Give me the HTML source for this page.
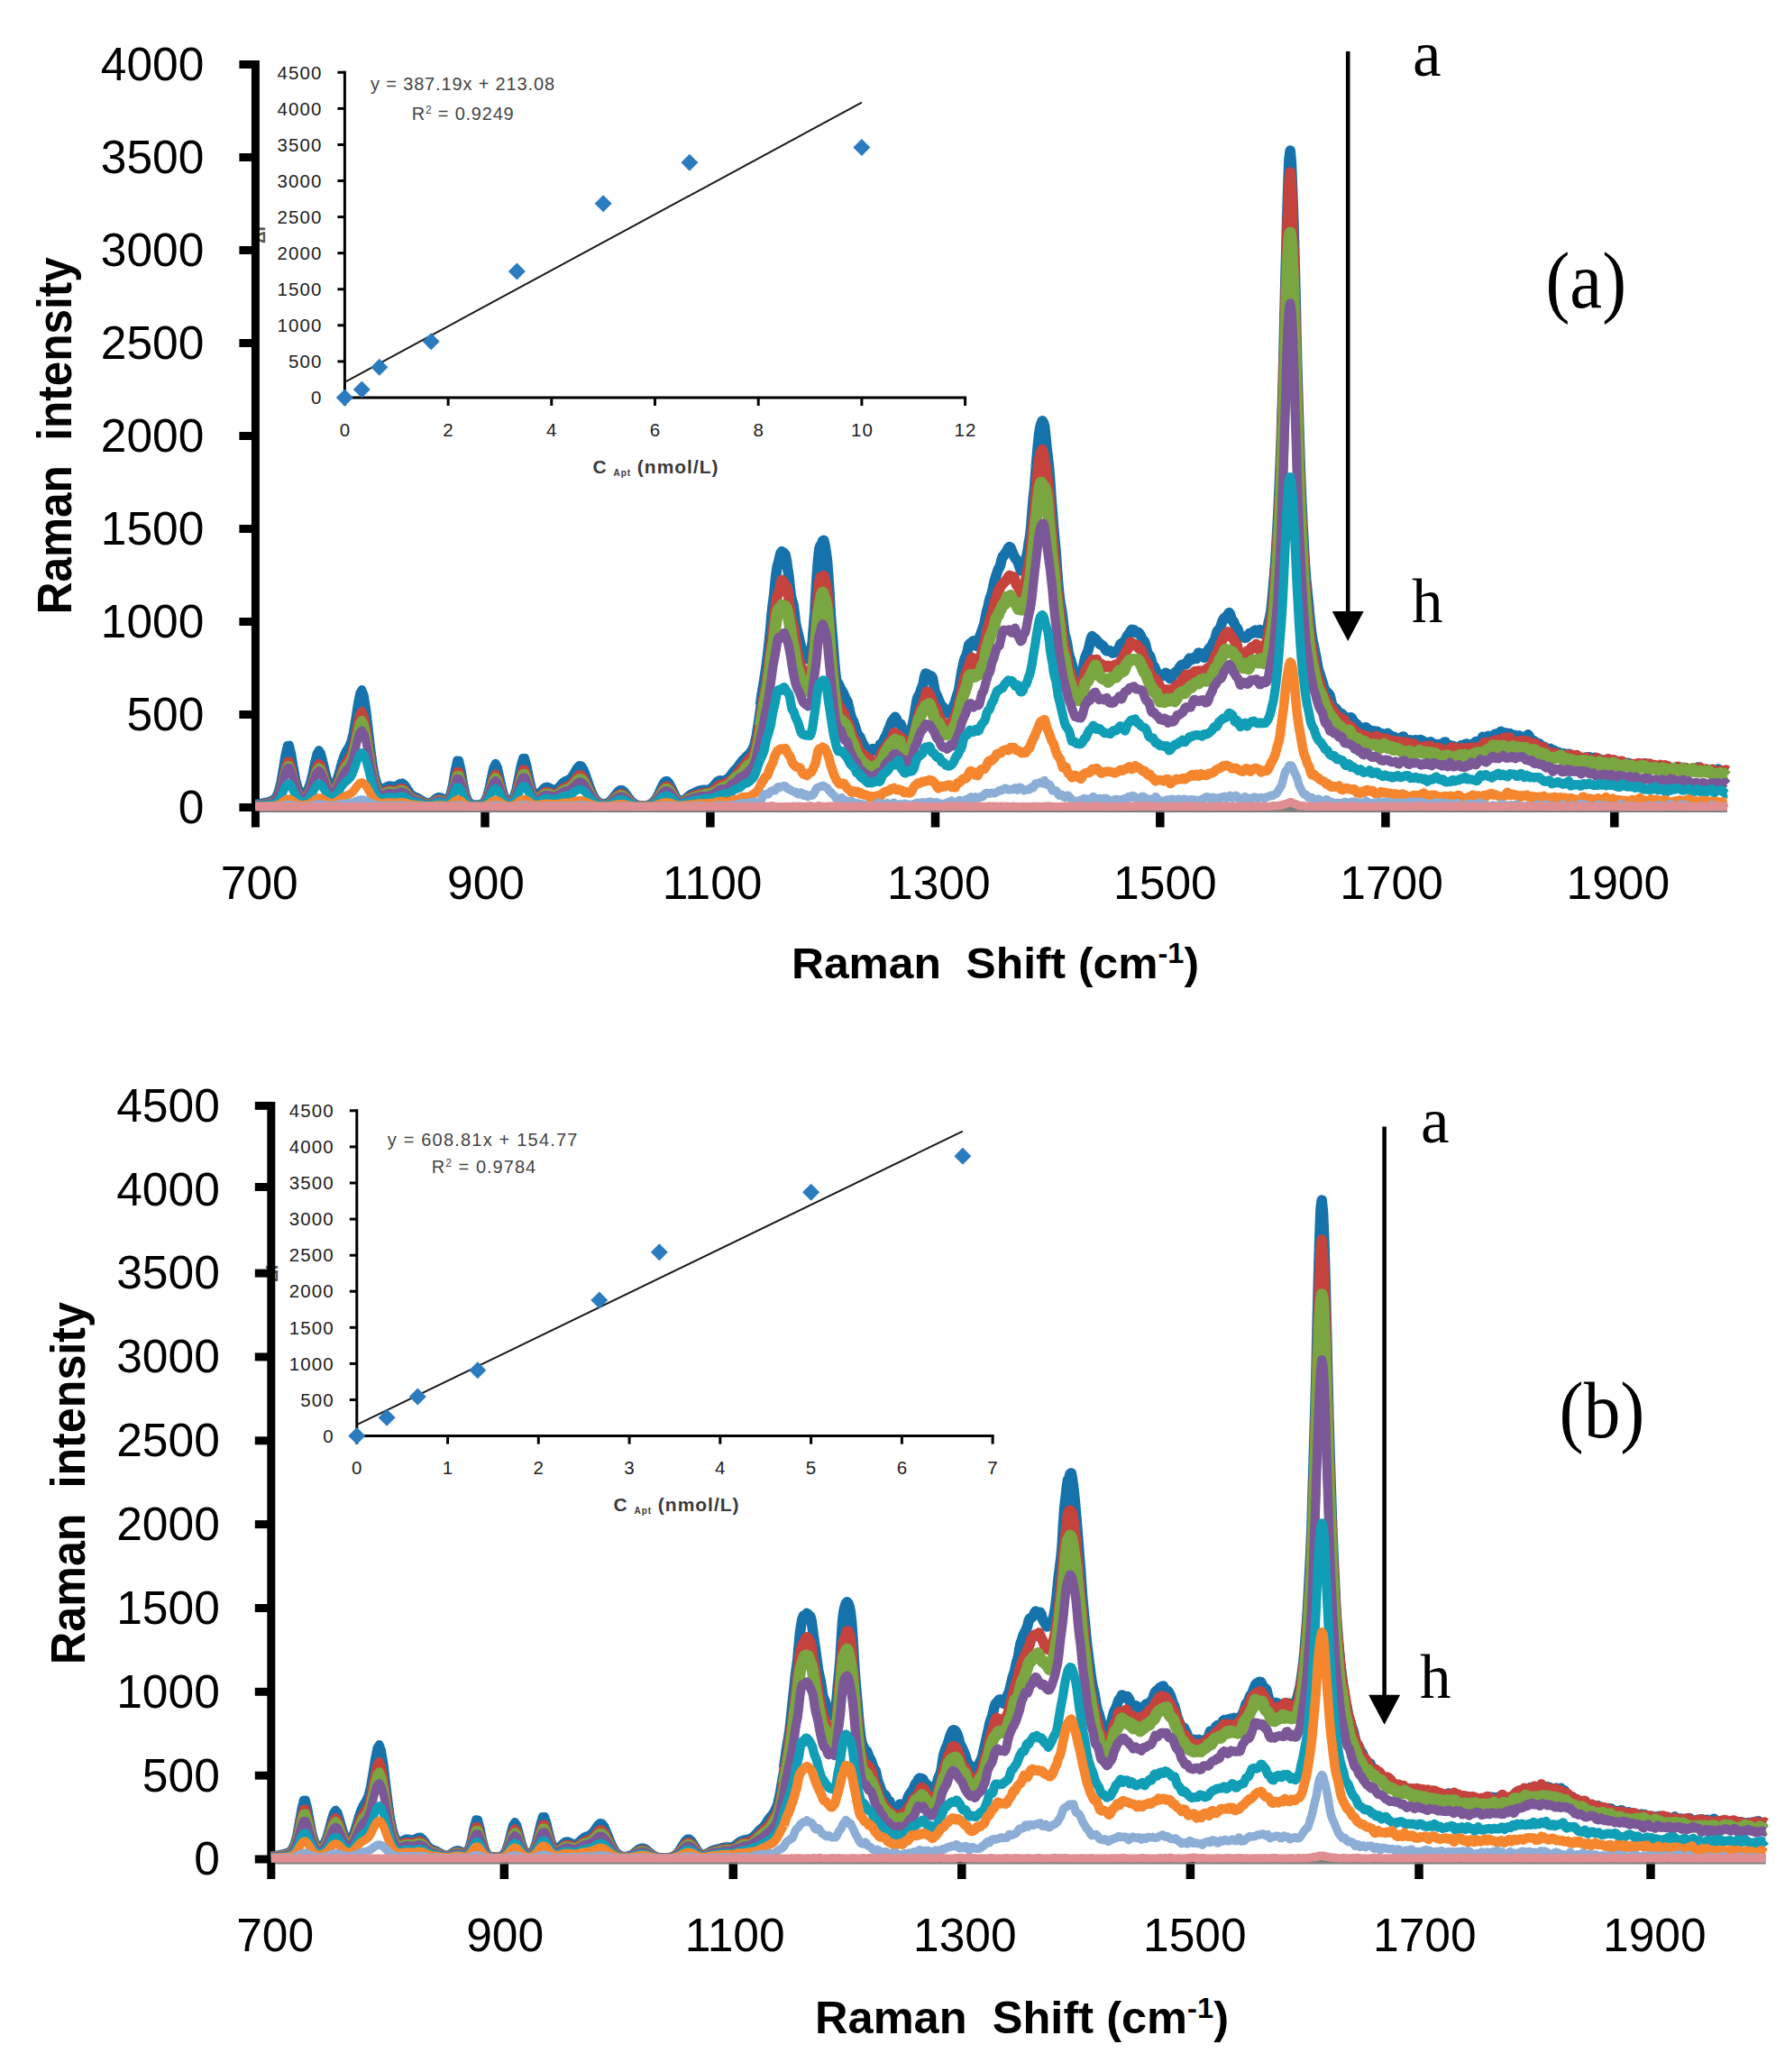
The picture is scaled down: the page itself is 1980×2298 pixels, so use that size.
<!DOCTYPE html><html><head><meta charset="utf-8"><title>Raman spectra</title><style>html,body{margin:0;padding:0;background:#fff}svg{display:block}.tk{font-family:"Liberation Sans",sans-serif;font-size:51.5px;fill:#000}.ax{font-family:"Liberation Sans",sans-serif;font-weight:bold;fill:#000}.it{font-family:"Liberation Sans",sans-serif;font-size:20.5px;fill:#222;letter-spacing:1.1px}.eq{font-family:"Liberation Sans",sans-serif;font-size:20px;fill:#444}.ix{font-family:"Liberation Sans",sans-serif;font-size:21px;font-weight:bold;fill:#3a3a3a}.ix2{font-family:"Liberation Sans",sans-serif}.sf{font-family:"Liberation Serif",serif;fill:#000}</style></head><body>
<svg width="1980" height="2298" viewBox="0 0 1980 2298">
<rect width="1980" height="2298" fill="#fff"/>
<g stroke="#000" stroke-width="3">
<line x1="382.4" y1="78.8" x2="382.4" y2="442.5"/>
<line x1="382.4" y1="441.0" x2="1072.1" y2="441.0"/>
<line x1="374.4" y1="441.0" x2="382.4" y2="441.0"/>
<line x1="374.4" y1="400.9" x2="382.4" y2="400.9"/>
<line x1="374.4" y1="360.8" x2="382.4" y2="360.8"/>
<line x1="374.4" y1="320.8" x2="382.4" y2="320.8"/>
<line x1="374.4" y1="280.7" x2="382.4" y2="280.7"/>
<line x1="374.4" y1="240.6" x2="382.4" y2="240.6"/>
<line x1="374.4" y1="200.5" x2="382.4" y2="200.5"/>
<line x1="374.4" y1="160.5" x2="382.4" y2="160.5"/>
<line x1="374.4" y1="120.4" x2="382.4" y2="120.4"/>
<line x1="374.4" y1="80.3" x2="382.4" y2="80.3"/>
<line x1="382.4" y1="441.0" x2="382.4" y2="450.0"/>
<line x1="497.1" y1="441.0" x2="497.1" y2="450.0"/>
<line x1="611.8" y1="441.0" x2="611.8" y2="450.0"/>
<line x1="726.5" y1="441.0" x2="726.5" y2="450.0"/>
<line x1="841.2" y1="441.0" x2="841.2" y2="450.0"/>
<line x1="955.9" y1="441.0" x2="955.9" y2="450.0"/>
<line x1="1070.6" y1="441.0" x2="1070.6" y2="450.0"/>
</g>
<text x="357.4" y="448.2" text-anchor="end" class="it">0</text>
<text x="357.4" y="408.1" text-anchor="end" class="it">500</text>
<text x="357.4" y="368.0" text-anchor="end" class="it">1000</text>
<text x="357.4" y="328.0" text-anchor="end" class="it">1500</text>
<text x="357.4" y="287.9" text-anchor="end" class="it">2000</text>
<text x="357.4" y="247.8" text-anchor="end" class="it">2500</text>
<text x="357.4" y="207.7" text-anchor="end" class="it">3000</text>
<text x="357.4" y="167.7" text-anchor="end" class="it">3500</text>
<text x="357.4" y="127.6" text-anchor="end" class="it">4000</text>
<text x="357.4" y="87.5" text-anchor="end" class="it">4500</text>
<text x="382.9" y="483.5" text-anchor="middle" class="it">0</text>
<text x="497.6" y="483.5" text-anchor="middle" class="it">2</text>
<text x="612.3" y="483.5" text-anchor="middle" class="it">4</text>
<text x="727.0" y="483.5" text-anchor="middle" class="it">6</text>
<text x="841.7" y="483.5" text-anchor="middle" class="it">8</text>
<text x="956.4" y="483.5" text-anchor="middle" class="it">10</text>
<text x="1071.1" y="483.5" text-anchor="middle" class="it">12</text>
<line x1="382.4" y1="423.9" x2="955.9" y2="113.6" stroke="#1a1a1a" stroke-width="2"/>
<path d="M382.4 431.5L391.9 441.0L382.4 450.5L372.9 441.0Z" fill="#2b7bbf"/>
<path d="M401.3 422.4L410.8 431.9L401.3 441.4L391.8 431.9Z" fill="#2b7bbf"/>
<path d="M420.8 397.8L430.3 407.3L420.8 416.8L411.3 407.3Z" fill="#2b7bbf"/>
<path d="M478.2 369.3L487.7 378.8L478.2 388.3L468.7 378.8Z" fill="#2b7bbf"/>
<path d="M573.4 291.4L582.9 300.9L573.4 310.4L563.9 300.9Z" fill="#2b7bbf"/>
<path d="M669.1 216.2L678.6 225.7L669.1 235.2L659.6 225.7Z" fill="#2b7bbf"/>
<path d="M764.9 170.8L774.4 180.3L764.9 189.8L755.4 180.3Z" fill="#2b7bbf"/>
<path d="M955.9 154.0L965.4 163.5L955.9 173.0L946.4 163.5Z" fill="#2b7bbf"/>
<text x="411.0" y="99.8" class="eq" textLength="204.0" lengthAdjust="spacing">y = 387.19x + 213.08</text>
<text x="456.8" y="133.0" class="eq" textLength="112.9" lengthAdjust="spacing">R<tspan dy="-7" font-size="12">2</tspan><tspan dy="7"> = 0.9249</tspan></text>
<text x="657.5" y="524.5" class="ix" textLength="139" lengthAdjust="spacing">C <tspan font-size="10" dy="3">Apt</tspan><tspan dy="-3"> (nmol/L)</tspan></text>
<text transform="translate(294.4 260.6) rotate(-90)" text-anchor="middle" font-size="19" font-weight="bold" fill="#555" class="ix2">ΔI</text>
<line x1="283.4" y1="896.0" x2="1915.9" y2="896.0" stroke="#7f7f7f" stroke-width="9"/>
<line x1="283.4" y1="67.0" x2="283.4" y2="917.5" stroke="#000" stroke-width="9"/>
<line x1="265.4" y1="895.5" x2="283.4" y2="895.5" stroke="#000" stroke-width="9"/>
<text x="226.4" y="912.8" text-anchor="end" class="tk">0</text>
<line x1="265.4" y1="792.5" x2="283.4" y2="792.5" stroke="#000" stroke-width="9"/>
<text x="226.4" y="809.8" text-anchor="end" class="tk">500</text>
<line x1="265.4" y1="689.5" x2="283.4" y2="689.5" stroke="#000" stroke-width="9"/>
<text x="226.4" y="706.8" text-anchor="end" class="tk">1000</text>
<line x1="265.4" y1="586.5" x2="283.4" y2="586.5" stroke="#000" stroke-width="9"/>
<text x="226.4" y="603.8" text-anchor="end" class="tk">1500</text>
<line x1="265.4" y1="483.5" x2="283.4" y2="483.5" stroke="#000" stroke-width="9"/>
<text x="226.4" y="500.8" text-anchor="end" class="tk">2000</text>
<line x1="265.4" y1="380.5" x2="283.4" y2="380.5" stroke="#000" stroke-width="9"/>
<text x="226.4" y="397.8" text-anchor="end" class="tk">2500</text>
<line x1="265.4" y1="277.5" x2="283.4" y2="277.5" stroke="#000" stroke-width="9"/>
<text x="226.4" y="294.8" text-anchor="end" class="tk">3000</text>
<line x1="265.4" y1="174.5" x2="283.4" y2="174.5" stroke="#000" stroke-width="9"/>
<text x="226.4" y="191.8" text-anchor="end" class="tk">3500</text>
<line x1="265.4" y1="71.5" x2="283.4" y2="71.5" stroke="#000" stroke-width="9"/>
<text x="226.4" y="88.8" text-anchor="end" class="tk">4000</text>
<text x="287.8" y="997.0" text-anchor="middle" class="tk">700</text>
<line x1="538.0" y1="895.5" x2="538.0" y2="917.5" stroke="#000" stroke-width="9.5"/>
<text x="539.0" y="997.0" text-anchor="middle" class="tk">900</text>
<line x1="787.9" y1="895.5" x2="787.9" y2="917.5" stroke="#000" stroke-width="9.5"/>
<text x="790.1" y="997.0" text-anchor="middle" class="tk">1100</text>
<line x1="1037.5" y1="895.5" x2="1037.5" y2="917.5" stroke="#000" stroke-width="9.5"/>
<text x="1041.3" y="997.0" text-anchor="middle" class="tk">1300</text>
<line x1="1286.8" y1="895.5" x2="1286.8" y2="917.5" stroke="#000" stroke-width="9.5"/>
<text x="1292.4" y="997.0" text-anchor="middle" class="tk">1500</text>
<line x1="1536.9" y1="895.5" x2="1536.9" y2="917.5" stroke="#000" stroke-width="9.5"/>
<text x="1543.6" y="997.0" text-anchor="middle" class="tk">1700</text>
<line x1="1790.8" y1="895.5" x2="1790.8" y2="917.5" stroke="#000" stroke-width="9.5"/>
<text x="1794.8" y="997.0" text-anchor="middle" class="tk">1900</text>
<g fill="none" stroke-linejoin="round" stroke-linecap="butt"><polyline points="283.4,891.2 285.9,890.9 288.4,890.6 290.9,890.2 293.4,889.7 296.0,889.2 298.5,888.5 301.0,887.6 303.5,886.1 306.0,883.3 308.5,877.7 311.0,867.6 313.5,853.1 316.1,837.4 318.6,826.7 321.1,826.3 323.6,836.2 326.1,851.2 328.6,864.9 331.1,874.0 333.6,878.6 336.1,879.9 338.7,878.8 341.2,875.2 343.7,868.3 346.2,858.0 348.7,846.0 351.2,835.9 353.7,831.8 356.2,835.3 358.7,844.7 361.3,855.9 363.8,865.3 366.3,870.7 368.8,871.8 371.3,869.0 373.8,862.8 376.3,854.2 378.8,845.1 381.4,837.5 383.9,832.4 386.4,828.6 388.9,823.0 391.4,812.9 393.9,798.1 396.4,781.7 398.9,768.9 401.4,764.6 404.0,771.0 406.5,786.8 409.0,808.0 411.5,829.7 414.0,848.1 416.5,861.6 419.0,869.9 421.5,873.8 424.0,874.6 426.6,873.4 429.1,871.8 431.6,870.9 434.1,871.1 436.6,871.6 439.1,871.3 441.6,869.9 444.1,868.4 446.7,868.2 449.2,870.2 451.7,873.9 454.2,877.8 456.7,880.9 459.2,882.6 461.7,883.6 464.2,884.7 466.7,886.2 469.3,887.9 471.8,889.3 474.3,889.9 476.8,889.6 479.3,888.3 481.8,886.3 484.3,884.4 486.8,883.5 489.4,884.1 491.9,885.6 494.4,886.7 496.9,885.6 499.4,880.1 501.9,868.9 504.4,854.2 506.9,843.2 509.4,843.4 512.0,854.6 514.5,869.6 517.0,881.4 519.5,887.8 522.0,890.6 524.5,891.6 527.0,892.0 529.5,892.0 532.0,891.8 534.6,890.9 537.1,888.6 539.6,883.5 542.1,874.5 544.6,862.3 547.1,851.1 549.6,846.4 552.1,850.9 554.7,861.9 557.2,873.8 559.7,882.5 562.2,887.1 564.7,888.4 567.2,887.3 569.7,883.2 572.2,875.0 574.7,862.8 577.3,849.5 579.8,840.6 582.3,840.5 584.8,849.1 587.3,861.8 589.8,873.1 592.3,879.8 594.8,881.7 597.3,880.4 599.9,877.5 602.4,874.5 604.9,872.6 607.4,872.2 609.9,873.3 612.4,874.8 614.9,875.5 617.4,874.6 620.0,872.2 622.5,869.2 625.0,866.8 627.5,865.5 630.0,864.6 632.5,862.9 635.0,859.7 637.5,855.3 640.0,851.1 642.6,848.6 645.1,849.1 647.6,852.8 650.1,858.9 652.6,866.3 655.1,873.6 657.6,879.8 660.1,884.5 662.7,887.7 665.2,889.7 667.7,890.6 670.2,890.8 672.7,890.3 675.2,889.0 677.7,886.8 680.2,883.7 682.7,880.3 685.3,877.4 687.8,875.6 690.3,875.7 692.8,877.6 695.3,880.7 697.8,884.2 700.3,887.4 702.8,889.9 705.3,891.4 707.9,892.3 710.4,892.7 712.9,892.9 715.4,892.8 717.9,892.4 720.4,891.6 722.9,890.1 725.4,887.6 728.0,883.8 730.5,878.8 733.0,873.3 735.5,868.5 738.0,865.7 740.5,865.7 743.0,868.6 745.5,873.4 748.0,878.9 750.6,883.9 753.1,887.1 755.6,887.9" stroke="#1572ab" stroke-width="9.4"/>
<polyline points="755.6,887.9 758.1,887.0 760.6,885.1 763.1,882.9 765.6,881.0 768.1,879.7 770.7,878.5 773.2,877.3 775.7,876.3 778.2,875.7 780.7,875.5 783.2,875.4 785.7,875.5 788.2,874.3 790.7,871.9 793.3,869.0 795.8,866.1 798.3,864.9 800.8,865.4 803.3,865.1 805.8,863.8 808.3,862.0 810.8,858.8 813.3,855.1 815.9,852.7 818.4,849.8 820.9,846.0 823.4,842.9 825.9,840.5 828.4,837.7 830.9,835.6 833.4,832.3 836.0,826.6 838.5,815.5 841.0,799.5 843.5,781.8" stroke="#1572ab" stroke-width="9.9"/>
<polyline points="843.5,781.8 844.7,772.5 846.0,764.4 847.3,757.0 848.5,749.2 849.8,740.6 851.0,730.9 852.3,720.2 853.5,708.9 854.8,695.8 856.0,681.3 857.3,669.6 858.6,660.0 859.8,647.4 861.1,635.3 862.3,627.8 863.6,623.5 864.8,618.4 866.1,613.2 867.3,611.8 868.6,612.6 869.9,613.6 871.1,615.2 872.4,621.4 873.6,630.2 874.9,638.5 876.1,650.0 877.4,661.1 878.6,665.8 879.9,670.1 881.2,679.5 882.4,690.2 883.7,696.8 884.9,701.2 886.2,707.3 887.4,713.0 888.7,717.1 890.0,720.3 891.2,722.7 892.5,725.5 893.7,729.0 895.0,730.6 896.2,729.9 897.5,728.5 898.7,727.4 900.0,723.0 901.3,710.5 902.5,694.8 903.8,678.9 905.0,657.6 906.3,636.5 907.5,620.5 908.8,608.8 910.0,605.1 911.3,603.9 912.6,599.8 913.8,599.3 915.1,605.0 916.3,612.3 917.6,622.7 918.8,638.5 920.1,658.1 921.3,679.9 922.6,697.2 923.9,711.6 925.1,728.2 926.4,743.9 927.6,753.9 928.9,756.9 930.1,758.5 931.4,761.3 932.6,763.8 933.9,766.1 935.2,768.4 936.4,771.1 937.7,774.1 938.9,776.2 940.2,778.6 941.4,783.5 942.7,789.4 944.0,794.8 945.2,797.9 946.5,799.7 947.7,803.3 949.0,807.7 950.2,811.5 951.5,814.6 952.7,815.9 954.0,817.6 955.3,820.9 956.5,823.8 957.8,825.7 959.0,828.3 960.3,831.0 961.5,832.2 962.8,832.2 964.0,832.2 965.3,832.6 966.6,831.4 967.8,830.5 969.1,831.9 970.3,832.5 971.6,831.5 972.8,831.4 974.1,831.3 975.3,828.4 976.6,825.3 977.9,824.7 979.1,823.7 980.4,821.0 981.6,817.9 982.9,816.2 984.1,813.2 985.4,809.4 986.6,807.1 987.9,803.3 989.2,800.0 990.4,799.0 991.7,796.9 992.9,795.2 994.2,796.9 995.4,799.9 996.7,802.1 998.0,802.6 999.2,803.3 1000.5,807.3 1001.7,812.4 1003.0,815.1 1004.2,814.9 1005.5,813.9 1006.7,813.3 1008.0,812.4 1009.3,811.6 1010.5,810.1 1011.8,806.0 1013.0,800.4 1014.3,793.9 1015.5,785.9 1016.8,778.0 1018.0,773.3 1019.3,771.3 1020.6,768.6 1021.8,764.4 1023.1,761.7 1024.3,757.1 1025.6,750.3 1026.8,746.9 1028.1,747.5 1029.3,748.7 1030.6,748.9 1031.9,749.6 1033.1,749.9 1034.4,752.0 1035.6,758.4 1036.9,765.5 1038.1,769.7 1039.4,771.6 1040.6,774.5 1041.9,778.0 1043.2,780.8 1044.4,783.2 1045.7,783.9 1046.9,784.9 1048.2,787.8 1049.4,790.4 1050.7,791.0 1051.9,790.9 1053.2,790.6 1054.5,789.8 1055.7,789.1 1057.0,786.2 1058.2,781.5 1059.5,778.4 1060.7,774.5 1062.0,770.0 1063.3,766.5 1064.5,759.9 1065.8,751.0 1067.0,743.9 1068.3,737.9 1069.5,732.1 1070.8,728.9 1072.0,726.7 1073.3,721.7 1074.6,715.5 1075.8,713.9 1077.1,714.4 1078.3,712.0 1079.6,710.7 1080.8,712.0 1082.1,714.5 1083.3,716.5 1084.6,714.1 1085.9,708.9 1087.1,705.3 1088.4,701.9 1089.6,698.3 1090.9,694.8 1092.1,690.6 1093.4,683.7 1094.6,677.5 1095.9,673.6 1097.2,667.3 1098.4,662.6 1099.7,659.9 1100.9,654.8 1102.2,648.7 1103.4,643.4 1104.7,639.4 1105.9,635.6 1107.2,631.7 1108.5,629.5 1109.7,626.6 1111.0,620.7 1112.2,617.1 1113.5,616.5 1114.7,614.1 1116.0,612.2 1117.3,610.2 1118.5,607.6 1119.8,606.6 1121.0,607.4 1122.3,610.6 1123.5,613.4 1124.8,616.5 1126.0,619.0 1127.3,620.1 1128.6,622.4 1129.8,625.3 1131.1,629.3 1132.3,632.7 1133.6,632.4 1134.8,629.2 1136.1,625.8 1137.3,622.6 1138.6,618.1 1139.9,611.3 1141.1,602.8 1142.4,595.6 1143.6,585.4 1144.9,568.4 1146.1,553.4 1147.4,542.1 1148.6,526.8 1149.9,509.7 1151.2,495.1 1152.4,482.3 1153.7,474.3 1154.9,469.9 1156.2,466.8 1157.4,468.6 1158.7,473.0 1159.9,484.0 1161.2,498.0 1162.5,508.5 1163.7,519.2 1165.0,536.1 1166.2,553.8 1167.5,569.3 1168.7,585.2 1170.0,599.0 1171.3,613.1 1172.5,631.3 1173.8,647.9 1175.0,660.2 1176.3,669.6 1177.5,676.1 1178.8,684.9 1180.0,696.3 1181.3,704.9 1182.6,708.8 1183.8,714.7 1185.1,723.1 1186.3,728.1 1187.6,731.7 1188.8,736.1 1190.1,741.0 1191.3,745.4 1192.6,748.3 1193.9,748.3 1195.1,746.3 1196.4,747.2 1197.6,750.0 1198.9,750.8 1200.1,747.9 1201.4,741.3 1202.6,734.2 1203.9,728.8 1205.2,725.6 1206.4,723.1 1207.7,718.9 1208.9,713.7 1210.2,708.3 1211.4,705.5 1212.7,707.0 1213.9,708.3 1215.2,708.5 1216.5,710.0 1217.7,711.6 1219.0,713.1 1220.2,714.6 1221.5,714.9 1222.7,715.7 1224.0,716.9 1225.2,718.7 1226.5,720.9 1227.8,721.9 1229.0,722.1 1230.3,722.1 1231.5,721.8 1232.8,722.9 1234.0,724.2 1235.3,723.9 1236.6,723.7 1237.8,722.5 1239.1,721.6 1240.3,721.0 1241.6,717.5 1242.8,714.4 1244.1,713.6 1245.3,712.8 1246.6,711.9 1247.9,710.4 1249.1,708.0 1250.4,705.4 1251.6,703.7 1252.9,702.4 1254.1,699.9 1255.4,698.2 1256.6,698.6 1257.9,698.7 1259.2,699.7 1260.4,701.6 1261.7,701.3 1262.9,701.4 1264.2,702.9 1265.4,705.2 1266.7,708.1 1267.9,709.7 1269.2,711.0 1270.5,714.2 1271.7,719.7 1273.0,724.7 1274.2,726.2 1275.5,727.4 1276.7,730.8 1278.0,735.7 1279.2,739.0 1280.5,739.4 1281.8,742.8 1283.0,746.6 1284.3,747.1 1285.5,749.0 1286.8,750.8 1288.0,749.4 1289.3,748.2 1290.6,749.1 1291.8,748.6 1293.1,746.3 1294.3,746.9 1295.6,749.5 1296.8,751.7 1298.1,752.8 1299.3,751.6 1300.6,749.1 1301.9,747.6 1303.1,746.2 1304.4,745.1 1305.6,745.2 1306.9,743.5 1308.1,740.8 1309.4,738.9 1310.6,737.5 1311.9,737.3 1313.2,736.9 1314.4,736.0 1315.7,736.6 1316.9,735.6 1318.2,732.1 1319.4,730.1 1320.7,730.6 1321.9,731.6 1323.2,730.5 1324.5,729.3 1325.7,730.2 1327.0,730.5 1328.2,727.3 1329.5,724.0 1330.7,724.4 1332.0,725.8 1333.2,725.2 1334.5,726.4 1335.8,729.3 1337.0,727.6 1338.3,724.5 1339.5,722.4 1340.8,719.8 1342.0,718.4 1343.3,717.6 1344.6,715.0 1345.8,712.3 1347.1,710.6 1348.3,707.3 1349.6,702.2 1350.8,699.1 1352.1,698.8 1353.3,697.3 1354.6,693.0 1355.9,689.3 1357.1,686.7 1358.4,685.0 1359.6,685.0 1360.9,684.1 1362.1,681.6 1363.4,679.5 1364.6,681.2 1365.9,686.3 1367.2,688.6 1368.4,689.4 1369.7,692.9 1370.9,695.8 1372.2,696.4 1373.4,699.0 1374.7,703.6 1375.9,706.3 1377.2,706.6 1378.5,706.1 1379.7,706.0 1381.0,707.4 1382.2,707.3 1383.5,705.6 1384.7,704.4 1386.0,702.5 1387.2,702.1 1388.5,702.7 1389.8,701.6 1391.0,699.7 1392.3,699.1 1393.5,701.2 1394.8,702.1 1396.0,700.0 1397.3,698.4 1398.6,699.8 1399.8,702.8 1401.1,702.9 1402.3,701.6 1403.6,702.5 1404.8,701.8 1406.1,696.4 1407.3,689.8 1408.6,684.4 1409.9,677.5 1411.1,665.7 1412.4,651.0 1413.6,637.0 1414.9,620.5 1416.1,599.7 1417.4,577.1 1418.6,551.5 1419.9,521.7 1421.2,487.9 1422.4,448.7 1423.7,401.5 1424.9,348.3 1426.2,297.6 1427.4,251.0 1428.7,208.2 1429.9,176.8 1431.2,167.1 1432.5,182.7 1433.7,212.8 1435.0,248.3 1436.2,291.8 1437.5,346.4 1438.7,400.8 1440.0,444.8 1441.2,484.9 1442.5,524.8 1443.8,557.0 1445.0,581.6 1446.3,604.6 1447.5,626.0 1448.8,643.0 1450.0,655.1 1451.3,667.5 1452.5,681.0 1453.8,693.9 1455.1,704.9 1456.3,711.4 1457.6,717.5 1458.8,723.6 1460.1,729.5 1461.3,737.3 1462.6,743.5 1463.9,746.9 1465.1,750.9 1466.4,755.2 1467.6,758.7 1468.9,763.3 1470.1,766.6 1471.4,766.8 1472.6,768.0 1473.9,769.5 1475.2,771.4 1476.4,776.8 1477.7,781.8 1478.9,783.8 1480.2,784.9 1481.4,785.4 1482.7,787.0 1483.9,789.2 1485.2,790.0 1486.5,791.0 1487.7,791.3 1489.0,792.0 1490.2,793.5 1491.5,794.8 1492.7,796.3 1494.0,798.4 1495.2,799.8 1496.5,798.2 1497.8,795.8 1499.0,795.8 1500.3,797.8 1501.5,800.7 1502.8,802.3 1504.0,802.3 1505.3,803.6 1506.5,805.4 1507.8,806.2 1509.1,806.8 1510.3,807.6 1511.6,808.7 1512.8,809.8 1514.1,808.5 1515.3,806.7 1516.6,808.5 1517.9,810.1 1519.1,809.6 1520.4,810.4 1521.6,812.3 1522.9,811.9 1524.1,810.8 1525.4,811.3 1526.6,811.3 1527.9,811.3 1529.2,812.9 1530.4,814.0 1531.7,813.4 1532.9,813.7 1534.2,816.1 1535.4,816.8 1536.7,815.4 1537.9,814.2 1539.2,813.4 1540.5,814.5 1541.7,816.4 1543.0,816.3 1544.2,816.7 1545.5,817.3 1546.7,817.2 1548.0,819.2 1549.2,820.6 1550.5,820.2 1551.8,820.3 1553.0,819.6 1554.3,818.2 1555.5,817.2 1556.8,817.0 1558.0,819.4 1559.3,821.8 1560.5,822.0 1561.8,822.1 1563.1,821.8 1564.3,820.9 1565.6,822.2 1566.8,823.1 1568.1,821.4 1569.3,820.7 1570.6,821.0 1571.9,820.9 1573.1,821.0 1574.4,820.9 1575.6,820.5 1576.9,820.9 1578.1,821.6 1579.4,822.9 1580.6,824.5 1581.9,824.3 1583.2,823.6 1584.4,824.2 1585.7,824.2 1586.9,822.7 1588.2,823.7 1589.4,826.5 1590.7,827.2 1591.9,825.9 1593.2,825.4 1594.5,825.7 1595.7,825.7 1597.0,825.6 1598.2,825.5 1599.5,826.1 1600.7,825.6 1602.0,823.2 1603.2,823.0 1604.5,826.0 1605.8,827.8 1607.0,827.0 1608.3,826.6 1609.5,827.6 1610.8,827.7 1612.0,827.4 1613.3,828.3 1614.5,828.5 1615.8,828.9 1617.1,830.1 1618.3,829.7 1619.6,827.8 1620.8,826.7 1622.1,827.6 1623.3,828.7 1624.6,827.3 1625.9,825.2 1627.1,825.0 1628.4,826.2 1629.6,826.4 1630.9,825.7 1632.1,826.4 1633.4,827.4 1634.6,825.8 1635.9,823.4 1637.2,822.5 1638.4,822.5 1639.7,822.5 1640.9,822.0 1642.2,822.1 1643.4,820.2 1644.7,817.2 1645.9,817.7 1647.2,819.3 1648.5,818.8 1649.7,817.0 1651.0,816.3 1652.2,818.1 1653.5,819.5 1654.7,818.0 1656.0,816.5 1657.2,815.2 1658.5,814.0 1659.8,814.0 1661.0,814.8 1662.3,815.4 1663.5,813.3 1664.8,811.3 1666.0,812.3 1667.3,813.6 1668.5,813.0 1669.8,812.7 1671.1,814.4 1672.3,814.8 1673.6,813.5 1674.8,813.6 1676.1,814.6 1677.3,814.9 1678.6,815.1 1679.8,815.4 1681.1,816.3 1682.4,817.2 1683.6,816.2 1684.9,815.9 1686.1,817.4 1687.4,817.4 1688.6,817.2 1689.9,818.3 1691.2,818.9 1692.4,818.8 1693.7,816.7 1694.9,814.8 1696.2,816.4 1697.4,819.2 1698.7,820.5 1699.9,821.3 1701.2,821.6 1702.5,822.4 1703.7,824.2 1705.0,824.5 1706.2,824.3 1707.5,824.7 1708.7,826.5 1710.0,828.3 1711.2,828.1 1712.5,828.0 1713.8,828.8 1715.0,829.8 1716.3,832.0 1717.5,833.1 1718.8,831.2 1720.0,830.4 1721.3,831.6 1722.5,831.9 1723.8,832.1 1725.1,833.8 1726.3,835.0 1727.6,834.2 1728.8,834.2 1730.1,835.2 1731.3,835.2 1732.6,836.4 1733.8,837.0 1735.1,835.7 1736.4,836.9 1737.6,838.8 1738.9,838.1 1740.1,836.3 1741.4,836.5 1742.6,838.0 1743.9,838.1 1745.2,838.3 1746.4,839.4 1747.7,839.5 1748.9,839.9 1750.2,840.9 1751.4,841.1 1752.7,840.7 1753.9,841.0 1755.2,841.8 1756.5,841.3 1757.7,840.3 1759.0,840.3 1760.2,840.1 1761.5,839.9 1762.7,839.7 1764.0,840.0 1765.2,841.8 1766.5,842.5 1767.8,841.8 1769.0,840.3 1770.3,841.5 1771.5,845.2 1772.8,845.4 1774.0,843.2 1775.3,842.3 1776.5,842.9 1777.8,843.7 1779.1,843.6 1780.3,843.6 1781.6,843.9 1782.8,845.0 1784.1,846.6 1785.3,846.3 1786.6,845.6 1787.8,845.1 1789.1,845.8 1790.4,846.6 1791.6,846.5 1792.9,847.3 1794.1,848.5 1795.4,848.5 1796.6,847.1 1797.9,845.6 1799.2,845.5 1800.4,846.0 1801.7,846.0 1802.9,846.7 1804.2,847.1 1805.4,846.3 1806.7,846.4 1807.9,847.7 1809.2,848.4 1810.5,848.3 1811.7,848.6 1813.0,848.7 1814.2,848.0 1815.5,848.2 1816.7,848.9 1818.0,849.3 1819.2,848.8 1820.5,848.7 1821.8,848.4 1823.0,847.2 1824.3,847.0 1825.5,847.0 1826.8,848.1 1828.0,850.2 1829.3,850.5 1830.5,849.8 1831.8,849.9 1833.1,850.4 1834.3,851.7 1835.6,852.7 1836.8,853.0 1838.1,853.1 1839.3,852.1 1840.6,852.0 1841.8,852.4 1843.1,851.7 1844.4,851.9 1845.6,853.7 1846.9,854.7 1848.1,854.8 1849.4,855.0 1850.6,853.1 1851.9,851.3 1853.2,852.0 1854.4,852.8 1855.7,853.2 1856.9,852.9 1858.2,852.7 1859.4,852.5 1860.7,851.2 1861.9,850.5 1863.2,851.6 1864.5,853.2 1865.7,853.7 1867.0,853.2 1868.2,852.7 1869.5,852.6 1870.7,852.1 1872.0,852.7 1873.2,854.9 1874.5,854.6 1875.8,853.2 1877.0,854.2 1878.3,855.1 1879.5,855.5 1880.8,855.7 1882.0,853.5 1883.3,851.1 1884.5,852.5 1885.8,855.5 1887.1,856.3 1888.3,855.0 1889.6,854.3 1890.8,855.5 1892.1,855.6 1893.3,853.9 1894.6,853.9 1895.8,855.7 1897.1,857.4 1898.4,857.9 1899.6,858.1 1900.9,857.7 1902.1,856.2 1903.4,855.6 1904.6,854.5 1905.9,852.9 1907.1,854.2 1908.4,856.0 1909.7,855.0 1910.9,854.7 1912.2,856.7 1913.4,857.6 1914.7,857.6 1915.9,858.0" stroke="#1572ab" stroke-width="11.5"/>
<polyline points="283.4,892.1 285.9,891.9 288.4,891.6 290.9,891.3 293.4,891.0 296.0,890.6 298.5,890.1 301.0,889.4 303.5,888.3 306.0,886.3 308.5,882.1 311.0,874.7 313.5,863.9 316.1,852.2 318.6,844.4 321.1,844.1 323.6,851.4 326.1,862.4 328.6,872.5 331.1,879.3 333.6,882.7 336.1,883.6 338.7,882.7 341.2,880.0 343.7,874.7 346.2,866.9 348.7,857.6 351.2,849.7 353.7,846.4 356.2,848.8 358.7,855.9 361.3,864.5 363.8,871.7 366.3,875.8 368.8,876.6 371.3,874.3 373.8,869.3 376.3,862.4 378.8,854.9 381.4,848.7 383.9,844.5 386.4,841.2 388.9,836.6 391.4,828.3 393.9,816.1 396.4,802.7 398.9,792.2 401.4,788.7 404.0,793.9 406.5,806.8 409.0,824.1 411.5,841.8 414.0,856.8 416.5,867.8 419.0,874.5 421.5,877.8 424.0,878.4 426.6,877.5 429.1,876.2 431.6,875.5 434.1,875.7 436.6,876.1 439.1,875.9 441.6,874.9 444.1,873.8 446.7,873.7 449.2,875.3 451.7,878.2 454.2,881.4 456.7,883.8 459.2,885.2 461.7,886.0 464.2,886.9 466.7,888.1 469.3,889.4 471.8,890.5 474.3,891.0 476.8,890.7 479.3,889.8 481.8,888.3 484.3,886.8 486.8,886.1 489.4,886.6 491.9,887.7 494.4,888.6 496.9,887.8 499.4,883.6 501.9,875.1 504.4,863.9 506.9,855.6 509.4,855.7 512.0,864.2 514.5,875.6 517.0,884.6 519.5,889.5 522.0,891.5 524.5,892.3 527.0,892.6 529.5,892.6 532.0,892.4 534.6,891.8 537.1,890.0 539.6,886.2 542.1,879.3 544.6,870.0 547.1,861.5 549.6,857.9 552.1,861.3 554.7,869.7 557.2,878.7 559.7,885.4 562.2,888.9 564.7,889.9 567.2,889.0 569.7,885.9 572.2,879.6 574.7,870.3 577.3,860.1 579.8,853.2 582.3,853.1 584.8,859.7 587.3,869.5 589.8,878.1 592.3,883.2 594.8,884.7 597.3,883.7 599.9,881.4 602.4,879.1 604.9,877.6 607.4,877.4 609.9,878.2 612.4,879.3 614.9,879.9 617.4,879.2 620.0,877.3 622.5,875.0 625.0,873.1 627.5,872.1 630.0,871.4 632.5,870.1 635.0,867.6 637.5,864.1 640.0,860.8 642.6,858.9 645.1,859.2 647.6,862.1 650.1,866.8 652.6,872.6 655.1,878.2 657.6,883.1 660.1,886.8 662.7,889.2 665.2,890.7 667.7,891.5 670.2,891.7 672.7,891.3 675.2,890.2 677.7,888.5 680.2,886.1 682.7,883.4 685.3,881.1 687.8,879.7 690.3,879.7 692.8,881.2 695.3,883.6 697.8,886.4 700.3,888.9 702.8,890.9 705.3,892.1 707.9,892.8 710.4,893.1 712.9,893.2 715.4,893.1 717.9,892.9 720.4,892.2 722.9,891.1 725.4,889.0 728.0,886.0 730.5,882.0 733.0,877.6 735.5,873.7 738.0,871.4 740.5,871.4 743.0,873.7 745.5,877.6 748.0,882.0 750.6,886.0 753.1,888.6 755.6,889.2" stroke="#c5423d" stroke-width="9.4"/>
<polyline points="755.6,889.2 758.1,888.5 760.6,886.9 763.1,885.2 765.6,883.5 768.1,882.4 770.7,881.4 773.2,880.5 775.7,879.8 778.2,879.3 780.7,878.9 783.2,878.6 785.7,878.4 788.2,877.8 790.7,876.4 793.3,874.2 795.8,871.8 798.3,870.0 800.8,869.2 803.3,868.7 805.8,867.8 808.3,866.1 810.8,864.4 813.3,862.4 815.9,859.6 818.4,856.0 820.9,852.6 823.4,850.3 825.9,847.5 828.4,844.1 830.9,841.0 833.4,838.1 836.0,834.7 838.5,824.8 841.0,810.4 843.5,796.3" stroke="#c5423d" stroke-width="9.9"/>
<polyline points="843.5,796.3 844.7,789.2 846.0,780.5 847.3,772.6 848.5,766.8 849.8,759.4 851.0,750.8 852.3,741.0 853.5,730.2 854.8,719.5 856.0,709.7 857.3,700.2 858.6,688.7 859.8,677.2 861.1,666.6 862.3,660.1 863.6,658.4 864.8,653.7 866.1,646.7 867.3,643.2 868.6,644.2 869.9,648.3 871.1,651.3 872.4,650.6 873.6,653.7 874.9,663.6 876.1,675.1 877.4,684.6 878.6,689.0 879.9,693.5 881.2,701.7 882.4,710.0 883.7,718.6 884.9,726.0 886.2,731.0 887.4,736.5 888.7,740.0 890.0,741.6 891.2,743.8 892.5,746.5 893.7,749.4 895.0,752.1 896.2,752.5 897.5,751.0 898.7,750.7 900.0,747.2 901.3,736.3 902.5,722.7 903.8,710.4 905.0,696.0 906.3,677.1 907.5,658.3 908.8,645.1 910.0,640.1 911.3,640.3 912.6,639.2 913.8,638.5 915.1,643.3 916.3,648.2 917.6,656.4 918.8,674.6 920.1,696.3 921.3,714.2 922.6,727.1 923.9,740.1 925.1,755.1 926.4,766.3 927.6,773.2 928.9,778.6 930.1,782.2 931.4,783.5 932.6,785.9 933.9,789.6 935.2,790.5 936.4,791.3 937.7,795.8 938.9,800.3 940.2,801.8 941.4,802.5 942.7,806.9 944.0,811.8 945.2,814.1 946.5,817.8 947.7,820.4 949.0,821.5 950.2,824.4 951.5,828.5 952.7,831.7 954.0,833.4 955.3,837.0 956.5,838.8 957.8,836.9 959.0,837.4 960.3,840.3 961.5,842.5 962.8,842.2 964.0,841.4 965.3,842.4 966.6,844.7 967.8,846.2 969.1,846.5 970.3,847.6 971.6,846.7 972.8,844.6 974.1,843.9 975.3,842.6 976.6,839.4 977.9,835.4 979.1,833.2 980.4,831.8 981.6,829.7 982.9,828.6 984.1,826.4 985.4,823.9 986.6,823.0 987.9,821.6 989.2,819.3 990.4,815.5 991.7,812.8 992.9,813.2 994.2,813.7 995.4,815.2 996.7,817.8 998.0,818.7 999.2,817.6 1000.5,818.6 1001.7,823.2 1003.0,826.4 1004.2,826.7 1005.5,826.2 1006.7,825.5 1008.0,824.8 1009.3,824.3 1010.5,822.9 1011.8,820.7 1013.0,817.4 1014.3,812.9 1015.5,807.2 1016.8,801.4 1018.0,796.1 1019.3,791.7 1020.6,787.3 1021.8,783.9 1023.1,782.2 1024.3,779.5 1025.6,775.3 1026.8,770.3 1028.1,766.9 1029.3,767.7 1030.6,769.3 1031.9,771.4 1033.1,774.7 1034.4,777.2 1035.6,782.7 1036.9,786.7 1038.1,784.8 1039.4,786.9 1040.6,792.4 1041.9,795.1 1043.2,797.1 1044.4,800.3 1045.7,803.8 1046.9,804.9 1048.2,804.7 1049.4,804.6 1050.7,804.4 1051.9,803.4 1053.2,802.1 1054.5,802.4 1055.7,802.5 1057.0,802.0 1058.2,798.6 1059.5,793.9 1060.7,791.0 1062.0,786.5 1063.3,781.5 1064.5,776.8 1065.8,770.5 1067.0,764.4 1068.3,758.2 1069.5,752.1 1070.8,748.2 1072.0,746.0 1073.3,742.6 1074.6,738.1 1075.8,734.6 1077.1,731.2 1078.3,729.4 1079.6,731.9 1080.8,735.1 1082.1,736.8 1083.3,738.0 1084.6,737.9 1085.9,735.5 1087.1,731.6 1088.4,726.3 1089.6,720.9 1090.9,716.8 1092.1,713.2 1093.4,707.8 1094.6,700.8 1095.9,695.2 1097.2,690.4 1098.4,685.8 1099.7,682.1 1100.9,678.9 1102.2,672.4 1103.4,667.0 1104.7,665.6 1105.9,660.5 1107.2,655.2 1108.5,653.6 1109.7,650.9 1111.0,648.6 1112.2,647.8 1113.5,646.2 1114.7,645.1 1116.0,643.9 1117.3,641.7 1118.5,639.7 1119.8,638.3 1121.0,639.9 1122.3,641.3 1123.5,639.4 1124.8,640.2 1126.0,644.3 1127.3,648.1 1128.6,650.3 1129.8,651.3 1131.1,654.7 1132.3,657.7 1133.6,653.6 1134.8,650.3 1136.1,650.8 1137.3,645.6 1138.6,638.6 1139.9,631.9 1141.1,624.9 1142.4,618.4 1143.6,606.0 1144.9,591.2 1146.1,580.5 1147.4,567.9 1148.6,551.7 1149.9,534.8 1151.2,521.0 1152.4,511.6 1153.7,504.3 1154.9,501.1 1156.2,498.6 1157.4,502.4 1158.7,509.7 1159.9,516.2 1161.2,525.5 1162.5,535.4 1163.7,548.1 1165.0,567.2 1166.2,582.5 1167.5,593.6 1168.7,607.3 1170.0,621.7 1171.3,637.5 1172.5,653.2 1173.8,664.5 1175.0,673.8 1176.3,684.5 1177.5,695.5 1178.8,704.9 1180.0,713.3 1181.3,719.2 1182.6,723.4 1183.8,731.1 1185.1,739.3 1186.3,743.7 1187.6,746.5 1188.8,750.8 1190.1,756.2 1191.3,760.1 1192.6,762.7 1193.9,765.9 1195.1,766.5 1196.4,765.2 1197.6,765.4 1198.9,763.4 1200.1,759.0 1201.4,755.3 1202.6,750.4 1203.9,744.4 1205.2,742.3 1206.4,741.2 1207.7,737.7 1208.9,735.5 1210.2,734.4 1211.4,732.1 1212.7,731.7 1213.9,732.7 1215.2,731.8 1216.5,731.6 1217.7,734.0 1219.0,736.4 1220.2,736.5 1221.5,736.2 1222.7,737.5 1224.0,738.5 1225.2,738.8 1226.5,740.0 1227.8,739.3 1229.0,738.2 1230.3,740.2 1231.5,740.4 1232.8,739.0 1234.0,739.7 1235.3,739.8 1236.6,737.4 1237.8,737.1 1239.1,738.8 1240.3,737.8 1241.6,735.4 1242.8,733.8 1244.1,731.9 1245.3,729.3 1246.6,726.8 1247.9,725.2 1249.1,722.3 1250.4,720.0 1251.6,718.9 1252.9,715.6 1254.1,712.2 1255.4,712.9 1256.6,714.6 1257.9,715.3 1259.2,715.8 1260.4,715.1 1261.7,715.7 1262.9,718.8 1264.2,719.6 1265.4,720.0 1266.7,722.6 1267.9,725.7 1269.2,729.6 1270.5,733.2 1271.7,734.2 1273.0,735.6 1274.2,741.1 1275.5,746.5 1276.7,749.3 1278.0,750.5 1279.2,751.3 1280.5,752.0 1281.8,752.9 1283.0,755.0 1284.3,757.0 1285.5,758.9 1286.8,761.9 1288.0,764.6 1289.3,764.8 1290.6,764.4 1291.8,766.2 1293.1,767.0 1294.3,765.2 1295.6,765.0 1296.8,765.8 1298.1,765.6 1299.3,764.8 1300.6,764.4 1301.9,765.2 1303.1,764.0 1304.4,761.1 1305.6,759.6 1306.9,759.3 1308.1,759.1 1309.4,758.0 1310.6,755.1 1311.9,753.1 1313.2,752.3 1314.4,749.5 1315.7,748.3 1316.9,748.6 1318.2,748.3 1319.4,749.8 1320.7,750.7 1321.9,748.9 1323.2,746.6 1324.5,745.4 1325.7,744.5 1327.0,744.8 1328.2,745.3 1329.5,744.1 1330.7,744.2 1332.0,744.3 1333.2,744.1 1334.5,745.3 1335.8,746.0 1337.0,745.1 1338.3,742.9 1339.5,740.8 1340.8,740.3 1342.0,740.5 1343.3,739.2 1344.6,735.7 1345.8,733.0 1347.1,730.5 1348.3,726.3 1349.6,724.4 1350.8,723.2 1352.1,718.8 1353.3,714.9 1354.6,712.3 1355.9,709.9 1357.1,707.5 1358.4,704.4 1359.6,702.7 1360.9,702.1 1362.1,700.8 1363.4,701.3 1364.6,703.9 1365.9,706.6 1367.2,707.5 1368.4,709.2 1369.7,712.0 1370.9,713.3 1372.2,715.4 1373.4,720.9 1374.7,726.0 1375.9,726.2 1377.2,725.2 1378.5,725.7 1379.7,726.7 1381.0,726.7 1382.2,724.2 1383.5,722.0 1384.7,721.8 1386.0,722.0 1387.2,719.9 1388.5,717.7 1389.8,717.1 1391.0,717.8 1392.3,716.2 1393.5,714.4 1394.8,717.8 1396.0,720.6 1397.3,721.2 1398.6,720.4 1399.8,717.0 1401.1,716.0 1402.3,719.4 1403.6,719.1 1404.8,713.1 1406.1,707.1 1407.3,701.3 1408.6,694.9 1409.9,688.4 1411.1,679.7 1412.4,669.3 1413.6,654.6 1414.9,635.9 1416.1,615.3 1417.4,591.4 1418.6,567.8 1419.9,540.2 1421.2,502.2 1422.4,459.9 1423.7,419.0 1424.9,374.3 1426.2,320.4 1427.4,269.0 1428.7,232.0 1429.9,204.8 1431.2,191.1 1432.5,203.6 1433.7,236.6 1435.0,279.0 1436.2,326.8 1437.5,375.9 1438.7,423.0 1440.0,466.7 1441.2,509.4 1442.5,547.7 1443.8,575.9 1445.0,599.7 1446.3,622.1 1447.5,642.3 1448.8,661.5 1450.0,676.3 1451.3,687.7 1452.5,701.0 1453.8,711.3 1455.1,716.9 1456.3,724.3 1457.6,732.5 1458.8,739.9 1460.1,746.1 1461.3,750.3 1462.6,753.3 1463.9,757.8 1465.1,762.8 1466.4,765.4 1467.6,769.3 1468.9,772.5 1470.1,773.6 1471.4,777.1 1472.6,779.9 1473.9,780.6 1475.2,783.4 1476.4,785.8 1477.7,786.2 1478.9,787.6 1480.2,789.9 1481.4,791.8 1482.7,793.3 1483.9,794.6 1485.2,796.7 1486.5,797.2 1487.7,796.3 1489.0,798.1 1490.2,799.1 1491.5,798.8 1492.7,801.5 1494.0,804.1 1495.2,805.1 1496.5,806.0 1497.8,805.2 1499.0,805.7 1500.3,808.7 1501.5,810.1 1502.8,810.1 1504.0,811.2 1505.3,812.2 1506.5,813.2 1507.8,815.1 1509.1,815.4 1510.3,814.9 1511.6,814.9 1512.8,815.6 1514.1,816.4 1515.3,816.1 1516.6,816.6 1517.9,818.4 1519.1,819.8 1520.4,819.5 1521.6,818.7 1522.9,819.0 1524.1,818.3 1525.4,816.9 1526.6,816.3 1527.9,817.1 1529.2,819.7 1530.4,820.7 1531.7,819.4 1532.9,818.8 1534.2,819.2 1535.4,819.5 1536.7,819.3 1537.9,819.3 1539.2,820.0 1540.5,820.7 1541.7,821.3 1543.0,821.8 1544.2,821.7 1545.5,821.9 1546.7,822.1 1548.0,821.7 1549.2,822.2 1550.5,822.8 1551.8,823.8 1553.0,823.5 1554.3,822.5 1555.5,824.7 1556.8,827.0 1558.0,826.9 1559.3,825.0 1560.5,823.2 1561.8,823.8 1563.1,825.4 1564.3,826.7 1565.6,826.2 1566.8,824.7 1568.1,824.8 1569.3,826.5 1570.6,826.8 1571.9,827.3 1573.1,828.6 1574.4,828.5 1575.6,829.6 1576.9,830.5 1578.1,828.6 1579.4,827.7 1580.6,829.5 1581.9,829.7 1583.2,827.8 1584.4,827.3 1585.7,827.1 1586.9,827.5 1588.2,828.9 1589.4,829.2 1590.7,829.7 1591.9,830.3 1593.2,830.3 1594.5,829.8 1595.7,829.2 1597.0,830.0 1598.2,831.0 1599.5,831.1 1600.7,831.3 1602.0,832.3 1603.2,832.4 1604.5,832.0 1605.8,832.2 1607.0,832.3 1608.3,831.2 1609.5,829.0 1610.8,828.9 1612.0,830.6 1613.3,830.4 1614.5,829.2 1615.8,830.3 1617.1,831.6 1618.3,831.3 1619.6,830.4 1620.8,829.9 1622.1,829.7 1623.3,829.7 1624.6,830.8 1625.9,831.6 1627.1,830.9 1628.4,829.8 1629.6,830.3 1630.9,830.5 1632.1,828.9 1633.4,829.1 1634.6,831.0 1635.9,831.7 1637.2,831.2 1638.4,829.7 1639.7,828.7 1640.9,828.7 1642.2,828.4 1643.4,827.8 1644.7,826.7 1645.9,824.2 1647.2,823.7 1648.5,825.5 1649.7,825.1 1651.0,823.5 1652.2,823.1 1653.5,823.5 1654.7,823.7 1656.0,822.9 1657.2,821.5 1658.5,821.1 1659.8,821.2 1661.0,820.8 1662.3,821.8 1663.5,822.2 1664.8,820.5 1666.0,819.7 1667.3,819.6 1668.5,818.3 1669.8,818.7 1671.1,821.0 1672.3,820.6 1673.6,817.9 1674.8,818.0 1676.1,821.0 1677.3,822.6 1678.6,822.3 1679.8,822.6 1681.1,823.0 1682.4,822.8 1683.6,823.5 1684.9,823.2 1686.1,821.8 1687.4,822.3 1688.6,822.4 1689.9,821.3 1691.2,821.7 1692.4,823.0 1693.7,824.1 1694.9,823.9 1696.2,822.5 1697.4,823.8 1698.7,826.4 1699.9,826.3 1701.2,825.6 1702.5,825.3 1703.7,824.8 1705.0,826.3 1706.2,829.1 1707.5,831.0 1708.7,831.8 1710.0,831.3 1711.2,829.7 1712.5,828.8 1713.8,832.0 1715.0,835.5 1716.3,835.0 1717.5,834.4 1718.8,835.7 1720.0,836.0 1721.3,835.2 1722.5,834.7 1723.8,835.6 1725.1,836.1 1726.3,835.6 1727.6,836.4 1728.8,837.9 1730.1,838.8 1731.3,838.1 1732.6,837.7 1733.8,838.8 1735.1,838.2 1736.4,837.3 1737.6,838.0 1738.9,838.9 1740.1,839.0 1741.4,837.4 1742.6,837.0 1743.9,839.4 1745.2,841.8 1746.4,841.2 1747.7,838.4 1748.9,837.5 1750.2,838.3 1751.4,839.2 1752.7,840.7 1753.9,841.3 1755.2,840.8 1756.5,841.4 1757.7,842.1 1759.0,840.4 1760.2,840.2 1761.5,842.9 1762.7,843.7 1764.0,842.6 1765.2,843.9 1766.5,844.7 1767.8,842.7 1769.0,842.1 1770.3,841.9 1771.5,840.6 1772.8,842.0 1774.0,843.7 1775.3,844.0 1776.5,844.8 1777.8,844.6 1779.1,843.8 1780.3,844.3 1781.6,843.7 1782.8,841.9 1784.1,841.8 1785.3,842.6 1786.6,843.1 1787.8,842.9 1789.1,842.8 1790.4,843.0 1791.6,843.4 1792.9,845.2 1794.1,846.8 1795.4,847.2 1796.6,846.4 1797.9,844.5 1799.2,844.3 1800.4,845.9 1801.7,846.7 1802.9,847.0 1804.2,848.0 1805.4,848.2 1806.7,848.2 1807.9,848.6 1809.2,847.8 1810.5,847.4 1811.7,848.5 1813.0,849.6 1814.2,848.5 1815.5,847.1 1816.7,847.4 1818.0,846.6 1819.2,846.8 1820.5,848.9 1821.8,849.2 1823.0,847.0 1824.3,846.7 1825.5,848.9 1826.8,849.1 1828.0,847.8 1829.3,847.1 1830.5,847.2 1831.8,848.6 1833.1,849.9 1834.3,849.5 1835.6,848.5 1836.8,850.7 1838.1,852.8 1839.3,851.5 1840.6,849.4 1841.8,848.5 1843.1,849.8 1844.4,850.4 1845.6,849.2 1846.9,848.8 1848.1,849.5 1849.4,849.6 1850.6,850.1 1851.9,851.2 1853.2,851.4 1854.4,851.8 1855.7,851.8 1856.9,851.6 1858.2,852.0 1859.4,850.8 1860.7,850.4 1861.9,852.1 1863.2,853.2 1864.5,852.7 1865.7,851.6 1867.0,851.3 1868.2,851.4 1869.5,851.8 1870.7,852.7 1872.0,853.8 1873.2,854.1 1874.5,853.1 1875.8,852.9 1877.0,853.1 1878.3,852.0 1879.5,853.7 1880.8,856.2 1882.0,855.9 1883.3,854.8 1884.5,852.3 1885.8,851.1 1887.1,853.3 1888.3,854.6 1889.6,854.4 1890.8,853.8 1892.1,853.0 1893.3,853.4 1894.6,854.2 1895.8,854.2 1897.1,854.9 1898.4,854.6 1899.6,853.3 1900.9,854.3 1902.1,856.3 1903.4,856.8 1904.6,856.3 1905.9,855.2 1907.1,855.1 1908.4,856.2 1909.7,855.7 1910.9,854.7 1912.2,854.8 1913.4,854.5 1914.7,854.1 1915.9,854.9" stroke="#c5423d" stroke-width="11.5"/>
<polyline points="283.4,892.3 285.9,892.1 288.4,891.9 290.9,891.6 293.4,891.3 296.0,891.0 298.5,890.5 301.0,889.9 303.5,888.9 306.0,887.1 308.5,883.3 311.0,876.5 313.5,866.8 316.1,856.2 318.6,849.1 321.1,848.9 323.6,855.5 326.1,865.4 328.6,874.6 331.1,880.8 333.6,883.8 336.1,884.6 338.7,883.9 341.2,881.4 343.7,876.6 346.2,869.5 348.7,861.1 351.2,853.9 353.7,850.9 356.2,853.1 358.7,859.5 361.3,867.3 363.8,873.8 366.3,877.6 368.8,878.3 371.3,876.2 373.8,871.7 376.3,865.4 378.8,858.6 381.4,852.9 383.9,849.1 386.4,846.2 388.9,841.9 391.4,834.4 393.9,823.4 396.4,811.1 398.9,801.6 401.4,798.4 404.0,803.2 406.5,814.9 409.0,830.6 411.5,846.6 414.0,860.3 416.5,870.3 419.0,876.4 421.5,879.3 424.0,879.9 426.6,879.1 429.1,877.9 431.6,877.3 434.1,877.5 436.6,877.9 439.1,877.7 441.6,876.8 444.1,875.8 446.7,875.7 449.2,877.2 451.7,879.8 454.2,882.7 456.7,884.9 459.2,886.1 461.7,886.8 464.2,887.6 466.7,888.7 469.3,889.9 471.8,890.9 474.3,891.3 476.8,891.1 479.3,890.3 481.8,888.9 484.3,887.6 486.8,887.0 489.4,887.4 491.9,888.5 494.4,889.2 496.9,888.5 499.4,884.7 501.9,877.1 504.4,867.1 506.9,859.7 509.4,859.8 512.0,867.4 514.5,877.6 517.0,885.6 519.5,890.0 522.0,891.9 524.5,892.6 527.0,892.8 529.5,892.9 532.0,892.7 534.6,892.1 537.1,890.5 539.6,887.1 542.1,880.9 544.6,872.6 547.1,864.9 549.6,861.7 552.1,864.8 554.7,872.3 557.2,880.4 559.7,886.3 562.2,889.5 564.7,890.4 567.2,889.6 569.7,886.8 572.2,881.2 574.7,872.8 577.3,863.7 579.8,857.6 582.3,857.5 584.8,863.4 587.3,872.1 589.8,879.8 592.3,884.4 594.8,885.7 597.3,884.8 599.9,882.8 602.4,880.7 604.9,879.4 607.4,879.2 609.9,879.9 612.4,880.9 614.9,881.4 617.4,880.8 620.0,879.1 622.5,877.0 625.0,875.3 627.5,874.4 630.0,873.8 632.5,872.6 635.0,870.4 637.5,867.3 640.0,864.3 642.6,862.6 645.1,862.9 647.6,865.4 650.1,869.7 652.6,874.8 655.1,879.9 657.6,884.3 660.1,887.6 662.7,889.8 665.2,891.1 667.7,891.8 670.2,892.0 672.7,891.6 675.2,890.7 677.7,889.1 680.2,886.9 682.7,884.6 685.3,882.4 687.8,881.2 690.3,881.2 692.8,882.6 695.3,884.8 697.8,887.3 700.3,889.5 702.8,891.2 705.3,892.4 707.9,893.0 710.4,893.3 712.9,893.4 715.4,893.3 717.9,893.0 720.4,892.5 722.9,891.4 725.4,889.6 728.0,886.9 730.5,883.3 733.0,879.3 735.5,875.8 738.0,873.8 740.5,873.7 743.0,875.8 745.5,879.3 748.0,883.2 750.6,886.9 753.1,889.2 755.6,889.8" stroke="#7aa641" stroke-width="9.4"/>
<polyline points="755.6,889.8 758.1,889.1 760.6,887.7 763.1,886.1 765.6,884.7 768.1,883.8 770.7,883.0 773.2,882.3 775.7,881.6 778.2,881.0 780.7,880.5 783.2,879.9 785.7,879.5 788.2,879.1 790.7,878.2 793.3,877.0 795.8,875.6 798.3,873.8 800.8,872.3 803.3,871.3 805.8,870.6 808.3,869.3 810.8,866.9 813.3,863.7 815.9,860.9 818.4,859.3 820.9,857.9 823.4,855.3 825.9,851.5 828.4,848.4 830.9,847.1 833.4,845.3 836.0,840.9 838.5,831.2 841.0,818.4 843.5,805.2" stroke="#7aa641" stroke-width="9.9"/>
<polyline points="843.5,805.2 844.7,798.2 846.0,791.2 847.3,783.7 848.5,777.1 849.8,770.9 851.0,763.8 852.3,755.4 853.5,745.7 854.8,736.1 856.0,726.5 857.3,718.5 858.6,709.3 859.8,698.0 861.1,688.4 862.3,679.7 863.6,675.5 864.8,675.7 866.1,673.6 867.3,671.2 868.6,671.6 869.9,672.3 871.1,672.5 872.4,674.8 873.6,679.4 874.9,686.0 876.1,694.0 877.4,702.8 878.6,710.0 879.9,715.9 881.2,722.9 882.4,730.9 883.7,737.4 884.9,741.6 886.2,745.8 887.4,750.7 888.7,754.1 890.0,754.4 891.2,755.6 892.5,760.0 893.7,762.5 895.0,764.6 896.2,766.6 897.5,765.1 898.7,762.2 900.0,756.6 901.3,748.0 902.5,737.2 903.8,724.4 905.0,710.3 906.3,694.8 907.5,681.3 908.8,673.2 910.0,667.0 911.3,660.0 912.6,657.0 913.8,660.2 915.1,665.0 916.3,669.1 917.6,677.2 918.8,691.2 920.1,709.7 921.3,728.5 922.6,742.7 923.9,754.3 925.1,766.1 926.4,777.4 927.6,788.0 928.9,794.5 930.1,797.0 931.4,798.5 932.6,798.4 933.9,799.7 935.2,802.0 936.4,802.1 937.7,803.4 938.9,806.2 940.2,807.8 941.4,811.8 942.7,817.4 944.0,820.3 945.2,823.0 946.5,826.1 947.7,829.2 949.0,833.0 950.2,835.9 951.5,838.1 952.7,839.9 954.0,841.8 955.3,844.6 956.5,845.8 957.8,845.9 959.0,846.9 960.3,849.3 961.5,851.9 962.8,852.6 964.0,852.0 965.3,851.7 966.6,851.2 967.8,850.3 969.1,850.2 970.3,850.3 971.6,849.5 972.8,848.8 974.1,848.3 975.3,846.6 976.6,845.1 977.9,843.9 979.1,841.6 980.4,838.5 981.6,835.2 982.9,833.0 984.1,831.3 985.4,829.6 986.6,827.4 987.9,825.2 989.2,825.2 990.4,824.6 991.7,821.1 992.9,820.3 994.2,821.6 995.4,822.2 996.7,822.1 998.0,822.0 999.2,825.7 1000.5,830.0 1001.7,831.4 1003.0,831.4 1004.2,831.5 1005.5,834.1 1006.7,835.5 1008.0,833.3 1009.3,831.9 1010.5,831.7 1011.8,829.3 1013.0,822.5 1014.3,816.8 1015.5,813.5 1016.8,808.0 1018.0,802.0 1019.3,797.2 1020.6,795.0 1021.8,793.0 1023.1,789.0 1024.3,786.6 1025.6,785.0 1026.8,782.8 1028.1,783.0 1029.3,782.5 1030.6,780.5 1031.9,782.9 1033.1,786.4 1034.4,789.4 1035.6,794.2 1036.9,797.6 1038.1,799.2 1039.4,800.6 1040.6,801.3 1041.9,802.9 1043.2,805.9 1044.4,807.8 1045.7,810.1 1046.9,813.1 1048.2,814.6 1049.4,814.8 1050.7,813.8 1051.9,813.2 1053.2,814.0 1054.5,813.7 1055.7,811.6 1057.0,809.1 1058.2,806.2 1059.5,804.6 1060.7,802.0 1062.0,796.4 1063.3,791.6 1064.5,786.9 1065.8,781.0 1067.0,776.4 1068.3,772.3 1069.5,768.4 1070.8,765.4 1072.0,761.6 1073.3,756.3 1074.6,750.7 1075.8,748.7 1077.1,749.0 1078.3,748.8 1079.6,749.8 1080.8,750.4 1082.1,750.1 1083.3,749.2 1084.6,747.4 1085.9,747.9 1087.1,746.8 1088.4,741.9 1089.6,738.3 1090.9,736.9 1092.1,733.4 1093.4,725.3 1094.6,718.7 1095.9,715.0 1097.2,710.1 1098.4,705.9 1099.7,702.9 1100.9,699.7 1102.2,696.9 1103.4,692.3 1104.7,686.3 1105.9,684.0 1107.2,682.7 1108.5,679.0 1109.7,676.4 1111.0,674.3 1112.2,670.9 1113.5,669.7 1114.7,669.8 1116.0,665.8 1117.3,661.9 1118.5,662.7 1119.8,662.0 1121.0,660.5 1122.3,662.9 1123.5,666.9 1124.8,668.2 1126.0,667.7 1127.3,669.0 1128.6,673.3 1129.8,675.7 1131.1,674.2 1132.3,674.1 1133.6,676.3 1134.8,676.3 1136.1,672.6 1137.3,667.2 1138.6,662.5 1139.9,658.1 1141.1,651.5 1142.4,643.9 1143.6,634.6 1144.9,622.0 1146.1,609.8 1147.4,597.2 1148.6,583.4 1149.9,570.9 1151.2,558.1 1152.4,546.2 1153.7,537.6 1154.9,535.0 1156.2,537.9 1157.4,540.4 1158.7,540.3 1159.9,543.9 1161.2,551.4 1162.5,565.5 1163.7,581.6 1165.0,595.6 1166.2,611.5 1167.5,623.8 1168.7,632.6 1170.0,646.0 1171.3,659.9 1172.5,670.8 1173.8,681.8 1175.0,693.4 1176.3,704.3 1177.5,715.7 1178.8,723.5 1180.0,726.7 1181.3,731.7 1182.6,738.8 1183.8,745.2 1185.1,751.2 1186.3,755.7 1187.6,758.4 1188.8,762.3 1190.1,766.6 1191.3,769.2 1192.6,770.6 1193.9,772.1 1195.1,774.7 1196.4,776.8 1197.6,775.1 1198.9,772.6 1200.1,772.0 1201.4,768.6 1202.6,762.6 1203.9,757.9 1205.2,756.7 1206.4,755.9 1207.7,753.1 1208.9,751.1 1210.2,748.5 1211.4,745.0 1212.7,743.1 1213.9,740.0 1215.2,737.9 1216.5,740.5 1217.7,744.5 1219.0,748.0 1220.2,750.4 1221.5,751.5 1222.7,752.3 1224.0,753.0 1225.2,753.0 1226.5,753.2 1227.8,754.8 1229.0,756.3 1230.3,755.6 1231.5,753.5 1232.8,752.2 1234.0,751.0 1235.3,750.8 1236.6,751.3 1237.8,751.3 1239.1,749.7 1240.3,745.4 1241.6,743.8 1242.8,745.7 1244.1,745.5 1245.3,744.2 1246.6,744.1 1247.9,741.5 1249.1,737.2 1250.4,735.7 1251.6,734.2 1252.9,732.4 1254.1,732.1 1255.4,731.4 1256.6,731.5 1257.9,731.8 1259.2,731.7 1260.4,731.6 1261.7,731.3 1262.9,732.2 1264.2,733.9 1265.4,736.8 1266.7,739.4 1267.9,742.7 1269.2,745.6 1270.5,746.2 1271.7,749.1 1273.0,753.1 1274.2,755.7 1275.5,759.1 1276.7,761.7 1278.0,762.7 1279.2,765.7 1280.5,768.2 1281.8,767.6 1283.0,769.0 1284.3,772.9 1285.5,776.0 1286.8,778.2 1288.0,777.9 1289.3,776.4 1290.6,777.2 1291.8,778.7 1293.1,777.2 1294.3,775.5 1295.6,776.8 1296.8,777.2 1298.1,775.4 1299.3,775.3 1300.6,776.3 1301.9,777.3 1303.1,777.8 1304.4,776.4 1305.6,774.0 1306.9,771.7 1308.1,769.7 1309.4,768.3 1310.6,767.5 1311.9,767.5 1313.2,768.7 1314.4,768.8 1315.7,766.6 1316.9,764.8 1318.2,763.5 1319.4,762.5 1320.7,762.8 1321.9,762.0 1323.2,759.7 1324.5,758.7 1325.7,758.2 1327.0,757.1 1328.2,757.4 1329.5,758.0 1330.7,755.6 1332.0,754.1 1333.2,755.1 1334.5,754.4 1335.8,752.9 1337.0,754.2 1338.3,755.3 1339.5,753.8 1340.8,753.5 1342.0,753.6 1343.3,751.2 1344.6,748.1 1345.8,746.0 1347.1,743.2 1348.3,740.4 1349.6,740.4 1350.8,739.0 1352.1,734.4 1353.3,730.6 1354.6,729.3 1355.9,728.3 1357.1,725.0 1358.4,721.3 1359.6,720.3 1360.9,721.4 1362.1,720.9 1363.4,721.3 1364.6,723.6 1365.9,723.2 1367.2,722.8 1368.4,725.9 1369.7,728.0 1370.9,728.0 1372.2,729.4 1373.4,733.6 1374.7,738.3 1375.9,739.6 1377.2,739.3 1378.5,740.6 1379.7,740.3 1381.0,736.8 1382.2,735.8 1383.5,739.5 1384.7,741.9 1386.0,740.1 1387.2,737.2 1388.5,734.1 1389.8,732.1 1391.0,732.2 1392.3,732.6 1393.5,733.0 1394.8,734.2 1396.0,735.1 1397.3,733.6 1398.6,730.6 1399.8,731.8 1401.1,735.4 1402.3,735.8 1403.6,734.7 1404.8,733.1 1406.1,729.0 1407.3,721.7 1408.6,713.2 1409.9,706.2 1411.1,698.9 1412.4,689.3 1413.6,676.1 1414.9,659.7 1416.1,640.9 1417.4,620.3 1418.6,597.5 1419.9,569.6 1421.2,538.4 1422.4,506.1 1423.7,469.9 1424.9,424.3 1426.2,371.7 1427.4,324.4 1428.7,288.2 1429.9,264.4 1431.2,258.1 1432.5,269.7 1433.7,294.3 1435.0,329.3 1436.2,374.5 1437.5,423.4 1438.7,468.0 1440.0,507.4 1441.2,544.7 1442.5,576.5 1443.8,601.8 1445.0,626.2 1446.3,647.0 1447.5,662.7 1448.8,678.4 1450.0,693.1 1451.3,705.6 1452.5,717.1 1453.8,727.4 1455.1,734.4 1456.3,739.5 1457.6,745.8 1458.8,751.0 1460.1,756.5 1461.3,761.9 1462.6,764.9 1463.9,767.4 1465.1,769.4 1466.4,771.9 1467.6,775.8 1468.9,780.0 1470.1,783.4 1471.4,785.6 1472.6,788.2 1473.9,791.3 1475.2,793.2 1476.4,794.6 1477.7,795.8 1478.9,797.5 1480.2,800.1 1481.4,801.4 1482.7,802.4 1483.9,805.1 1485.2,805.1 1486.5,805.5 1487.7,809.2 1489.0,809.5 1490.2,809.1 1491.5,809.5 1492.7,809.9 1494.0,812.1 1495.2,811.3 1496.5,810.0 1497.8,812.3 1499.0,814.5 1500.3,816.1 1501.5,817.1 1502.8,817.7 1504.0,819.2 1505.3,819.4 1506.5,819.3 1507.8,821.3 1509.1,822.0 1510.3,822.4 1511.6,823.0 1512.8,821.9 1514.1,823.0 1515.3,825.2 1516.6,825.5 1517.9,825.8 1519.1,826.1 1520.4,826.0 1521.6,825.9 1522.9,825.8 1524.1,826.1 1525.4,826.0 1526.6,826.0 1527.9,826.7 1529.2,828.0 1530.4,829.4 1531.7,829.4 1532.9,827.9 1534.2,826.0 1535.4,825.2 1536.7,826.3 1537.9,828.5 1539.2,829.5 1540.5,829.5 1541.7,829.0 1543.0,828.1 1544.2,829.0 1545.5,831.5 1546.7,831.4 1548.0,829.8 1549.2,830.3 1550.5,831.0 1551.8,830.8 1553.0,831.9 1554.3,832.9 1555.5,834.1 1556.8,834.5 1558.0,833.6 1559.3,834.1 1560.5,834.9 1561.8,834.1 1563.1,833.1 1564.3,833.3 1565.6,834.8 1566.8,836.0 1568.1,836.1 1569.3,835.9 1570.6,834.8 1571.9,834.1 1573.1,833.5 1574.4,832.4 1575.6,833.1 1576.9,834.3 1578.1,835.1 1579.4,835.2 1580.6,834.2 1581.9,834.8 1583.2,836.3 1584.4,835.4 1585.7,834.6 1586.9,834.9 1588.2,836.3 1589.4,838.5 1590.7,837.9 1591.9,835.5 1593.2,836.7 1594.5,838.6 1595.7,838.1 1597.0,838.8 1598.2,841.2 1599.5,842.3 1600.7,840.8 1602.0,838.6 1603.2,838.2 1604.5,838.4 1605.8,837.8 1607.0,838.7 1608.3,840.6 1609.5,840.5 1610.8,840.3 1612.0,840.7 1613.3,840.0 1614.5,839.2 1615.8,839.8 1617.1,840.7 1618.3,838.8 1619.6,837.2 1620.8,839.5 1622.1,840.7 1623.3,838.7 1624.6,837.2 1625.9,837.9 1627.1,838.5 1628.4,837.9 1629.6,838.8 1630.9,839.7 1632.1,838.9 1633.4,837.5 1634.6,836.1 1635.9,835.8 1637.2,835.7 1638.4,835.0 1639.7,834.5 1640.9,834.8 1642.2,836.4 1643.4,836.0 1644.7,834.1 1645.9,834.1 1647.2,833.4 1648.5,832.3 1649.7,832.2 1651.0,830.9 1652.2,830.7 1653.5,831.9 1654.7,829.3 1656.0,826.8 1657.2,828.3 1658.5,829.0 1659.8,827.3 1661.0,827.1 1662.3,829.0 1663.5,829.3 1664.8,828.3 1666.0,827.7 1667.3,827.3 1668.5,827.5 1669.8,828.1 1671.1,828.6 1672.3,829.1 1673.6,829.3 1674.8,828.8 1676.1,829.2 1677.3,828.9 1678.6,827.5 1679.8,828.7 1681.1,829.8 1682.4,828.9 1683.6,829.1 1684.9,829.2 1686.1,829.1 1687.4,829.4 1688.6,829.9 1689.9,830.6 1691.2,829.5 1692.4,829.5 1693.7,832.3 1694.9,832.2 1696.2,831.8 1697.4,833.9 1698.7,833.6 1699.9,831.7 1701.2,831.7 1702.5,831.8 1703.7,832.9 1705.0,834.6 1706.2,834.9 1707.5,834.7 1708.7,834.9 1710.0,836.1 1711.2,837.2 1712.5,837.1 1713.8,836.4 1715.0,837.7 1716.3,840.1 1717.5,840.4 1718.8,840.0 1720.0,840.6 1721.3,841.4 1722.5,841.8 1723.8,841.2 1725.1,840.0 1726.3,839.8 1727.6,839.7 1728.8,839.4 1730.1,839.0 1731.3,838.0 1732.6,839.1 1733.8,841.6 1735.1,844.5 1736.4,846.3 1737.6,844.7 1738.9,842.1 1740.1,842.0 1741.4,843.0 1742.6,842.6 1743.9,842.8 1745.2,844.8 1746.4,846.6 1747.7,845.8 1748.9,844.5 1750.2,844.1 1751.4,845.0 1752.7,845.6 1753.9,844.3 1755.2,843.6 1756.5,843.8 1757.7,843.4 1759.0,843.8 1760.2,845.8 1761.5,848.0 1762.7,847.4 1764.0,844.9 1765.2,844.6 1766.5,846.0 1767.8,846.7 1769.0,846.6 1770.3,846.7 1771.5,847.4 1772.8,846.5 1774.0,844.8 1775.3,845.9 1776.5,848.3 1777.8,849.3 1779.1,848.4 1780.3,846.6 1781.6,846.5 1782.8,847.5 1784.1,848.0 1785.3,848.8 1786.6,848.7 1787.8,847.2 1789.1,845.9 1790.4,846.0 1791.6,848.1 1792.9,848.8 1794.1,848.1 1795.4,849.5 1796.6,851.3 1797.9,851.0 1799.2,849.6 1800.4,849.2 1801.7,849.1 1802.9,848.3 1804.2,848.2 1805.4,849.2 1806.7,850.1 1807.9,850.3 1809.2,849.5 1810.5,849.3 1811.7,849.9 1813.0,850.5 1814.2,851.8 1815.5,853.3 1816.7,852.6 1818.0,850.8 1819.2,849.7 1820.5,849.6 1821.8,850.3 1823.0,850.2 1824.3,849.6 1825.5,850.6 1826.8,852.4 1828.0,852.8 1829.3,852.9 1830.5,853.3 1831.8,852.1 1833.1,851.7 1834.3,851.8 1835.6,851.3 1836.8,852.5 1838.1,853.7 1839.3,854.0 1840.6,854.1 1841.8,853.5 1843.1,852.5 1844.4,851.7 1845.6,852.0 1846.9,853.2 1848.1,854.7 1849.4,855.8 1850.6,855.5 1851.9,854.8 1853.2,853.9 1854.4,853.2 1855.7,852.5 1856.9,852.7 1858.2,853.5 1859.4,854.1 1860.7,854.3 1861.9,853.8 1863.2,854.3 1864.5,855.3 1865.7,853.9 1867.0,852.5 1868.2,854.5 1869.5,856.4 1870.7,857.4 1872.0,857.1 1873.2,855.5 1874.5,855.2 1875.8,854.8 1877.0,852.8 1878.3,853.2 1879.5,855.5 1880.8,855.5 1882.0,855.2 1883.3,855.7 1884.5,856.1 1885.8,855.8 1887.1,855.0 1888.3,855.4 1889.6,855.8 1890.8,855.2 1892.1,855.4 1893.3,856.2 1894.6,855.9 1895.8,855.3 1897.1,856.2 1898.4,858.0 1899.6,858.9 1900.9,859.2 1902.1,859.1 1903.4,858.3 1904.6,858.8 1905.9,860.1 1907.1,858.9 1908.4,857.5 1909.7,858.4 1910.9,858.7 1912.2,858.1 1913.4,859.3 1914.7,860.9 1915.9,860.5" stroke="#7aa641" stroke-width="13"/>
<polyline points="283.4,892.4 285.9,892.3 288.4,892.1 290.9,891.8 293.4,891.5 296.0,891.2 298.5,890.8 301.0,890.2 303.5,889.3 306.0,887.5 308.5,884.0 311.0,877.6 313.5,868.4 316.1,858.5 318.6,851.8 321.1,851.6 323.6,857.8 326.1,867.2 328.6,875.9 331.1,881.6 333.6,884.5 336.1,885.3 338.7,884.6 341.2,882.3 343.7,877.9 346.2,871.4 348.7,863.7 351.2,857.3 353.7,854.6 356.2,856.7 358.7,862.7 361.3,869.9 363.8,875.8 366.3,879.2 368.8,879.9 371.3,878.1 373.8,874.1 376.3,868.5 378.8,862.6 381.4,857.6 383.9,854.3 386.4,851.8 388.9,848.2 391.4,841.6 393.9,831.9 396.4,821.2 398.9,812.9 401.4,810.1 404.0,814.3 406.5,824.6 409.0,838.4 411.5,852.5 414.0,864.5 416.5,873.2 419.0,878.6 421.5,881.2 424.0,881.7 426.6,881.0 429.1,879.9 431.6,879.4 434.1,879.6 436.6,879.9 439.1,879.8 441.6,878.9 444.1,878.0 446.7,878.0 449.2,879.3 451.7,881.6 454.2,884.1 456.7,886.0 459.2,887.1 461.7,887.8 464.2,888.5 466.7,889.4 469.3,890.5 471.8,891.3 474.3,891.7 476.8,891.5 479.3,890.8 481.8,889.6 484.3,888.4 486.8,887.9 489.4,888.3 491.9,889.2 494.4,889.9 496.9,889.2 499.4,885.9 501.9,879.2 504.4,870.3 506.9,863.8 509.4,863.9 512.0,870.6 514.5,879.6 517.0,886.7 519.5,890.5 522.0,892.2 524.5,892.8 527.0,893.0 529.5,893.1 532.0,892.9 534.6,892.4 537.1,891.0 539.6,888.0 542.1,882.5 544.6,875.2 547.1,868.5 549.6,865.7 552.1,868.4 554.7,875.0 557.2,882.1 559.7,887.3 562.2,890.1 564.7,890.9 567.2,890.2 569.7,887.7 572.2,882.8 574.7,875.5 577.3,867.6 579.8,862.2 582.3,862.1 584.8,867.3 587.3,874.9 589.8,881.7 592.3,885.7 594.8,886.9 597.3,886.1 599.9,884.3 602.4,882.5 604.9,881.4 607.4,881.2 609.9,881.8 612.4,882.7 614.9,883.2 617.4,882.6 620.0,881.1 622.5,879.3 625.0,877.9 627.5,877.1 630.0,876.6 632.5,875.6 635.0,873.7 637.5,871.0 640.0,868.5 642.6,867.0 645.1,867.3 647.6,869.5 650.1,873.2 652.6,877.6 655.1,882.0 657.6,885.7 660.1,888.6 662.7,890.5 665.2,891.6 667.7,892.2 670.2,892.3 672.7,892.0 675.2,891.2 677.7,889.9 680.2,888.1 682.7,886.0 685.3,884.2 687.8,883.2 690.3,883.2 692.8,884.3 695.3,886.2 697.8,888.3 700.3,890.3 702.8,891.7 705.3,892.7 707.9,893.2 710.4,893.5 712.9,893.5 715.4,893.5 717.9,893.3 720.4,892.8 722.9,891.9 725.4,890.3 728.0,888.0 730.5,885.0 733.0,881.6 735.5,878.6 738.0,876.9 740.5,876.8 743.0,878.6 745.5,881.5 748.0,884.9 750.6,888.0 753.1,890.0 755.6,890.5" stroke="#7b5797" stroke-width="9.4"/>
<polyline points="755.6,890.5 758.1,889.9 760.6,888.7 763.1,887.4 765.6,886.2 768.1,885.3 770.7,884.7 773.2,884.0 775.7,883.1 778.2,882.6 780.7,882.9 783.2,883.0 785.7,882.3 788.2,881.4 790.7,880.7 793.3,879.3 795.8,877.1 798.3,875.8 800.8,875.2 803.3,875.1 805.8,875.0 808.3,873.4 810.8,870.5 813.3,868.4 815.9,867.6 818.4,865.0 820.9,861.8 823.4,860.9 825.9,859.9 828.4,857.3 830.9,854.8 833.4,852.5 836.0,849.1 838.5,841.3 841.0,830.1 843.5,819.0" stroke="#7b5797" stroke-width="9.9"/>
<polyline points="843.5,819.0 844.7,813.6 846.0,807.7 847.3,800.7 848.5,793.7 849.8,788.1 851.0,782.5 852.3,775.3 853.5,767.0 854.8,758.2 856.0,749.1 857.3,740.0 858.6,732.4 859.8,726.4 861.1,718.9 862.3,711.0 863.6,706.9 864.8,706.7 866.1,707.7 867.3,706.4 868.6,703.0 869.9,701.8 871.1,705.0 872.4,708.7 873.6,711.5 874.9,716.8 876.1,723.1 877.4,730.3 878.6,738.6 879.9,746.1 881.2,752.5 882.4,757.8 883.7,761.9 884.9,764.5 886.2,767.0 887.4,769.7 888.7,773.2 890.0,776.8 891.2,779.0 892.5,780.6 893.7,781.2 895.0,782.2 896.2,783.3 897.5,782.3 898.7,781.1 900.0,776.9 901.3,766.5 902.5,755.2 903.8,746.9 905.0,737.9 906.3,725.3 907.5,711.3 908.8,703.6 910.0,700.5 911.3,694.7 912.6,692.2 913.8,695.0 915.1,699.2 916.3,702.9 917.6,710.3 918.8,724.0 920.1,737.1 921.3,749.1 922.6,762.1 923.9,773.6 925.1,785.2 926.4,795.6 927.6,801.9 928.9,806.2 930.1,809.3 931.4,810.0 932.6,809.8 933.9,812.6 935.2,817.2 936.4,820.3 937.7,821.5 938.9,821.7 940.2,823.5 941.4,827.6 942.7,832.6 944.0,836.1 945.2,837.7 946.5,840.2 947.7,843.1 949.0,844.3 950.2,845.2 951.5,847.9 952.7,851.9 954.0,854.4 955.3,854.4 956.5,854.7 957.8,856.5 959.0,858.2 960.3,859.0 961.5,858.9 962.8,859.5 964.0,860.7 965.3,861.7 966.6,861.5 967.8,861.0 969.1,861.7 970.3,861.8 971.6,859.9 972.8,858.0 974.1,857.2 975.3,856.5 976.6,856.4 977.9,856.5 979.1,855.6 980.4,852.4 981.6,848.5 982.9,846.6 984.1,845.2 985.4,843.9 986.6,843.1 987.9,841.9 989.2,839.8 990.4,837.7 991.7,836.4 992.9,835.8 994.2,836.3 995.4,837.5 996.7,838.9 998.0,839.7 999.2,841.4 1000.5,844.4 1001.7,844.1 1003.0,842.7 1004.2,845.0 1005.5,846.6 1006.7,844.7 1008.0,842.9 1009.3,842.8 1010.5,841.7 1011.8,839.5 1013.0,835.0 1014.3,829.0 1015.5,826.6 1016.8,824.9 1018.0,820.9 1019.3,816.9 1020.6,813.5 1021.8,810.7 1023.1,809.6 1024.3,808.2 1025.6,805.1 1026.8,803.2 1028.1,803.2 1029.3,803.7 1030.6,803.9 1031.9,804.5 1033.1,806.5 1034.4,809.3 1035.6,810.8 1036.9,813.2 1038.1,816.7 1039.4,818.9 1040.6,819.6 1041.9,821.6 1043.2,825.2 1044.4,827.3 1045.7,828.6 1046.9,828.7 1048.2,828.6 1049.4,830.0 1050.7,830.8 1051.9,829.7 1053.2,827.1 1054.5,825.6 1055.7,826.1 1057.0,827.3 1058.2,825.6 1059.5,822.1 1060.7,820.2 1062.0,817.6 1063.3,814.2 1064.5,810.5 1065.8,805.2 1067.0,800.6 1068.3,797.5 1069.5,794.9 1070.8,792.1 1072.0,789.0 1073.3,784.9 1074.6,781.4 1075.8,780.3 1077.1,780.2 1078.3,782.4 1079.6,784.6 1080.8,783.0 1082.1,782.0 1083.3,782.4 1084.6,782.5 1085.9,781.9 1087.1,778.1 1088.4,772.3 1089.6,768.2 1090.9,766.6 1092.1,762.8 1093.4,757.5 1094.6,753.5 1095.9,748.8 1097.2,746.5 1098.4,743.9 1099.7,737.3 1100.9,733.1 1102.2,730.8 1103.4,726.1 1104.7,721.5 1105.9,718.0 1107.2,717.2 1108.5,716.0 1109.7,710.8 1111.0,705.0 1112.2,700.6 1113.5,698.6 1114.7,699.0 1116.0,699.6 1117.3,699.2 1118.5,698.5 1119.8,698.3 1121.0,699.9 1122.3,701.8 1123.5,700.6 1124.8,698.1 1126.0,696.7 1127.3,699.7 1128.6,703.8 1129.8,706.1 1131.1,709.0 1132.3,711.3 1133.6,710.3 1134.8,705.6 1136.1,702.9 1137.3,701.5 1138.6,695.6 1139.9,688.1 1141.1,682.5 1142.4,677.3 1143.6,670.6 1144.9,660.8 1146.1,648.6 1147.4,636.8 1148.6,627.0 1149.9,615.0 1151.2,603.0 1152.4,594.6 1153.7,586.9 1154.9,583.0 1156.2,580.5 1157.4,580.5 1158.7,584.6 1159.9,593.7 1161.2,604.9 1162.5,614.5 1163.7,622.7 1165.0,632.6 1166.2,643.4 1167.5,655.4 1168.7,670.0 1170.0,682.7 1171.3,693.2 1172.5,704.6 1173.8,716.4 1175.0,725.8 1176.3,733.3 1177.5,740.9 1178.8,748.3 1180.0,754.3 1181.3,759.2 1182.6,764.1 1183.8,769.2 1185.1,774.9 1186.3,778.2 1187.6,780.6 1188.8,785.1 1190.1,788.6 1191.3,792.3 1192.6,795.0 1193.9,794.1 1195.1,794.4 1196.4,796.1 1197.6,796.2 1198.9,796.3 1200.1,794.5 1201.4,790.6 1202.6,785.4 1203.9,781.1 1205.2,780.2 1206.4,777.5 1207.7,775.4 1208.9,776.9 1210.2,775.1 1211.4,771.1 1212.7,769.3 1213.9,768.0 1215.2,767.6 1216.5,770.3 1217.7,774.3 1219.0,776.1 1220.2,775.2 1221.5,775.0 1222.7,774.9 1224.0,775.8 1225.2,776.5 1226.5,774.5 1227.8,774.0 1229.0,776.5 1230.3,779.2 1231.5,779.8 1232.8,779.6 1234.0,779.9 1235.3,779.5 1236.6,777.6 1237.8,776.0 1239.1,775.6 1240.3,774.5 1241.6,772.3 1242.8,773.4 1244.1,775.5 1245.3,773.3 1246.6,769.3 1247.9,767.1 1249.1,766.7 1250.4,766.4 1251.6,764.7 1252.9,762.7 1254.1,762.5 1255.4,762.9 1256.6,762.0 1257.9,761.2 1259.2,763.0 1260.4,764.4 1261.7,763.9 1262.9,764.4 1264.2,765.0 1265.4,765.0 1266.7,765.2 1267.9,767.6 1269.2,771.6 1270.5,775.3 1271.7,777.2 1273.0,777.7 1274.2,779.4 1275.5,782.6 1276.7,787.5 1278.0,790.3 1279.2,789.2 1280.5,790.2 1281.8,792.5 1283.0,793.5 1284.3,794.1 1285.5,796.2 1286.8,798.2 1288.0,797.9 1289.3,798.8 1290.6,798.7 1291.8,796.6 1293.1,797.2 1294.3,800.3 1295.6,801.8 1296.8,800.0 1298.1,798.6 1299.3,799.6 1300.6,800.7 1301.9,800.4 1303.1,798.9 1304.4,796.0 1305.6,793.2 1306.9,792.6 1308.1,793.1 1309.4,791.9 1310.6,790.5 1311.9,790.3 1313.2,787.9 1314.4,784.8 1315.7,784.2 1316.9,784.3 1318.2,784.2 1319.4,784.6 1320.7,784.6 1321.9,782.0 1323.2,777.9 1324.5,775.8 1325.7,775.9 1327.0,776.8 1328.2,777.8 1329.5,778.2 1330.7,777.1 1332.0,776.4 1333.2,776.4 1334.5,776.2 1335.8,777.9 1337.0,779.5 1338.3,779.2 1339.5,778.6 1340.8,775.8 1342.0,771.4 1343.3,769.2 1344.6,766.7 1345.8,762.7 1347.1,760.7 1348.3,759.6 1349.6,756.9 1350.8,755.3 1352.1,754.0 1353.3,752.8 1354.6,752.4 1355.9,750.2 1357.1,746.3 1358.4,743.6 1359.6,742.8 1360.9,741.1 1362.1,738.2 1363.4,737.0 1364.6,737.9 1365.9,740.0 1367.2,743.6 1368.4,746.0 1369.7,747.2 1370.9,749.8 1372.2,751.5 1373.4,752.7 1374.7,756.8 1375.9,759.9 1377.2,758.1 1378.5,756.3 1379.7,756.7 1381.0,757.0 1382.2,758.0 1383.5,758.9 1384.7,758.3 1386.0,755.8 1387.2,754.2 1388.5,754.5 1389.8,753.9 1391.0,754.6 1392.3,754.6 1393.5,753.3 1394.8,754.0 1396.0,757.0 1397.3,759.3 1398.6,759.1 1399.8,757.1 1401.1,755.0 1402.3,755.8 1403.6,757.1 1404.8,756.5 1406.1,754.1 1407.3,748.7 1408.6,741.2 1409.9,733.9 1411.1,726.5 1412.4,718.2 1413.6,706.5 1414.9,692.4 1416.1,680.2 1417.4,664.0 1418.6,641.6 1419.9,617.6 1421.2,588.5 1422.4,554.6 1423.7,518.7 1424.9,479.0 1426.2,436.9 1427.4,393.9 1428.7,359.8 1429.9,341.6 1431.2,336.3 1432.5,344.9 1433.7,365.1 1435.0,398.9 1436.2,441.2 1437.5,482.6 1438.7,524.1 1440.0,562.7 1441.2,592.4 1442.5,616.2 1443.8,640.8 1445.0,664.1 1446.3,682.0 1447.5,698.0 1448.8,713.1 1450.0,722.1 1451.3,729.1 1452.5,739.6 1453.8,747.8 1455.1,754.2 1456.3,761.0 1457.6,765.5 1458.8,769.0 1460.1,773.7 1461.3,778.5 1462.6,782.5 1463.9,785.7 1465.1,787.7 1466.4,789.5 1467.6,792.8 1468.9,798.4 1470.1,802.1 1471.4,801.7 1472.6,802.7 1473.9,807.3 1475.2,810.8 1476.4,810.7 1477.7,810.3 1478.9,812.5 1480.2,813.7 1481.4,813.2 1482.7,813.4 1483.9,815.4 1485.2,817.6 1486.5,817.9 1487.7,816.9 1489.0,818.0 1490.2,821.4 1491.5,824.2 1492.7,824.4 1494.0,824.1 1495.2,824.8 1496.5,824.9 1497.8,825.5 1499.0,826.6 1500.3,827.2 1501.5,828.7 1502.8,830.9 1504.0,830.3 1505.3,829.8 1506.5,832.6 1507.8,833.6 1509.1,832.9 1510.3,834.4 1511.6,836.7 1512.8,837.2 1514.1,835.7 1515.3,834.4 1516.6,835.0 1517.9,836.2 1519.1,837.5 1520.4,839.0 1521.6,839.7 1522.9,839.9 1524.1,839.5 1525.4,838.6 1526.6,839.4 1527.9,840.6 1529.2,840.5 1530.4,841.8 1531.7,843.2 1532.9,843.5 1534.2,843.9 1535.4,843.1 1536.7,842.5 1537.9,842.6 1539.2,842.8 1540.5,843.3 1541.7,844.4 1543.0,845.1 1544.2,845.0 1545.5,845.1 1546.7,845.1 1548.0,844.5 1549.2,845.2 1550.5,847.1 1551.8,847.5 1553.0,845.8 1554.3,844.5 1555.5,844.1 1556.8,843.5 1558.0,843.3 1559.3,844.4 1560.5,846.1 1561.8,847.6 1563.1,847.9 1564.3,847.1 1565.6,846.2 1566.8,846.1 1568.1,846.5 1569.3,846.5 1570.6,846.1 1571.9,846.2 1573.1,846.4 1574.4,846.9 1575.6,848.2 1576.9,848.5 1578.1,847.2 1579.4,846.9 1580.6,847.9 1581.9,847.1 1583.2,846.0 1584.4,847.7 1585.7,848.5 1586.9,848.6 1588.2,849.3 1589.4,847.9 1590.7,845.9 1591.9,846.2 1593.2,847.1 1594.5,847.7 1595.7,847.9 1597.0,847.9 1598.2,848.8 1599.5,849.5 1600.7,848.7 1602.0,848.0 1603.2,848.0 1604.5,849.5 1605.8,850.5 1607.0,847.9 1608.3,845.6 1609.5,846.9 1610.8,849.5 1612.0,850.4 1613.3,850.2 1614.5,850.0 1615.8,849.5 1617.1,849.1 1618.3,847.9 1619.6,848.4 1620.8,850.6 1622.1,850.3 1623.3,850.5 1624.6,851.2 1625.9,850.5 1627.1,848.8 1628.4,848.5 1629.6,849.1 1630.9,847.1 1632.1,845.3 1633.4,846.2 1634.6,847.1 1635.9,848.1 1637.2,848.4 1638.4,846.9 1639.7,845.5 1640.9,843.8 1642.2,842.1 1643.4,842.8 1644.7,843.0 1645.9,843.0 1647.2,845.0 1648.5,845.5 1649.7,844.4 1651.0,843.2 1652.2,842.2 1653.5,841.2 1654.7,839.4 1656.0,838.7 1657.2,840.1 1658.5,841.0 1659.8,840.2 1661.0,840.3 1662.3,841.3 1663.5,840.4 1664.8,839.4 1666.0,838.9 1667.3,837.7 1668.5,838.4 1669.8,840.3 1671.1,840.9 1672.3,840.6 1673.6,840.4 1674.8,840.3 1676.1,839.5 1677.3,838.9 1678.6,839.2 1679.8,841.0 1681.1,841.4 1682.4,839.8 1683.6,839.5 1684.9,839.6 1686.1,839.8 1687.4,839.6 1688.6,839.2 1689.9,839.8 1691.2,841.3 1692.4,842.8 1693.7,842.8 1694.9,843.0 1696.2,843.8 1697.4,843.8 1698.7,843.1 1699.9,843.8 1701.2,846.4 1702.5,847.1 1703.7,846.4 1705.0,846.1 1706.2,846.8 1707.5,847.7 1708.7,848.0 1710.0,847.6 1711.2,847.8 1712.5,849.3 1713.8,850.7 1715.0,851.5 1716.3,850.4 1717.5,849.9 1718.8,850.5 1720.0,851.5 1721.3,854.2 1722.5,855.6 1723.8,854.8 1725.1,853.6 1726.3,852.9 1727.6,853.0 1728.8,852.8 1730.1,852.9 1731.3,854.4 1732.6,856.1 1733.8,854.9 1735.1,854.0 1736.4,856.0 1737.6,855.4 1738.9,853.2 1740.1,854.3 1741.4,856.0 1742.6,855.5 1743.9,854.2 1745.2,854.7 1746.4,856.0 1747.7,855.8 1748.9,855.2 1750.2,854.6 1751.4,854.9 1752.7,857.3 1753.9,858.6 1755.2,856.6 1756.5,854.9 1757.7,855.7 1759.0,855.8 1760.2,855.7 1761.5,857.3 1762.7,857.9 1764.0,858.2 1765.2,858.5 1766.5,857.5 1767.8,857.4 1769.0,859.1 1770.3,860.6 1771.5,860.5 1772.8,859.5 1774.0,859.1 1775.3,859.5 1776.5,860.4 1777.8,859.8 1779.1,858.7 1780.3,858.9 1781.6,858.9 1782.8,859.1 1784.1,860.8 1785.3,861.3 1786.6,859.8 1787.8,859.0 1789.1,860.2 1790.4,862.8 1791.6,864.4 1792.9,864.1 1794.1,862.2 1795.4,859.9 1796.6,859.8 1797.9,860.7 1799.2,860.6 1800.4,860.5 1801.7,861.1 1802.9,861.1 1804.2,862.3 1805.4,864.0 1806.7,862.6 1807.9,860.9 1809.2,861.8 1810.5,862.7 1811.7,863.1 1813.0,862.5 1814.2,861.6 1815.5,862.7 1816.7,865.4 1818.0,866.7 1819.2,866.0 1820.5,866.1 1821.8,865.5 1823.0,862.9 1824.3,863.0 1825.5,864.5 1826.8,863.3 1828.0,863.0 1829.3,863.8 1830.5,864.2 1831.8,865.7 1833.1,866.7 1834.3,866.7 1835.6,865.5 1836.8,864.5 1838.1,865.8 1839.3,866.7 1840.6,865.9 1841.8,865.0 1843.1,864.5 1844.4,864.4 1845.6,865.8 1846.9,866.9 1848.1,866.2 1849.4,865.8 1850.6,866.0 1851.9,864.6 1853.2,863.7 1854.4,865.2 1855.7,865.2 1856.9,864.6 1858.2,866.2 1859.4,867.6 1860.7,867.3 1861.9,866.0 1863.2,865.5 1864.5,866.1 1865.7,865.7 1867.0,864.7 1868.2,865.7 1869.5,867.6 1870.7,867.4 1872.0,866.4 1873.2,866.2 1874.5,867.2 1875.8,868.1 1877.0,868.9 1878.3,869.3 1879.5,868.6 1880.8,867.8 1882.0,867.9 1883.3,868.7 1884.5,869.2 1885.8,869.6 1887.1,869.1 1888.3,868.0 1889.6,868.0 1890.8,868.5 1892.1,869.1 1893.3,869.6 1894.6,870.3 1895.8,870.1 1897.1,869.0 1898.4,868.2 1899.6,868.4 1900.9,868.5 1902.1,868.1 1903.4,868.1 1904.6,868.0 1905.9,868.1 1907.1,869.1 1908.4,869.5 1909.7,869.4 1910.9,869.5 1912.2,868.8 1913.4,867.9 1914.7,868.5 1915.9,869.7" stroke="#7b5797" stroke-width="10.2"/>
<polyline points="283.4,893.3 285.9,893.2 288.4,893.1 290.9,893.0 293.4,892.8 296.0,892.6 298.5,892.3 301.0,892.0 303.5,891.5 306.0,890.4 308.5,888.4 311.0,884.6 313.5,879.2 316.1,873.4 318.6,869.5 321.1,869.3 323.6,873.0 326.1,878.5 328.6,883.5 331.1,886.9 333.6,888.6 336.1,889.0 338.7,888.6 341.2,887.1 343.7,884.4 346.2,880.3 348.7,875.4 351.2,871.2 353.7,869.2 356.2,870.4 358.7,874.0 361.3,878.5 363.8,882.3 366.3,884.4 368.8,884.8 371.3,883.5 373.8,880.7 376.3,876.9 378.8,872.7 381.4,869.1 383.9,866.7 386.4,864.8 388.9,862.1 391.4,857.3 393.9,850.4 396.4,842.8 398.9,836.8 401.4,834.8 404.0,837.8 406.5,845.1 409.0,854.8 411.5,864.8 414.0,873.3 416.5,879.5 419.0,883.3 421.5,885.1 424.0,885.5 426.6,885.0 429.1,884.2 431.6,883.9 434.1,884.0 436.6,884.2 439.1,884.1 441.6,883.6 444.1,882.9 446.7,882.9 449.2,883.8 451.7,885.4 454.2,887.2 456.7,888.6 459.2,889.4 461.7,889.8 464.2,890.3 466.7,891.0 469.3,891.7 471.8,892.3 474.3,892.6 476.8,892.5 479.3,891.9 481.8,891.1 484.3,890.3 486.8,889.9 489.4,890.2 491.9,890.8 494.4,891.3 496.9,890.8 499.4,888.5 501.9,883.8 504.4,877.6 506.9,873.0 509.4,873.1 512.0,877.8 514.5,884.1 517.0,889.0 519.5,891.8 522.0,892.9 524.5,893.3 527.0,893.5 529.5,893.5 532.0,893.4 534.6,893.0 537.1,892.1 539.6,890.0 542.1,886.2 544.6,881.0 547.1,876.3 549.6,874.4 552.1,876.2 554.7,880.9 557.2,885.9 559.7,889.5 562.2,891.4 564.7,892.0 567.2,891.5 569.7,889.8 572.2,886.4 574.7,881.2 577.3,875.7 579.8,871.9 582.3,871.9 584.8,875.5 587.3,880.8 589.8,885.6 592.3,888.4 594.8,889.2 597.3,888.6 599.9,887.4 602.4,886.2 604.9,885.3 607.4,885.2 609.9,885.7 612.4,886.3 614.9,886.6 617.4,886.2 620.0,885.2 622.5,883.9 625.0,882.9 627.5,882.4 630.0,882.0 632.5,881.3 635.0,880.0 637.5,878.1 640.0,876.3 642.6,875.3 645.1,875.5 647.6,877.0 650.1,879.6 652.6,882.7 655.1,885.8 657.6,888.4 660.1,890.4 662.7,891.7 665.2,892.5 667.7,892.9 670.2,893.0 672.7,892.8 675.2,892.2 677.7,891.3 680.2,890.0 682.7,888.6 685.3,887.3 687.8,886.6 690.3,886.6 692.8,887.4 695.3,888.7 697.8,890.2 700.3,891.6 702.8,892.6 705.3,893.3 707.9,893.6 710.4,893.8 712.9,893.9 715.4,893.8 717.9,893.7 720.4,893.3 722.9,892.7 725.4,891.6 728.0,890.0 730.5,887.9 733.0,885.5 735.5,883.4 738.0,882.2 740.5,882.2 743.0,883.4 745.5,885.5 748.0,887.8 750.6,890.0 753.1,891.4 755.6,891.7" stroke="#0f9eb6" stroke-width="9.4"/>
<polyline points="755.6,891.7 758.1,891.3 760.6,890.5 763.1,889.5 765.6,888.7 768.1,888.2 770.7,887.7 773.2,887.2 775.7,887.0 778.2,886.5 780.7,885.8 783.2,885.6 785.7,885.7 788.2,885.3 790.7,884.8 793.3,884.3 795.8,883.2 798.3,881.9 800.8,880.9 803.3,880.2 805.8,880.1 808.3,880.2 810.8,879.0 813.3,876.7 815.9,875.0 818.4,874.5 820.9,873.5 823.4,871.1 825.9,869.3 828.4,868.7 830.9,867.2 833.4,864.8 836.0,862.1 838.5,856.4 841.0,848.6 843.5,842.2" stroke="#0f9eb6" stroke-width="9.9"/>
<polyline points="843.5,842.2 844.7,839.4 846.0,836.4 847.3,833.5 848.5,828.0 849.8,821.5 851.0,817.6 852.3,813.8 853.5,809.2 854.8,804.6 856.0,797.6 857.3,790.0 858.6,784.5 859.8,779.3 861.1,771.8 862.3,766.4 863.6,765.1 864.8,764.9 866.1,766.0 867.3,765.5 868.6,762.6 869.9,762.2 871.1,764.2 872.4,766.4 873.6,768.2 874.9,769.5 876.1,773.3 877.4,781.0 878.6,786.8 879.9,788.4 881.2,791.0 882.4,795.3 883.7,798.1 884.9,800.4 886.2,804.4 887.4,808.9 888.7,812.5 890.0,814.2 891.2,814.7 892.5,815.0 893.7,815.7 895.0,815.6 896.2,814.8 897.5,815.9 898.7,815.8 900.0,812.7 901.3,807.0 902.5,798.1 903.8,790.0 905.0,781.3 906.3,770.3 907.5,762.2 908.8,758.4 910.0,757.6 911.3,756.5 912.6,754.5 913.8,754.3 915.1,755.7 916.3,759.2 917.6,767.1 918.8,776.6 920.1,784.9 921.3,792.7 922.6,801.4 923.9,810.0 925.1,816.7 926.4,821.9 927.6,827.0 928.9,831.4 930.1,833.4 931.4,832.6 932.6,832.5 933.9,833.2 935.2,834.1 936.4,836.5 937.7,838.2 938.9,839.1 940.2,841.3 941.4,844.0 942.7,846.5 944.0,848.3 945.2,849.2 946.5,850.6 947.7,852.2 949.0,853.9 950.2,857.1 951.5,857.7 952.7,857.4 954.0,860.5 955.3,862.4 956.5,861.5 957.8,862.8 959.0,864.9 960.3,865.5 961.5,867.2 962.8,868.3 964.0,867.7 965.3,867.9 966.6,868.3 967.8,868.1 969.1,867.6 970.3,866.7 971.6,865.6 972.8,865.1 974.1,866.0 975.3,866.9 976.6,865.9 977.9,862.6 979.1,859.1 980.4,858.1 981.6,857.6 982.9,856.4 984.1,855.3 985.4,853.6 986.6,852.0 987.9,850.3 989.2,849.0 990.4,848.6 991.7,848.3 992.9,848.4 994.2,847.2 995.4,844.1 996.7,843.1 998.0,846.8 999.2,851.5 1000.5,853.5 1001.7,854.7 1003.0,857.1 1004.2,857.6 1005.5,856.8 1006.7,856.4 1008.0,854.5 1009.3,854.2 1010.5,855.5 1011.8,855.2 1013.0,853.8 1014.3,850.7 1015.5,846.0 1016.8,842.2 1018.0,840.2 1019.3,839.1 1020.6,838.0 1021.8,836.9 1023.1,836.0 1024.3,833.0 1025.6,829.3 1026.8,828.6 1028.1,830.0 1029.3,829.6 1030.6,827.7 1031.9,829.0 1033.1,833.2 1034.4,835.0 1035.6,834.9 1036.9,836.3 1038.1,838.8 1039.4,840.0 1040.6,839.9 1041.9,839.8 1043.2,842.0 1044.4,845.0 1045.7,845.9 1046.9,845.7 1048.2,847.0 1049.4,848.8 1050.7,849.3 1051.9,849.7 1053.2,849.6 1054.5,849.1 1055.7,848.0 1057.0,846.3 1058.2,844.2 1059.5,841.2 1060.7,838.9 1062.0,837.9 1063.3,835.5 1064.5,832.2 1065.8,831.0 1067.0,827.8 1068.3,821.8 1069.5,817.7 1070.8,815.8 1072.0,815.4 1073.3,814.7 1074.6,812.0 1075.8,809.7 1077.1,810.1 1078.3,811.2 1079.6,812.0 1080.8,811.1 1082.1,808.9 1083.3,809.2 1084.6,810.8 1085.9,810.2 1087.1,807.0 1088.4,804.2 1089.6,802.5 1090.9,800.9 1092.1,799.5 1093.4,795.9 1094.6,790.6 1095.9,787.9 1097.2,787.6 1098.4,784.8 1099.7,780.7 1100.9,778.7 1102.2,776.4 1103.4,772.8 1104.7,769.5 1105.9,766.5 1107.2,765.3 1108.5,765.4 1109.7,764.1 1111.0,763.0 1112.2,763.0 1113.5,760.6 1114.7,758.2 1116.0,757.5 1117.3,755.5 1118.5,754.5 1119.8,755.1 1121.0,754.9 1122.3,754.9 1123.5,756.2 1124.8,758.9 1126.0,760.8 1127.3,760.4 1128.6,759.5 1129.8,761.9 1131.1,765.9 1132.3,767.5 1133.6,767.4 1134.8,765.9 1136.1,762.0 1137.3,759.4 1138.6,758.6 1139.9,754.4 1141.1,750.5 1142.4,747.7 1143.6,742.2 1144.9,735.5 1146.1,727.5 1147.4,720.1 1148.6,712.8 1149.9,703.6 1151.2,696.0 1152.4,689.6 1153.7,684.8 1154.9,682.9 1156.2,682.1 1157.4,683.4 1158.7,687.4 1159.9,692.8 1161.2,696.7 1162.5,700.9 1163.7,709.7 1165.0,721.8 1166.2,729.3 1167.5,735.6 1168.7,745.2 1170.0,751.4 1171.3,755.2 1172.5,763.2 1173.8,772.0 1175.0,776.9 1176.3,781.6 1177.5,787.4 1178.8,792.8 1180.0,798.0 1181.3,803.0 1182.6,805.7 1183.8,807.4 1185.1,809.3 1186.3,811.8 1187.6,817.2 1188.8,822.1 1190.1,822.5 1191.3,822.1 1192.6,822.9 1193.9,824.6 1195.1,825.1 1196.4,824.7 1197.6,825.3 1198.9,825.0 1200.1,824.2 1201.4,822.1 1202.6,819.3 1203.9,819.0 1205.2,816.8 1206.4,813.3 1207.7,811.2 1208.9,809.4 1210.2,808.6 1211.4,806.8 1212.7,804.6 1213.9,805.5 1215.2,807.6 1216.5,809.0 1217.7,809.0 1219.0,807.9 1220.2,808.3 1221.5,810.2 1222.7,811.0 1224.0,811.6 1225.2,813.2 1226.5,813.3 1227.8,813.1 1229.0,813.4 1230.3,813.3 1231.5,814.0 1232.8,813.1 1234.0,810.7 1235.3,810.0 1236.6,810.3 1237.8,810.4 1239.1,809.4 1240.3,808.1 1241.6,806.1 1242.8,805.2 1244.1,806.6 1245.3,807.0 1246.6,808.4 1247.9,810.6 1249.1,808.3 1250.4,803.9 1251.6,802.1 1252.9,801.3 1254.1,799.1 1255.4,798.5 1256.6,799.1 1257.9,797.8 1259.2,797.4 1260.4,800.2 1261.7,801.9 1262.9,801.6 1264.2,803.1 1265.4,805.0 1266.7,805.8 1267.9,806.5 1269.2,806.7 1270.5,807.6 1271.7,809.6 1273.0,812.9 1274.2,816.5 1275.5,817.8 1276.7,818.6 1278.0,818.9 1279.2,818.7 1280.5,821.7 1281.8,824.0 1283.0,823.4 1284.3,824.2 1285.5,826.2 1286.8,827.2 1288.0,826.9 1289.3,826.5 1290.6,827.2 1291.8,828.2 1293.1,827.9 1294.3,827.1 1295.6,829.2 1296.8,832.4 1298.1,832.0 1299.3,830.2 1300.6,828.9 1301.9,827.3 1303.1,825.8 1304.4,825.5 1305.6,825.7 1306.9,824.3 1308.1,823.0 1309.4,823.6 1310.6,822.5 1311.9,820.5 1313.2,821.8 1314.4,823.2 1315.7,821.5 1316.9,820.1 1318.2,818.9 1319.4,817.1 1320.7,817.0 1321.9,817.0 1323.2,815.9 1324.5,815.5 1325.7,815.6 1327.0,815.2 1328.2,815.1 1329.5,815.6 1330.7,815.6 1332.0,815.5 1333.2,816.5 1334.5,815.9 1335.8,814.0 1337.0,814.1 1338.3,814.6 1339.5,814.1 1340.8,813.2 1342.0,812.0 1343.3,811.2 1344.6,809.7 1345.8,807.6 1347.1,806.0 1348.3,805.2 1349.6,806.0 1350.8,804.2 1352.1,800.5 1353.3,799.6 1354.6,798.8 1355.9,797.3 1357.1,796.4 1358.4,796.1 1359.6,796.2 1360.9,794.7 1362.1,792.6 1363.4,790.8 1364.6,791.1 1365.9,792.4 1367.2,792.9 1368.4,796.2 1369.7,800.7 1370.9,800.9 1372.2,798.9 1373.4,800.7 1374.7,804.1 1375.9,806.0 1377.2,805.4 1378.5,803.4 1379.7,802.3 1381.0,801.8 1382.2,804.0 1383.5,805.6 1384.7,803.4 1386.0,802.5 1387.2,801.6 1388.5,800.1 1389.8,800.0 1391.0,799.7 1392.3,800.7 1393.5,801.9 1394.8,802.2 1396.0,802.3 1397.3,801.5 1398.6,801.4 1399.8,802.3 1401.1,802.2 1402.3,802.2 1403.6,802.0 1404.8,800.5 1406.1,798.7 1407.3,796.4 1408.6,793.3 1409.9,788.2 1411.1,782.7 1412.4,777.7 1413.6,770.9 1414.9,761.6 1416.1,751.1 1417.4,740.0 1418.6,725.1 1419.9,707.8 1421.2,692.0 1422.4,673.9 1423.7,648.4 1424.9,620.8 1426.2,594.3 1427.4,567.6 1428.7,545.4 1429.9,532.2 1431.2,529.0 1432.5,535.5 1433.7,550.2 1435.0,571.0 1436.2,596.0 1437.5,623.4 1438.7,650.4 1440.0,673.9 1441.2,695.8 1442.5,716.3 1443.8,732.4 1445.0,745.1 1446.3,756.0 1447.5,765.8 1448.8,774.9 1450.0,782.1 1451.3,787.3 1452.5,793.6 1453.8,800.1 1455.1,804.2 1456.3,806.6 1457.6,808.7 1458.8,812.7 1460.1,816.5 1461.3,818.7 1462.6,821.1 1463.9,822.4 1465.1,823.2 1466.4,825.4 1467.6,827.0 1468.9,829.2 1470.1,831.4 1471.4,831.6 1472.6,832.4 1473.9,834.9 1475.2,837.0 1476.4,837.4 1477.7,838.4 1478.9,839.0 1480.2,838.2 1481.4,839.7 1482.7,842.1 1483.9,842.3 1485.2,841.9 1486.5,842.2 1487.7,843.0 1489.0,843.1 1490.2,844.6 1491.5,847.6 1492.7,849.1 1494.0,849.2 1495.2,848.2 1496.5,847.2 1497.8,848.8 1499.0,851.2 1500.3,851.1 1501.5,850.7 1502.8,851.9 1504.0,852.6 1505.3,853.5 1506.5,854.7 1507.8,853.7 1509.1,853.1 1510.3,854.3 1511.6,856.1 1512.8,857.0 1514.1,856.6 1515.3,856.1 1516.6,856.1 1517.9,855.5 1519.1,854.3 1520.4,855.3 1521.6,857.9 1522.9,857.9 1524.1,856.7 1525.4,856.9 1526.6,856.3 1527.9,856.5 1529.2,858.7 1530.4,859.5 1531.7,859.7 1532.9,860.7 1534.2,861.2 1535.4,860.2 1536.7,859.4 1537.9,860.1 1539.2,860.8 1540.5,861.5 1541.7,861.2 1543.0,860.8 1544.2,862.5 1545.5,862.2 1546.7,861.2 1548.0,861.7 1549.2,860.4 1550.5,859.9 1551.8,861.3 1553.0,862.1 1554.3,862.2 1555.5,861.5 1556.8,861.2 1558.0,860.8 1559.3,860.1 1560.5,860.1 1561.8,860.1 1563.1,861.4 1564.3,863.0 1565.6,862.4 1566.8,862.6 1568.1,863.1 1569.3,862.0 1570.6,861.8 1571.9,862.9 1573.1,863.6 1574.4,863.2 1575.6,862.9 1576.9,863.3 1578.1,864.4 1579.4,864.7 1580.6,863.6 1581.9,865.0 1583.2,866.8 1584.4,866.1 1585.7,864.7 1586.9,864.1 1588.2,864.4 1589.4,864.6 1590.7,863.7 1591.9,862.0 1593.2,861.5 1594.5,862.5 1595.7,864.0 1597.0,864.7 1598.2,864.8 1599.5,864.0 1600.7,864.4 1602.0,866.5 1603.2,867.2 1604.5,867.3 1605.8,867.3 1607.0,866.8 1608.3,866.9 1609.5,866.8 1610.8,865.3 1612.0,865.0 1613.3,866.3 1614.5,866.2 1615.8,865.4 1617.1,865.5 1618.3,865.4 1619.6,864.0 1620.8,863.3 1622.1,863.8 1623.3,863.7 1624.6,862.0 1625.9,862.1 1627.1,864.3 1628.4,864.3 1629.6,863.8 1630.9,864.5 1632.1,864.4 1633.4,864.5 1634.6,865.1 1635.9,865.5 1637.2,865.9 1638.4,866.1 1639.7,864.6 1640.9,861.0 1642.2,859.5 1643.4,860.3 1644.7,860.8 1645.9,860.1 1647.2,859.3 1648.5,859.2 1649.7,860.2 1651.0,861.2 1652.2,861.1 1653.5,861.6 1654.7,862.7 1656.0,862.0 1657.2,859.9 1658.5,859.6 1659.8,860.1 1661.0,858.1 1662.3,857.7 1663.5,859.7 1664.8,860.4 1666.0,859.5 1667.3,858.8 1668.5,860.0 1669.8,860.7 1671.1,860.8 1672.3,861.4 1673.6,859.9 1674.8,858.2 1676.1,858.3 1677.3,858.5 1678.6,858.5 1679.8,858.8 1681.1,859.9 1682.4,861.0 1683.6,860.9 1684.9,859.9 1686.1,858.3 1687.4,858.0 1688.6,859.8 1689.9,861.7 1691.2,862.2 1692.4,861.0 1693.7,859.8 1694.9,860.5 1696.2,862.0 1697.4,862.4 1698.7,861.6 1699.9,861.9 1701.2,862.7 1702.5,862.2 1703.7,861.8 1705.0,862.2 1706.2,861.8 1707.5,862.2 1708.7,863.5 1710.0,864.1 1711.2,865.3 1712.5,866.5 1713.8,866.8 1715.0,866.7 1716.3,866.0 1717.5,865.6 1718.8,865.4 1720.0,867.0 1721.3,869.3 1722.5,869.0 1723.8,868.6 1725.1,868.4 1726.3,868.1 1727.6,867.1 1728.8,867.0 1730.1,868.7 1731.3,868.6 1732.6,869.0 1733.8,869.8 1735.1,868.6 1736.4,868.3 1737.6,869.4 1738.9,868.0 1740.1,866.1 1741.4,868.6 1742.6,871.5 1743.9,871.2 1745.2,870.3 1746.4,870.0 1747.7,870.2 1748.9,870.4 1750.2,869.9 1751.4,870.6 1752.7,871.8 1753.9,871.6 1755.2,870.3 1756.5,869.2 1757.7,869.4 1759.0,870.3 1760.2,870.3 1761.5,869.1 1762.7,868.6 1764.0,869.9 1765.2,870.1 1766.5,870.2 1767.8,871.2 1769.0,871.0 1770.3,870.8 1771.5,871.0 1772.8,870.1 1774.0,869.2 1775.3,869.6 1776.5,870.7 1777.8,870.0 1779.1,869.4 1780.3,871.2 1781.6,871.3 1782.8,870.4 1784.1,870.6 1785.3,870.8 1786.6,870.8 1787.8,870.3 1789.1,870.3 1790.4,871.4 1791.6,871.9 1792.9,872.2 1794.1,872.5 1795.4,872.9 1796.6,873.0 1797.9,871.3 1799.2,869.5 1800.4,869.3 1801.7,870.9 1802.9,872.1 1804.2,872.0 1805.4,872.7 1806.7,872.3 1807.9,871.6 1809.2,872.6 1810.5,872.5 1811.7,872.4 1813.0,873.6 1814.2,873.9 1815.5,873.5 1816.7,873.0 1818.0,872.0 1819.2,872.4 1820.5,874.5 1821.8,874.9 1823.0,874.8 1824.3,875.6 1825.5,875.4 1826.8,874.4 1828.0,874.9 1829.3,876.0 1830.5,875.1 1831.8,874.4 1833.1,875.5 1834.3,874.9 1835.6,872.5 1836.8,873.0 1838.1,876.0 1839.3,876.4 1840.6,875.4 1841.8,875.7 1843.1,875.7 1844.4,875.0 1845.6,875.7 1846.9,878.1 1848.1,878.9 1849.4,876.7 1850.6,874.7 1851.9,875.5 1853.2,876.6 1854.4,875.2 1855.7,874.4 1856.9,875.3 1858.2,875.6 1859.4,874.5 1860.7,874.0 1861.9,874.5 1863.2,875.0 1864.5,875.6 1865.7,876.5 1867.0,876.7 1868.2,876.1 1869.5,876.1 1870.7,875.8 1872.0,874.9 1873.2,874.7 1874.5,875.8 1875.8,877.0 1877.0,876.7 1878.3,876.9 1879.5,877.8 1880.8,877.0 1882.0,875.2 1883.3,875.4 1884.5,877.4 1885.8,878.0 1887.1,877.4 1888.3,876.3 1889.6,876.1 1890.8,878.3 1892.1,879.5 1893.3,878.0 1894.6,877.0 1895.8,876.5 1897.1,875.2 1898.4,874.9 1899.6,876.8 1900.9,878.8 1902.1,879.1 1903.4,877.5 1904.6,876.6 1905.9,876.7 1907.1,876.4 1908.4,876.2 1909.7,875.9 1910.9,877.1 1912.2,878.9 1913.4,879.6 1914.7,880.5 1915.9,880.3" stroke="#0f9eb6" stroke-width="10.2"/>
<polyline points="283.4,894.2 285.9,894.1 288.4,894.1 290.9,894.0 293.4,894.0 296.0,893.9 298.5,893.8 301.0,893.7 303.5,893.5 306.0,893.2 308.5,892.5 311.0,891.2 313.5,889.4 316.1,887.4 318.6,886.0 321.1,886.0 323.6,887.2 326.1,889.1 328.6,890.8 331.1,891.9 333.6,892.5 336.1,892.6 338.7,892.4 341.2,891.9 343.7,890.9 346.2,889.3 348.7,887.4 351.2,885.7 353.7,884.8 356.2,885.1 358.7,886.5 361.3,888.1 363.8,889.6 366.3,890.4 368.8,890.5 371.3,890.0 373.8,888.7 376.3,887.0 378.8,885.1 381.4,883.5 383.9,882.4 386.4,881.5 388.9,880.2 391.4,878.0 393.9,874.9 396.4,871.4 398.9,868.7 401.4,867.8 404.0,869.2 406.5,872.4 409.0,876.8 411.5,881.3 414.0,885.1 416.5,887.9 419.0,889.6 421.5,890.4 424.0,890.6 426.6,890.4 429.1,890.1 431.6,890.0 434.1,890.0 436.6,890.2 439.1,890.2 441.6,890.0 444.1,889.7 446.7,889.7 449.2,890.2 451.7,890.9 454.2,891.6 456.7,892.2 459.2,892.5 461.7,892.7 464.2,892.9 466.7,893.2 469.3,893.5 471.8,893.7 474.3,893.8 476.8,893.8 479.3,893.6 481.8,893.3 484.3,893.0 486.8,892.9 489.4,893.0 491.9,893.2 494.4,893.4 496.9,893.2 499.4,892.4 501.9,890.7 504.4,888.5 506.9,886.9 509.4,886.9 512.0,888.6 514.5,890.9 517.0,892.6 519.5,893.6 522.0,894.0 524.5,894.1 527.0,894.2 529.5,894.2 532.0,894.2 534.6,894.0 537.1,893.7 539.6,892.9 542.1,891.6 544.6,889.8 547.1,888.1 549.6,887.4 552.1,888.0 554.7,889.7 557.2,891.5 559.7,892.8 562.2,893.5 564.7,893.7 567.2,893.5 569.7,892.9 572.2,891.7 574.7,889.8 577.3,887.8 579.8,886.5 582.3,886.5 584.8,887.8 587.3,889.7 589.8,891.4 592.3,892.4 594.8,892.7 597.3,892.5 599.9,892.0 602.4,891.6 604.9,891.3 607.4,891.2 609.9,891.4 612.4,891.6 614.9,891.7 617.4,891.6 620.0,891.2 622.5,890.8 625.0,890.4 627.5,890.2 630.0,890.1 632.5,889.8 635.0,889.4 637.5,888.7 640.0,888.1 642.6,887.7 645.1,887.8 647.6,888.3 650.1,889.3 652.6,890.4 655.1,891.5 657.6,892.4 660.1,893.1 662.7,893.6 665.2,893.9 667.7,894.0 670.2,894.0 672.7,894.0 675.2,893.8 677.7,893.4 680.2,893.0 682.7,892.4 685.3,892.0 687.8,891.7 690.3,891.7 692.8,892.0 695.3,892.5 697.8,893.0 700.3,893.5 702.8,893.9 705.3,894.1 707.9,894.2 710.4,894.3 712.9,894.3 715.4,894.3 717.9,894.3 720.4,894.1 722.9,893.9 725.4,893.5 728.0,892.9 730.5,892.0 733.0,891.1 735.5,890.3 738.0,889.9 740.5,889.8 743.0,890.3 745.5,891.1 748.0,892.0 750.6,892.8 753.1,893.3 755.6,893.5" stroke="#f5862e" stroke-width="9.4"/>
<polyline points="755.6,893.5 758.1,893.3 760.6,893.0 763.1,892.6 765.6,892.3 768.1,892.1 770.7,891.8 773.2,891.4 775.7,891.3 778.2,891.3 780.7,891.3 783.2,891.1 785.7,890.9 788.2,890.7 790.7,890.9 793.3,890.4 795.8,889.0 798.3,888.5 800.8,888.7 803.3,888.8 805.8,889.1 808.3,888.9 810.8,888.1 813.3,887.2 815.9,886.8 818.4,886.4 820.9,885.2 823.4,884.0 825.9,883.6 828.4,883.6 830.9,883.6 833.4,882.1 836.0,880.6 838.5,879.1 841.0,875.5 843.5,870.9" stroke="#f5862e" stroke-width="9.9"/>
<polyline points="843.5,870.9 844.7,868.6 846.0,866.5 847.3,864.3 848.5,862.3 849.8,861.2 851.0,860.0 852.3,857.1 853.5,853.6 854.8,850.6 856.0,848.3 857.3,845.5 858.6,841.3 859.8,837.6 861.1,835.1 862.3,833.1 863.6,832.0 864.8,831.1 866.1,830.4 867.3,830.7 868.6,831.3 869.9,830.5 871.1,829.9 872.4,832.2 873.6,835.1 874.9,837.0 876.1,838.6 877.4,841.2 878.6,845.2 879.9,847.6 881.2,848.4 882.4,849.9 883.7,850.7 884.9,850.9 886.2,851.0 887.4,851.7 888.7,854.2 890.0,857.0 891.2,858.7 892.5,858.8 893.7,859.3 895.0,860.1 896.2,859.0 897.5,857.5 898.7,857.1 900.0,856.3 901.3,854.1 902.5,851.1 903.8,848.6 905.0,845.0 906.3,838.4 907.5,832.5 908.8,830.6 910.0,830.6 911.3,829.7 912.6,828.7 913.8,829.4 915.1,830.3 916.3,832.3 917.6,835.3 918.8,838.3 920.1,843.1 921.3,848.0 922.6,851.8 923.9,855.7 925.1,859.3 926.4,862.1 927.6,864.7 928.9,866.5 930.1,868.2 931.4,869.6 932.6,869.6 933.9,869.3 935.2,868.6 936.4,869.2 937.7,871.4 938.9,873.0 940.2,874.8 941.4,875.5 942.7,876.2 944.0,878.4 945.2,878.8 946.5,877.5 947.7,877.5 949.0,878.7 950.2,878.6 951.5,877.8 952.7,879.5 954.0,880.6 955.3,879.5 956.5,880.3 957.8,881.5 959.0,881.4 960.3,881.7 961.5,882.2 962.8,883.2 964.0,883.8 965.3,882.9 966.6,883.3 967.8,884.6 969.1,884.1 970.3,882.9 971.6,883.0 972.8,882.9 974.1,882.2 975.3,883.0 976.6,883.5 977.9,881.6 979.1,879.8 980.4,878.8 981.6,878.1 982.9,878.2 984.1,877.5 985.4,877.0 986.6,876.9 987.9,875.4 989.2,874.4 990.4,874.4 991.7,873.9 992.9,875.0 994.2,876.0 995.4,875.4 996.7,875.5 998.0,876.4 999.2,876.5 1000.5,876.4 1001.7,877.7 1003.0,879.1 1004.2,878.5 1005.5,878.3 1006.7,879.4 1008.0,879.6 1009.3,879.3 1010.5,878.6 1011.8,876.6 1013.0,874.0 1014.3,871.9 1015.5,870.8 1016.8,870.0 1018.0,868.6 1019.3,868.3 1020.6,868.5 1021.8,867.6 1023.1,866.8 1024.3,866.8 1025.6,866.7 1026.8,866.2 1028.1,866.2 1029.3,866.0 1030.6,865.1 1031.9,865.1 1033.1,865.8 1034.4,866.0 1035.6,867.0 1036.9,868.7 1038.1,870.4 1039.4,872.6 1040.6,874.4 1041.9,873.2 1043.2,871.9 1044.4,873.0 1045.7,872.4 1046.9,871.7 1048.2,872.5 1049.4,871.5 1050.7,870.8 1051.9,870.8 1053.2,870.5 1054.5,871.9 1055.7,873.1 1057.0,872.5 1058.2,872.8 1059.5,873.6 1060.7,871.5 1062.0,868.3 1063.3,867.9 1064.5,867.8 1065.8,866.5 1067.0,864.9 1068.3,863.7 1069.5,863.5 1070.8,863.7 1072.0,863.0 1073.3,861.0 1074.6,857.9 1075.8,855.5 1077.1,855.0 1078.3,855.5 1079.6,856.8 1080.8,858.7 1082.1,859.6 1083.3,859.9 1084.6,860.2 1085.9,857.7 1087.1,854.5 1088.4,853.3 1089.6,852.7 1090.9,853.0 1092.1,853.0 1093.4,851.2 1094.6,848.5 1095.9,845.1 1097.2,843.6 1098.4,844.5 1099.7,844.1 1100.9,842.3 1102.2,841.5 1103.4,840.5 1104.7,838.1 1105.9,835.8 1107.2,835.5 1108.5,835.7 1109.7,835.4 1111.0,834.3 1112.2,832.6 1113.5,832.1 1114.7,831.8 1116.0,831.2 1117.3,831.4 1118.5,832.3 1119.8,831.4 1121.0,828.9 1122.3,829.0 1123.5,829.4 1124.8,829.1 1126.0,830.8 1127.3,832.1 1128.6,832.4 1129.8,832.5 1131.1,833.3 1132.3,834.7 1133.6,835.3 1134.8,834.3 1136.1,834.1 1137.3,835.1 1138.6,833.5 1139.9,831.2 1141.1,830.6 1142.4,829.0 1143.6,825.2 1144.9,822.2 1146.1,819.6 1147.4,816.9 1148.6,814.1 1149.9,810.6 1151.2,808.1 1152.4,805.0 1153.7,801.6 1154.9,799.9 1156.2,799.5 1157.4,798.7 1158.7,798.0 1159.9,801.7 1161.2,807.0 1162.5,810.2 1163.7,813.1 1165.0,816.6 1166.2,820.6 1167.5,823.1 1168.7,824.9 1170.0,829.0 1171.3,833.5 1172.5,836.8 1173.8,838.8 1175.0,840.4 1176.3,842.6 1177.5,846.9 1178.8,851.3 1180.0,851.3 1181.3,849.9 1182.6,851.0 1183.8,854.9 1185.1,857.9 1186.3,858.3 1187.6,860.1 1188.8,862.4 1190.1,861.8 1191.3,860.1 1192.6,859.8 1193.9,861.5 1195.1,862.0 1196.4,861.4 1197.6,862.9 1198.9,864.0 1200.1,862.7 1201.4,859.9 1202.6,858.0 1203.9,857.3 1205.2,857.1 1206.4,856.8 1207.7,857.0 1208.9,856.8 1210.2,854.3 1211.4,853.0 1212.7,853.9 1213.9,853.9 1215.2,852.7 1216.5,852.1 1217.7,853.1 1219.0,854.8 1220.2,856.5 1221.5,857.7 1222.7,857.1 1224.0,856.3 1225.2,856.3 1226.5,855.9 1227.8,855.4 1229.0,855.6 1230.3,855.9 1231.5,855.9 1232.8,856.3 1234.0,856.5 1235.3,857.2 1236.6,857.5 1237.8,856.6 1239.1,856.3 1240.3,855.5 1241.6,854.4 1242.8,853.8 1244.1,854.6 1245.3,854.8 1246.6,853.3 1247.9,852.8 1249.1,852.9 1250.4,852.0 1251.6,850.7 1252.9,850.3 1254.1,851.7 1255.4,853.1 1256.6,852.5 1257.9,850.5 1259.2,849.3 1260.4,850.4 1261.7,851.3 1262.9,851.3 1264.2,852.4 1265.4,853.4 1266.7,854.5 1267.9,855.5 1269.2,854.8 1270.5,855.4 1271.7,857.8 1273.0,859.3 1274.2,858.7 1275.5,858.8 1276.7,861.3 1278.0,862.6 1279.2,862.9 1280.5,865.1 1281.8,866.4 1283.0,865.5 1284.3,865.1 1285.5,865.3 1286.8,865.3 1288.0,865.1 1289.3,865.6 1290.6,866.4 1291.8,866.0 1293.1,864.7 1294.3,863.9 1295.6,863.9 1296.8,866.1 1298.1,869.1 1299.3,868.4 1300.6,866.1 1301.9,866.0 1303.1,865.8 1304.4,863.9 1305.6,863.7 1306.9,864.5 1308.1,864.2 1309.4,864.2 1310.6,864.0 1311.9,863.1 1313.2,863.6 1314.4,864.4 1315.7,863.5 1316.9,862.7 1318.2,862.0 1319.4,861.0 1320.7,860.5 1321.9,859.1 1323.2,859.2 1324.5,860.8 1325.7,859.9 1327.0,858.8 1328.2,860.1 1329.5,861.0 1330.7,859.1 1332.0,858.3 1333.2,859.8 1334.5,859.8 1335.8,859.3 1337.0,859.9 1338.3,860.1 1339.5,859.3 1340.8,857.8 1342.0,857.9 1343.3,857.9 1344.6,856.9 1345.8,856.9 1347.1,855.9 1348.3,854.2 1349.6,853.3 1350.8,852.8 1352.1,852.4 1353.3,852.1 1354.6,851.3 1355.9,849.9 1357.1,849.2 1358.4,849.7 1359.6,849.2 1360.9,848.8 1362.1,849.6 1363.4,850.0 1364.6,850.5 1365.9,852.3 1367.2,852.5 1368.4,852.0 1369.7,852.2 1370.9,851.7 1372.2,852.4 1373.4,853.6 1374.7,854.1 1375.9,854.7 1377.2,855.4 1378.5,855.7 1379.7,854.8 1381.0,853.2 1382.2,852.3 1383.5,852.4 1384.7,853.5 1386.0,855.1 1387.2,855.6 1388.5,853.7 1389.8,852.7 1391.0,853.1 1392.3,852.2 1393.5,851.9 1394.8,852.6 1396.0,852.9 1397.3,854.5 1398.6,856.5 1399.8,856.2 1401.1,854.9 1402.3,854.5 1403.6,855.0 1404.8,855.1 1406.1,854.0 1407.3,852.0 1408.6,849.2 1409.9,846.3 1411.1,844.0 1412.4,842.0 1413.6,839.2 1414.9,835.6 1416.1,830.5 1417.4,826.0 1418.6,822.6 1419.9,815.0 1421.2,804.5 1422.4,795.3 1423.7,786.3 1424.9,774.2 1426.2,761.5 1427.4,752.6 1428.7,744.9 1429.9,737.8 1431.2,734.3 1432.5,735.9 1433.7,741.8 1435.0,750.5 1436.2,763.5 1437.5,777.8 1438.7,790.1 1440.0,800.4 1441.2,807.8 1442.5,815.0 1443.8,822.8 1445.0,829.7 1446.3,835.8 1447.5,838.8 1448.8,841.8 1450.0,846.6 1451.3,848.6 1452.5,851.3 1453.8,856.4 1455.1,859.1 1456.3,858.9 1457.6,858.8 1458.8,860.5 1460.1,861.7 1461.3,862.0 1462.6,863.1 1463.9,864.5 1465.1,865.1 1466.4,865.7 1467.6,866.4 1468.9,866.6 1470.1,868.2 1471.4,869.6 1472.6,869.0 1473.9,870.2 1475.2,872.1 1476.4,872.4 1477.7,873.0 1478.9,872.8 1480.2,872.1 1481.4,872.6 1482.7,872.9 1483.9,872.2 1485.2,871.5 1486.5,873.2 1487.7,875.5 1489.0,876.1 1490.2,875.6 1491.5,874.8 1492.7,874.2 1494.0,873.9 1495.2,874.5 1496.5,875.0 1497.8,875.3 1499.0,875.7 1500.3,875.4 1501.5,875.0 1502.8,875.6 1504.0,877.7 1505.3,879.2 1506.5,878.5 1507.8,878.5 1509.1,879.9 1510.3,879.0 1511.6,877.7 1512.8,878.7 1514.1,878.4 1515.3,876.2 1516.6,876.1 1517.9,877.2 1519.1,876.6 1520.4,877.2 1521.6,877.8 1522.9,877.1 1524.1,878.6 1525.4,880.2 1526.6,880.2 1527.9,880.2 1529.2,880.4 1530.4,879.4 1531.7,878.2 1532.9,878.8 1534.2,878.9 1535.4,878.7 1536.7,879.3 1537.9,879.4 1539.2,879.5 1540.5,879.8 1541.7,879.8 1543.0,879.9 1544.2,880.5 1545.5,881.2 1546.7,881.0 1548.0,880.2 1549.2,880.9 1550.5,882.0 1551.8,882.1 1553.0,881.6 1554.3,881.0 1555.5,880.6 1556.8,881.0 1558.0,881.5 1559.3,881.9 1560.5,883.7 1561.8,884.6 1563.1,883.4 1564.3,883.3 1565.6,883.6 1566.8,882.6 1568.1,881.9 1569.3,882.2 1570.6,882.1 1571.9,882.5 1573.1,883.8 1574.4,883.6 1575.6,881.9 1576.9,880.8 1578.1,880.0 1579.4,879.6 1580.6,880.7 1581.9,881.7 1583.2,882.0 1584.4,882.2 1585.7,882.9 1586.9,882.3 1588.2,881.7 1589.4,883.0 1590.7,882.8 1591.9,881.8 1593.2,882.6 1594.5,883.5 1595.7,883.5 1597.0,883.7 1598.2,884.0 1599.5,883.5 1600.7,883.5 1602.0,883.2 1603.2,883.0 1604.5,883.4 1605.8,883.3 1607.0,883.1 1608.3,882.9 1609.5,882.7 1610.8,883.3 1612.0,884.3 1613.3,884.8 1614.5,884.3 1615.8,883.1 1617.1,881.9 1618.3,882.0 1619.6,883.1 1620.8,884.2 1622.1,885.8 1623.3,886.5 1624.6,885.4 1625.9,885.0 1627.1,885.9 1628.4,885.4 1629.6,883.9 1630.9,884.5 1632.1,884.1 1633.4,881.7 1634.6,882.0 1635.9,883.0 1637.2,882.9 1638.4,882.6 1639.7,882.5 1640.9,884.2 1642.2,884.8 1643.4,883.8 1644.7,882.7 1645.9,882.2 1647.2,883.6 1648.5,883.6 1649.7,882.0 1651.0,881.0 1652.2,880.7 1653.5,880.2 1654.7,880.0 1656.0,881.3 1657.2,881.6 1658.5,881.2 1659.8,881.9 1661.0,882.5 1662.3,882.8 1663.5,883.2 1664.8,883.5 1666.0,883.6 1667.3,883.4 1668.5,882.9 1669.8,882.2 1671.1,879.8 1672.3,878.7 1673.6,880.1 1674.8,881.8 1676.1,882.0 1677.3,881.0 1678.6,880.9 1679.8,881.7 1681.1,882.0 1682.4,881.8 1683.6,882.4 1684.9,883.3 1686.1,884.2 1687.4,883.5 1688.6,882.4 1689.9,882.8 1691.2,882.8 1692.4,882.1 1693.7,881.7 1694.9,882.7 1696.2,884.3 1697.4,883.3 1698.7,883.0 1699.9,885.0 1701.2,884.9 1702.5,883.7 1703.7,884.4 1705.0,884.5 1706.2,883.7 1707.5,883.7 1708.7,884.1 1710.0,884.6 1711.2,883.8 1712.5,883.0 1713.8,884.6 1715.0,886.1 1716.3,885.0 1717.5,884.7 1718.8,884.9 1720.0,884.7 1721.3,885.0 1722.5,884.3 1723.8,884.0 1725.1,883.9 1726.3,885.1 1727.6,886.4 1728.8,885.6 1730.1,884.7 1731.3,884.2 1732.6,884.6 1733.8,885.6 1735.1,885.2 1736.4,884.8 1737.6,886.0 1738.9,887.2 1740.1,886.8 1741.4,885.2 1742.6,885.1 1743.9,887.0 1745.2,887.0 1746.4,886.2 1747.7,886.9 1748.9,887.1 1750.2,887.7 1751.4,888.2 1752.7,887.0 1753.9,885.7 1755.2,883.9 1756.5,883.6 1757.7,885.0 1759.0,885.0 1760.2,885.2 1761.5,886.9 1762.7,886.8 1764.0,885.6 1765.2,886.2 1766.5,886.9 1767.8,887.0 1769.0,887.2 1770.3,887.0 1771.5,885.7 1772.8,885.4 1774.0,887.2 1775.3,888.3 1776.5,888.1 1777.8,888.5 1779.1,887.6 1780.3,885.0 1781.6,884.0 1782.8,886.0 1784.1,887.5 1785.3,887.9 1786.6,889.1 1787.8,888.1 1789.1,885.6 1790.4,886.4 1791.6,888.9 1792.9,889.0 1794.1,887.2 1795.4,887.2 1796.6,887.7 1797.9,887.5 1799.2,888.6 1800.4,889.1 1801.7,887.8 1802.9,888.1 1804.2,889.3 1805.4,889.1 1806.7,888.3 1807.9,887.9 1809.2,887.5 1810.5,887.0 1811.7,886.9 1813.0,887.8 1814.2,889.4 1815.5,890.4 1816.7,889.3 1818.0,886.1 1819.2,885.1 1820.5,888.0 1821.8,889.2 1823.0,887.8 1824.3,887.6 1825.5,888.3 1826.8,888.9 1828.0,889.6 1829.3,888.6 1830.5,886.5 1831.8,886.2 1833.1,887.6 1834.3,888.2 1835.6,887.3 1836.8,886.7 1838.1,887.6 1839.3,888.5 1840.6,887.8 1841.8,887.5 1843.1,889.1 1844.4,889.7 1845.6,888.3 1846.9,887.3 1848.1,887.3 1849.4,888.2 1850.6,889.2 1851.9,889.7 1853.2,890.1 1854.4,890.2 1855.7,889.7 1856.9,888.8 1858.2,888.4 1859.4,889.3 1860.7,889.5 1861.9,888.6 1863.2,887.5 1864.5,888.0 1865.7,888.6 1867.0,888.2 1868.2,888.6 1869.5,888.5 1870.7,887.3 1872.0,886.7 1873.2,886.4 1874.5,886.7 1875.8,887.6 1877.0,889.0 1878.3,889.6 1879.5,888.8 1880.8,888.3 1882.0,888.4 1883.3,889.1 1884.5,890.2 1885.8,890.1 1887.1,888.4 1888.3,887.8 1889.6,888.7 1890.8,888.3 1892.1,888.1 1893.3,889.6 1894.6,890.5 1895.8,890.0 1897.1,888.7 1898.4,888.8 1899.6,890.5 1900.9,891.3 1902.1,889.9 1903.4,888.8 1904.6,889.5 1905.9,889.8 1907.1,889.7 1908.4,890.4 1909.7,889.8 1910.9,889.4 1912.2,890.5 1913.4,890.7 1914.7,889.9 1915.9,889.6" stroke="#f5862e" stroke-width="10.5"/>
<polyline points="283.4,894.5 285.9,894.5 288.4,894.5 290.9,894.5 293.4,894.5 296.0,894.4 298.5,894.4 301.0,894.4 303.5,894.3 306.0,894.3 308.5,894.1 311.0,893.8 313.5,893.4 316.1,892.9 318.6,892.6 321.1,892.6 323.6,892.8 326.1,893.3 328.6,893.7 331.1,894.0 333.6,894.1 336.1,894.1 338.7,894.1 341.2,893.9 343.7,893.6 346.2,893.2 348.7,892.7 351.2,892.3 353.7,892.0 356.2,892.1 358.7,892.4 361.3,892.8 363.8,893.2 366.3,893.4 368.8,893.5 371.3,893.3 373.8,892.9 376.3,892.5 378.8,891.9 381.4,891.4 383.9,891.1 386.4,890.8 388.9,890.4 391.4,889.8 393.9,888.9 396.4,887.9 398.9,887.1 401.4,886.8 404.0,887.2 406.5,888.2 409.0,889.4 411.5,890.8 414.0,891.9 416.5,892.7 419.0,893.2 421.5,893.4 424.0,893.5 426.6,893.4 429.1,893.3 431.6,893.3 434.1,893.3 436.6,893.4 439.1,893.4 441.6,893.4 444.1,893.3 446.7,893.3 449.2,893.4 451.7,893.6 454.2,893.8 456.7,894.0 459.2,894.1 461.7,894.1 464.2,894.2 466.7,894.3 469.3,894.3 471.8,894.4 474.3,894.4 476.8,894.4 479.3,894.4 481.8,894.3 484.3,894.3 486.8,894.2 489.4,894.3 491.9,894.3 494.4,894.4 496.9,894.3 499.4,894.2 501.9,893.8 504.4,893.4 506.9,893.1 509.4,893.1 512.0,893.4 514.5,893.9 517.0,894.2 519.5,894.4 522.0,894.5 524.5,894.5 527.0,894.5 529.5,894.5 532.0,894.5 534.6,894.5 537.1,894.4 539.6,894.3 542.1,894.0 544.6,893.6 547.1,893.3 549.6,893.2 552.1,893.3 554.7,893.6 557.2,894.0 559.7,894.2 562.2,894.4 564.7,894.4 567.2,894.4 569.7,894.3 572.2,894.0 574.7,893.6 577.3,893.2 579.8,893.0 582.3,893.0 584.8,893.2 587.3,893.6 589.8,894.0 592.3,894.2 594.8,894.2 597.3,894.2 599.9,894.1 602.4,894.0 604.9,893.9 607.4,893.9 609.9,894.0 612.4,894.0 614.9,894.0 617.4,894.0 620.0,893.9 622.5,893.8 625.0,893.8 627.5,893.7 630.0,893.7 632.5,893.6 635.0,893.6 637.5,893.4 640.0,893.3 642.6,893.2 645.1,893.2 647.6,893.3 650.1,893.5 652.6,893.8 655.1,894.0 657.6,894.2 660.1,894.3 662.7,894.4 665.2,894.5 667.7,894.5 670.2,894.5 672.7,894.5 675.2,894.4 677.7,894.4 680.2,894.3 682.7,894.2 685.3,894.1 687.8,894.0 690.3,894.0 692.8,894.1 695.3,894.2 697.8,894.3 700.3,894.4 702.8,894.5 705.3,894.5 707.9,894.5 710.4,894.5 712.9,894.5 715.4,894.5 717.9,894.5 720.4,894.5 722.9,894.5 725.4,894.4 728.0,894.2 730.5,894.1 733.0,893.9 735.5,893.7 738.0,893.6 740.5,893.6 743.0,893.7 745.5,893.9 748.0,894.0 750.6,894.2 753.1,894.3 755.6,894.4 758.1,894.3 760.6,894.3 763.1,894.2 765.6,894.1 768.1,894.1 770.7,894.0 773.2,893.8 775.7,893.7 778.2,893.8 780.7,894.0 783.2,894.1 785.7,894.1 788.2,894.3 790.7,894.1 793.3,893.6 795.8,893.3 798.3,893.1 800.8,893.4 803.3,893.6 805.8,893.5 808.3,893.4 810.8,893.2 813.3,892.8 815.9,892.5 818.4,892.2 820.9,891.2 823.4,890.7 825.9,891.0 828.4,890.6 830.9,890.4 833.4,889.7 836.0,889.2 838.5,890.1 841.0,889.8 843.5,888.3 844.7,886.8 846.0,883.8 847.3,881.2 848.5,881.0 849.8,880.7 851.0,880.4 852.3,880.9 853.5,879.3 854.8,877.5 856.0,877.2 857.3,876.7 858.6,876.3 859.8,876.7 861.1,875.5 862.3,873.1 863.6,872.5 864.8,873.3 866.1,873.0 867.3,872.4 868.6,871.9 869.9,871.5 871.1,871.9 872.4,873.2 873.6,875.0 874.9,875.3 876.1,875.5 877.4,876.6 878.6,877.0 879.9,877.8 881.2,878.3 882.4,878.2 883.7,879.5 884.9,880.8 886.2,880.9 887.4,879.2 888.7,878.9 890.0,881.6 891.2,882.3 892.5,881.2 893.7,880.9 895.0,882.7 896.2,883.5 897.5,882.0 898.7,882.0 900.0,882.3 901.3,882.0 902.5,880.9 903.8,878.4 905.0,875.4 906.3,873.9 907.5,873.4 908.8,872.6 910.0,872.2 911.3,871.9 912.6,871.3 913.8,871.6 915.1,872.8 916.3,873.4 917.6,873.9 918.8,875.8 920.1,877.3 921.3,878.1 922.6,879.9 923.9,881.3 925.1,882.0 926.4,884.0 927.6,885.7 928.9,885.0 930.1,886.0 931.4,887.7 932.6,886.2 933.9,884.7 935.2,886.4 936.4,888.9 937.7,888.5 938.9,888.1 940.2,889.6 941.4,890.2 942.7,889.0 944.0,888.2 945.2,889.0 946.5,889.9 947.7,891.3 949.0,891.8 950.2,890.5 951.5,891.3 952.7,892.8 954.0,891.9 955.3,891.5 956.5,892.4 957.8,892.4 959.0,892.4 960.3,893.2 961.5,893.8 962.8,893.8 964.0,894.0 965.3,894.2 966.6,894.1 967.8,894.2 969.1,893.4 970.3,893.3 971.6,893.4 972.8,891.5 974.1,889.9 975.3,891.2 976.6,892.7 977.9,891.9 979.1,891.7 980.4,892.6 981.6,892.9 982.9,891.9 984.1,890.6 985.4,891.2 986.6,892.5 987.9,893.0 989.2,892.3 990.4,890.6 991.7,890.3 992.9,891.9 994.2,892.4 995.4,892.5 996.7,892.5 998.0,891.6 999.2,892.0 1000.5,893.6 1001.7,893.2 1003.0,891.5 1004.2,891.2 1005.5,891.8 1006.7,892.6 1008.0,892.6 1009.3,892.2 1010.5,892.9 1011.8,893.3 1013.0,891.9 1014.3,891.3 1015.5,891.5 1016.8,890.4 1018.0,890.3 1019.3,891.4 1020.6,891.2 1021.8,890.4 1023.1,889.7 1024.3,890.2 1025.6,891.9 1026.8,891.7 1028.1,889.8 1029.3,889.4 1030.6,889.6 1031.9,889.1 1033.1,889.3 1034.4,890.3 1035.6,890.5 1036.9,890.5 1038.1,889.8 1039.4,889.8 1040.6,891.2 1041.9,891.2 1043.2,891.1 1044.4,891.3 1045.7,891.5 1046.9,892.3 1048.2,892.0 1049.4,890.4 1050.7,890.0 1051.9,891.6 1053.2,891.2 1054.5,888.6 1055.7,888.1 1057.0,889.8 1058.2,891.1 1059.5,890.7 1060.7,890.1 1062.0,889.3 1063.3,887.8 1064.5,887.5 1065.8,888.2 1067.0,888.9 1068.3,889.1 1069.5,888.0 1070.8,886.9 1072.0,886.6 1073.3,886.3 1074.6,885.5 1075.8,884.5 1077.1,883.9 1078.3,885.2 1079.6,886.2 1080.8,884.8 1082.1,883.8 1083.3,884.6 1084.6,885.0 1085.9,884.5 1087.1,883.7 1088.4,883.5 1089.6,883.9 1090.9,882.8 1092.1,880.9 1093.4,879.8 1094.6,879.4 1095.9,879.7 1097.2,880.4 1098.4,879.9 1099.7,879.1 1100.9,879.5 1102.2,879.8 1103.4,879.8 1104.7,879.0 1105.9,878.4 1107.2,877.8 1108.5,876.6 1109.7,876.5 1111.0,876.5 1112.2,876.1 1113.5,875.2 1114.7,874.1 1116.0,874.4 1117.3,875.3 1118.5,876.0 1119.8,875.9 1121.0,875.4 1122.3,875.6 1123.5,875.7 1124.8,874.6 1126.0,873.9 1127.3,875.1 1128.6,876.2 1129.8,875.3 1131.1,873.3 1132.3,873.4 1133.6,874.9 1134.8,875.9 1136.1,876.8 1137.3,876.4 1138.6,875.5 1139.9,875.5 1141.1,876.0 1142.4,875.2 1143.6,873.3 1144.9,873.2 1146.1,873.8 1147.4,871.3 1148.6,869.0 1149.9,868.8 1151.2,869.0 1152.4,868.4 1153.7,867.5 1154.9,868.2 1156.2,868.8 1157.4,866.8 1158.7,865.5 1159.9,868.2 1161.2,870.3 1162.5,870.0 1163.7,869.8 1165.0,871.2 1166.2,874.6 1167.5,876.9 1168.7,876.6 1170.0,876.4 1171.3,876.8 1172.5,878.3 1173.8,881.1 1175.0,882.2 1176.3,881.5 1177.5,881.2 1178.8,882.1 1180.0,884.0 1181.3,884.6 1182.6,883.5 1183.8,882.2 1185.1,882.3 1186.3,883.7 1187.6,885.1 1188.8,886.9 1190.1,888.0 1191.3,888.0 1192.6,888.2 1193.9,888.5 1195.1,888.3 1196.4,888.0 1197.6,887.7 1198.9,887.2 1200.1,887.2 1201.4,886.6 1202.6,885.5 1203.9,885.8 1205.2,886.4 1206.4,886.5 1207.7,886.1 1208.9,886.1 1210.2,886.2 1211.4,884.7 1212.7,883.5 1213.9,884.4 1215.2,886.7 1216.5,888.0 1217.7,887.2 1219.0,885.9 1220.2,885.5 1221.5,886.3 1222.7,886.0 1224.0,885.4 1225.2,885.8 1226.5,885.3 1227.8,885.7 1229.0,887.1 1230.3,887.1 1231.5,887.3 1232.8,888.4 1234.0,889.3 1235.3,888.5 1236.6,886.8 1237.8,886.3 1239.1,886.6 1240.3,887.1 1241.6,886.9 1242.8,887.0 1244.1,888.1 1245.3,887.7 1246.6,885.8 1247.9,885.5 1249.1,886.2 1250.4,885.4 1251.6,883.7 1252.9,883.4 1254.1,884.6 1255.4,883.7 1256.6,882.5 1257.9,883.1 1259.2,884.7 1260.4,886.0 1261.7,884.8 1262.9,885.3 1264.2,886.5 1265.4,884.9 1266.7,883.4 1267.9,883.2 1269.2,883.9 1270.5,885.5 1271.7,886.8 1273.0,886.9 1274.2,886.3 1275.5,886.3 1276.7,886.8 1278.0,886.5 1279.2,885.8 1280.5,885.1 1281.8,883.7 1283.0,884.5 1284.3,887.5 1285.5,888.9 1286.8,889.3 1288.0,888.8 1289.3,887.9 1290.6,888.6 1291.8,889.0 1293.1,887.8 1294.3,887.0 1295.6,887.6 1296.8,887.5 1298.1,886.5 1299.3,886.4 1300.6,886.3 1301.9,886.7 1303.1,887.7 1304.4,887.8 1305.6,887.2 1306.9,886.1 1308.1,886.3 1309.4,886.9 1310.6,886.7 1311.9,886.8 1313.2,886.1 1314.4,886.4 1315.7,887.9 1316.9,888.2 1318.2,887.3 1319.4,887.0 1320.7,886.8 1321.9,886.8 1323.2,887.4 1324.5,887.0 1325.7,887.1 1327.0,887.8 1328.2,887.4 1329.5,888.4 1330.7,889.4 1332.0,888.0 1333.2,886.3 1334.5,885.7 1335.8,885.6 1337.0,884.4 1338.3,883.7 1339.5,883.9 1340.8,884.2 1342.0,885.3 1343.3,885.9 1344.6,884.9 1345.8,884.3 1347.1,884.9 1348.3,886.2 1349.6,886.5 1350.8,885.0 1352.1,884.9 1353.3,885.8 1354.6,884.8 1355.9,883.8 1357.1,883.8 1358.4,883.2 1359.6,883.8 1360.9,885.3 1362.1,884.8 1363.4,883.3 1364.6,882.3 1365.9,883.3 1367.2,885.4 1368.4,885.0 1369.7,883.3 1370.9,882.3 1372.2,883.1 1373.4,885.2 1374.7,886.4 1375.9,886.0 1377.2,885.7 1378.5,885.6 1379.7,884.3 1381.0,883.6 1382.2,885.3 1383.5,887.3 1384.7,886.4 1386.0,885.4 1387.2,886.1 1388.5,885.9 1389.8,884.8 1391.0,884.0 1392.3,884.1 1393.5,884.8 1394.8,885.3 1396.0,885.4 1397.3,884.9 1398.6,884.6 1399.8,884.5 1401.1,885.1 1402.3,885.7 1403.6,884.8 1404.8,884.0 1406.1,883.7 1407.3,883.4 1408.6,882.5 1409.9,881.9 1411.1,882.6 1412.4,882.3 1413.6,881.1 1414.9,880.6 1416.1,880.1 1417.4,878.0 1418.6,875.8 1419.9,873.9 1421.2,871.7 1422.4,868.3 1423.7,863.2 1424.9,858.3 1426.2,855.0 1427.4,853.7 1428.7,851.6 1429.9,849.2 1431.2,848.9 1432.5,849.2 1433.7,851.2 1435.0,854.2 1436.2,857.2 1437.5,860.0 1438.7,862.6 1440.0,867.2 1441.2,871.5 1442.5,873.9 1443.8,876.6 1445.0,878.8 1446.3,880.8 1447.5,881.3 1448.8,881.1 1450.0,882.9 1451.3,884.6 1452.5,885.1 1453.8,884.5 1455.1,884.4 1456.3,886.5 1457.6,887.3 1458.8,887.0 1460.1,887.9 1461.3,887.3 1462.6,886.1 1463.9,886.9 1465.1,888.2 1466.4,888.9 1467.6,889.3 1468.9,888.9 1470.1,887.7 1471.4,886.6 1472.6,887.2 1473.9,889.0 1475.2,889.3 1476.4,889.3 1477.7,890.5 1478.9,890.4 1480.2,890.1 1481.4,890.8 1482.7,890.5 1483.9,890.2 1485.2,891.1 1486.5,891.3 1487.7,890.4 1489.0,890.4 1490.2,890.3 1491.5,889.4 1492.7,889.5 1494.0,890.2 1495.2,890.5 1496.5,891.0 1497.8,890.4 1499.0,889.1 1500.3,889.1 1501.5,889.4 1502.8,889.3 1504.0,889.7 1505.3,889.6 1506.5,890.0 1507.8,890.3 1509.1,890.3 1510.3,890.6 1511.6,890.4 1512.8,890.2 1514.1,889.3 1515.3,888.2 1516.6,889.0 1517.9,890.2 1519.1,890.4 1520.4,890.8 1521.6,891.7 1522.9,891.5 1524.1,890.1 1525.4,890.2 1526.6,891.3 1527.9,890.6 1529.2,889.4 1530.4,890.1 1531.7,890.3 1532.9,890.0 1534.2,890.3 1535.4,889.2 1536.7,889.1 1537.9,891.0 1539.2,890.6 1540.5,889.5 1541.7,890.0 1543.0,890.8 1544.2,891.4 1545.5,891.5 1546.7,890.4 1548.0,889.9 1549.2,891.0 1550.5,891.6 1551.8,891.1 1553.0,890.5 1554.3,890.3 1555.5,890.4 1556.8,890.9 1558.0,892.8 1559.3,893.2 1560.5,890.5 1561.8,889.5 1563.1,891.5 1564.3,891.7 1565.6,890.2 1566.8,889.3 1568.1,889.0 1569.3,889.2 1570.6,890.0 1571.9,890.2 1573.1,890.4 1574.4,890.5 1575.6,889.7 1576.9,889.3 1578.1,890.0 1579.4,890.4 1580.6,890.8 1581.9,891.4 1583.2,892.4 1584.4,893.8 1585.7,893.0 1586.9,891.2 1588.2,891.3 1589.4,892.1 1590.7,892.1 1591.9,890.5 1593.2,890.2 1594.5,891.1 1595.7,891.0 1597.0,890.4 1598.2,890.1 1599.5,891.5 1600.7,893.1 1602.0,892.1 1603.2,890.5 1604.5,890.9 1605.8,891.7 1607.0,891.5 1608.3,891.3 1609.5,892.1 1610.8,893.6 1612.0,893.3 1613.3,892.0 1614.5,891.9 1615.8,891.0 1617.1,890.4 1618.3,891.5 1619.6,892.4 1620.8,893.0 1622.1,893.2 1623.3,893.4 1624.6,894.6 1625.9,894.4 1627.1,892.2 1628.4,891.4 1629.6,891.5 1630.9,891.9 1632.1,892.1 1633.4,891.6 1634.6,892.2 1635.9,892.9 1637.2,892.6 1638.4,892.9 1639.7,891.8 1640.9,890.3 1642.2,890.7 1643.4,891.3 1644.7,892.0 1645.9,892.3 1647.2,892.3 1648.5,892.8 1649.7,893.8 1651.0,893.9 1652.2,893.7 1653.5,894.5 1654.7,894.1 1656.0,893.0 1657.2,893.6 1658.5,894.5 1659.8,894.3 1661.0,893.5 1662.3,893.2 1663.5,893.1 1664.8,892.3 1666.0,891.7 1667.3,893.5 1668.5,894.6 1669.8,893.9 1671.1,893.0 1672.3,893.7 1673.6,894.0 1674.8,892.9 1676.1,892.7 1677.3,894.0 1678.6,894.5 1679.8,893.6 1681.1,892.5 1682.4,892.3 1683.6,893.6 1684.9,894.6 1686.1,894.2 1687.4,893.9 1688.6,893.9 1689.9,894.2 1691.2,894.1 1692.4,893.7 1693.7,893.8 1694.9,894.3 1696.2,894.5 1697.4,894.2 1698.7,894.0 1699.9,893.8 1701.2,894.6 1702.5,894.6 1703.7,894.1 1705.0,892.3 1706.2,892.5 1707.5,892.8 1708.7,893.3 1710.0,894.6 1711.2,894.6 1712.5,893.2 1713.8,892.2 1715.0,892.6 1716.3,893.0 1717.5,893.3 1718.8,893.6 1720.0,893.6 1721.3,893.6 1722.5,894.0 1723.8,894.6 1725.1,894.6 1726.3,893.9 1727.6,894.6 1728.8,894.6 1730.1,894.6 1731.3,894.6 1732.6,893.0 1733.8,892.2 1735.1,893.4 1736.4,894.6 1737.6,894.6 1738.9,894.6 1740.1,894.5 1741.4,894.6 1742.6,894.0 1743.9,893.1 1745.2,893.7 1746.4,894.6 1747.7,894.6 1748.9,894.6 1750.2,894.5 1751.4,893.3 1752.7,891.8 1753.9,891.8 1755.2,892.7 1756.5,892.3 1757.7,892.2 1759.0,893.3 1760.2,893.5 1761.5,893.3 1762.7,894.1 1764.0,894.6 1765.2,894.6 1766.5,894.6 1767.8,894.4 1769.0,893.9 1770.3,893.5 1771.5,892.5 1772.8,893.1 1774.0,894.3 1775.3,894.0 1776.5,893.5 1777.8,893.0 1779.1,893.2 1780.3,893.8 1781.6,893.9 1782.8,894.3 1784.1,894.0 1785.3,893.8 1786.6,894.0 1787.8,894.4 1789.1,894.6 1790.4,894.6 1791.6,894.6 1792.9,894.0 1794.1,893.2 1795.4,893.7 1796.6,893.1 1797.9,891.9 1799.2,893.0 1800.4,894.5 1801.7,894.2 1802.9,893.5 1804.2,893.6 1805.4,894.0 1806.7,894.5 1807.9,894.6 1809.2,894.0 1810.5,893.7 1811.7,894.5 1813.0,894.6 1814.2,894.6 1815.5,894.6 1816.7,894.6 1818.0,894.6 1819.2,894.6 1820.5,894.6 1821.8,894.6 1823.0,894.6 1824.3,894.2 1825.5,893.8 1826.8,894.6 1828.0,894.3 1829.3,893.3 1830.5,893.3 1831.8,894.3 1833.1,894.6 1834.3,894.6 1835.6,894.6 1836.8,893.7 1838.1,893.3 1839.3,893.1 1840.6,893.0 1841.8,894.1 1843.1,894.6 1844.4,893.9 1845.6,893.6 1846.9,894.6 1848.1,894.6 1849.4,893.7 1850.6,893.0 1851.9,891.7 1853.2,891.9 1854.4,893.4 1855.7,894.5 1856.9,894.4 1858.2,894.3 1859.4,894.3 1860.7,894.2 1861.9,894.3 1863.2,893.2 1864.5,892.1 1865.7,892.5 1867.0,894.4 1868.2,894.6 1869.5,893.7 1870.7,892.9 1872.0,894.1 1873.2,894.4 1874.5,894.2 1875.8,894.3 1877.0,894.4 1878.3,894.6 1879.5,894.6 1880.8,894.6 1882.0,894.6 1883.3,894.6 1884.5,894.3 1885.8,894.6 1887.1,894.2 1888.3,894.1 1889.6,893.9 1890.8,894.0 1892.1,894.6 1893.3,894.6 1894.6,894.6 1895.8,894.6 1897.1,894.5 1898.4,892.7 1899.6,893.2 1900.9,894.6 1902.1,894.0 1903.4,893.8 1904.6,894.3 1905.9,893.6 1907.1,893.6 1908.4,894.5 1909.7,894.6 1910.9,894.6 1912.2,894.6 1913.4,894.5 1914.7,894.5 1915.9,894.6" stroke="#8badd6" stroke-width="9.4"/>
<polyline points="283.4,894.6 285.9,894.6 288.4,894.6 290.9,894.6 293.4,894.6 296.0,894.6 298.5,894.6 301.0,894.6 303.5,894.6 306.0,894.6 308.5,894.6 311.0,894.6 313.5,894.6 316.1,894.6 318.6,894.6 321.1,894.6 323.6,894.6 326.1,894.6 328.6,894.6 331.1,894.6 333.6,894.6 336.1,894.6 338.7,894.6 341.2,894.6 343.7,894.6 346.2,894.6 348.7,894.6 351.2,894.6 353.7,894.6 356.2,894.6 358.7,894.6 361.3,894.6 363.8,894.6 366.3,894.6 368.8,894.6 371.3,894.6 373.8,894.6 376.3,894.6 378.8,894.6 381.4,894.6 383.9,894.6 386.4,894.6 388.9,894.6 391.4,894.6 393.9,894.6 396.4,894.6 398.9,894.6 401.4,894.6 404.0,894.6 406.5,894.6 409.0,894.6 411.5,894.6 414.0,894.6 416.5,894.6 419.0,894.6 421.5,894.6 424.0,894.6 426.6,894.6 429.1,894.6 431.6,894.6 434.1,894.6 436.6,894.6 439.1,894.6 441.6,894.6 444.1,894.6 446.7,894.6 449.2,894.6 451.7,894.6 454.2,894.6 456.7,894.6 459.2,894.6 461.7,894.6 464.2,894.6 466.7,894.6 469.3,894.6 471.8,894.6 474.3,894.6 476.8,894.6 479.3,894.6 481.8,894.6 484.3,894.6 486.8,894.6 489.4,894.6 491.9,894.6 494.4,894.6 496.9,894.6 499.4,894.6 501.9,894.6 504.4,894.6 506.9,894.6 509.4,894.6 512.0,894.6 514.5,894.6 517.0,894.6 519.5,894.6 522.0,894.6 524.5,894.6 527.0,894.6 529.5,894.6 532.0,894.6 534.6,894.6 537.1,894.6 539.6,894.6 542.1,894.6 544.6,894.6 547.1,894.6 549.6,894.6 552.1,894.6 554.7,894.6 557.2,894.6 559.7,894.6 562.2,894.6 564.7,894.6 567.2,894.6 569.7,894.6 572.2,894.6 574.7,894.6 577.3,894.6 579.8,894.6 582.3,894.6 584.8,894.6 587.3,894.6 589.8,894.6 592.3,894.6 594.8,894.6 597.3,894.6 599.9,894.6 602.4,894.6 604.9,894.6 607.4,894.6 609.9,894.6 612.4,894.6 614.9,894.6 617.4,894.6 620.0,894.6 622.5,894.6 625.0,894.6 627.5,894.6 630.0,894.6 632.5,894.6 635.0,894.6 637.5,894.6 640.0,894.6 642.6,894.6 645.1,894.6 647.6,894.6 650.1,894.6 652.6,894.6 655.1,894.6 657.6,894.6 660.1,894.6 662.7,894.6 665.2,894.6 667.7,894.6 670.2,894.6 672.7,894.6 675.2,894.6 677.7,894.6 680.2,894.6 682.7,894.6 685.3,894.6 687.8,894.6 690.3,894.6 692.8,894.6 695.3,894.6 697.8,894.6 700.3,894.6 702.8,894.6 705.3,894.6 707.9,894.6 710.4,894.6 712.9,894.6 715.4,894.6 717.9,894.6 720.4,894.6 722.9,894.6 725.4,894.6 728.0,894.6 730.5,894.6 733.0,894.6 735.5,894.6 738.0,894.6 740.5,894.6 743.0,894.6 745.5,894.6 748.0,894.6 750.6,894.6 753.1,894.6 755.6,894.6 758.1,894.6 760.6,894.6 763.1,894.6 765.6,894.6 768.1,894.6 770.7,894.6 773.2,894.6 775.7,894.6 778.2,894.6 780.7,894.6 783.2,894.6 785.7,894.6 788.2,894.6 790.7,894.6 793.3,894.6 795.8,894.6 798.3,894.6 800.8,894.6 803.3,894.5 805.8,894.5 808.3,894.6 810.8,894.6 813.3,894.5 815.9,894.6 818.4,894.6 820.9,894.6 823.4,894.5 825.9,894.5 828.4,894.6 830.9,894.5 833.4,894.5 836.0,894.6 838.5,894.4 841.0,894.4 843.5,894.6 844.7,894.4 846.0,894.6 847.3,894.6 848.5,894.6 849.8,894.4 851.0,894.4 852.3,894.4 853.5,894.2 854.8,894.2 856.0,893.8 857.3,893.7 858.6,894.5 859.8,894.6 861.1,894.6 862.3,894.6 863.6,894.6 864.8,894.6 866.1,894.6 867.3,894.6 868.6,894.6 869.9,894.6 871.1,894.6 872.4,894.6 873.6,894.5 874.9,894.6 876.1,894.6 877.4,894.6 878.6,894.6 879.9,894.2 881.2,894.1 882.4,894.4 883.7,894.6 884.9,894.6 886.2,894.3 887.4,894.3 888.7,894.6 890.0,894.6 891.2,894.6 892.5,894.6 893.7,894.5 895.0,894.5 896.2,894.6 897.5,894.4 898.7,893.8 900.0,894.1 901.3,894.6 902.5,894.6 903.8,894.6 905.0,894.6 906.3,894.5 907.5,893.7 908.8,893.8 910.0,894.4 911.3,894.6 912.6,894.5 913.8,894.5 915.1,894.6 916.3,894.6 917.6,894.3 918.8,894.1 920.1,894.1 921.3,894.1 922.6,894.2 923.9,894.5 925.1,894.3 926.4,894.0 927.6,894.2 928.9,894.5 930.1,894.5 931.4,894.6 932.6,894.6 933.9,894.5 935.2,894.0 936.4,894.3 937.7,894.6 938.9,894.4 940.2,894.4 941.4,894.6 942.7,894.6 944.0,894.5 945.2,894.1 946.5,894.6 947.7,894.6 949.0,894.6 950.2,894.4 951.5,894.2 952.7,894.4 954.0,894.5 955.3,894.6 956.5,894.6 957.8,894.6 959.0,894.6 960.3,894.6 961.5,894.5 962.8,894.3 964.0,894.4 965.3,894.5 966.6,894.4 967.8,894.6 969.1,894.5 970.3,894.1 971.6,894.4 972.8,894.6 974.1,894.5 975.3,893.9 976.6,894.3 977.9,894.6 979.1,894.6 980.4,894.6 981.6,894.6 982.9,894.4 984.1,894.4 985.4,894.3 986.6,894.5 987.9,894.6 989.2,894.6 990.4,894.6 991.7,894.5 992.9,894.3 994.2,894.4 995.4,894.6 996.7,894.6 998.0,894.6 999.2,894.6 1000.5,894.6 1001.7,894.6 1003.0,894.6 1004.2,894.4 1005.5,894.0 1006.7,894.5 1008.0,894.6 1009.3,894.6 1010.5,894.2 1011.8,894.3 1013.0,894.3 1014.3,894.0 1015.5,894.3 1016.8,894.6 1018.0,894.3 1019.3,894.2 1020.6,894.2 1021.8,894.3 1023.1,894.6 1024.3,894.6 1025.6,894.6 1026.8,894.6 1028.1,894.6 1029.3,894.6 1030.6,894.6 1031.9,894.6 1033.1,894.6 1034.4,894.6 1035.6,894.6 1036.9,894.6 1038.1,894.6 1039.4,894.6 1040.6,894.6 1041.9,894.6 1043.2,894.6 1044.4,894.6 1045.7,894.6 1046.9,894.6 1048.2,894.4 1049.4,894.0 1050.7,893.8 1051.9,894.0 1053.2,894.4 1054.5,894.6 1055.7,894.2 1057.0,894.0 1058.2,894.1 1059.5,894.2 1060.7,894.5 1062.0,894.6 1063.3,894.2 1064.5,894.2 1065.8,894.6 1067.0,894.5 1068.3,894.3 1069.5,894.3 1070.8,894.2 1072.0,894.1 1073.3,894.0 1074.6,894.4 1075.8,894.6 1077.1,894.5 1078.3,894.6 1079.6,894.6 1080.8,894.6 1082.1,894.6 1083.3,894.3 1084.6,894.1 1085.9,894.4 1087.1,894.3 1088.4,894.3 1089.6,894.5 1090.9,894.6 1092.1,894.6 1093.4,894.4 1094.6,894.4 1095.9,894.3 1097.2,894.2 1098.4,894.3 1099.7,894.2 1100.9,894.1 1102.2,894.2 1103.4,894.3 1104.7,894.3 1105.9,894.5 1107.2,894.6 1108.5,894.3 1109.7,894.2 1111.0,894.3 1112.2,894.3 1113.5,894.5 1114.7,894.6 1116.0,894.5 1117.3,894.2 1118.5,894.6 1119.8,894.6 1121.0,894.6 1122.3,894.5 1123.5,894.2 1124.8,894.3 1126.0,894.6 1127.3,894.6 1128.6,894.6 1129.8,894.6 1131.1,894.6 1132.3,894.6 1133.6,894.6 1134.8,894.5 1136.1,894.6 1137.3,894.6 1138.6,894.6 1139.9,894.6 1141.1,894.6 1142.4,894.6 1143.6,894.6 1144.9,894.6 1146.1,894.4 1147.4,894.2 1148.6,894.6 1149.9,894.6 1151.2,894.4 1152.4,894.4 1153.7,894.6 1154.9,894.6 1156.2,894.6 1157.4,894.5 1158.7,894.2 1159.9,894.5 1161.2,894.4 1162.5,894.0 1163.7,894.0 1165.0,894.4 1166.2,894.6 1167.5,894.6 1168.7,894.6 1170.0,894.6 1171.3,894.6 1172.5,894.6 1173.8,894.6 1175.0,894.6 1176.3,894.5 1177.5,894.3 1178.8,894.6 1180.0,894.6 1181.3,894.3 1182.6,894.3 1183.8,894.5 1185.1,894.4 1186.3,894.1 1187.6,894.5 1188.8,894.6 1190.1,894.6 1191.3,894.6 1192.6,894.3 1193.9,894.1 1195.1,894.3 1196.4,894.3 1197.6,894.0 1198.9,894.2 1200.1,894.5 1201.4,894.3 1202.6,894.4 1203.9,894.6 1205.2,894.6 1206.4,894.6 1207.7,894.6 1208.9,894.6 1210.2,894.6 1211.4,894.6 1212.7,894.6 1213.9,894.4 1215.2,893.9 1216.5,894.2 1217.7,894.4 1219.0,894.3 1220.2,894.6 1221.5,894.6 1222.7,894.6 1224.0,894.6 1225.2,894.3 1226.5,894.4 1227.8,894.6 1229.0,894.6 1230.3,894.6 1231.5,894.6 1232.8,894.6 1234.0,894.6 1235.3,894.6 1236.6,894.6 1237.8,894.6 1239.1,894.6 1240.3,894.6 1241.6,894.6 1242.8,894.6 1244.1,894.6 1245.3,894.6 1246.6,894.6 1247.9,894.6 1249.1,894.6 1250.4,894.2 1251.6,894.1 1252.9,894.3 1254.1,894.3 1255.4,894.4 1256.6,894.6 1257.9,894.2 1259.2,893.7 1260.4,893.8 1261.7,894.2 1262.9,894.5 1264.2,894.2 1265.4,893.8 1266.7,894.0 1267.9,894.1 1269.2,894.0 1270.5,894.0 1271.7,894.0 1273.0,894.2 1274.2,894.5 1275.5,894.3 1276.7,893.9 1278.0,894.1 1279.2,894.3 1280.5,894.3 1281.8,894.5 1283.0,894.6 1284.3,894.6 1285.5,894.6 1286.8,894.6 1288.0,894.5 1289.3,894.6 1290.6,894.6 1291.8,894.6 1293.1,894.6 1294.3,894.6 1295.6,894.3 1296.8,894.3 1298.1,894.6 1299.3,894.6 1300.6,894.6 1301.9,894.6 1303.1,894.6 1304.4,894.6 1305.6,894.6 1306.9,894.6 1308.1,894.6 1309.4,894.2 1310.6,894.4 1311.9,894.5 1313.2,894.3 1314.4,894.2 1315.7,894.4 1316.9,894.6 1318.2,894.6 1319.4,893.8 1320.7,894.2 1321.9,894.6 1323.2,894.4 1324.5,894.5 1325.7,894.6 1327.0,894.6 1328.2,894.5 1329.5,894.4 1330.7,894.5 1332.0,894.6 1333.2,894.6 1334.5,894.6 1335.8,894.6 1337.0,894.6 1338.3,894.6 1339.5,894.3 1340.8,894.4 1342.0,894.5 1343.3,894.5 1344.6,894.4 1345.8,894.6 1347.1,894.5 1348.3,894.3 1349.6,894.6 1350.8,894.6 1352.1,894.6 1353.3,894.6 1354.6,894.6 1355.9,894.4 1357.1,894.0 1358.4,894.0 1359.6,894.4 1360.9,894.6 1362.1,894.6 1363.4,894.6 1364.6,894.6 1365.9,894.5 1367.2,894.6 1368.4,894.6 1369.7,894.6 1370.9,894.6 1372.2,894.5 1373.4,894.3 1374.7,894.2 1375.9,894.1 1377.2,894.4 1378.5,894.6 1379.7,894.6 1381.0,894.6 1382.2,894.6 1383.5,894.3 1384.7,894.3 1386.0,894.5 1387.2,894.4 1388.5,894.3 1389.8,894.6 1391.0,894.6 1392.3,894.3 1393.5,894.2 1394.8,894.1 1396.0,894.2 1397.3,894.4 1398.6,894.6 1399.8,894.6 1401.1,894.6 1402.3,894.6 1403.6,894.6 1404.8,894.3 1406.1,894.5 1407.3,894.5 1408.6,894.3 1409.9,894.3 1411.1,893.9 1412.4,893.6 1413.6,893.7 1414.9,893.8 1416.1,893.7 1417.4,893.7 1418.6,893.5 1419.9,893.1 1421.2,892.9 1422.4,893.0 1423.7,892.4 1424.9,891.8 1426.2,891.5 1427.4,891.1 1428.7,890.7 1429.9,890.1 1431.2,889.7 1432.5,889.8 1433.7,890.4 1435.0,891.2 1436.2,891.5 1437.5,891.6 1438.7,892.3 1440.0,893.2 1441.2,893.7 1442.5,893.9 1443.8,893.8 1445.0,893.7 1446.3,893.9 1447.5,893.9 1448.8,894.3 1450.0,894.6 1451.3,894.4 1452.5,894.2 1453.8,894.5 1455.1,894.6 1456.3,894.6 1457.6,894.5 1458.8,894.6 1460.1,894.6 1461.3,894.6 1462.6,894.6 1463.9,894.6 1465.1,894.2 1466.4,894.0 1467.6,893.9 1468.9,894.1 1470.1,894.6 1471.4,894.4 1472.6,893.8 1473.9,894.0 1475.2,894.6 1476.4,894.6 1477.7,894.6 1478.9,894.6 1480.2,894.6 1481.4,894.6 1482.7,894.6 1483.9,894.6 1485.2,894.6 1486.5,894.5 1487.7,894.3 1489.0,894.2 1490.2,894.4 1491.5,894.6 1492.7,894.6 1494.0,894.6 1495.2,894.6 1496.5,894.3 1497.8,894.0 1499.0,894.0 1500.3,894.6 1501.5,894.6 1502.8,894.5 1504.0,894.4 1505.3,894.6 1506.5,894.6 1507.8,894.6 1509.1,894.5 1510.3,894.6 1511.6,894.6 1512.8,894.6 1514.1,894.6 1515.3,894.6 1516.6,894.6 1517.9,894.6 1519.1,894.6 1520.4,894.6 1521.6,894.6 1522.9,894.6 1524.1,894.6 1525.4,894.6 1526.6,894.6 1527.9,894.6 1529.2,894.6 1530.4,894.5 1531.7,894.5 1532.9,894.6 1534.2,894.6 1535.4,894.5 1536.7,894.3 1537.9,894.6 1539.2,894.6 1540.5,894.6 1541.7,894.5 1543.0,894.4 1544.2,894.4 1545.5,894.5 1546.7,894.6 1548.0,894.6 1549.2,894.6 1550.5,894.6 1551.8,894.6 1553.0,894.6 1554.3,894.6 1555.5,894.4 1556.8,894.3 1558.0,894.3 1559.3,894.6 1560.5,894.6 1561.8,894.6 1563.1,894.6 1564.3,894.6 1565.6,894.6 1566.8,894.5 1568.1,894.1 1569.3,894.2 1570.6,894.4 1571.9,894.3 1573.1,894.0 1574.4,893.8 1575.6,894.0 1576.9,894.4 1578.1,894.5 1579.4,894.5 1580.6,894.6 1581.9,894.6 1583.2,894.6 1584.4,894.6 1585.7,894.6 1586.9,894.6 1588.2,894.6 1589.4,894.6 1590.7,894.6 1591.9,894.6 1593.2,894.5 1594.5,894.6 1595.7,894.5 1597.0,894.6 1598.2,894.5 1599.5,894.2 1600.7,894.3 1602.0,894.2 1603.2,894.1 1604.5,894.5 1605.8,894.6 1607.0,894.6 1608.3,894.5 1609.5,894.6 1610.8,894.6 1612.0,894.3 1613.3,894.3 1614.5,894.6 1615.8,894.4 1617.1,894.0 1618.3,893.6 1619.6,893.9 1620.8,894.6 1622.1,894.6 1623.3,894.6 1624.6,894.6 1625.9,894.5 1627.1,894.4 1628.4,894.6 1629.6,894.6 1630.9,894.6 1632.1,894.2 1633.4,894.1 1634.6,894.5 1635.9,894.6 1637.2,894.6 1638.4,894.6 1639.7,894.6 1640.9,894.6 1642.2,894.6 1643.4,894.6 1644.7,894.6 1645.9,894.6 1647.2,894.5 1648.5,894.6 1649.7,894.4 1651.0,894.4 1652.2,894.6 1653.5,894.6 1654.7,894.5 1656.0,894.3 1657.2,894.4 1658.5,894.6 1659.8,894.6 1661.0,894.6 1662.3,894.6 1663.5,894.6 1664.8,894.6 1666.0,894.6 1667.3,894.6 1668.5,894.6 1669.8,894.6 1671.1,894.6 1672.3,894.5 1673.6,894.2 1674.8,893.7 1676.1,893.7 1677.3,894.1 1678.6,894.6 1679.8,894.6 1681.1,894.6 1682.4,894.6 1683.6,894.6 1684.9,894.6 1686.1,894.6 1687.4,894.6 1688.6,894.4 1689.9,894.4 1691.2,894.6 1692.4,894.6 1693.7,894.6 1694.9,894.6 1696.2,894.6 1697.4,894.6 1698.7,894.5 1699.9,894.2 1701.2,894.3 1702.5,894.4 1703.7,894.2 1705.0,894.0 1706.2,894.5 1707.5,894.6 1708.7,894.6 1710.0,894.4 1711.2,894.1 1712.5,894.1 1713.8,894.3 1715.0,894.6 1716.3,894.6 1717.5,894.6 1718.8,894.6 1720.0,894.6 1721.3,894.6 1722.5,894.6 1723.8,894.6 1725.1,894.6 1726.3,894.6 1727.6,894.5 1728.8,894.6 1730.1,894.6 1731.3,894.4 1732.6,894.5 1733.8,894.4 1735.1,894.3 1736.4,894.3 1737.6,894.4 1738.9,894.6 1740.1,894.4 1741.4,894.3 1742.6,894.5 1743.9,894.6 1745.2,894.6 1746.4,894.6 1747.7,894.6 1748.9,894.6 1750.2,894.5 1751.4,894.6 1752.7,894.6 1753.9,894.4 1755.2,894.0 1756.5,894.2 1757.7,894.5 1759.0,894.6 1760.2,894.6 1761.5,894.6 1762.7,894.6 1764.0,894.6 1765.2,894.6 1766.5,894.6 1767.8,894.6 1769.0,894.4 1770.3,894.6 1771.5,894.6 1772.8,894.6 1774.0,894.6 1775.3,894.6 1776.5,894.6 1777.8,894.6 1779.1,894.6 1780.3,894.6 1781.6,894.6 1782.8,894.6 1784.1,894.6 1785.3,894.5 1786.6,894.5 1787.8,894.5 1789.1,894.6 1790.4,894.6 1791.6,894.6 1792.9,894.5 1794.1,893.8 1795.4,893.9 1796.6,894.6 1797.9,894.6 1799.2,894.5 1800.4,894.5 1801.7,894.6 1802.9,894.6 1804.2,894.1 1805.4,894.3 1806.7,894.6 1807.9,894.6 1809.2,894.6 1810.5,894.6 1811.7,894.5 1813.0,894.6 1814.2,894.6 1815.5,894.6 1816.7,894.4 1818.0,894.6 1819.2,894.6 1820.5,894.5 1821.8,894.6 1823.0,894.6 1824.3,894.6 1825.5,894.6 1826.8,894.5 1828.0,894.5 1829.3,894.6 1830.5,894.5 1831.8,894.5 1833.1,894.6 1834.3,894.6 1835.6,894.4 1836.8,894.6 1838.1,894.6 1839.3,894.6 1840.6,894.6 1841.8,894.6 1843.1,894.6 1844.4,894.6 1845.6,894.6 1846.9,894.4 1848.1,894.3 1849.4,894.2 1850.6,894.2 1851.9,894.5 1853.2,894.6 1854.4,894.4 1855.7,893.5 1856.9,893.5 1858.2,894.0 1859.4,894.2 1860.7,894.3 1861.9,894.3 1863.2,894.2 1864.5,894.5 1865.7,894.4 1867.0,894.3 1868.2,894.6 1869.5,894.6 1870.7,894.6 1872.0,894.6 1873.2,894.6 1874.5,894.6 1875.8,894.6 1877.0,894.6 1878.3,894.6 1879.5,894.6 1880.8,894.6 1882.0,894.6 1883.3,894.6 1884.5,894.6 1885.8,894.6 1887.1,894.6 1888.3,894.6 1889.6,894.3 1890.8,894.6 1892.1,894.6 1893.3,894.6 1894.6,894.6 1895.8,894.6 1897.1,894.6 1898.4,894.6 1899.6,894.6 1900.9,894.4 1902.1,894.2 1903.4,894.2 1904.6,894.0 1905.9,894.1 1907.1,894.6 1908.4,894.6 1909.7,894.4 1910.9,894.5 1912.2,894.6 1913.4,894.6 1914.7,894.6 1915.9,894.6" stroke="#e08e91" stroke-width="9.4"/>
<line x1="287.9" y1="900.1" x2="1915.9" y2="900.1" stroke="#7f7f7f" stroke-width="1.8"/></g>
<line x1="1495.2" y1="57.0" x2="1495.2" y2="691.0" stroke="#000" stroke-width="4.6"/><path d="M1477.7 678.0L1512.7 678.0L1495.2 711.0Z" fill="#000"/>
<text x="1567" y="84" class="sf" font-size="71">a</text>
<text x="1566" y="689.5" class="sf" font-size="69">h</text>
<text x="1714.5" y="341" class="sf" font-size="88" textLength="89.5" lengthAdjust="spacingAndGlyphs">(a)</text>
<text x="878" y="1085" class="ax" font-size="49" textLength="452" lengthAdjust="spacingAndGlyphs" xml:space="preserve">Raman  Shift (cm<tspan dy="-17" font-size="32">-1</tspan><tspan dy="17">)</tspan></text>
<text transform="translate(78.8 681.3) rotate(-90)" class="ax" font-size="53" textLength="396" lengthAdjust="spacingAndGlyphs" xml:space="preserve">Raman  intensity</text>
<g stroke="#000" stroke-width="3">
<line x1="395.8" y1="1230.3" x2="395.8" y2="1594.1"/>
<line x1="395.8" y1="1592.6" x2="1102.6" y2="1592.6"/>
<line x1="387.8" y1="1592.6" x2="395.8" y2="1592.6"/>
<line x1="387.8" y1="1552.5" x2="395.8" y2="1552.5"/>
<line x1="387.8" y1="1512.4" x2="395.8" y2="1512.4"/>
<line x1="387.8" y1="1472.3" x2="395.8" y2="1472.3"/>
<line x1="387.8" y1="1432.2" x2="395.8" y2="1432.2"/>
<line x1="387.8" y1="1392.2" x2="395.8" y2="1392.2"/>
<line x1="387.8" y1="1352.1" x2="395.8" y2="1352.1"/>
<line x1="387.8" y1="1312.0" x2="395.8" y2="1312.0"/>
<line x1="387.8" y1="1271.9" x2="395.8" y2="1271.9"/>
<line x1="387.8" y1="1231.8" x2="395.8" y2="1231.8"/>
<line x1="395.8" y1="1592.6" x2="395.8" y2="1601.6"/>
<line x1="496.6" y1="1592.6" x2="496.6" y2="1601.6"/>
<line x1="597.3" y1="1592.6" x2="597.3" y2="1601.6"/>
<line x1="698.1" y1="1592.6" x2="698.1" y2="1601.6"/>
<line x1="798.8" y1="1592.6" x2="798.8" y2="1601.6"/>
<line x1="899.6" y1="1592.6" x2="899.6" y2="1601.6"/>
<line x1="1000.4" y1="1592.6" x2="1000.4" y2="1601.6"/>
<line x1="1101.1" y1="1592.6" x2="1101.1" y2="1601.6"/>
</g>
<text x="370.8" y="1599.8" text-anchor="end" class="it">0</text>
<text x="370.8" y="1559.7" text-anchor="end" class="it">500</text>
<text x="370.8" y="1519.6" text-anchor="end" class="it">1000</text>
<text x="370.8" y="1479.5" text-anchor="end" class="it">1500</text>
<text x="370.8" y="1439.4" text-anchor="end" class="it">2000</text>
<text x="370.8" y="1399.4" text-anchor="end" class="it">2500</text>
<text x="370.8" y="1359.3" text-anchor="end" class="it">3000</text>
<text x="370.8" y="1319.2" text-anchor="end" class="it">3500</text>
<text x="370.8" y="1279.1" text-anchor="end" class="it">4000</text>
<text x="370.8" y="1239.0" text-anchor="end" class="it">4500</text>
<text x="396.3" y="1635.1" text-anchor="middle" class="it">0</text>
<text x="497.1" y="1635.1" text-anchor="middle" class="it">1</text>
<text x="597.8" y="1635.1" text-anchor="middle" class="it">2</text>
<text x="698.6" y="1635.1" text-anchor="middle" class="it">3</text>
<text x="799.3" y="1635.1" text-anchor="middle" class="it">4</text>
<text x="900.1" y="1635.1" text-anchor="middle" class="it">5</text>
<text x="1000.9" y="1635.1" text-anchor="middle" class="it">6</text>
<text x="1101.6" y="1635.1" text-anchor="middle" class="it">7</text>
<line x1="395.8" y1="1580.2" x2="1067.9" y2="1254.6" stroke="#1a1a1a" stroke-width="2"/>
<path d="M395.8 1583.1L405.3 1592.6L395.8 1602.1L386.3 1592.6Z" fill="#2b7bbf"/>
<path d="M429.1 1562.7L438.6 1572.2L429.1 1581.7L419.6 1572.2Z" fill="#2b7bbf"/>
<path d="M463.3 1539.4L472.8 1548.9L463.3 1558.4L453.8 1548.9Z" fill="#2b7bbf"/>
<path d="M529.8 1510.2L539.3 1519.7L529.8 1529.2L520.3 1519.7Z" fill="#2b7bbf"/>
<path d="M664.8 1432.5L674.3 1442.0L664.8 1451.5L655.3 1442.0Z" fill="#2b7bbf"/>
<path d="M731.3 1379.2L740.8 1388.7L731.3 1398.2L721.8 1388.7Z" fill="#2b7bbf"/>
<path d="M899.6 1312.7L909.1 1322.2L899.6 1331.7L890.1 1322.2Z" fill="#2b7bbf"/>
<path d="M1067.9 1272.7L1077.4 1282.2L1067.9 1291.7L1058.4 1282.2Z" fill="#2b7bbf"/>
<text x="429.7" y="1270.6" class="eq" textLength="210.7" lengthAdjust="spacing">y = 608.81x + 154.77</text>
<text x="478.8" y="1301.3" class="eq" textLength="115.4" lengthAdjust="spacing">R<tspan dy="-7" font-size="12">2</tspan><tspan dy="7"> = 0.9784</tspan></text>
<text x="680.5" y="1676.1" class="ix" textLength="139" lengthAdjust="spacing">C <tspan font-size="10" dy="3">Apt</tspan><tspan dy="-3"> (nmol/L)</tspan></text>
<text transform="translate(307.8 1412.2) rotate(-90)" text-anchor="middle" font-size="19" font-weight="bold" fill="#555" class="ix2">ΔI</text>
<line x1="300.8" y1="2062.5" x2="1958.4" y2="2062.5" stroke="#7f7f7f" stroke-width="9"/>
<line x1="300.8" y1="1221.9" x2="300.8" y2="2084.0" stroke="#000" stroke-width="9"/>
<line x1="282.8" y1="2062.0" x2="300.8" y2="2062.0" stroke="#000" stroke-width="9"/>
<text x="243.8" y="2079.3" text-anchor="end" class="tk">0</text>
<line x1="282.8" y1="1969.2" x2="300.8" y2="1969.2" stroke="#000" stroke-width="9"/>
<text x="243.8" y="1986.5" text-anchor="end" class="tk">500</text>
<line x1="282.8" y1="1876.3" x2="300.8" y2="1876.3" stroke="#000" stroke-width="9"/>
<text x="243.8" y="1893.6" text-anchor="end" class="tk">1000</text>
<line x1="282.8" y1="1783.5" x2="300.8" y2="1783.5" stroke="#000" stroke-width="9"/>
<text x="243.8" y="1800.8" text-anchor="end" class="tk">1500</text>
<line x1="282.8" y1="1690.6" x2="300.8" y2="1690.6" stroke="#000" stroke-width="9"/>
<text x="243.8" y="1707.9" text-anchor="end" class="tk">2000</text>
<line x1="282.8" y1="1597.8" x2="300.8" y2="1597.8" stroke="#000" stroke-width="9"/>
<text x="243.8" y="1615.0" text-anchor="end" class="tk">2500</text>
<line x1="282.8" y1="1504.9" x2="300.8" y2="1504.9" stroke="#000" stroke-width="9"/>
<text x="243.8" y="1522.2" text-anchor="end" class="tk">3000</text>
<line x1="282.8" y1="1412.1" x2="300.8" y2="1412.1" stroke="#000" stroke-width="9"/>
<text x="243.8" y="1429.4" text-anchor="end" class="tk">3500</text>
<line x1="282.8" y1="1316.5" x2="300.8" y2="1316.5" stroke="#000" stroke-width="9"/>
<text x="243.8" y="1336.5" text-anchor="end" class="tk">4000</text>
<line x1="282.8" y1="1226.4" x2="300.8" y2="1226.4" stroke="#000" stroke-width="9"/>
<text x="243.8" y="1243.7" text-anchor="end" class="tk">4500</text>
<text x="305.2" y="2163.5" text-anchor="middle" class="tk">700</text>
<line x1="559.3" y1="2062.0" x2="559.3" y2="2084.0" stroke="#000" stroke-width="9.5"/>
<text x="560.2" y="2163.5" text-anchor="middle" class="tk">900</text>
<line x1="813.3" y1="2062.0" x2="813.3" y2="2084.0" stroke="#000" stroke-width="9.5"/>
<text x="815.2" y="2163.5" text-anchor="middle" class="tk">1100</text>
<line x1="1066.8" y1="2062.0" x2="1066.8" y2="2084.0" stroke="#000" stroke-width="9.5"/>
<text x="1070.3" y="2163.5" text-anchor="middle" class="tk">1300</text>
<line x1="1320.4" y1="2062.0" x2="1320.4" y2="2084.0" stroke="#000" stroke-width="9.5"/>
<text x="1325.3" y="2163.5" text-anchor="middle" class="tk">1500</text>
<line x1="1574.0" y1="2062.0" x2="1574.0" y2="2084.0" stroke="#000" stroke-width="9.5"/>
<text x="1580.3" y="2163.5" text-anchor="middle" class="tk">1700</text>
<line x1="1831.0" y1="2062.0" x2="1831.0" y2="2084.0" stroke="#000" stroke-width="9.5"/>
<text x="1835.3" y="2163.5" text-anchor="middle" class="tk">1900</text>
<g fill="none" stroke-linejoin="round" stroke-linecap="butt"><polyline points="300.8,2057.8 303.4,2057.6 305.9,2057.3 308.5,2056.9 311.0,2056.5 313.6,2055.9 316.1,2055.3 318.7,2054.4 321.2,2053.1 323.8,2050.4 326.3,2045.0 328.9,2035.5 331.4,2021.6 334.0,2006.7 336.5,1996.5 339.1,1996.2 341.6,2005.7 344.2,2020.1 346.7,2033.3 349.3,2042.0 351.8,2046.3 354.4,2047.6 356.9,2046.8 359.5,2043.7 362.0,2037.8 364.6,2029.0 367.1,2019.0 369.7,2010.7 372.2,2007.3 374.8,2010.2 377.3,2017.9 379.9,2027.3 382.4,2035.1 385.0,2039.6 387.5,2040.3 390.1,2037.4 392.6,2031.4 395.2,2023.0 397.7,2014.1 400.3,2006.7 402.8,2001.6 405.4,1997.7 407.9,1992.1 410.5,1982.1 413.0,1967.5 415.6,1951.4 418.1,1938.8 420.7,1934.6 423.2,1940.9 425.8,1956.4 428.3,1977.1 430.9,1998.3 433.4,2016.3 436.0,2029.4 438.5,2037.5 441.1,2041.4 443.6,2042.2 446.2,2041.2 448.7,2039.8 451.3,2039.1 453.8,2039.4 456.4,2039.9 458.9,2039.8 461.5,2038.6 464.0,2037.4 466.6,2037.3 469.1,2039.2 471.7,2042.5 474.2,2046.2 476.8,2048.9 479.3,2050.5 481.9,2051.4 484.4,2052.4 487.0,2053.8 489.5,2055.3 492.1,2056.5 494.6,2057.0 497.2,2056.8 499.7,2055.7 502.3,2054.0 504.8,2052.4 507.4,2051.7 509.9,2052.2 512.5,2053.5 515.0,2054.5 517.6,2053.5 520.1,2048.9 522.7,2039.5 525.2,2027.2 527.8,2018.0 530.3,2018.1 532.9,2027.5 535.4,2040.1 538.0,2050.0 540.5,2055.4 543.1,2057.7 545.6,2058.6 548.2,2058.9 550.7,2058.9 553.3,2058.7 555.8,2058.0 558.4,2056.1 560.9,2051.8 563.5,2044.3 566.0,2034.0 568.6,2024.6 571.1,2020.7 573.7,2024.4 576.2,2033.6 578.8,2043.6 581.3,2050.9 583.9,2054.7 586.4,2055.9 589.0,2054.9 591.5,2051.4 594.1,2044.4 596.6,2033.9 599.2,2022.5 601.7,2014.8 604.3,2014.7 606.8,2022.1 609.4,2033.0 611.9,2042.7 614.5,2048.4 617.0,2050.1 619.6,2048.9 622.1,2046.4 624.7,2043.9 627.2,2042.2 629.8,2042.0 632.3,2042.9 634.9,2044.2 637.4,2044.8 640.0,2044.0 642.5,2041.9 645.1,2039.3 647.6,2037.3 650.2,2036.2 652.7,2035.4 655.3,2034.0 657.8,2031.2 660.4,2027.5 662.9,2023.8 665.5,2021.7 668.0,2022.2 670.6,2025.5 673.1,2031.0 675.7,2037.5 678.2,2043.9 680.8,2049.2 683.3,2053.2 685.9,2055.8 688.4,2057.4 691.0,2058.2 693.5,2058.4 696.1,2058.1 698.6,2057.3 701.2,2055.9 703.7,2054.0 706.3,2051.9 708.8,2050.1 711.4,2049.1 713.9,2049.2 716.5,2050.3 719.0,2052.2 721.6,2054.5 724.1,2056.5 726.7,2058.0 729.2,2059.0 731.8,2059.6 734.3,2059.8 736.9,2059.9 739.4,2059.8 742.0,2059.5 744.5,2059.0 747.1,2057.9 749.6,2056.0 752.2,2053.1 754.7,2049.3 757.3,2045.1 759.8,2041.4 762.4,2039.2 764.9,2039.2 767.5,2041.5 770.0,2045.2 772.6,2049.4 775.1,2053.3 777.7,2055.7 780.2,2056.3" stroke="#1572ab" stroke-width="9.4"/>
<polyline points="780.2,2056.3 782.8,2055.7 785.3,2054.5 787.9,2053.0 790.4,2051.7 793.0,2051.0 795.5,2050.3 798.1,2049.7 800.6,2049.0 803.2,2048.4 805.7,2048.3 808.3,2048.2 810.8,2048.1 813.4,2047.6 815.9,2045.8 818.5,2043.6 821.0,2041.9 823.6,2040.8 826.1,2040.1 828.7,2039.7 831.2,2039.2 833.8,2037.8 836.3,2035.7 838.9,2033.1 841.4,2030.1 844.0,2027.9 846.5,2025.9 849.1,2022.3 851.6,2018.1 854.2,2015.0 856.7,2012.0 859.3,2007.5 861.8,2001.8 864.4,1990.2 866.9,1975.2 869.5,1960.7" stroke="#1572ab" stroke-width="9.9"/>
<polyline points="869.5,1960.7 870.8,1951.7 872.0,1943.0 873.3,1935.3 874.6,1927.6 875.9,1919.0 877.1,1908.1 878.4,1895.2 879.7,1882.8 881.0,1871.4 882.2,1859.4 883.5,1849.9 884.8,1839.9 886.1,1825.2 887.3,1811.9 888.6,1802.7 889.9,1795.7 891.2,1792.1 892.4,1791.8 893.7,1791.2 895.0,1789.5 896.3,1790.2 897.5,1792.1 898.8,1792.6 900.1,1797.1 901.4,1806.9 902.6,1816.0 903.9,1824.9 905.2,1834.5 906.5,1843.7 907.7,1852.4 909.0,1858.6 910.3,1864.3 911.6,1873.1 912.8,1881.1 914.1,1884.5 915.4,1887.3 916.7,1892.5 917.9,1896.3 919.2,1898.7 920.5,1901.7 921.8,1902.3 923.0,1902.5 924.3,1902.2 925.6,1899.4 926.9,1894.5 928.1,1884.1 929.4,1868.4 930.7,1855.0 932.0,1840.6 933.2,1819.7 934.5,1799.3 935.8,1787.3 937.1,1782.2 938.3,1778.3 939.6,1776.8 940.9,1778.3 942.2,1781.9 943.5,1788.4 944.7,1799.6 946.0,1817.7 947.3,1840.3 948.6,1859.5 949.8,1873.6 951.1,1888.4 952.4,1903.9 953.7,1917.0 954.9,1927.3 956.2,1933.5 957.5,1936.7 958.8,1939.6 960.0,1941.3 961.3,1941.6 962.6,1944.6 963.9,1948.4 965.1,1950.4 966.4,1952.9 967.7,1956.9 969.0,1961.2 970.2,1962.4 971.5,1964.7 972.8,1971.5 974.1,1976.4 975.3,1979.3 976.6,1982.9 977.9,1986.9 979.2,1988.9 980.4,1989.6 981.7,1990.8 983.0,1992.9 984.3,1996.3 985.5,1997.2 986.8,1997.7 988.1,2001.8 989.4,2004.7 990.6,2004.8 991.9,2004.6 993.2,2004.3 994.5,2004.9 995.7,2005.6 997.0,2003.6 998.3,2001.0 999.6,2002.8 1000.8,2005.9 1002.1,2005.1 1003.4,2002.8 1004.7,2000.4 1005.9,1997.2 1007.2,1993.4 1008.5,1990.6 1009.8,1988.8 1011.0,1987.2 1012.3,1985.4 1013.6,1982.5 1014.9,1979.4 1016.1,1977.8 1017.4,1976.1 1018.7,1973.3 1020.0,1972.1 1021.2,1972.3 1022.5,1972.6 1023.8,1973.3 1025.1,1976.0 1026.3,1978.6 1027.6,1978.5 1028.9,1980.0 1030.2,1982.7 1031.4,1983.7 1032.7,1984.3 1034.0,1986.0 1035.3,1987.3 1036.5,1985.3 1037.8,1981.8 1039.1,1978.0 1040.4,1973.5 1041.6,1970.1 1042.9,1967.8 1044.2,1962.5 1045.5,1953.9 1046.7,1946.7 1048.0,1942.0 1049.3,1938.6 1050.6,1935.8 1051.8,1932.5 1053.1,1928.0 1054.4,1924.1 1055.7,1920.9 1056.9,1918.9 1058.2,1918.7 1059.5,1919.5 1060.8,1921.1 1062.0,1923.5 1063.3,1927.6 1064.6,1933.0 1065.9,1936.1 1067.1,1938.0 1068.4,1941.1 1069.7,1943.9 1071.0,1947.4 1072.2,1952.0 1073.5,1955.1 1074.8,1956.8 1076.1,1958.2 1077.3,1960.6 1078.6,1963.3 1079.9,1963.8 1081.2,1961.5 1082.4,1960.6 1083.7,1961.1 1085.0,1958.8 1086.3,1955.5 1087.5,1953.1 1088.8,1950.6 1090.1,1946.0 1091.4,1940.0 1092.6,1935.0 1093.9,1929.3 1095.2,1923.5 1096.5,1917.9 1097.7,1911.8 1099.0,1907.6 1100.3,1904.2 1101.6,1899.2 1102.8,1894.1 1104.1,1889.9 1105.4,1888.3 1106.7,1887.2 1107.9,1885.3 1109.2,1884.9 1110.5,1885.8 1111.8,1887.6 1113.0,1889.4 1114.3,1889.5 1115.6,1886.4 1116.9,1881.8 1118.1,1879.0 1119.4,1876.0 1120.7,1870.9 1122.0,1865.5 1123.2,1860.2 1124.5,1856.6 1125.8,1852.3 1127.1,1845.7 1128.3,1841.3 1129.6,1837.0 1130.9,1828.3 1132.2,1822.1 1133.4,1819.3 1134.7,1814.4 1136.0,1811.5 1137.3,1809.4 1138.5,1806.6 1139.8,1803.3 1141.1,1797.5 1142.4,1794.8 1143.6,1794.6 1144.9,1793.5 1146.2,1792.3 1147.5,1788.9 1148.7,1787.1 1150.0,1789.4 1151.3,1789.8 1152.6,1788.5 1153.8,1788.2 1155.1,1790.6 1156.4,1795.5 1157.7,1798.4 1158.9,1799.7 1160.2,1802.4 1161.5,1804.0 1162.8,1802.5 1164.0,1801.7 1165.3,1802.3 1166.6,1800.0 1167.9,1795.8 1169.1,1791.3 1170.4,1783.9 1171.7,1773.5 1173.0,1760.5 1174.2,1748.9 1175.5,1738.4 1176.8,1728.0 1178.1,1714.4 1179.3,1692.3 1180.6,1672.9 1181.9,1661.8 1183.2,1649.8 1184.4,1641.6 1185.7,1639.7 1187.0,1634.7 1188.3,1633.8 1189.5,1640.2 1190.8,1650.0 1192.1,1662.3 1193.4,1677.6 1194.6,1691.3 1195.9,1706.8 1197.2,1724.4 1198.5,1739.4 1199.7,1757.4 1201.0,1775.3 1202.3,1788.6 1203.6,1801.3 1204.8,1814.7 1206.1,1826.9 1207.4,1837.1 1208.7,1847.1 1209.9,1856.6 1211.2,1865.4 1212.5,1872.0 1213.8,1876.9 1215.0,1883.8 1216.3,1891.9 1217.6,1897.5 1218.9,1900.4 1220.1,1904.9 1221.4,1910.2 1222.7,1914.2 1224.0,1917.7 1225.2,1920.0 1226.5,1920.3 1227.8,1919.7 1229.1,1920.1 1230.3,1919.3 1231.6,1914.6 1232.9,1909.2 1234.2,1904.1 1235.4,1899.3 1236.7,1896.6 1238.0,1893.8 1239.3,1890.0 1240.5,1886.5 1241.8,1884.3 1243.1,1882.5 1244.4,1880.1 1245.6,1880.4 1246.9,1882.3 1248.2,1883.2 1249.5,1882.2 1250.7,1881.7 1252.0,1883.4 1253.3,1887.0 1254.6,1891.1 1255.8,1892.4 1257.1,1892.6 1258.4,1892.5 1259.7,1891.5 1261.0,1892.2 1262.2,1893.5 1263.5,1894.4 1264.8,1896.3 1266.1,1897.3 1267.3,1896.1 1268.6,1893.6 1269.9,1891.8 1271.2,1890.0 1272.4,1889.5 1273.7,1890.5 1275.0,1889.1 1276.3,1887.2 1277.5,1886.9 1278.8,1884.2 1280.1,1879.7 1281.4,1876.6 1282.6,1875.3 1283.9,1875.1 1285.2,1873.7 1286.5,1871.7 1287.7,1871.4 1289.0,1870.4 1290.3,1869.9 1291.6,1872.5 1292.8,1874.7 1294.1,1874.9 1295.4,1875.4 1296.7,1877.2 1297.9,1879.4 1299.2,1882.6 1300.5,1887.3 1301.8,1890.2 1303.0,1892.8 1304.3,1897.9 1305.6,1903.2 1306.9,1907.1 1308.1,1909.9 1309.4,1912.6 1310.7,1915.1 1312.0,1915.4 1313.2,1916.1 1314.5,1918.8 1315.8,1920.8 1317.1,1924.0 1318.3,1927.5 1319.6,1929.2 1320.9,1929.7 1322.2,1930.0 1323.4,1930.3 1324.7,1929.2 1326.0,1930.5 1327.3,1932.7 1328.5,1930.4 1329.8,1929.2 1331.1,1930.5 1332.4,1931.2 1333.6,1931.7 1334.9,1931.3 1336.2,1930.0 1337.5,1928.8 1338.7,1929.6 1340.0,1929.1 1341.3,1923.5 1342.6,1919.9 1343.8,1920.3 1345.1,1919.5 1346.4,1918.5 1347.7,1917.7 1348.9,1914.8 1350.2,1913.6 1351.5,1914.4 1352.8,1913.2 1354.0,1912.7 1355.3,1912.5 1356.6,1908.7 1357.9,1907.5 1359.1,1908.7 1360.4,1907.6 1361.7,1907.8 1363.0,1907.7 1364.2,1906.3 1365.5,1906.8 1366.8,1906.8 1368.1,1905.4 1369.3,1905.3 1370.6,1907.5 1371.9,1910.7 1373.2,1910.0 1374.4,1906.5 1375.7,1904.7 1377.0,1903.0 1378.3,1900.6 1379.5,1898.1 1380.8,1894.1 1382.1,1889.9 1383.4,1888.5 1384.6,1886.8 1385.9,1882.7 1387.2,1879.9 1388.5,1878.8 1389.7,1876.1 1391.0,1872.3 1392.3,1869.0 1393.6,1867.3 1394.8,1866.6 1396.1,1865.7 1397.4,1865.2 1398.7,1865.6 1399.9,1867.9 1401.2,1870.9 1402.5,1872.5 1403.8,1872.5 1405.0,1874.3 1406.3,1879.9 1407.6,1883.8 1408.9,1887.5 1410.1,1894.0 1411.4,1896.8 1412.7,1895.2 1414.0,1891.5 1415.2,1888.5 1416.5,1888.7 1417.8,1889.8 1419.1,1892.5 1420.3,1896.1 1421.6,1894.7 1422.9,1890.1 1424.2,1889.4 1425.4,1889.9 1426.7,1889.4 1428.0,1890.3 1429.3,1889.2 1430.5,1889.2 1431.8,1892.6 1433.1,1892.7 1434.4,1890.5 1435.6,1889.3 1436.9,1887.7 1438.2,1885.4 1439.5,1881.0 1440.7,1875.9 1442.0,1870.6 1443.3,1862.3 1444.6,1853.0 1445.8,1843.4 1447.1,1830.2 1448.4,1813.7 1449.7,1796.7 1450.9,1776.9 1452.2,1752.2 1453.5,1727.1 1454.8,1697.2 1456.0,1656.3 1457.3,1613.4 1458.6,1571.5 1459.9,1523.8 1461.1,1470.7 1462.4,1420.3 1463.7,1374.2 1465.0,1340.2 1466.2,1331.1 1467.5,1344.1 1468.8,1374.0 1470.1,1416.7 1471.3,1465.3 1472.6,1518.3 1473.9,1571.4 1475.2,1615.5 1476.4,1653.6 1477.7,1692.3 1479.0,1724.6 1480.3,1750.0 1481.5,1776.0 1482.8,1798.1 1484.1,1814.7 1485.4,1830.5 1486.6,1843.6 1487.9,1853.9 1489.2,1864.5 1490.5,1874.6 1491.7,1882.8 1493.0,1888.8 1494.3,1894.4 1495.6,1901.8 1496.8,1906.7 1498.1,1910.0 1499.4,1915.0 1500.7,1918.4 1501.9,1922.3 1503.2,1928.8 1504.5,1933.6 1505.8,1935.2 1507.0,1936.6 1508.3,1939.5 1509.6,1942.4 1510.9,1943.8 1512.1,1946.6 1513.4,1949.9 1514.7,1951.0 1516.0,1953.2 1517.2,1956.2 1518.5,1956.6 1519.8,1955.8 1521.1,1958.6 1522.3,1962.5 1523.6,1963.3 1524.9,1963.7 1526.2,1965.2 1527.4,1967.3 1528.7,1968.4 1530.0,1968.4 1531.3,1969.8 1532.5,1971.3 1533.8,1972.3 1535.1,1972.7 1536.4,1972.3 1537.6,1973.3 1538.9,1975.7 1540.2,1977.2 1541.5,1976.8 1542.7,1976.2 1544.0,1977.0 1545.3,1978.3 1546.6,1979.5 1547.8,1980.1 1549.1,1981.2 1550.4,1981.8 1551.7,1981.0 1552.9,1982.0 1554.2,1982.5 1555.5,1981.3 1556.8,1982.0 1558.0,1983.5 1559.3,1985.2 1560.6,1986.0 1561.9,1984.4 1563.1,1983.8 1564.4,1984.6 1565.7,1985.0 1567.0,1986.5 1568.2,1987.0 1569.5,1986.0 1570.8,1985.8 1572.1,1986.4 1573.3,1987.9 1574.6,1989.7 1575.9,1990.7 1577.2,1990.6 1578.5,1990.5 1579.7,1990.2 1581.0,1989.3 1582.3,1990.3 1583.6,1990.1 1584.8,1988.0 1586.1,1989.6 1587.4,1990.7 1588.7,1988.6 1589.9,1988.8 1591.2,1991.7 1592.5,1993.2 1593.8,1991.9 1595.0,1990.4 1596.3,1991.3 1597.6,1992.3 1598.9,1991.3 1600.1,1991.2 1601.4,1992.9 1602.7,1993.9 1604.0,1992.7 1605.2,1989.9 1606.5,1989.0 1607.8,1990.8 1609.1,1992.1 1610.3,1993.5 1611.6,1994.9 1612.9,1994.8 1614.2,1995.4 1615.4,1996.0 1616.7,1995.3 1618.0,1994.2 1619.3,1993.2 1620.5,1992.9 1621.8,1994.1 1623.1,1994.9 1624.4,1994.3 1625.6,1993.8 1626.9,1994.1 1628.2,1996.7 1629.5,1998.6 1630.7,1995.9 1632.0,1993.0 1633.3,1993.8 1634.6,1995.0 1635.8,1994.5 1637.1,1994.4 1638.4,1995.3 1639.7,1996.1 1640.9,1996.0 1642.2,1996.1 1643.5,1997.2 1644.8,1997.5 1646.0,1996.1 1647.3,1994.8 1648.6,1994.8 1649.9,1995.1 1651.1,1994.1 1652.4,1993.1 1653.7,1994.0 1655.0,1993.9 1656.2,1993.4 1657.5,1994.8 1658.8,1995.0 1660.1,1993.7 1661.3,1993.2 1662.6,1994.1 1663.9,1994.8 1665.2,1995.5 1666.4,1995.7 1667.7,1994.5 1669.0,1995.3 1670.3,1996.5 1671.5,1996.3 1672.8,1996.5 1674.1,1995.6 1675.4,1994.2 1676.6,1993.1 1677.9,1992.2 1679.2,1992.2 1680.5,1990.9 1681.7,1988.5 1683.0,1987.0 1684.3,1986.7 1685.6,1987.2 1686.8,1987.2 1688.1,1986.3 1689.4,1985.5 1690.7,1985.8 1691.9,1985.6 1693.2,1985.1 1694.5,1985.0 1695.8,1983.8 1697.0,1982.7 1698.3,1983.7 1699.6,1984.0 1700.9,1983.0 1702.1,1982.5 1703.4,1982.3 1704.7,1982.0 1706.0,1982.6 1707.2,1984.1 1708.5,1984.4 1709.8,1984.1 1711.1,1984.0 1712.3,1984.7 1713.6,1984.8 1714.9,1983.1 1716.2,1981.6 1717.4,1982.1 1718.7,1982.4 1720.0,1982.9 1721.3,1985.7 1722.5,1987.6 1723.8,1986.6 1725.1,1985.1 1726.4,1983.2 1727.6,1983.6 1728.9,1985.1 1730.2,1983.7 1731.5,1983.4 1732.7,1985.4 1734.0,1985.8 1735.3,1985.7 1736.6,1988.0 1737.8,1990.2 1739.1,1991.3 1740.4,1992.4 1741.7,1992.3 1742.9,1992.4 1744.2,1993.0 1745.5,1994.2 1746.8,1995.1 1748.0,1995.3 1749.3,1996.2 1750.6,1997.4 1751.9,1998.5 1753.1,1998.9 1754.4,1999.2 1755.7,1999.7 1757.0,2001.2 1758.2,2003.1 1759.5,2002.6 1760.8,2000.9 1762.1,2001.3 1763.3,2003.9 1764.6,2005.4 1765.9,2004.5 1767.2,2003.8 1768.4,2004.4 1769.7,2004.3 1771.0,2003.0 1772.3,2002.5 1773.5,2003.9 1774.8,2005.6 1776.1,2005.9 1777.4,2006.6 1778.6,2007.1 1779.9,2006.1 1781.2,2006.4 1782.5,2006.7 1783.7,2005.7 1785.0,2005.6 1786.3,2006.0 1787.6,2006.1 1788.8,2007.7 1790.1,2009.7 1791.4,2009.4 1792.7,2008.7 1793.9,2009.6 1795.2,2009.7 1796.5,2008.7 1797.8,2007.8 1799.0,2007.8 1800.3,2009.0 1801.6,2009.9 1802.9,2009.8 1804.1,2010.2 1805.4,2010.5 1806.7,2009.9 1808.0,2010.8 1809.2,2011.7 1810.5,2011.2 1811.8,2011.5 1813.1,2012.6 1814.3,2013.7 1815.6,2013.9 1816.9,2014.2 1818.2,2015.3 1819.4,2014.4 1820.7,2012.1 1822.0,2012.4 1823.3,2012.8 1824.5,2012.5 1825.8,2013.2 1827.1,2014.2 1828.4,2015.1 1829.6,2014.9 1830.9,2014.5 1832.2,2014.2 1833.5,2015.0 1834.7,2017.0 1836.0,2018.0 1837.3,2016.7 1838.6,2014.8 1839.8,2014.4 1841.1,2015.9 1842.4,2018.7 1843.7,2019.7 1844.9,2018.0 1846.2,2016.9 1847.5,2016.7 1848.8,2016.3 1850.0,2017.0 1851.3,2018.2 1852.6,2018.0 1853.9,2017.0 1855.1,2016.8 1856.4,2015.9 1857.7,2015.0 1859.0,2016.3 1860.2,2017.8 1861.5,2018.5 1862.8,2018.1 1864.1,2017.0 1865.3,2017.0 1866.6,2017.5 1867.9,2017.6 1869.2,2018.7 1870.4,2021.5 1871.7,2021.2 1873.0,2017.3 1874.3,2016.5 1875.5,2019.0 1876.8,2021.0 1878.1,2020.1 1879.4,2019.5 1880.6,2021.1 1881.9,2020.2 1883.2,2018.3 1884.5,2018.2 1885.7,2018.5 1887.0,2017.9 1888.3,2017.7 1889.6,2020.0 1890.8,2021.2 1892.1,2019.3 1893.4,2018.2 1894.7,2018.6 1896.0,2019.1 1897.2,2020.5 1898.5,2020.7 1899.8,2018.5 1901.1,2017.2 1902.3,2018.2 1903.6,2020.5 1904.9,2022.2 1906.2,2022.2 1907.4,2021.0 1908.7,2019.8 1910.0,2020.5 1911.3,2021.7 1912.5,2021.2 1913.8,2020.6 1915.1,2020.8 1916.4,2021.0 1917.6,2020.9 1918.9,2020.5 1920.2,2020.6 1921.5,2021.2 1922.7,2021.6 1924.0,2021.3 1925.3,2022.3 1926.6,2023.2 1927.8,2022.1 1929.1,2021.0 1930.4,2020.8 1931.7,2021.3 1932.9,2021.7 1934.2,2021.5 1935.5,2021.8 1936.8,2023.1 1938.0,2022.9 1939.3,2021.7 1940.6,2022.7 1941.9,2022.7 1943.1,2021.3 1944.4,2021.1 1945.7,2021.0 1947.0,2020.5 1948.2,2020.4 1949.5,2019.9 1950.8,2019.8 1952.1,2021.7 1953.3,2022.7 1954.6,2022.8 1955.9,2022.9 1957.2,2021.6 1958.4,2020.8" stroke="#1572ab" stroke-width="11.5"/>
<polyline points="300.8,2058.3 303.4,2058.1 305.9,2057.9 308.5,2057.6 311.0,2057.2 313.6,2056.7 316.1,2056.2 318.7,2055.5 321.2,2054.3 323.8,2052.0 326.3,2047.5 328.9,2039.4 331.4,2027.7 334.0,2015.0 336.5,2006.5 339.1,2006.2 341.6,2014.3 344.2,2026.4 346.7,2037.5 349.3,2044.9 351.8,2048.6 354.4,2049.7 356.9,2049.0 359.5,2046.3 362.0,2041.3 364.6,2034.0 367.1,2025.4 369.7,2018.4 372.2,2015.5 374.8,2017.9 377.3,2024.5 379.9,2032.4 382.4,2039.0 385.0,2042.8 387.5,2043.4 390.1,2041.0 392.6,2035.9 395.2,2028.8 397.7,2021.2 400.3,2014.9 402.8,2010.5 405.4,2007.2 407.9,2002.4 410.5,1994.0 413.0,1981.6 415.6,1967.8 418.1,1957.1 420.7,1953.5 423.2,1958.9 425.8,1972.1 428.3,1989.8 430.9,2007.8 433.4,2023.1 436.0,2034.2 438.5,2041.1 441.1,2044.4 443.6,2045.1 446.2,2044.2 448.7,2043.1 451.3,2042.5 453.8,2042.8 456.4,2043.3 458.9,2043.2 461.5,2042.2 464.0,2041.2 466.6,2041.2 469.1,2042.8 471.7,2045.6 474.2,2048.6 476.8,2050.9 479.3,2052.3 481.9,2053.0 484.4,2053.9 487.0,2055.0 489.5,2056.3 492.1,2057.3 494.6,2057.7 497.2,2057.5 499.7,2056.7 502.3,2055.3 504.8,2054.0 507.4,2053.4 509.9,2053.8 512.5,2054.9 515.0,2055.6 517.6,2054.9 520.1,2051.1 522.7,2043.4 525.2,2033.3 527.8,2025.8 530.3,2025.9 532.9,2033.6 535.4,2043.9 538.0,2052.0 540.5,2056.4 543.1,2058.3 545.6,2059.0 548.2,2059.3 550.7,2059.3 553.3,2059.2 555.8,2058.6 558.4,2057.0 560.9,2053.5 563.5,2047.3 566.0,2038.9 568.6,2031.2 571.1,2028.0 573.7,2031.0 576.2,2038.6 578.8,2046.8 581.3,2052.7 583.9,2055.9 586.4,2056.8 589.0,2056.0 591.5,2053.1 594.1,2047.4 596.6,2038.8 599.2,2029.5 601.7,2023.2 604.3,2023.1 606.8,2029.1 609.4,2038.1 611.9,2046.0 614.5,2050.7 617.0,2052.0 619.6,2051.1 622.1,2049.1 624.7,2047.0 627.2,2045.6 629.8,2045.4 632.3,2046.1 634.9,2047.2 637.4,2047.7 640.0,2047.1 642.5,2045.4 645.1,2043.2 647.6,2041.6 650.2,2040.7 652.7,2040.0 655.3,2038.9 657.8,2036.6 660.4,2033.5 662.9,2030.5 665.5,2028.8 668.0,2029.2 670.6,2031.9 673.1,2036.4 675.7,2041.8 678.2,2047.0 680.8,2051.3 683.3,2054.6 685.9,2056.8 688.4,2058.0 691.0,2058.7 693.5,2058.9 696.1,2058.7 698.6,2058.0 701.2,2056.8 703.7,2055.3 706.3,2053.6 708.8,2052.1 711.4,2051.2 713.9,2051.3 716.5,2052.2 719.0,2053.8 721.6,2055.6 724.1,2057.3 726.7,2058.5 729.2,2059.4 731.8,2059.8 734.3,2060.1 736.9,2060.1 739.4,2060.0 742.0,2059.8 744.5,2059.3 747.1,2058.4 749.6,2056.8 752.2,2054.5 754.7,2051.3 757.3,2047.8 759.8,2044.7 762.4,2042.9 764.9,2042.8 767.5,2044.7 770.0,2047.8 772.6,2051.3 775.1,2054.5 777.7,2056.5 780.2,2057.1" stroke="#c5423d" stroke-width="9.4"/>
<polyline points="780.2,2057.1 782.8,2056.6 785.3,2055.5 787.9,2054.3 790.4,2053.3 793.0,2052.6 795.5,2051.9 798.1,2051.2 800.6,2050.6 803.2,2050.3 805.7,2050.3 808.3,2050.3 810.8,2050.2 813.4,2049.8 815.9,2048.6 818.5,2046.9 821.0,2045.0 823.6,2043.4 826.1,2043.1 828.7,2043.2 831.2,2042.2 833.8,2040.6 836.3,2039.2 838.9,2037.2 841.4,2034.6 844.0,2032.2 846.5,2029.5 849.1,2027.2 851.6,2025.3 854.2,2021.4 856.7,2017.1 859.3,2013.7 861.8,2009.1 864.4,1999.8 866.9,1986.6 869.5,1970.6" stroke="#c5423d" stroke-width="9.9"/>
<polyline points="869.5,1970.6 870.8,1961.4 872.0,1955.4 873.3,1948.9 874.6,1939.8 875.9,1930.4 877.1,1921.1 878.4,1912.3 879.7,1903.2 881.0,1893.4 882.2,1882.7 883.5,1870.2 884.8,1857.8 886.1,1845.7 887.3,1835.2 888.6,1828.4 889.9,1824.2 891.2,1822.7 892.4,1820.9 893.7,1816.9 895.0,1815.8 896.3,1817.6 897.5,1818.7 898.8,1821.0 900.1,1826.5 901.4,1835.9 902.6,1844.8 903.9,1850.7 905.2,1858.4 906.5,1867.4 907.7,1875.2 909.0,1882.0 910.3,1888.8 911.6,1896.4 912.8,1902.1 914.1,1905.1 915.4,1909.0 916.7,1912.4 917.9,1914.3 919.2,1917.3 920.5,1919.2 921.8,1917.8 923.0,1916.6 924.3,1916.0 925.6,1915.8 926.9,1914.9 928.1,1906.6 929.4,1889.6 930.7,1872.7 932.0,1858.6 933.2,1843.6 934.5,1828.4 935.8,1819.5 937.1,1816.8 938.3,1813.0 939.6,1809.0 940.9,1809.0 942.2,1813.2 943.5,1818.2 944.7,1830.0 946.0,1846.4 947.3,1862.6 948.6,1881.5 949.8,1895.7 951.1,1907.5 952.4,1923.0 953.7,1935.3 954.9,1942.7 956.2,1948.8 957.5,1953.7 958.8,1956.0 960.0,1956.0 961.3,1956.4 962.6,1958.2 963.9,1959.4 965.1,1960.7 966.4,1963.6 967.7,1967.1 969.0,1972.5 970.2,1977.9 971.5,1980.4 972.8,1983.6 974.1,1988.4 975.3,1992.8 976.6,1996.0 977.9,1997.4 979.2,1998.8 980.4,2001.5 981.7,2003.8 983.0,2004.8 984.3,2005.8 985.5,2007.9 986.8,2009.1 988.1,2009.7 989.4,2011.3 990.6,2012.9 991.9,2014.0 993.2,2013.7 994.5,2013.1 995.7,2013.4 997.0,2014.1 998.3,2014.3 999.6,2013.6 1000.8,2012.3 1002.1,2010.5 1003.4,2010.2 1004.7,2010.0 1005.9,2007.9 1007.2,2005.5 1008.5,2003.2 1009.8,2001.9 1011.0,1999.9 1012.3,1996.2 1013.6,1994.6 1014.9,1995.0 1016.1,1993.9 1017.4,1991.2 1018.7,1989.0 1020.0,1986.4 1021.2,1983.4 1022.5,1982.5 1023.8,1983.5 1025.1,1984.0 1026.3,1986.1 1027.6,1990.8 1028.9,1993.9 1030.2,1994.0 1031.4,1993.4 1032.7,1992.6 1034.0,1992.7 1035.3,1992.9 1036.5,1993.0 1037.8,1994.0 1039.1,1992.6 1040.4,1988.0 1041.6,1982.1 1042.9,1979.0 1044.2,1975.6 1045.5,1968.5 1046.7,1962.7 1048.0,1958.8 1049.3,1955.4 1050.6,1951.4 1051.8,1947.2 1053.1,1944.9 1054.4,1942.2 1055.7,1938.3 1056.9,1936.7 1058.2,1936.8 1059.5,1937.5 1060.8,1938.8 1062.0,1940.1 1063.3,1943.7 1064.6,1947.9 1065.9,1951.9 1067.1,1956.7 1068.4,1959.4 1069.7,1960.1 1071.0,1961.0 1072.2,1962.8 1073.5,1966.6 1074.8,1970.2 1076.1,1971.1 1077.3,1971.3 1078.6,1972.3 1079.9,1974.1 1081.2,1974.6 1082.4,1972.9 1083.7,1971.6 1085.0,1970.7 1086.3,1969.1 1087.5,1966.4 1088.8,1963.5 1090.1,1958.8 1091.4,1953.0 1092.6,1949.5 1093.9,1946.9 1095.2,1942.2 1096.5,1935.5 1097.7,1928.6 1099.0,1924.0 1100.3,1920.4 1101.6,1916.2 1102.8,1911.9 1104.1,1907.8 1105.4,1905.3 1106.7,1905.8 1107.9,1908.1 1109.2,1910.7 1110.5,1911.4 1111.8,1910.9 1113.0,1910.3 1114.3,1907.4 1115.6,1904.3 1116.9,1902.7 1118.1,1899.9 1119.4,1895.1 1120.7,1890.0 1122.0,1885.1 1123.2,1879.7 1124.5,1875.0 1125.8,1870.8 1127.1,1866.4 1128.3,1862.6 1129.6,1857.2 1130.9,1851.4 1132.2,1847.7 1133.4,1843.9 1134.7,1840.7 1136.0,1838.2 1137.3,1835.5 1138.5,1832.6 1139.8,1829.4 1141.1,1826.8 1142.4,1823.1 1143.6,1818.9 1144.9,1816.5 1146.2,1814.4 1147.5,1812.9 1148.7,1813.0 1150.0,1814.1 1151.3,1812.8 1152.6,1810.9 1153.8,1813.4 1155.1,1817.0 1156.4,1819.1 1157.7,1822.1 1158.9,1826.6 1160.2,1828.8 1161.5,1828.0 1162.8,1828.5 1164.0,1830.1 1165.3,1829.3 1166.6,1825.8 1167.9,1821.6 1169.1,1817.3 1170.4,1810.8 1171.7,1803.3 1173.0,1795.9 1174.2,1784.9 1175.5,1771.8 1176.8,1758.5 1178.1,1743.1 1179.3,1727.2 1180.6,1713.0 1181.9,1701.8 1183.2,1690.5 1184.4,1679.5 1185.7,1675.5 1187.0,1675.0 1188.3,1675.7 1189.5,1678.8 1190.8,1685.7 1192.1,1695.0 1193.4,1708.7 1194.6,1723.3 1195.9,1738.4 1197.2,1755.2 1198.5,1770.0 1199.7,1782.4 1201.0,1795.9 1202.3,1810.0 1203.6,1823.0 1204.8,1836.1 1206.1,1848.1 1207.4,1858.7 1208.7,1868.5 1209.9,1876.8 1211.2,1884.3 1212.5,1889.8 1213.8,1894.2 1215.0,1900.5 1216.3,1906.2 1217.6,1910.7 1218.9,1916.0 1220.1,1921.0 1221.4,1923.6 1222.7,1924.6 1224.0,1926.6 1225.2,1929.8 1226.5,1932.2 1227.8,1933.0 1229.1,1933.6 1230.3,1932.4 1231.6,1928.2 1232.9,1923.3 1234.2,1919.3 1235.4,1913.6 1236.7,1910.5 1238.0,1910.3 1239.3,1905.9 1240.5,1899.9 1241.8,1898.4 1243.1,1899.5 1244.4,1898.9 1245.6,1898.4 1246.9,1898.6 1248.2,1897.2 1249.5,1895.9 1250.7,1898.3 1252.0,1901.4 1253.3,1902.4 1254.6,1902.0 1255.8,1903.1 1257.1,1904.3 1258.4,1904.6 1259.7,1906.5 1261.0,1907.1 1262.2,1905.2 1263.5,1904.7 1264.8,1906.2 1266.1,1906.0 1267.3,1904.2 1268.6,1903.4 1269.9,1902.1 1271.2,1901.1 1272.4,1900.5 1273.7,1898.7 1275.0,1897.1 1276.3,1895.5 1277.5,1894.9 1278.8,1896.4 1280.1,1894.0 1281.4,1888.7 1282.6,1887.1 1283.9,1886.7 1285.2,1883.7 1286.5,1881.7 1287.7,1881.6 1289.0,1881.0 1290.3,1881.4 1291.6,1882.4 1292.8,1882.4 1294.1,1883.4 1295.4,1886.6 1296.7,1887.9 1297.9,1889.0 1299.2,1892.9 1300.5,1895.4 1301.8,1896.0 1303.0,1898.8 1304.3,1902.9 1305.6,1907.2 1306.9,1909.7 1308.1,1911.4 1309.4,1916.7 1310.7,1921.6 1312.0,1924.0 1313.2,1924.1 1314.5,1923.9 1315.8,1926.1 1317.1,1928.7 1318.3,1929.8 1319.6,1930.0 1320.9,1932.6 1322.2,1934.9 1323.4,1934.5 1324.7,1934.3 1326.0,1934.3 1327.3,1934.3 1328.5,1934.6 1329.8,1935.3 1331.1,1937.0 1332.4,1936.6 1333.6,1934.0 1334.9,1932.7 1336.2,1932.3 1337.5,1932.8 1338.7,1933.5 1340.0,1930.7 1341.3,1927.2 1342.6,1926.9 1343.8,1927.3 1345.1,1926.6 1346.4,1924.8 1347.7,1922.6 1348.9,1921.0 1350.2,1919.9 1351.5,1919.5 1352.8,1918.5 1354.0,1916.7 1355.3,1915.5 1356.6,1914.0 1357.9,1912.2 1359.1,1912.4 1360.4,1913.4 1361.7,1913.0 1363.0,1912.3 1364.2,1914.1 1365.5,1915.8 1366.8,1914.4 1368.1,1913.2 1369.3,1913.1 1370.6,1912.0 1371.9,1913.1 1373.2,1914.6 1374.4,1911.4 1375.7,1907.9 1377.0,1908.2 1378.3,1906.9 1379.5,1901.7 1380.8,1897.0 1382.1,1895.4 1383.4,1895.0 1384.6,1893.0 1385.9,1889.6 1387.2,1885.3 1388.5,1882.4 1389.7,1881.5 1391.0,1880.0 1392.3,1878.6 1393.6,1877.8 1394.8,1877.8 1396.1,1876.9 1397.4,1875.7 1398.7,1876.2 1399.9,1877.0 1401.2,1879.3 1402.5,1881.6 1403.8,1883.5 1405.0,1885.9 1406.3,1887.7 1407.6,1887.9 1408.9,1890.2 1410.1,1895.7 1411.4,1897.6 1412.7,1897.4 1414.0,1897.3 1415.2,1896.3 1416.5,1895.7 1417.8,1893.8 1419.1,1893.0 1420.3,1894.2 1421.6,1892.4 1422.9,1890.7 1424.2,1890.7 1425.4,1889.0 1426.7,1888.6 1428.0,1889.3 1429.3,1890.4 1430.5,1892.5 1431.8,1892.9 1433.1,1893.2 1434.4,1893.8 1435.6,1892.7 1436.9,1890.6 1438.2,1888.9 1439.5,1887.6 1440.7,1883.3 1442.0,1875.0 1443.3,1866.4 1444.6,1858.5 1445.8,1849.4 1447.1,1838.9 1448.4,1824.9 1449.7,1808.0 1450.9,1790.4 1452.2,1771.8 1453.5,1750.2 1454.8,1719.3 1456.0,1680.9 1457.3,1643.1 1458.6,1601.7 1459.9,1553.8 1461.1,1507.0 1462.4,1463.0 1463.7,1421.0 1465.0,1386.2 1466.2,1374.9 1467.5,1390.2 1468.8,1416.4 1470.1,1450.2 1471.3,1498.6 1472.6,1553.3 1473.9,1597.9 1475.2,1638.6 1476.4,1678.3 1477.7,1709.9 1479.0,1736.7 1480.3,1762.0 1481.5,1784.4 1482.8,1803.2 1484.1,1819.2 1485.4,1832.5 1486.6,1845.1 1487.9,1858.0 1489.2,1867.4 1490.5,1872.9 1491.7,1879.5 1493.0,1888.5 1494.3,1897.1 1495.6,1902.3 1496.8,1905.5 1498.1,1911.5 1499.4,1918.2 1500.7,1922.2 1501.9,1925.6 1503.2,1930.1 1504.5,1933.3 1505.8,1934.6 1507.0,1937.6 1508.3,1942.5 1509.6,1946.6 1510.9,1948.2 1512.1,1948.6 1513.4,1949.8 1514.7,1951.7 1516.0,1952.9 1517.2,1955.3 1518.5,1959.5 1519.8,1962.8 1521.1,1963.6 1522.3,1963.4 1523.6,1963.0 1524.9,1962.2 1526.2,1962.6 1527.4,1965.3 1528.7,1966.4 1530.0,1965.3 1531.3,1966.9 1532.5,1969.7 1533.8,1971.5 1535.1,1972.5 1536.4,1971.9 1537.6,1971.2 1538.9,1971.1 1540.2,1971.8 1541.5,1972.9 1542.7,1974.1 1544.0,1976.4 1545.3,1977.8 1546.6,1978.7 1547.8,1979.8 1549.1,1979.8 1550.4,1979.3 1551.7,1979.2 1552.9,1980.8 1554.2,1982.6 1555.5,1981.1 1556.8,1980.7 1558.0,1983.2 1559.3,1983.7 1560.6,1983.3 1561.9,1984.2 1563.1,1984.1 1564.4,1984.0 1565.7,1984.6 1567.0,1983.8 1568.2,1983.9 1569.5,1985.2 1570.8,1984.4 1572.1,1983.5 1573.3,1984.2 1574.6,1984.4 1575.9,1984.6 1577.2,1985.0 1578.5,1984.7 1579.7,1985.7 1581.0,1987.0 1582.3,1986.1 1583.6,1985.2 1584.8,1986.1 1586.1,1987.4 1587.4,1986.7 1588.7,1986.0 1589.9,1986.5 1591.2,1986.2 1592.5,1986.5 1593.8,1987.7 1595.0,1988.4 1596.3,1988.6 1597.6,1988.5 1598.9,1989.4 1600.1,1990.5 1601.4,1990.4 1602.7,1990.1 1604.0,1989.8 1605.2,1990.5 1606.5,1992.1 1607.8,1992.1 1609.1,1990.9 1610.3,1990.6 1611.6,1989.8 1612.9,1988.2 1614.2,1989.3 1615.4,1991.1 1616.7,1990.7 1618.0,1990.3 1619.3,1992.3 1620.5,1994.2 1621.8,1993.5 1623.1,1991.7 1624.4,1991.8 1625.6,1993.2 1626.9,1992.8 1628.2,1992.4 1629.5,1993.0 1630.7,1993.6 1632.0,1993.4 1633.3,1992.8 1634.6,1993.0 1635.8,1993.3 1637.1,1994.3 1638.4,1995.2 1639.7,1995.5 1640.9,1995.6 1642.2,1994.6 1643.5,1994.3 1644.8,1996.5 1646.0,1997.5 1647.3,1995.2 1648.6,1993.0 1649.9,1992.6 1651.1,1992.8 1652.4,1993.7 1653.7,1995.4 1655.0,1997.0 1656.2,1998.3 1657.5,1996.9 1658.8,1995.7 1660.1,1997.5 1661.3,1998.6 1662.6,1997.2 1663.9,1994.6 1665.2,1991.9 1666.4,1990.4 1667.7,1992.2 1669.0,1996.2 1670.3,1997.1 1671.5,1994.3 1672.8,1993.2 1674.1,1994.6 1675.4,1994.4 1676.6,1992.9 1677.9,1991.9 1679.2,1990.9 1680.5,1989.3 1681.7,1988.2 1683.0,1987.9 1684.3,1986.4 1685.6,1985.7 1686.8,1987.6 1688.1,1987.9 1689.4,1985.1 1690.7,1983.4 1691.9,1983.7 1693.2,1984.1 1694.5,1984.1 1695.8,1984.1 1697.0,1984.1 1698.3,1983.5 1699.6,1982.8 1700.9,1982.2 1702.1,1981.1 1703.4,1981.6 1704.7,1982.6 1706.0,1983.2 1707.2,1983.7 1708.5,1981.1 1709.8,1978.9 1711.1,1980.4 1712.3,1982.0 1713.6,1982.1 1714.9,1982.4 1716.2,1982.9 1717.4,1983.1 1718.7,1983.8 1720.0,1984.4 1721.3,1984.2 1722.5,1985.3 1723.8,1985.5 1725.1,1983.6 1726.4,1984.9 1727.6,1986.7 1728.9,1985.7 1730.2,1985.6 1731.5,1986.1 1732.7,1986.8 1734.0,1989.8 1735.3,1992.0 1736.6,1990.5 1737.8,1988.8 1739.1,1989.5 1740.4,1991.4 1741.7,1992.2 1742.9,1992.4 1744.2,1993.5 1745.5,1994.3 1746.8,1995.1 1748.0,1995.5 1749.3,1995.4 1750.6,1996.8 1751.9,1997.9 1753.1,1998.5 1754.4,1999.0 1755.7,1998.1 1757.0,1997.2 1758.2,1997.4 1759.5,1999.0 1760.8,2000.3 1762.1,2001.1 1763.3,2002.4 1764.6,2002.2 1765.9,2001.3 1767.2,2002.3 1768.4,2004.6 1769.7,2004.6 1771.0,2003.1 1772.3,2004.6 1773.5,2007.0 1774.8,2006.9 1776.1,2005.2 1777.4,2004.3 1778.6,2004.6 1779.9,2004.8 1781.2,2005.4 1782.5,2005.7 1783.7,2006.1 1785.0,2007.1 1786.3,2007.8 1787.6,2008.5 1788.8,2008.7 1790.1,2008.6 1791.4,2009.2 1792.7,2009.7 1793.9,2010.0 1795.2,2010.2 1796.5,2009.7 1797.8,2009.0 1799.0,2009.5 1800.3,2009.4 1801.6,2010.3 1802.9,2013.4 1804.1,2014.9 1805.4,2014.4 1806.7,2012.5 1808.0,2010.8 1809.2,2010.7 1810.5,2011.7 1811.8,2011.9 1813.1,2010.8 1814.3,2011.4 1815.6,2013.2 1816.9,2013.7 1818.2,2013.3 1819.4,2013.5 1820.7,2013.8 1822.0,2013.3 1823.3,2013.6 1824.5,2013.7 1825.8,2013.5 1827.1,2014.9 1828.4,2015.5 1829.6,2014.4 1830.9,2014.1 1832.2,2014.6 1833.5,2015.0 1834.7,2015.2 1836.0,2016.3 1837.3,2016.6 1838.6,2015.8 1839.8,2016.1 1841.1,2015.8 1842.4,2015.0 1843.7,2014.0 1844.9,2013.9 1846.2,2016.4 1847.5,2017.5 1848.8,2015.9 1850.0,2015.1 1851.3,2016.8 1852.6,2017.6 1853.9,2016.8 1855.1,2017.3 1856.4,2017.2 1857.7,2016.6 1859.0,2017.6 1860.2,2017.8 1861.5,2017.3 1862.8,2017.3 1864.1,2017.9 1865.3,2018.6 1866.6,2018.9 1867.9,2019.8 1869.2,2019.2 1870.4,2017.0 1871.7,2016.5 1873.0,2017.7 1874.3,2018.9 1875.5,2019.1 1876.8,2019.5 1878.1,2019.9 1879.4,2019.3 1880.6,2019.4 1881.9,2020.3 1883.2,2020.2 1884.5,2018.6 1885.7,2017.8 1887.0,2019.0 1888.3,2020.4 1889.6,2019.8 1890.8,2018.8 1892.1,2019.2 1893.4,2019.5 1894.7,2020.1 1896.0,2020.1 1897.2,2020.0 1898.5,2021.1 1899.8,2020.9 1901.1,2020.9 1902.3,2021.7 1903.6,2020.5 1904.9,2019.7 1906.2,2020.5 1907.4,2021.0 1908.7,2020.0 1910.0,2019.2 1911.3,2019.1 1912.5,2018.5 1913.8,2018.8 1915.1,2019.0 1916.4,2019.5 1917.6,2021.2 1918.9,2021.6 1920.2,2020.6 1921.5,2019.7 1922.7,2018.9 1924.0,2019.3 1925.3,2020.5 1926.6,2021.2 1927.8,2021.7 1929.1,2022.2 1930.4,2021.7 1931.7,2021.1 1932.9,2021.8 1934.2,2022.1 1935.5,2021.9 1936.8,2022.3 1938.0,2023.3 1939.3,2023.8 1940.6,2022.7 1941.9,2021.9 1943.1,2021.7 1944.4,2022.4 1945.7,2022.4 1947.0,2020.5 1948.2,2020.7 1949.5,2022.7 1950.8,2023.4 1952.1,2022.2 1953.3,2021.6 1954.6,2022.2 1955.9,2021.5 1957.2,2021.0 1958.4,2021.9" stroke="#c5423d" stroke-width="11.5"/>
<polyline points="300.8,2058.6 303.4,2058.4 305.9,2058.2 308.5,2057.9 311.0,2057.5 313.6,2057.1 316.1,2056.6 318.7,2056.0 321.2,2054.9 323.8,2052.9 326.3,2048.7 328.9,2041.4 331.4,2030.7 334.0,2019.2 336.5,2011.4 339.1,2011.1 341.6,2018.5 344.2,2029.5 346.7,2039.7 349.3,2046.4 351.8,2049.7 354.4,2050.7 356.9,2050.1 359.5,2047.7 362.0,2043.2 364.6,2036.5 367.1,2028.8 369.7,2022.4 372.2,2019.8 374.8,2022.0 377.3,2028.0 379.9,2035.2 382.4,2041.2 385.0,2044.6 387.5,2045.2 390.1,2043.0 392.6,2038.4 395.2,2032.0 397.7,2025.2 400.3,2019.5 402.8,2015.7 405.4,2012.7 407.9,2008.5 410.5,2000.9 413.0,1989.9 415.6,1977.6 418.1,1968.1 420.7,1964.9 423.2,1969.8 425.8,1981.6 428.3,1997.4 430.9,2013.5 433.4,2027.2 436.0,2037.1 438.5,2043.3 441.1,2046.2 443.6,2046.8 446.2,2046.1 448.7,2045.0 451.3,2044.6 453.8,2044.8 456.4,2045.2 458.9,2045.1 461.5,2044.3 464.0,2043.4 466.6,2043.4 469.1,2044.8 471.7,2047.3 474.2,2050.0 476.8,2052.1 479.3,2053.2 481.9,2053.9 484.4,2054.7 487.0,2055.7 489.5,2056.8 492.1,2057.7 494.6,2058.1 497.2,2057.9 499.7,2057.1 502.3,2055.9 504.8,2054.7 507.4,2054.2 509.9,2054.6 512.5,2055.5 515.0,2056.2 517.6,2055.6 520.1,2052.2 522.7,2045.3 525.2,2036.3 527.8,2029.7 530.3,2029.7 532.9,2036.6 535.4,2045.8 538.0,2053.0 540.5,2057.0 543.1,2058.6 545.6,2059.3 548.2,2059.5 550.7,2059.5 553.3,2059.4 555.8,2058.8 558.4,2057.4 560.9,2054.3 563.5,2048.8 566.0,2041.3 568.6,2034.5 571.1,2031.6 573.7,2034.3 576.2,2041.1 578.8,2048.3 581.3,2053.7 583.9,2056.5 586.4,2057.3 589.0,2056.6 591.5,2054.0 594.1,2048.9 596.6,2041.3 599.2,2033.0 601.7,2027.3 604.3,2027.3 606.8,2032.6 609.4,2040.6 611.9,2047.7 614.5,2051.8 617.0,2053.0 619.6,2052.2 622.1,2050.4 624.7,2048.5 627.2,2047.3 629.8,2047.1 632.3,2047.8 634.9,2048.7 637.4,2049.2 640.0,2048.6 642.5,2047.1 645.1,2045.2 647.6,2043.7 650.2,2042.9 652.7,2042.3 655.3,2041.3 657.8,2039.3 660.4,2036.5 662.9,2033.9 665.5,2032.4 668.0,2032.7 670.6,2035.1 673.1,2039.1 675.7,2043.9 678.2,2048.5 680.8,2052.4 683.3,2055.3 685.9,2057.2 688.4,2058.4 691.0,2059.0 693.5,2059.1 696.1,2058.9 698.6,2058.3 701.2,2057.3 703.7,2055.9 706.3,2054.4 708.8,2053.1 711.4,2052.3 713.9,2052.4 716.5,2053.2 719.0,2054.6 721.6,2056.2 724.1,2057.7 726.7,2058.8 729.2,2059.6 731.8,2060.0 734.3,2060.2 736.9,2060.2 739.4,2060.2 742.0,2060.0 744.5,2059.5 747.1,2058.7 749.6,2057.3 752.2,2055.2 754.7,2052.4 757.3,2049.2 759.8,2046.5 762.4,2044.8 764.9,2044.8 767.5,2046.5 770.0,2049.2 772.6,2052.4 775.1,2055.2 777.7,2057.0 780.2,2057.5" stroke="#7aa641" stroke-width="9.4"/>
<polyline points="780.2,2057.5 782.8,2057.1 785.3,2056.1 787.9,2055.1 790.4,2054.2 793.0,2053.5 795.5,2052.8 798.1,2052.2 800.6,2051.9 803.2,2051.6 805.7,2051.1 808.3,2051.0 810.8,2051.3 813.4,2051.3 815.9,2050.0 818.5,2048.2 821.0,2046.5 823.6,2045.2 826.1,2044.8 828.7,2044.9 831.2,2044.9 833.8,2044.0 836.3,2042.0 838.9,2039.7 841.4,2037.0 844.0,2034.6 846.5,2032.3 849.1,2030.5 851.6,2028.7 854.2,2025.5 856.7,2021.3 859.3,2017.2 861.8,2012.8 864.4,2004.0 866.9,1991.4 869.5,1978.0" stroke="#7aa641" stroke-width="9.9"/>
<polyline points="869.5,1978.0 870.8,1971.0 872.0,1965.0 873.3,1958.1 874.6,1950.2 875.9,1943.0 877.1,1935.8 878.4,1926.9 879.7,1916.6 881.0,1904.6 882.2,1894.5 883.5,1887.6 884.8,1877.1 886.1,1863.7 887.3,1854.2 888.6,1848.3 889.9,1844.5 891.2,1840.9 892.4,1836.8 893.7,1836.0 895.0,1836.7 896.3,1836.7 897.5,1839.8 898.8,1843.8 900.1,1846.8 901.4,1852.7 902.6,1860.8 903.9,1869.7 905.2,1878.7 906.5,1886.4 907.7,1892.5 909.0,1898.9 910.3,1905.9 911.6,1912.4 912.8,1915.2 914.1,1916.6 915.4,1919.1 916.7,1923.0 917.9,1926.5 919.2,1926.9 920.5,1928.5 921.8,1932.5 923.0,1933.5 924.3,1932.2 925.6,1930.5 926.9,1927.2 928.1,1919.0 929.4,1905.2 930.7,1892.8 932.0,1879.7 933.2,1862.6 934.5,1847.8 935.8,1838.2 937.1,1834.2 938.3,1831.6 939.6,1829.1 940.9,1831.2 942.2,1838.3 943.5,1845.3 944.7,1852.5 946.0,1864.8 947.3,1880.5 948.6,1896.0 949.8,1910.5 951.1,1923.1 952.4,1935.3 953.7,1946.8 954.9,1955.3 956.2,1961.5 957.5,1966.1 958.8,1967.0 960.0,1966.0 961.3,1967.2 962.6,1969.9 963.9,1972.8 965.1,1974.2 966.4,1975.4 967.7,1978.9 969.0,1982.1 970.2,1984.4 971.5,1988.6 972.8,1992.1 974.1,1995.2 975.3,1998.9 976.6,2001.1 977.9,2003.4 979.2,2005.9 980.4,2007.2 981.7,2008.3 983.0,2009.7 984.3,2011.3 985.5,2012.4 986.8,2012.6 988.1,2013.4 989.4,2015.3 990.6,2017.0 991.9,2019.0 993.2,2019.6 994.5,2018.5 995.7,2017.7 997.0,2018.3 998.3,2018.1 999.6,2016.6 1000.8,2017.3 1002.1,2017.1 1003.4,2015.9 1004.7,2016.1 1005.9,2015.5 1007.2,2014.3 1008.5,2012.7 1009.8,2009.8 1011.0,2005.9 1012.3,2003.2 1013.6,2001.3 1014.9,1998.1 1016.1,1996.0 1017.4,1995.7 1018.7,1995.1 1020.0,1994.0 1021.2,1992.4 1022.5,1990.7 1023.8,1991.5 1025.1,1993.8 1026.3,1995.3 1027.6,1996.9 1028.9,1999.1 1030.2,2000.8 1031.4,2001.3 1032.7,2000.5 1034.0,2001.0 1035.3,2002.7 1036.5,2001.6 1037.8,1999.9 1039.1,1998.4 1040.4,1994.8 1041.6,1990.4 1042.9,1985.9 1044.2,1981.2 1045.5,1976.0 1046.7,1972.2 1048.0,1970.4 1049.3,1967.8 1050.6,1962.7 1051.8,1957.2 1053.1,1954.1 1054.4,1952.3 1055.7,1950.8 1056.9,1950.4 1058.2,1949.6 1059.5,1949.0 1060.8,1949.9 1062.0,1951.4 1063.3,1954.7 1064.6,1958.9 1065.9,1962.2 1067.1,1965.0 1068.4,1966.2 1069.7,1966.0 1071.0,1968.5 1072.2,1973.5 1073.5,1975.8 1074.8,1977.5 1076.1,1980.6 1077.3,1982.5 1078.6,1984.1 1079.9,1984.8 1081.2,1982.6 1082.4,1980.9 1083.7,1980.0 1085.0,1978.2 1086.3,1974.9 1087.5,1971.7 1088.8,1970.5 1090.1,1969.0 1091.4,1965.8 1092.6,1961.3 1093.9,1956.4 1095.2,1951.7 1096.5,1947.4 1097.7,1942.4 1099.0,1936.7 1100.3,1932.3 1101.6,1929.5 1102.8,1927.1 1104.1,1925.5 1105.4,1924.2 1106.7,1921.4 1107.9,1920.3 1109.2,1920.3 1110.5,1920.4 1111.8,1921.3 1113.0,1921.5 1114.3,1921.1 1115.6,1919.4 1116.9,1916.8 1118.1,1912.2 1119.4,1907.6 1120.7,1905.3 1122.0,1902.1 1123.2,1897.2 1124.5,1890.6 1125.8,1885.4 1127.1,1885.5 1128.3,1884.9 1129.6,1880.5 1130.9,1875.9 1132.2,1870.5 1133.4,1865.6 1134.7,1862.7 1136.0,1860.4 1137.3,1857.3 1138.5,1853.2 1139.8,1849.2 1141.1,1844.6 1142.4,1842.3 1143.6,1842.6 1144.9,1841.0 1146.2,1837.7 1147.5,1836.8 1148.7,1838.0 1150.0,1835.7 1151.3,1833.5 1152.6,1835.9 1153.8,1838.7 1155.1,1841.2 1156.4,1843.0 1157.7,1842.5 1158.9,1843.8 1160.2,1846.0 1161.5,1846.7 1162.8,1849.2 1164.0,1851.5 1165.3,1849.3 1166.6,1845.3 1167.9,1841.1 1169.1,1836.5 1170.4,1829.8 1171.7,1821.4 1173.0,1813.8 1174.2,1805.0 1175.5,1793.6 1176.8,1781.4 1178.1,1770.4 1179.3,1759.1 1180.6,1744.0 1181.9,1729.0 1183.2,1716.2 1184.4,1708.5 1185.7,1706.0 1187.0,1702.9 1188.3,1704.5 1189.5,1709.8 1190.8,1718.8 1192.1,1727.2 1193.4,1735.8 1194.6,1750.0 1195.9,1764.1 1197.2,1774.9 1198.5,1788.8 1199.7,1805.9 1201.0,1819.2 1202.3,1828.6 1203.6,1836.9 1204.8,1848.0 1206.1,1861.6 1207.4,1871.8 1208.7,1878.8 1209.9,1886.7 1211.2,1894.7 1212.5,1901.5 1213.8,1909.6 1215.0,1917.4 1216.3,1920.9 1217.6,1922.4 1218.9,1927.0 1220.1,1934.2 1221.4,1937.8 1222.7,1940.0 1224.0,1942.4 1225.2,1940.6 1226.5,1941.2 1227.8,1944.4 1229.1,1943.1 1230.3,1939.9 1231.6,1936.3 1232.9,1933.0 1234.2,1929.7 1235.4,1924.8 1236.7,1920.7 1238.0,1918.6 1239.3,1917.5 1240.5,1915.5 1241.8,1911.8 1243.1,1908.0 1244.4,1905.7 1245.6,1906.5 1246.9,1908.4 1248.2,1909.1 1249.5,1909.4 1250.7,1911.5 1252.0,1912.6 1253.3,1911.0 1254.6,1911.6 1255.8,1915.4 1257.1,1916.9 1258.4,1916.4 1259.7,1915.8 1261.0,1914.8 1262.2,1916.1 1263.5,1918.4 1264.8,1919.9 1266.1,1919.0 1267.3,1916.8 1268.6,1917.0 1269.9,1915.8 1271.2,1912.5 1272.4,1912.2 1273.7,1913.4 1275.0,1913.0 1276.3,1910.3 1277.5,1908.1 1278.8,1907.9 1280.1,1907.2 1281.4,1904.6 1282.6,1901.6 1283.9,1899.6 1285.2,1897.8 1286.5,1897.0 1287.7,1896.9 1289.0,1895.3 1290.3,1895.6 1291.6,1897.4 1292.8,1895.0 1294.1,1893.4 1295.4,1897.3 1296.7,1901.3 1297.9,1903.5 1299.2,1904.6 1300.5,1905.7 1301.8,1907.6 1303.0,1911.5 1304.3,1915.2 1305.6,1917.2 1306.9,1921.2 1308.1,1925.5 1309.4,1927.9 1310.7,1929.8 1312.0,1930.8 1313.2,1932.5 1314.5,1934.2 1315.8,1935.9 1317.1,1937.8 1318.3,1939.4 1319.6,1940.6 1320.9,1939.8 1322.2,1940.3 1323.4,1942.4 1324.7,1942.7 1326.0,1942.0 1327.3,1942.3 1328.5,1942.1 1329.8,1941.5 1331.1,1942.4 1332.4,1942.5 1333.6,1940.6 1334.9,1939.4 1336.2,1939.3 1337.5,1938.7 1338.7,1937.2 1340.0,1934.8 1341.3,1934.0 1342.6,1935.1 1343.8,1934.5 1345.1,1932.3 1346.4,1929.7 1347.7,1928.0 1348.9,1928.1 1350.2,1927.1 1351.5,1926.3 1352.8,1927.6 1354.0,1927.6 1355.3,1926.0 1356.6,1924.4 1357.9,1923.7 1359.1,1922.5 1360.4,1921.1 1361.7,1922.1 1363.0,1921.9 1364.2,1919.9 1365.5,1920.0 1366.8,1921.0 1368.1,1920.9 1369.3,1920.7 1370.6,1921.2 1371.9,1921.8 1373.2,1922.2 1374.4,1921.8 1375.7,1921.2 1377.0,1919.4 1378.3,1915.2 1379.5,1910.8 1380.8,1908.5 1382.1,1907.1 1383.4,1905.6 1384.6,1903.5 1385.9,1901.2 1387.2,1898.5 1388.5,1895.8 1389.7,1894.2 1391.0,1889.1 1392.3,1885.0 1393.6,1886.1 1394.8,1887.2 1396.1,1886.9 1397.4,1886.8 1398.7,1887.1 1399.9,1887.2 1401.2,1889.9 1402.5,1894.3 1403.8,1896.6 1405.0,1898.0 1406.3,1898.6 1407.6,1900.1 1408.9,1904.5 1410.1,1908.2 1411.4,1908.4 1412.7,1908.5 1414.0,1908.9 1415.2,1906.2 1416.5,1905.8 1417.8,1906.8 1419.1,1905.2 1420.3,1905.0 1421.6,1903.4 1422.9,1901.9 1424.2,1904.3 1425.4,1905.4 1426.7,1904.5 1428.0,1903.9 1429.3,1903.9 1430.5,1904.9 1431.8,1905.9 1433.1,1905.8 1434.4,1905.6 1435.6,1905.3 1436.9,1903.7 1438.2,1902.7 1439.5,1900.0 1440.7,1895.1 1442.0,1890.3 1443.3,1883.6 1444.6,1875.5 1445.8,1865.8 1447.1,1853.8 1448.4,1840.4 1449.7,1826.8 1450.9,1810.3 1452.2,1788.4 1453.5,1767.7 1454.8,1746.3 1456.0,1714.3 1457.3,1672.7 1458.6,1632.0 1459.9,1592.3 1461.1,1546.7 1462.4,1502.3 1463.7,1468.6 1465.0,1446.2 1466.2,1435.7 1467.5,1442.6 1468.8,1470.1 1470.1,1508.0 1471.3,1550.1 1472.6,1596.5 1473.9,1637.2 1475.2,1671.9 1476.4,1706.9 1477.7,1738.6 1479.0,1764.5 1480.3,1786.8 1481.5,1809.3 1482.8,1828.5 1484.1,1843.9 1485.4,1859.3 1486.6,1868.8 1487.9,1873.0 1489.2,1881.2 1490.5,1891.5 1491.7,1899.0 1493.0,1904.4 1494.3,1910.2 1495.6,1917.4 1496.8,1923.5 1498.1,1927.3 1499.4,1930.2 1500.7,1933.8 1501.9,1937.3 1503.2,1940.8 1504.5,1944.8 1505.8,1948.0 1507.0,1951.1 1508.3,1953.0 1509.6,1953.7 1510.9,1956.8 1512.1,1959.8 1513.4,1961.4 1514.7,1962.7 1516.0,1962.8 1517.2,1962.8 1518.5,1965.0 1519.8,1968.1 1521.1,1968.3 1522.3,1967.8 1523.6,1969.2 1524.9,1969.6 1526.2,1971.2 1527.4,1973.9 1528.7,1973.8 1530.0,1973.7 1531.3,1974.3 1532.5,1974.9 1533.8,1976.9 1535.1,1978.6 1536.4,1979.5 1537.6,1980.6 1538.9,1982.4 1540.2,1983.3 1541.5,1982.5 1542.7,1983.0 1544.0,1983.8 1545.3,1984.2 1546.6,1985.1 1547.8,1985.8 1549.1,1987.2 1550.4,1989.0 1551.7,1988.2 1552.9,1987.3 1554.2,1989.2 1555.5,1989.0 1556.8,1986.4 1558.0,1985.8 1559.3,1987.1 1560.6,1988.8 1561.9,1989.4 1563.1,1989.0 1564.4,1989.6 1565.7,1991.4 1567.0,1993.1 1568.2,1993.8 1569.5,1992.8 1570.8,1991.2 1572.1,1991.8 1573.3,1992.6 1574.6,1992.3 1575.9,1992.3 1577.2,1992.8 1578.5,1994.5 1579.7,1994.5 1581.0,1993.1 1582.3,1994.0 1583.6,1995.5 1584.8,1995.8 1586.1,1995.6 1587.4,1994.7 1588.7,1994.8 1589.9,1995.9 1591.2,1996.1 1592.5,1995.6 1593.8,1995.7 1595.0,1996.7 1596.3,1996.5 1597.6,1996.4 1598.9,1997.7 1600.1,1997.4 1601.4,1997.3 1602.7,1998.2 1604.0,1997.6 1605.2,1996.6 1606.5,1997.2 1607.8,1998.4 1609.1,1998.3 1610.3,1997.3 1611.6,1996.5 1612.9,1996.7 1614.2,1996.7 1615.4,1997.7 1616.7,2000.6 1618.0,2002.7 1619.3,2002.0 1620.5,2001.0 1621.8,2001.6 1623.1,2000.6 1624.4,1999.9 1625.6,2001.5 1626.9,2001.8 1628.2,2000.6 1629.5,2000.7 1630.7,2001.7 1632.0,2000.9 1633.3,2000.0 1634.6,2000.5 1635.8,2000.3 1637.1,1999.8 1638.4,2000.6 1639.7,2001.6 1640.9,2001.6 1642.2,2001.4 1643.5,2001.4 1644.8,2001.3 1646.0,2000.9 1647.3,2001.2 1648.6,2002.3 1649.9,2002.2 1651.1,2001.5 1652.4,2001.0 1653.7,2000.6 1655.0,2000.7 1656.2,2000.0 1657.5,1999.1 1658.8,2000.7 1660.1,2003.3 1661.3,2003.5 1662.6,2002.0 1663.9,2001.5 1665.2,2001.5 1666.4,2000.8 1667.7,1999.4 1669.0,1999.8 1670.3,2001.4 1671.5,2001.3 1672.8,2001.5 1674.1,2001.5 1675.4,2000.1 1676.6,1999.1 1677.9,1997.3 1679.2,1995.0 1680.5,1994.6 1681.7,1995.6 1683.0,1997.1 1684.3,1996.9 1685.6,1995.0 1686.8,1994.7 1688.1,1994.9 1689.4,1994.5 1690.7,1992.7 1691.9,1991.2 1693.2,1992.6 1694.5,1993.5 1695.8,1992.7 1697.0,1992.9 1698.3,1994.5 1699.6,1995.1 1700.9,1993.8 1702.1,1992.9 1703.4,1993.3 1704.7,1993.7 1706.0,1993.3 1707.2,1992.5 1708.5,1992.7 1709.8,1993.6 1711.1,1992.8 1712.3,1991.6 1713.6,1992.4 1714.9,1993.6 1716.2,1993.2 1717.4,1992.1 1718.7,1992.5 1720.0,1993.7 1721.3,1993.3 1722.5,1993.2 1723.8,1993.2 1725.1,1993.4 1726.4,1995.0 1727.6,1995.7 1728.9,1994.8 1730.2,1994.6 1731.5,1996.3 1732.7,1997.9 1734.0,1997.6 1735.3,1996.2 1736.6,1996.3 1737.8,1998.1 1739.1,1999.4 1740.4,1999.8 1741.7,2000.7 1742.9,2001.9 1744.2,2002.2 1745.5,2002.0 1746.8,2002.4 1748.0,2003.7 1749.3,2005.2 1750.6,2005.9 1751.9,2005.5 1753.1,2004.1 1754.4,2003.8 1755.7,2004.5 1757.0,2005.2 1758.2,2006.8 1759.5,2008.7 1760.8,2009.3 1762.1,2009.0 1763.3,2009.0 1764.6,2009.0 1765.9,2009.0 1767.2,2010.4 1768.4,2011.4 1769.7,2011.1 1771.0,2010.9 1772.3,2010.9 1773.5,2010.9 1774.8,2011.8 1776.1,2011.6 1777.4,2010.3 1778.6,2010.9 1779.9,2013.0 1781.2,2014.5 1782.5,2014.3 1783.7,2013.3 1785.0,2011.9 1786.3,2011.7 1787.6,2013.6 1788.8,2015.0 1790.1,2015.3 1791.4,2015.6 1792.7,2016.4 1793.9,2016.5 1795.2,2015.4 1796.5,2014.9 1797.8,2015.3 1799.0,2016.3 1800.3,2016.4 1801.6,2017.0 1802.9,2019.2 1804.1,2019.1 1805.4,2017.3 1806.7,2018.0 1808.0,2019.8 1809.2,2020.0 1810.5,2019.6 1811.8,2018.4 1813.1,2017.4 1814.3,2017.3 1815.6,2017.1 1816.9,2018.4 1818.2,2019.0 1819.4,2017.5 1820.7,2016.9 1822.0,2016.6 1823.3,2016.4 1824.5,2017.1 1825.8,2018.9 1827.1,2021.3 1828.4,2021.4 1829.6,2020.0 1830.9,2019.5 1832.2,2019.8 1833.5,2020.0 1834.7,2018.8 1836.0,2018.0 1837.3,2018.9 1838.6,2019.6 1839.8,2019.7 1841.1,2019.9 1842.4,2020.9 1843.7,2021.7 1844.9,2021.5 1846.2,2022.1 1847.5,2023.0 1848.8,2022.3 1850.0,2021.7 1851.3,2022.1 1852.6,2022.4 1853.9,2021.8 1855.1,2021.9 1856.4,2022.7 1857.7,2022.2 1859.0,2021.4 1860.2,2022.1 1861.5,2023.9 1862.8,2024.4 1864.1,2024.0 1865.3,2023.0 1866.6,2021.8 1867.9,2023.3 1869.2,2024.3 1870.4,2023.6 1871.7,2024.9 1873.0,2026.3 1874.3,2025.6 1875.5,2025.2 1876.8,2025.8 1878.1,2026.3 1879.4,2025.9 1880.6,2024.9 1881.9,2025.1 1883.2,2025.9 1884.5,2026.2 1885.7,2025.7 1887.0,2025.1 1888.3,2025.5 1889.6,2025.8 1890.8,2025.3 1892.1,2025.2 1893.4,2025.5 1894.7,2025.7 1896.0,2025.5 1897.2,2025.3 1898.5,2025.2 1899.8,2024.8 1901.1,2024.8 1902.3,2025.2 1903.6,2026.0 1904.9,2026.9 1906.2,2027.5 1907.4,2029.0 1908.7,2029.2 1910.0,2027.4 1911.3,2025.7 1912.5,2024.5 1913.8,2024.3 1915.1,2025.0 1916.4,2025.8 1917.6,2025.5 1918.9,2024.8 1920.2,2025.2 1921.5,2025.8 1922.7,2026.6 1924.0,2027.7 1925.3,2028.5 1926.6,2028.2 1927.8,2027.0 1929.1,2027.1 1930.4,2027.3 1931.7,2027.0 1932.9,2026.7 1934.2,2025.2 1935.5,2024.4 1936.8,2025.9 1938.0,2028.1 1939.3,2027.8 1940.6,2025.6 1941.9,2026.3 1943.1,2027.5 1944.4,2027.5 1945.7,2028.4 1947.0,2028.5 1948.2,2027.8 1949.5,2028.2 1950.8,2027.4 1952.1,2025.8 1953.3,2026.4 1954.6,2027.2 1955.9,2027.9 1957.2,2029.2 1958.4,2028.7" stroke="#7aa641" stroke-width="13"/>
<polyline points="300.8,2059.0 303.4,2058.8 305.9,2058.7 308.5,2058.4 311.0,2058.1 313.6,2057.8 316.1,2057.4 318.7,2056.8 321.2,2056.0 323.8,2054.2 326.3,2050.8 328.9,2044.7 331.4,2035.8 334.0,2026.3 336.5,2019.8 339.1,2019.6 341.6,2025.7 344.2,2034.9 346.7,2043.3 349.3,2048.9 351.8,2051.6 354.4,2052.5 356.9,2051.9 359.5,2049.9 362.0,2046.1 364.6,2040.4 367.1,2033.9 369.7,2028.5 372.2,2026.3 374.8,2028.1 377.3,2033.1 379.9,2039.1 382.4,2044.2 385.0,2047.1 387.5,2047.5 390.1,2045.6 392.6,2041.6 395.2,2036.1 397.7,2030.3 400.3,2025.3 402.8,2022.0 405.4,2019.3 407.9,2015.6 410.5,2009.0 413.0,1999.4 415.6,1988.7 418.1,1980.4 420.7,1977.6 423.2,1981.8 425.8,1992.0 428.3,2005.7 430.9,2019.7 433.4,2031.6 436.0,2040.2 438.5,2045.6 441.1,2048.1 443.6,2048.7 446.2,2048.0 448.7,2047.1 451.3,2046.7 453.8,2046.9 456.4,2047.3 458.9,2047.2 461.5,2046.5 464.0,2045.7 466.6,2045.7 469.1,2046.9 471.7,2049.1 474.2,2051.5 476.8,2053.2 479.3,2054.3 481.9,2054.9 484.4,2055.5 487.0,2056.4 489.5,2057.4 492.1,2058.2 494.6,2058.5 497.2,2058.4 499.7,2057.7 502.3,2056.6 504.8,2055.6 507.4,2055.1 509.9,2055.5 512.5,2056.3 515.0,2056.9 517.6,2056.3 520.1,2053.4 522.7,2047.5 525.2,2039.7 527.8,2034.0 530.3,2034.0 532.9,2039.9 535.4,2047.9 538.0,2054.1 540.5,2057.5 543.1,2059.0 545.6,2059.5 548.2,2059.7 550.7,2059.7 553.3,2059.6 555.8,2059.1 558.4,2057.9 560.9,2055.3 563.5,2050.5 566.0,2044.1 568.6,2038.1 571.1,2035.6 573.7,2038.0 576.2,2043.8 578.8,2050.1 581.3,2054.7 583.9,2057.1 586.4,2057.8 589.0,2057.2 591.5,2055.0 594.1,2050.6 596.6,2044.0 599.2,2036.8 601.7,2032.0 604.3,2031.9 606.8,2036.5 609.4,2043.4 611.9,2049.5 614.5,2053.1 617.0,2054.1 619.6,2053.4 622.1,2051.9 624.7,2050.3 627.2,2049.2 629.8,2049.0 632.3,2049.6 634.9,2050.4 637.4,2050.8 640.0,2050.3 642.5,2049.0 645.1,2047.4 647.6,2046.1 650.2,2045.4 652.7,2044.9 655.3,2044.0 657.8,2042.3 660.4,2039.9 662.9,2037.6 665.5,2036.3 668.0,2036.6 670.6,2038.7 673.1,2042.1 675.7,2046.2 678.2,2050.2 680.8,2053.6 683.3,2056.1 685.9,2057.8 688.4,2058.8 691.0,2059.3 693.5,2059.4 696.1,2059.2 698.6,2058.7 701.2,2057.8 703.7,2056.6 706.3,2055.3 708.8,2054.2 711.4,2053.5 713.9,2053.6 716.5,2054.3 719.0,2055.5 721.6,2056.9 724.1,2058.2 726.7,2059.1 729.2,2059.8 731.8,2060.1 734.3,2060.3 736.9,2060.3 739.4,2060.3 742.0,2060.1 744.5,2059.7 747.1,2059.0 749.6,2057.8 752.2,2056.0 754.7,2053.5 757.3,2050.8 759.8,2048.4 762.4,2047.0 764.9,2047.0 767.5,2048.4 770.0,2050.8 772.6,2053.6 775.1,2056.0 777.7,2057.6 780.2,2058.0" stroke="#7b5797" stroke-width="9.4"/>
<polyline points="780.2,2058.0 782.8,2057.6 785.3,2056.8 787.9,2055.8 790.4,2055.0 793.0,2054.5 795.5,2054.2 798.1,2053.8 800.6,2053.3 803.2,2052.8 805.7,2052.6 808.3,2052.7 810.8,2052.5 813.4,2051.5 815.9,2050.8 818.5,2049.9 821.0,2048.8 823.6,2048.1 826.1,2047.2 828.7,2046.6 831.2,2046.3 833.8,2045.2 836.3,2043.7 838.9,2042.1 841.4,2040.4 844.0,2039.1 846.5,2037.4 849.1,2035.0 851.6,2032.5 854.2,2030.4 856.7,2028.2 859.3,2025.1 861.8,2020.0 864.4,2010.7 866.9,1999.5 869.5,1988.8" stroke="#7b5797" stroke-width="9.9"/>
<polyline points="869.5,1988.8 870.8,1981.6 872.0,1974.4 873.3,1968.2 874.6,1961.6 875.9,1955.3 877.1,1949.4 878.4,1942.7 879.7,1935.1 881.0,1927.1 882.2,1918.1 883.5,1910.4 884.8,1903.9 886.1,1893.4 887.3,1881.3 888.6,1872.8 889.9,1868.3 891.2,1868.7 892.4,1869.5 893.7,1866.5 895.0,1865.3 896.3,1866.9 897.5,1869.0 898.8,1872.0 900.1,1874.6 901.4,1877.7 902.6,1884.8 903.9,1893.9 905.2,1900.4 906.5,1904.8 907.7,1910.4 909.0,1917.5 910.3,1924.4 911.6,1929.7 912.8,1934.8 914.1,1937.8 915.4,1938.4 916.7,1941.0 917.9,1944.6 919.2,1946.3 920.5,1945.2 921.8,1944.0 923.0,1944.7 924.3,1946.2 925.6,1947.1 926.9,1942.9 928.1,1932.7 929.4,1921.4 930.7,1912.6 932.0,1902.5 933.2,1888.5 934.5,1874.7 935.8,1865.1 937.1,1861.2 938.3,1859.5 939.6,1858.6 940.9,1860.2 942.2,1865.5 943.5,1872.4 944.7,1879.7 946.0,1889.2 947.3,1902.8 948.6,1918.1 949.8,1929.9 951.1,1940.3 952.4,1951.5 953.7,1961.0 954.9,1969.3 956.2,1975.0 957.5,1977.3 958.8,1978.4 960.0,1979.3 961.3,1980.8 962.6,1983.5 963.9,1985.7 965.1,1986.0 966.4,1987.1 967.7,1990.5 969.0,1994.4 970.2,1998.4 971.5,2002.5 972.8,2004.3 974.1,2005.0 975.3,2008.0 976.6,2010.8 977.9,2012.0 979.2,2013.5 980.4,2015.9 981.7,2018.8 983.0,2020.2 984.3,2020.5 985.5,2021.4 986.8,2022.7 988.1,2024.2 989.4,2025.2 990.6,2025.1 991.9,2026.0 993.2,2027.6 994.5,2027.5 995.7,2026.6 997.0,2025.6 998.3,2025.6 999.6,2026.2 1000.8,2026.4 1002.1,2026.8 1003.4,2026.3 1004.7,2024.4 1005.9,2022.8 1007.2,2021.4 1008.5,2019.6 1009.8,2017.6 1011.0,2016.5 1012.3,2016.4 1013.6,2014.9 1014.9,2011.7 1016.1,2008.5 1017.4,2005.1 1018.7,2003.0 1020.0,2004.1 1021.2,2005.1 1022.5,2003.9 1023.8,2003.4 1025.1,2005.1 1026.3,2007.5 1027.6,2008.7 1028.9,2010.5 1030.2,2013.1 1031.4,2013.3 1032.7,2012.8 1034.0,2013.5 1035.3,2012.6 1036.5,2010.4 1037.8,2008.7 1039.1,2008.0 1040.4,2006.2 1041.6,2002.2 1042.9,1997.6 1044.2,1991.7 1045.5,1987.3 1046.7,1985.0 1048.0,1982.2 1049.3,1980.2 1050.6,1977.8 1051.8,1973.7 1053.1,1970.5 1054.4,1967.9 1055.7,1965.3 1056.9,1963.7 1058.2,1964.0 1059.5,1965.8 1060.8,1967.3 1062.0,1969.0 1063.3,1971.8 1064.6,1973.5 1065.9,1974.6 1067.1,1976.5 1068.4,1979.1 1069.7,1982.5 1071.0,1985.2 1072.2,1987.1 1073.5,1989.1 1074.8,1990.6 1076.1,1992.0 1077.3,1992.2 1078.6,1991.3 1079.9,1992.3 1081.2,1994.0 1082.4,1993.1 1083.7,1990.6 1085.0,1989.4 1086.3,1988.3 1087.5,1986.8 1088.8,1986.2 1090.1,1982.8 1091.4,1978.9 1092.6,1977.1 1093.9,1971.7 1095.2,1965.0 1096.5,1961.5 1097.7,1958.9 1099.0,1956.8 1100.3,1954.8 1101.6,1950.6 1102.8,1945.8 1104.1,1942.8 1105.4,1940.8 1106.7,1939.6 1107.9,1940.4 1109.2,1941.9 1110.5,1941.7 1111.8,1941.2 1113.0,1941.5 1114.3,1942.3 1115.6,1940.8 1116.9,1935.6 1118.1,1929.5 1119.4,1924.9 1120.7,1921.6 1122.0,1918.3 1123.2,1915.9 1124.5,1914.0 1125.8,1911.3 1127.1,1908.5 1128.3,1904.4 1129.6,1900.8 1130.9,1897.1 1132.2,1891.0 1133.4,1886.4 1134.7,1883.8 1136.0,1880.0 1137.3,1877.0 1138.5,1877.4 1139.8,1877.9 1141.1,1874.8 1142.4,1870.3 1143.6,1869.0 1144.9,1867.9 1146.2,1864.3 1147.5,1861.7 1148.7,1860.0 1150.0,1860.6 1151.3,1863.3 1152.6,1865.2 1153.8,1867.4 1155.1,1869.0 1156.4,1868.9 1157.7,1867.9 1158.9,1869.3 1160.2,1872.3 1161.5,1873.5 1162.8,1874.3 1164.0,1874.2 1165.3,1872.1 1166.6,1869.2 1167.9,1864.9 1169.1,1861.6 1170.4,1857.0 1171.7,1850.9 1173.0,1845.9 1174.2,1837.6 1175.5,1825.7 1176.8,1814.5 1178.1,1804.8 1179.3,1794.7 1180.6,1781.3 1181.9,1767.4 1183.2,1758.6 1184.4,1753.4 1185.7,1749.5 1187.0,1746.5 1188.3,1747.9 1189.5,1751.3 1190.8,1757.1 1192.1,1765.1 1193.4,1773.7 1194.6,1786.4 1195.9,1801.9 1197.2,1813.8 1198.5,1823.3 1199.7,1835.4 1201.0,1849.3 1202.3,1859.7 1203.6,1867.9 1204.8,1878.5 1206.1,1890.0 1207.4,1898.1 1208.7,1904.5 1209.9,1911.4 1211.2,1916.4 1212.5,1920.8 1213.8,1928.1 1215.0,1934.2 1216.3,1935.5 1217.6,1937.2 1218.9,1941.2 1220.1,1946.8 1221.4,1951.3 1222.7,1952.2 1224.0,1952.9 1225.2,1954.7 1226.5,1956.7 1227.8,1958.2 1229.1,1957.5 1230.3,1955.2 1231.6,1953.5 1232.9,1952.0 1234.2,1948.7 1235.4,1944.0 1236.7,1940.6 1238.0,1938.0 1239.3,1934.7 1240.5,1932.7 1241.8,1931.5 1243.1,1930.1 1244.4,1928.6 1245.6,1927.5 1246.9,1927.8 1248.2,1929.9 1249.5,1931.4 1250.7,1931.1 1252.0,1932.5 1253.3,1935.1 1254.6,1935.8 1255.8,1937.6 1257.1,1939.6 1258.4,1938.1 1259.7,1937.3 1261.0,1939.2 1262.2,1939.7 1263.5,1939.2 1264.8,1940.9 1266.1,1941.7 1267.3,1940.1 1268.6,1938.1 1269.9,1937.5 1271.2,1937.9 1272.4,1937.1 1273.7,1935.7 1275.0,1935.3 1276.3,1935.2 1277.5,1933.7 1278.8,1931.1 1280.1,1928.0 1281.4,1924.7 1282.6,1925.0 1283.9,1926.3 1285.2,1924.8 1286.5,1922.9 1287.7,1921.9 1289.0,1921.6 1290.3,1922.1 1291.6,1922.7 1292.8,1921.8 1294.1,1921.8 1295.4,1925.2 1296.7,1927.2 1297.9,1926.7 1299.2,1926.8 1300.5,1928.3 1301.8,1930.9 1303.0,1934.8 1304.3,1937.9 1305.6,1939.7 1306.9,1941.3 1308.1,1942.7 1309.4,1946.5 1310.7,1950.8 1312.0,1952.0 1313.2,1954.5 1314.5,1956.9 1315.8,1956.4 1317.1,1957.0 1318.3,1959.1 1319.6,1961.1 1320.9,1961.6 1322.2,1961.8 1323.4,1962.3 1324.7,1961.5 1326.0,1960.8 1327.3,1960.8 1328.5,1960.7 1329.8,1961.6 1331.1,1962.9 1332.4,1962.6 1333.6,1960.2 1334.9,1958.4 1336.2,1958.4 1337.5,1958.4 1338.7,1958.2 1340.0,1958.7 1341.3,1957.8 1342.6,1955.6 1343.8,1954.1 1345.1,1953.2 1346.4,1952.9 1347.7,1952.6 1348.9,1951.0 1350.2,1950.0 1351.5,1950.8 1352.8,1950.1 1354.0,1947.0 1355.3,1944.2 1356.6,1943.0 1357.9,1942.0 1359.1,1942.4 1360.4,1944.0 1361.7,1945.0 1363.0,1944.4 1364.2,1942.3 1365.5,1941.5 1366.8,1942.0 1368.1,1942.2 1369.3,1942.6 1370.6,1942.9 1371.9,1942.3 1373.2,1941.8 1374.4,1942.7 1375.7,1942.0 1377.0,1938.2 1378.3,1934.6 1379.5,1933.0 1380.8,1931.2 1382.1,1928.5 1383.4,1928.1 1384.6,1928.6 1385.9,1927.4 1387.2,1924.9 1388.5,1921.1 1389.7,1917.5 1391.0,1913.3 1392.3,1910.4 1393.6,1910.9 1394.8,1910.8 1396.1,1911.7 1397.4,1913.5 1398.7,1912.9 1399.9,1912.0 1401.2,1912.9 1402.5,1915.8 1403.8,1917.5 1405.0,1917.8 1406.3,1920.5 1407.6,1924.7 1408.9,1927.2 1410.1,1927.6 1411.4,1926.2 1412.7,1926.4 1414.0,1927.6 1415.2,1926.5 1416.5,1925.8 1417.8,1925.3 1419.1,1925.1 1420.3,1925.6 1421.6,1925.4 1422.9,1925.9 1424.2,1925.9 1425.4,1923.8 1426.7,1920.7 1428.0,1920.3 1429.3,1922.6 1430.5,1925.2 1431.8,1926.1 1433.1,1924.5 1434.4,1923.8 1435.6,1925.3 1436.9,1926.7 1438.2,1926.4 1439.5,1923.3 1440.7,1919.4 1442.0,1915.6 1443.3,1908.2 1444.6,1898.7 1445.8,1889.8 1447.1,1880.4 1448.4,1870.5 1449.7,1857.9 1450.9,1841.9 1452.2,1825.0 1453.5,1806.3 1454.8,1785.1 1456.0,1757.5 1457.3,1723.1 1458.6,1688.8 1459.9,1651.1 1461.1,1609.7 1462.4,1573.7 1463.7,1543.2 1465.0,1518.8 1466.2,1508.1 1467.5,1514.2 1468.8,1534.9 1470.1,1567.5 1471.3,1607.3 1472.6,1647.8 1473.9,1687.2 1475.2,1722.8 1476.4,1752.7 1477.7,1778.0 1479.0,1800.5 1480.3,1823.0 1481.5,1842.7 1482.8,1857.6 1484.1,1869.8 1485.4,1881.7 1486.6,1894.3 1487.9,1903.9 1489.2,1910.5 1490.5,1916.5 1491.7,1923.5 1493.0,1931.3 1494.3,1936.3 1495.6,1937.9 1496.8,1939.4 1498.1,1943.7 1499.4,1949.0 1500.7,1953.2 1501.9,1957.6 1503.2,1960.4 1504.5,1960.7 1505.8,1962.9 1507.0,1966.7 1508.3,1968.7 1509.6,1969.6 1510.9,1971.8 1512.1,1974.2 1513.4,1975.6 1514.7,1977.2 1516.0,1979.3 1517.2,1980.2 1518.5,1980.5 1519.8,1982.6 1521.1,1983.5 1522.3,1982.0 1523.6,1982.4 1524.9,1984.7 1526.2,1986.5 1527.4,1988.3 1528.7,1990.0 1530.0,1990.1 1531.3,1990.1 1532.5,1990.9 1533.8,1991.9 1535.1,1993.1 1536.4,1994.4 1537.6,1995.6 1538.9,1995.9 1540.2,1996.7 1541.5,1997.9 1542.7,1997.7 1544.0,1997.7 1545.3,1997.9 1546.6,1998.0 1547.8,1998.6 1549.1,1998.3 1550.4,1998.8 1551.7,1999.6 1552.9,2000.0 1554.2,2001.2 1555.5,2001.3 1556.8,2000.8 1558.0,2001.8 1559.3,2003.9 1560.6,2004.8 1561.9,2004.1 1563.1,2003.3 1564.4,2003.1 1565.7,2003.5 1567.0,2004.3 1568.2,2005.4 1569.5,2006.0 1570.8,2005.2 1572.1,2003.7 1573.3,2003.7 1574.6,2004.4 1575.9,2005.0 1577.2,2005.7 1578.5,2005.9 1579.7,2006.3 1581.0,2006.6 1582.3,2007.4 1583.6,2007.9 1584.8,2006.7 1586.1,2005.8 1587.4,2006.4 1588.7,2006.5 1589.9,2006.5 1591.2,2006.7 1592.5,2006.6 1593.8,2007.4 1595.0,2008.5 1596.3,2008.2 1597.6,2007.9 1598.9,2008.3 1600.1,2008.7 1601.4,2008.9 1602.7,2008.7 1604.0,2009.1 1605.2,2009.0 1606.5,2007.7 1607.8,2007.8 1609.1,2009.4 1610.3,2009.6 1611.6,2010.1 1612.9,2011.1 1614.2,2009.0 1615.4,2008.2 1616.7,2009.5 1618.0,2009.0 1619.3,2008.7 1620.5,2010.5 1621.8,2012.4 1623.1,2011.9 1624.4,2010.9 1625.6,2011.0 1626.9,2011.2 1628.2,2012.4 1629.5,2013.7 1630.7,2012.6 1632.0,2011.6 1633.3,2011.5 1634.6,2011.5 1635.8,2011.1 1637.1,2009.9 1638.4,2009.7 1639.7,2010.3 1640.9,2010.1 1642.2,2011.1 1643.5,2013.0 1644.8,2012.8 1646.0,2012.0 1647.3,2012.0 1648.6,2011.1 1649.9,2010.9 1651.1,2012.1 1652.4,2012.1 1653.7,2011.1 1655.0,2010.6 1656.2,2010.5 1657.5,2011.1 1658.8,2011.3 1660.1,2011.3 1661.3,2011.4 1662.6,2010.5 1663.9,2010.8 1665.2,2012.1 1666.4,2012.1 1667.7,2012.0 1669.0,2011.4 1670.3,2009.0 1671.5,2008.7 1672.8,2010.3 1674.1,2009.1 1675.4,2007.1 1676.6,2007.8 1677.9,2009.9 1679.2,2011.0 1680.5,2009.1 1681.7,2005.9 1683.0,2005.7 1684.3,2006.2 1685.6,2005.0 1686.8,2004.8 1688.1,2005.1 1689.4,2004.7 1690.7,2003.3 1691.9,2002.2 1693.2,2003.2 1694.5,2002.9 1695.8,2000.5 1697.0,2000.5 1698.3,2001.2 1699.6,1999.6 1700.9,2000.2 1702.1,2001.5 1703.4,2001.0 1704.7,2001.4 1706.0,2001.7 1707.2,2002.7 1708.5,2002.9 1709.8,2000.8 1711.1,2000.1 1712.3,2000.8 1713.6,2001.0 1714.9,2001.3 1716.2,2002.2 1717.4,2002.4 1718.7,2001.6 1720.0,2001.6 1721.3,2002.5 1722.5,2003.1 1723.8,2003.8 1725.1,2004.5 1726.4,2004.5 1727.6,2003.7 1728.9,2003.1 1730.2,2004.2 1731.5,2004.9 1732.7,2004.2 1734.0,2003.7 1735.3,2004.4 1736.6,2004.4 1737.8,2004.1 1739.1,2005.5 1740.4,2005.6 1741.7,2005.4 1742.9,2007.5 1744.2,2008.3 1745.5,2009.3 1746.8,2011.5 1748.0,2011.5 1749.3,2011.4 1750.6,2012.8 1751.9,2012.6 1753.1,2011.9 1754.4,2012.6 1755.7,2013.5 1757.0,2014.5 1758.2,2015.2 1759.5,2015.4 1760.8,2015.0 1762.1,2014.5 1763.3,2014.0 1764.6,2013.4 1765.9,2014.3 1767.2,2014.6 1768.4,2014.3 1769.7,2016.2 1771.0,2017.9 1772.3,2018.2 1773.5,2018.4 1774.8,2017.3 1776.1,2016.3 1777.4,2017.4 1778.6,2018.9 1779.9,2019.1 1781.2,2018.2 1782.5,2018.3 1783.7,2019.7 1785.0,2020.0 1786.3,2019.2 1787.6,2019.4 1788.8,2019.9 1790.1,2020.5 1791.4,2021.5 1792.7,2021.1 1793.9,2020.4 1795.2,2021.2 1796.5,2021.8 1797.8,2021.4 1799.0,2020.2 1800.3,2019.9 1801.6,2021.8 1802.9,2021.7 1804.1,2020.6 1805.4,2021.6 1806.7,2023.2 1808.0,2023.7 1809.2,2022.5 1810.5,2021.6 1811.8,2022.3 1813.1,2023.1 1814.3,2023.4 1815.6,2023.3 1816.9,2023.1 1818.2,2023.3 1819.4,2024.0 1820.7,2025.3 1822.0,2026.7 1823.3,2027.4 1824.5,2025.7 1825.8,2024.2 1827.1,2023.6 1828.4,2023.3 1829.6,2025.0 1830.9,2026.4 1832.2,2026.5 1833.5,2026.5 1834.7,2026.8 1836.0,2027.7 1837.3,2026.3 1838.6,2024.5 1839.8,2024.8 1841.1,2025.9 1842.4,2026.9 1843.7,2026.7 1844.9,2025.9 1846.2,2026.5 1847.5,2027.1 1848.8,2027.0 1850.0,2026.4 1851.3,2025.4 1852.6,2026.0 1853.9,2028.6 1855.1,2029.7 1856.4,2028.3 1857.7,2027.0 1859.0,2026.2 1860.2,2026.4 1861.5,2026.7 1862.8,2025.9 1864.1,2027.3 1865.3,2028.8 1866.6,2027.6 1867.9,2027.1 1869.2,2028.3 1870.4,2029.6 1871.7,2029.1 1873.0,2028.3 1874.3,2028.1 1875.5,2027.2 1876.8,2026.3 1878.1,2025.9 1879.4,2026.8 1880.6,2027.4 1881.9,2027.1 1883.2,2027.4 1884.5,2028.1 1885.7,2029.4 1887.0,2031.5 1888.3,2031.8 1889.6,2030.4 1890.8,2029.8 1892.1,2029.2 1893.4,2029.2 1894.7,2031.2 1896.0,2031.7 1897.2,2029.9 1898.5,2029.3 1899.8,2030.0 1901.1,2031.1 1902.3,2031.5 1903.6,2031.0 1904.9,2030.4 1906.2,2029.4 1907.4,2029.2 1908.7,2029.9 1910.0,2029.9 1911.3,2029.5 1912.5,2028.8 1913.8,2028.2 1915.1,2028.7 1916.4,2029.0 1917.6,2029.5 1918.9,2030.5 1920.2,2030.6 1921.5,2029.7 1922.7,2028.7 1924.0,2027.8 1925.3,2028.5 1926.6,2030.7 1927.8,2032.1 1929.1,2032.7 1930.4,2032.9 1931.7,2032.2 1932.9,2030.3 1934.2,2030.3 1935.5,2031.5 1936.8,2030.9 1938.0,2029.5 1939.3,2028.8 1940.6,2029.6 1941.9,2030.8 1943.1,2031.0 1944.4,2030.6 1945.7,2031.0 1947.0,2032.3 1948.2,2032.3 1949.5,2031.4 1950.8,2031.8 1952.1,2031.7 1953.3,2031.0 1954.6,2030.7 1955.9,2031.1 1957.2,2031.8 1958.4,2031.5" stroke="#7b5797" stroke-width="10.2"/>
<polyline points="300.8,2059.7 303.4,2059.6 305.9,2059.5 308.5,2059.3 311.0,2059.1 313.6,2058.9 316.1,2058.6 318.7,2058.2 321.2,2057.6 323.8,2056.5 326.3,2054.2 328.9,2050.1 331.4,2044.1 334.0,2037.7 336.5,2033.3 339.1,2033.2 341.6,2037.3 344.2,2043.5 346.7,2049.1 349.3,2052.9 351.8,2054.7 354.4,2055.3 356.9,2054.9 359.5,2053.5 362.0,2050.9 364.6,2047.1 367.1,2042.6 369.7,2038.9 372.2,2037.4 374.8,2038.6 377.3,2041.9 379.9,2046.0 382.4,2049.5 385.0,2051.5 387.5,2051.7 390.1,2050.4 392.6,2047.7 395.2,2043.8 397.7,2039.8 400.3,2036.3 402.8,2033.9 405.4,2032.1 407.9,2029.5 410.5,2024.9 413.0,2018.1 415.6,2010.7 418.1,2004.8 420.7,2002.9 423.2,2005.8 425.8,2013.0 428.3,2022.5 430.9,2032.3 433.4,2040.6 436.0,2046.6 438.5,2050.3 441.1,2052.1 443.6,2052.5 446.2,2052.0 448.7,2051.4 451.3,2051.1 453.8,2051.3 456.4,2051.5 458.9,2051.5 461.5,2051.0 464.0,2050.5 466.6,2050.4 469.1,2051.3 471.7,2052.8 474.2,2054.4 476.8,2055.7 479.3,2056.4 481.9,2056.8 484.4,2057.3 487.0,2057.9 489.5,2058.5 492.1,2059.1 494.6,2059.3 497.2,2059.2 499.7,2058.8 502.3,2058.0 504.8,2057.3 507.4,2057.0 509.9,2057.3 512.5,2057.8 515.0,2058.2 517.6,2057.8 520.1,2055.9 522.7,2051.8 525.2,2046.5 527.8,2042.6 530.3,2042.6 532.9,2046.7 535.4,2052.1 538.0,2056.3 540.5,2058.7 543.1,2059.6 545.6,2060.0 548.2,2060.2 550.7,2060.2 553.3,2060.1 555.8,2059.8 558.4,2058.9 560.9,2057.1 563.5,2053.9 566.0,2049.5 568.6,2045.4 571.1,2043.7 573.7,2045.3 576.2,2049.3 578.8,2053.6 581.3,2056.7 583.9,2058.4 586.4,2058.9 589.0,2058.4 591.5,2056.9 594.1,2053.9 596.6,2049.4 599.2,2044.5 601.7,2041.2 604.3,2041.2 606.8,2044.3 609.4,2049.0 611.9,2053.2 614.5,2055.6 617.0,2056.3 619.6,2055.9 622.1,2054.8 624.7,2053.7 627.2,2053.0 629.8,2052.9 632.3,2053.3 634.9,2053.8 637.4,2054.1 640.0,2053.7 642.5,2052.8 645.1,2051.7 647.6,2050.9 650.2,2050.4 652.7,2050.1 655.3,2049.4 657.8,2048.3 660.4,2046.6 662.9,2045.1 665.5,2044.2 668.0,2044.4 670.6,2045.8 673.1,2048.1 675.7,2051.0 678.2,2053.7 680.8,2056.0 683.3,2057.7 685.9,2058.8 688.4,2059.5 691.0,2059.8 693.5,2059.9 696.1,2059.8 698.6,2059.5 701.2,2058.9 703.7,2058.0 706.3,2057.2 708.8,2056.4 711.4,2055.9 713.9,2055.9 716.5,2056.4 719.0,2057.3 721.6,2058.2 724.1,2059.1 726.7,2059.8 729.2,2060.2 731.8,2060.4 734.3,2060.6 736.9,2060.6 739.4,2060.5 742.0,2060.4 744.5,2060.2 747.1,2059.7 749.6,2058.9 752.2,2057.6 754.7,2055.9 757.3,2054.1 759.8,2052.5 762.4,2051.5 764.9,2051.5 767.5,2052.5 770.0,2054.1 772.6,2056.0 775.1,2057.6 777.7,2058.7 780.2,2059.0" stroke="#0f9eb6" stroke-width="9.4"/>
<polyline points="780.2,2059.0 782.8,2058.7 785.3,2058.2 787.9,2057.5 790.4,2056.9 793.0,2056.6 795.5,2056.2 798.1,2055.8 800.6,2055.6 803.2,2055.4 805.7,2055.3 808.3,2055.2 810.8,2055.4 813.4,2055.3 815.9,2054.6 818.5,2053.9 821.0,2053.3 823.6,2052.5 826.1,2051.8 828.7,2051.5 831.2,2051.1 833.8,2049.9 836.3,2048.9 838.9,2048.5 841.4,2047.6 844.0,2045.8 846.5,2044.4 849.1,2043.2 851.6,2041.5 854.2,2040.0 856.7,2038.0 859.3,2035.0 861.8,2032.3 864.4,2026.9 866.9,2018.2 869.5,2009.6" stroke="#0f9eb6" stroke-width="9.9"/>
<polyline points="869.5,2009.6 870.8,2005.8 872.0,2002.9 873.3,1999.0 874.6,1994.1 875.9,1990.1 877.1,1986.3 878.4,1981.9 879.7,1976.9 881.0,1971.4 882.2,1964.9 883.5,1958.4 884.8,1953.3 886.1,1948.0 887.3,1940.2 888.6,1932.7 889.9,1931.0 891.2,1932.8 892.4,1931.0 893.7,1927.7 895.0,1927.6 896.3,1929.0 897.5,1930.5 898.8,1932.7 900.1,1935.0 901.4,1938.0 902.6,1943.4 903.9,1947.5 905.2,1950.0 906.5,1954.3 907.7,1959.6 909.0,1964.3 910.3,1968.6 911.6,1972.0 912.8,1973.7 914.1,1975.0 915.4,1977.5 916.7,1979.3 917.9,1980.6 919.2,1982.4 920.5,1983.6 921.8,1983.5 923.0,1983.6 924.3,1984.0 925.6,1985.1 926.9,1983.1 928.1,1975.2 929.4,1967.1 930.7,1961.2 932.0,1953.4 933.2,1944.1 934.5,1935.9 935.8,1929.4 937.1,1925.6 938.3,1923.4 939.6,1924.4 940.9,1927.4 942.2,1929.0 943.5,1930.6 944.7,1934.6 946.0,1942.3 947.3,1953.2 948.6,1962.5 949.8,1969.5 951.1,1978.5 952.4,1986.9 953.7,1992.8 954.9,1997.4 956.2,1998.7 957.5,1999.3 958.8,2000.7 960.0,2002.1 961.3,2004.6 962.6,2007.2 963.9,2007.9 965.1,2008.2 966.4,2009.8 967.7,2012.0 969.0,2014.7 970.2,2016.8 971.5,2017.5 972.8,2018.8 974.1,2021.5 975.3,2024.7 976.6,2025.4 977.9,2024.9 979.2,2027.2 980.4,2029.6 981.7,2029.7 983.0,2030.0 984.3,2031.3 985.5,2031.9 986.8,2033.1 988.1,2034.7 989.4,2035.4 990.6,2036.0 991.9,2035.6 993.2,2034.8 994.5,2035.6 995.7,2036.4 997.0,2036.0 998.3,2035.2 999.6,2035.6 1000.8,2037.4 1002.1,2036.9 1003.4,2034.4 1004.7,2033.1 1005.9,2032.2 1007.2,2030.9 1008.5,2030.1 1009.8,2029.0 1011.0,2027.2 1012.3,2025.6 1013.6,2024.8 1014.9,2024.7 1016.1,2024.2 1017.4,2023.1 1018.7,2022.7 1020.0,2021.7 1021.2,2020.2 1022.5,2019.1 1023.8,2018.5 1025.1,2019.2 1026.3,2021.1 1027.6,2023.1 1028.9,2024.6 1030.2,2024.8 1031.4,2024.4 1032.7,2025.4 1034.0,2027.0 1035.3,2026.5 1036.5,2025.3 1037.8,2025.3 1039.1,2024.3 1040.4,2021.7 1041.6,2019.5 1042.9,2017.5 1044.2,2014.3 1045.5,2010.7 1046.7,2007.3 1048.0,2005.0 1049.3,2004.3 1050.6,2002.9 1051.8,2001.2 1053.1,2000.4 1054.4,1999.1 1055.7,1998.4 1056.9,1998.6 1058.2,1998.9 1059.5,1998.2 1060.8,1996.5 1062.0,1997.0 1063.3,1998.9 1064.6,2000.6 1065.9,2003.2 1067.1,2006.2 1068.4,2007.4 1069.7,2007.1 1071.0,2007.2 1072.2,2009.1 1073.5,2011.9 1074.8,2014.1 1076.1,2014.7 1077.3,2013.8 1078.6,2013.6 1079.9,2014.5 1081.2,2014.9 1082.4,2014.9 1083.7,2013.8 1085.0,2012.4 1086.3,2011.5 1087.5,2010.0 1088.8,2009.2 1090.1,2009.4 1091.4,2007.9 1092.6,2004.4 1093.9,2000.9 1095.2,1997.7 1096.5,1993.1 1097.7,1989.1 1099.0,1988.3 1100.3,1989.3 1101.6,1987.3 1102.8,1981.8 1104.1,1978.7 1105.4,1978.6 1106.7,1978.6 1107.9,1979.1 1109.2,1979.2 1110.5,1978.6 1111.8,1978.8 1113.0,1977.6 1114.3,1976.4 1115.6,1975.7 1116.9,1974.6 1118.1,1973.6 1119.4,1971.0 1120.7,1966.7 1122.0,1963.1 1123.2,1962.4 1124.5,1961.2 1125.8,1958.4 1127.1,1957.2 1128.3,1954.9 1129.6,1951.4 1130.9,1947.9 1132.2,1945.3 1133.4,1943.1 1134.7,1941.9 1136.0,1942.3 1137.3,1939.9 1138.5,1935.0 1139.8,1933.8 1141.1,1934.5 1142.4,1932.0 1143.6,1930.0 1144.9,1928.7 1146.2,1926.1 1147.5,1926.1 1148.7,1926.3 1150.0,1924.8 1151.3,1926.2 1152.6,1927.9 1153.8,1927.4 1155.1,1927.3 1156.4,1928.8 1157.7,1931.9 1158.9,1933.4 1160.2,1933.1 1161.5,1935.4 1162.8,1937.8 1164.0,1936.1 1165.3,1933.6 1166.6,1931.4 1167.9,1928.1 1169.1,1925.5 1170.4,1923.4 1171.7,1920.7 1173.0,1915.6 1174.2,1907.7 1175.5,1899.7 1176.8,1892.2 1178.1,1885.7 1179.3,1879.5 1180.6,1870.5 1181.9,1863.0 1183.2,1858.0 1184.4,1853.1 1185.7,1850.5 1187.0,1849.0 1188.3,1849.4 1189.5,1851.8 1190.8,1856.2 1192.1,1860.3 1193.4,1865.7 1194.6,1873.7 1195.9,1884.2 1197.2,1893.8 1198.5,1901.5 1199.7,1910.3 1201.0,1918.6 1202.3,1925.1 1203.6,1932.0 1204.8,1939.5 1206.1,1946.3 1207.4,1951.7 1208.7,1956.6 1209.9,1960.5 1211.2,1963.1 1212.5,1966.5 1213.8,1971.0 1215.0,1975.1 1216.3,1977.9 1217.6,1979.9 1218.9,1981.7 1220.1,1985.0 1221.4,1988.3 1222.7,1989.8 1224.0,1990.7 1225.2,1990.7 1226.5,1992.1 1227.8,1993.6 1229.1,1992.8 1230.3,1992.5 1231.6,1992.3 1232.9,1989.7 1234.2,1986.8 1235.4,1985.5 1236.7,1982.7 1238.0,1979.5 1239.3,1978.7 1240.5,1977.4 1241.8,1975.1 1243.1,1973.4 1244.4,1974.4 1245.6,1976.8 1246.9,1975.7 1248.2,1974.3 1249.5,1974.7 1250.7,1974.5 1252.0,1976.4 1253.3,1978.5 1254.6,1977.0 1255.8,1976.2 1257.1,1978.0 1258.4,1979.2 1259.7,1980.2 1261.0,1980.4 1262.2,1979.4 1263.5,1978.7 1264.8,1978.8 1266.1,1977.6 1267.3,1976.9 1268.6,1979.5 1269.9,1980.3 1271.2,1977.4 1272.4,1976.5 1273.7,1975.9 1275.0,1973.6 1276.3,1974.0 1277.5,1974.3 1278.8,1971.6 1280.1,1968.3 1281.4,1967.3 1282.6,1969.4 1283.9,1969.7 1285.2,1967.5 1286.5,1966.0 1287.7,1965.5 1289.0,1966.2 1290.3,1966.9 1291.6,1965.7 1292.8,1964.1 1294.1,1964.7 1295.4,1966.4 1296.7,1966.7 1297.9,1967.6 1299.2,1969.6 1300.5,1970.8 1301.8,1970.3 1303.0,1970.3 1304.3,1974.3 1305.6,1978.6 1306.9,1980.6 1308.1,1981.5 1309.4,1983.4 1310.7,1986.8 1312.0,1987.5 1313.2,1986.1 1314.5,1986.8 1315.8,1988.1 1317.1,1989.6 1318.3,1991.3 1319.6,1992.2 1320.9,1993.5 1322.2,1994.0 1323.4,1993.1 1324.7,1993.5 1326.0,1993.3 1327.3,1993.0 1328.5,1993.4 1329.8,1991.7 1331.1,1990.4 1332.4,1991.3 1333.6,1991.2 1334.9,1991.5 1336.2,1993.3 1337.5,1993.2 1338.7,1992.3 1340.0,1992.1 1341.3,1990.2 1342.6,1988.2 1343.8,1987.3 1345.1,1986.1 1346.4,1985.4 1347.7,1985.2 1348.9,1984.1 1350.2,1983.5 1351.5,1983.8 1352.8,1983.4 1354.0,1983.2 1355.3,1983.3 1356.6,1982.0 1357.9,1981.4 1359.1,1983.0 1360.4,1984.0 1361.7,1983.3 1363.0,1982.0 1364.2,1980.8 1365.5,1979.4 1366.8,1978.2 1368.1,1978.7 1369.3,1980.7 1370.6,1982.7 1371.9,1982.7 1373.2,1980.7 1374.4,1979.6 1375.7,1979.5 1377.0,1978.5 1378.3,1978.3 1379.5,1978.1 1380.8,1974.9 1382.1,1971.8 1383.4,1971.3 1384.6,1970.8 1385.9,1968.4 1387.2,1965.0 1388.5,1962.1 1389.7,1961.0 1391.0,1960.9 1392.3,1961.4 1393.6,1961.7 1394.8,1961.1 1396.1,1960.3 1397.4,1958.5 1398.7,1956.7 1399.9,1956.9 1401.2,1958.7 1402.5,1960.4 1403.8,1961.7 1405.0,1964.9 1406.3,1968.1 1407.6,1968.6 1408.9,1970.2 1410.1,1972.8 1411.4,1974.1 1412.7,1974.4 1414.0,1972.1 1415.2,1969.9 1416.5,1969.6 1417.8,1968.8 1419.1,1969.2 1420.3,1971.2 1421.6,1971.2 1422.9,1968.6 1424.2,1968.1 1425.4,1969.7 1426.7,1968.8 1428.0,1967.9 1429.3,1969.1 1430.5,1971.0 1431.8,1973.1 1433.1,1972.6 1434.4,1971.3 1435.6,1972.8 1436.9,1974.0 1438.2,1972.9 1439.5,1971.0 1440.7,1968.8 1442.0,1964.0 1443.3,1957.4 1444.6,1952.1 1445.8,1947.0 1447.1,1939.9 1448.4,1932.9 1449.7,1925.4 1450.9,1914.1 1452.2,1900.4 1453.5,1886.4 1454.8,1871.9 1456.0,1854.3 1457.3,1832.6 1458.6,1808.8 1459.9,1783.2 1461.1,1754.4 1462.4,1727.9 1463.7,1708.9 1465.0,1695.6 1466.2,1689.3 1467.5,1691.7 1468.8,1704.5 1470.1,1728.1 1471.3,1757.2 1472.6,1784.7 1473.9,1809.9 1475.2,1834.4 1476.4,1856.2 1477.7,1875.0 1479.0,1891.5 1480.3,1905.6 1481.5,1918.4 1482.8,1930.1 1484.1,1939.4 1485.4,1946.8 1486.6,1952.9 1487.9,1958.0 1489.2,1961.6 1490.5,1966.0 1491.7,1972.2 1493.0,1976.1 1494.3,1977.3 1495.6,1978.9 1496.8,1982.0 1498.1,1985.6 1499.4,1988.8 1500.7,1991.2 1501.9,1992.5 1503.2,1994.0 1504.5,1996.4 1505.8,1999.5 1507.0,2002.1 1508.3,2003.0 1509.6,2003.8 1510.9,2004.8 1512.1,2005.7 1513.4,2007.1 1514.7,2007.4 1516.0,2006.8 1517.2,2007.1 1518.5,2007.7 1519.8,2008.7 1521.1,2010.8 1522.3,2011.6 1523.6,2011.4 1524.9,2012.7 1526.2,2014.3 1527.4,2014.6 1528.7,2013.3 1530.0,2013.6 1531.3,2016.3 1532.5,2017.5 1533.8,2016.5 1535.1,2015.5 1536.4,2014.8 1537.6,2014.9 1538.9,2016.8 1540.2,2018.5 1541.5,2019.1 1542.7,2020.1 1544.0,2021.3 1545.3,2021.3 1546.6,2021.4 1547.8,2022.6 1549.1,2022.1 1550.4,2020.7 1551.7,2020.8 1552.9,2020.4 1554.2,2020.1 1555.5,2020.9 1556.8,2021.3 1558.0,2022.4 1559.3,2023.4 1560.6,2023.0 1561.9,2022.6 1563.1,2022.7 1564.4,2023.1 1565.7,2023.0 1567.0,2022.6 1568.2,2023.3 1569.5,2023.6 1570.8,2023.5 1572.1,2024.4 1573.3,2023.8 1574.6,2022.7 1575.9,2022.8 1577.2,2023.1 1578.5,2024.3 1579.7,2025.3 1581.0,2025.4 1582.3,2025.6 1583.6,2025.8 1584.8,2025.3 1586.1,2024.4 1587.4,2024.6 1588.7,2025.8 1589.9,2024.8 1591.2,2023.0 1592.5,2023.7 1593.8,2025.1 1595.0,2026.7 1596.3,2026.7 1597.6,2025.8 1598.9,2027.2 1600.1,2027.9 1601.4,2027.3 1602.7,2027.4 1604.0,2027.1 1605.2,2026.2 1606.5,2025.8 1607.8,2026.1 1609.1,2025.9 1610.3,2024.9 1611.6,2025.2 1612.9,2027.7 1614.2,2029.6 1615.4,2028.6 1616.7,2027.0 1618.0,2027.7 1619.3,2028.6 1620.5,2027.5 1621.8,2026.3 1623.1,2027.0 1624.4,2028.4 1625.6,2029.1 1626.9,2027.9 1628.2,2025.8 1629.5,2026.6 1630.7,2028.1 1632.0,2027.8 1633.3,2027.8 1634.6,2029.6 1635.8,2030.8 1637.1,2029.6 1638.4,2027.2 1639.7,2026.1 1640.9,2027.8 1642.2,2029.4 1643.5,2029.5 1644.8,2029.7 1646.0,2029.6 1647.3,2028.7 1648.6,2028.6 1649.9,2028.5 1651.1,2027.9 1652.4,2028.1 1653.7,2028.7 1655.0,2028.8 1656.2,2028.2 1657.5,2027.6 1658.8,2028.0 1660.1,2028.5 1661.3,2028.3 1662.6,2028.4 1663.9,2028.0 1665.2,2026.6 1666.4,2026.4 1667.7,2028.1 1669.0,2029.0 1670.3,2027.5 1671.5,2026.5 1672.8,2026.0 1674.1,2026.0 1675.4,2027.0 1676.6,2025.7 1677.9,2024.1 1679.2,2024.9 1680.5,2025.4 1681.7,2024.0 1683.0,2022.7 1684.3,2023.1 1685.6,2024.2 1686.8,2023.9 1688.1,2022.6 1689.4,2022.9 1690.7,2024.0 1691.9,2024.2 1693.2,2024.0 1694.5,2023.9 1695.8,2022.9 1697.0,2023.0 1698.3,2023.8 1699.6,2022.2 1700.9,2020.8 1702.1,2022.1 1703.4,2023.6 1704.7,2022.9 1706.0,2022.1 1707.2,2023.0 1708.5,2022.4 1709.8,2021.1 1711.1,2021.9 1712.3,2022.3 1713.6,2020.7 1714.9,2020.0 1716.2,2021.7 1717.4,2024.1 1718.7,2024.7 1720.0,2024.4 1721.3,2024.6 1722.5,2023.3 1723.8,2023.4 1725.1,2025.3 1726.4,2024.6 1727.6,2023.5 1728.9,2023.8 1730.2,2023.5 1731.5,2022.9 1732.7,2021.8 1734.0,2021.4 1735.3,2023.8 1736.6,2026.5 1737.8,2027.6 1739.1,2027.3 1740.4,2026.1 1741.7,2025.9 1742.9,2026.4 1744.2,2026.4 1745.5,2025.8 1746.8,2026.0 1748.0,2027.5 1749.3,2029.4 1750.6,2030.6 1751.9,2031.4 1753.1,2031.2 1754.4,2031.1 1755.7,2031.9 1757.0,2031.0 1758.2,2029.5 1759.5,2031.2 1760.8,2033.6 1762.1,2033.6 1763.3,2032.2 1764.6,2031.5 1765.9,2031.7 1767.2,2031.7 1768.4,2032.7 1769.7,2033.5 1771.0,2033.0 1772.3,2032.5 1773.5,2032.4 1774.8,2033.6 1776.1,2034.7 1777.4,2035.0 1778.6,2034.7 1779.9,2034.4 1781.2,2034.2 1782.5,2033.8 1783.7,2033.5 1785.0,2033.6 1786.3,2034.1 1787.6,2033.8 1788.8,2034.1 1790.1,2034.3 1791.4,2033.1 1792.7,2033.4 1793.9,2035.2 1795.2,2036.4 1796.5,2036.8 1797.8,2036.8 1799.0,2037.2 1800.3,2037.8 1801.6,2037.8 1802.9,2036.9 1804.1,2035.7 1805.4,2035.1 1806.7,2034.5 1808.0,2034.4 1809.2,2035.2 1810.5,2035.5 1811.8,2036.3 1813.1,2037.6 1814.3,2038.6 1815.6,2037.8 1816.9,2036.6 1818.2,2037.4 1819.4,2038.5 1820.7,2038.9 1822.0,2039.5 1823.3,2040.2 1824.5,2039.8 1825.8,2037.9 1827.1,2037.4 1828.4,2039.1 1829.6,2040.3 1830.9,2038.9 1832.2,2038.0 1833.5,2039.7 1834.7,2040.5 1836.0,2039.6 1837.3,2039.4 1838.6,2040.1 1839.8,2040.2 1841.1,2040.3 1842.4,2040.8 1843.7,2040.7 1844.9,2040.0 1846.2,2040.3 1847.5,2040.1 1848.8,2039.0 1850.0,2038.1 1851.3,2037.5 1852.6,2038.6 1853.9,2039.8 1855.1,2038.8 1856.4,2037.1 1857.7,2038.0 1859.0,2039.9 1860.2,2040.4 1861.5,2040.4 1862.8,2040.3 1864.1,2040.9 1865.3,2041.1 1866.6,2039.8 1867.9,2038.8 1869.2,2039.0 1870.4,2039.7 1871.7,2041.5 1873.0,2043.1 1874.3,2042.2 1875.5,2041.0 1876.8,2039.8 1878.1,2038.8 1879.4,2040.4 1880.6,2042.3 1881.9,2042.0 1883.2,2041.1 1884.5,2040.7 1885.7,2041.9 1887.0,2043.5 1888.3,2043.2 1889.6,2043.0 1890.8,2043.5 1892.1,2042.6 1893.4,2041.3 1894.7,2040.7 1896.0,2041.5 1897.2,2042.3 1898.5,2042.0 1899.8,2041.2 1901.1,2041.2 1902.3,2043.1 1903.6,2043.0 1904.9,2040.0 1906.2,2039.8 1907.4,2040.3 1908.7,2040.2 1910.0,2042.2 1911.3,2043.3 1912.5,2042.5 1913.8,2041.9 1915.1,2041.8 1916.4,2041.7 1917.6,2041.4 1918.9,2040.8 1920.2,2041.8 1921.5,2043.4 1922.7,2043.4 1924.0,2043.2 1925.3,2042.8 1926.6,2041.2 1927.8,2040.3 1929.1,2042.1 1930.4,2043.8 1931.7,2043.4 1932.9,2042.4 1934.2,2040.8 1935.5,2040.1 1936.8,2040.8 1938.0,2042.5 1939.3,2043.3 1940.6,2043.2 1941.9,2043.9 1943.1,2044.2 1944.4,2043.6 1945.7,2043.6 1947.0,2044.8 1948.2,2044.3 1949.5,2042.3 1950.8,2042.4 1952.1,2042.6 1953.3,2041.8 1954.6,2042.1 1955.9,2043.1 1957.2,2042.4 1958.4,2041.2" stroke="#0f9eb6" stroke-width="10.2"/>
<polyline points="300.8,2060.2 303.4,2060.1 305.9,2060.0 308.5,2059.9 311.0,2059.8 313.6,2059.6 316.1,2059.4 318.7,2059.2 321.2,2058.8 323.8,2058.0 326.3,2056.4 328.9,2053.7 331.4,2049.6 334.0,2045.3 336.5,2042.4 339.1,2042.3 341.6,2045.0 344.2,2049.2 346.7,2053.0 349.3,2055.5 351.8,2056.8 354.4,2057.1 356.9,2056.9 359.5,2055.9 362.0,2054.1 364.6,2051.5 367.1,2048.4 369.7,2045.8 372.2,2044.7 374.8,2045.5 377.3,2047.8 379.9,2050.6 382.4,2053.0 385.0,2054.3 387.5,2054.5 390.1,2053.6 392.6,2051.6 395.2,2048.9 397.7,2046.0 400.3,2043.5 402.8,2041.7 405.4,2040.4 407.9,2038.5 410.5,2035.2 413.0,2030.3 415.6,2024.9 418.1,2020.8 420.7,2019.3 423.2,2021.4 425.8,2026.6 428.3,2033.4 430.9,2040.4 433.4,2046.4 436.0,2050.7 438.5,2053.4 441.1,2054.6 443.6,2054.9 446.2,2054.6 448.7,2054.2 451.3,2054.0 453.8,2054.1 456.4,2054.3 458.9,2054.2 461.5,2053.9 464.0,2053.5 466.6,2053.5 469.1,2054.1 471.7,2055.2 474.2,2056.4 476.8,2057.3 479.3,2057.8 481.9,2058.1 484.4,2058.4 487.0,2058.8 489.5,2059.3 492.1,2059.7 494.6,2059.8 497.2,2059.8 499.7,2059.5 502.3,2058.9 504.8,2058.5 507.4,2058.2 509.9,2058.4 512.5,2058.8 515.0,2059.1 517.6,2058.8 520.1,2057.4 522.7,2054.6 525.2,2050.9 527.8,2048.2 530.3,2048.2 532.9,2051.0 535.4,2054.8 538.0,2057.8 540.5,2059.4 543.1,2060.1 545.6,2060.3 548.2,2060.4 550.7,2060.5 553.3,2060.4 555.8,2060.2 558.4,2059.6 560.9,2058.3 563.5,2056.0 566.0,2053.0 568.6,2050.2 571.1,2049.0 573.7,2050.1 576.2,2052.9 578.8,2055.9 581.3,2058.0 583.9,2059.2 586.4,2059.5 589.0,2059.2 591.5,2058.2 594.1,2056.1 596.6,2053.0 599.2,2049.5 601.7,2047.2 604.3,2047.2 606.8,2049.4 609.4,2052.7 611.9,2055.6 614.5,2057.3 617.0,2057.8 619.6,2057.4 622.1,2056.7 624.7,2055.9 627.2,2055.4 629.8,2055.4 632.3,2055.6 634.9,2056.0 637.4,2056.2 640.0,2056.0 642.5,2055.3 645.1,2054.6 647.6,2054.0 650.2,2053.6 652.7,2053.4 655.3,2053.0 657.8,2052.1 660.4,2051.0 662.9,2049.9 665.5,2049.3 668.0,2049.4 670.6,2050.4 673.1,2052.1 675.7,2054.0 678.2,2055.9 680.8,2057.5 683.3,2058.7 685.9,2059.5 688.4,2060.0 691.0,2060.2 693.5,2060.3 696.1,2060.2 698.6,2060.0 701.2,2059.5 703.7,2059.0 706.3,2058.3 708.8,2057.8 711.4,2057.5 713.9,2057.5 716.5,2057.8 719.0,2058.4 721.6,2059.1 724.1,2059.7 726.7,2060.2 729.2,2060.5 731.8,2060.6 734.3,2060.7 736.9,2060.7 739.4,2060.7 742.0,2060.6 744.5,2060.4 747.1,2060.1 749.6,2059.5 752.2,2058.6 754.7,2057.5 757.3,2056.2 759.8,2055.0 762.4,2054.3 764.9,2054.3 767.5,2055.0 770.0,2056.2 772.6,2057.5 775.1,2058.7 777.7,2059.4 780.2,2059.6" stroke="#f5862e" stroke-width="9.4"/>
<polyline points="780.2,2059.6 782.8,2059.4 785.3,2059.0 787.9,2058.5 790.4,2058.1 793.0,2057.9 795.5,2057.7 798.1,2057.3 800.6,2057.0 803.2,2057.0 805.7,2057.0 808.3,2056.7 810.8,2057.0 813.4,2056.8 815.9,2056.0 818.5,2055.2 821.0,2055.1 823.6,2055.3 826.1,2055.0 828.7,2054.3 831.2,2054.0 833.8,2053.8 836.3,2053.3 838.9,2052.8 841.4,2051.9 844.0,2050.5 846.5,2049.4 849.1,2048.4 851.6,2047.0 854.2,2045.3 856.7,2044.2 859.3,2042.0 861.8,2038.7 864.4,2033.8 866.9,2028.7 869.5,2024.4" stroke="#f5862e" stroke-width="9.9"/>
<polyline points="869.5,2024.4 870.8,2020.9 872.0,2016.6 873.3,2013.2 874.6,2010.8 875.9,2007.8 877.1,2003.7 878.4,2000.6 879.7,1997.1 881.0,1992.4 882.2,1988.1 883.5,1983.8 884.8,1977.2 886.1,1970.4 887.3,1967.2 888.6,1965.5 889.9,1963.4 891.2,1962.2 892.4,1961.4 893.7,1959.8 895.0,1959.1 896.3,1959.8 897.5,1960.9 898.8,1962.2 900.1,1963.6 901.4,1966.1 902.6,1970.0 903.9,1973.8 905.2,1977.3 906.5,1980.4 907.7,1983.0 909.0,1985.8 910.3,1988.5 911.6,1991.6 912.8,1995.2 914.1,1997.2 915.4,1997.6 916.7,1998.6 917.9,2000.2 919.2,2001.2 920.5,2002.6 921.8,2004.3 923.0,2004.2 924.3,2002.5 925.6,2001.0 926.9,1997.7 928.1,1992.8 929.4,1988.4 930.7,1984.0 932.0,1978.5 933.2,1972.5 934.5,1968.6 935.8,1965.5 937.1,1960.9 938.3,1958.0 939.6,1958.3 940.9,1958.9 942.2,1959.7 943.5,1962.1 944.7,1967.3 946.0,1974.2 947.3,1981.0 948.6,1987.1 949.8,1993.3 951.1,2000.4 952.4,2006.6 953.7,2011.8 954.9,2014.4 956.2,2015.1 957.5,2017.6 958.8,2019.9 960.0,2020.4 961.3,2020.6 962.6,2022.6 963.9,2024.6 965.1,2024.3 966.4,2024.5 967.7,2026.3 969.0,2028.5 970.2,2030.9 971.5,2032.5 972.8,2033.7 974.1,2035.4 975.3,2036.7 976.6,2037.5 977.9,2037.5 979.2,2037.4 980.4,2038.1 981.7,2038.6 983.0,2039.8 984.3,2041.7 985.5,2042.9 986.8,2043.5 988.1,2043.9 989.4,2044.1 990.6,2045.5 991.9,2046.4 993.2,2046.4 994.5,2046.1 995.7,2045.2 997.0,2045.0 998.3,2044.5 999.6,2044.5 1000.8,2045.6 1002.1,2044.7 1003.4,2042.6 1004.7,2041.6 1005.9,2041.8 1007.2,2041.5 1008.5,2039.5 1009.8,2037.3 1011.0,2035.4 1012.3,2035.2 1013.6,2036.1 1014.9,2035.5 1016.1,2035.7 1017.4,2035.9 1018.7,2033.9 1020.0,2033.7 1021.2,2034.7 1022.5,2033.8 1023.8,2033.1 1025.1,2032.9 1026.3,2033.7 1027.6,2034.6 1028.9,2035.1 1030.2,2035.7 1031.4,2036.1 1032.7,2037.8 1034.0,2039.0 1035.3,2038.3 1036.5,2037.1 1037.8,2036.1 1039.1,2034.8 1040.4,2033.0 1041.6,2031.3 1042.9,2029.2 1044.2,2027.6 1045.5,2027.0 1046.7,2026.5 1048.0,2024.7 1049.3,2022.5 1050.6,2021.7 1051.8,2021.4 1053.1,2019.9 1054.4,2017.9 1055.7,2016.5 1056.9,2016.5 1058.2,2016.5 1059.5,2016.9 1060.8,2018.5 1062.0,2018.2 1063.3,2017.3 1064.6,2018.2 1065.9,2019.4 1067.1,2020.8 1068.4,2022.1 1069.7,2023.4 1071.0,2024.6 1072.2,2024.6 1073.5,2025.9 1074.8,2028.7 1076.1,2030.3 1077.3,2031.0 1078.6,2031.0 1079.9,2030.4 1081.2,2029.6 1082.4,2028.0 1083.7,2026.0 1085.0,2025.4 1086.3,2026.3 1087.5,2025.6 1088.8,2024.0 1090.1,2023.4 1091.4,2022.8 1092.6,2020.8 1093.9,2017.0 1095.2,2014.4 1096.5,2013.9 1097.7,2012.7 1099.0,2010.1 1100.3,2007.3 1101.6,2006.3 1102.8,2005.5 1104.1,2003.0 1105.4,2000.1 1106.7,1998.6 1107.9,1998.9 1109.2,2000.0 1110.5,2000.6 1111.8,2000.3 1113.0,1999.9 1114.3,2000.2 1115.6,2000.9 1116.9,2000.0 1118.1,1997.3 1119.4,1994.8 1120.7,1993.7 1122.0,1991.7 1123.2,1987.8 1124.5,1985.9 1125.8,1986.2 1127.1,1984.1 1128.3,1981.3 1129.6,1979.7 1130.9,1978.5 1132.2,1977.8 1133.4,1975.5 1134.7,1971.7 1136.0,1968.9 1137.3,1969.2 1138.5,1971.2 1139.8,1971.2 1141.1,1968.3 1142.4,1964.9 1143.6,1962.9 1144.9,1961.9 1146.2,1962.2 1147.5,1963.3 1148.7,1963.8 1150.0,1963.2 1151.3,1963.1 1152.6,1964.3 1153.8,1964.6 1155.1,1963.8 1156.4,1964.3 1157.7,1966.1 1158.9,1967.6 1160.2,1968.2 1161.5,1968.3 1162.8,1969.1 1164.0,1970.3 1165.3,1970.3 1166.6,1968.9 1167.9,1966.9 1169.1,1963.5 1170.4,1960.0 1171.7,1958.1 1173.0,1954.2 1174.2,1949.6 1175.5,1947.5 1176.8,1943.4 1178.1,1936.6 1179.3,1931.0 1180.6,1924.8 1181.9,1918.2 1183.2,1913.5 1184.4,1911.1 1185.7,1909.4 1187.0,1907.3 1188.3,1906.6 1189.5,1908.2 1190.8,1913.6 1192.1,1918.4 1193.4,1922.2 1194.6,1927.3 1195.9,1933.6 1197.2,1938.7 1198.5,1943.5 1199.7,1950.3 1201.0,1956.7 1202.3,1962.4 1203.6,1967.8 1204.8,1973.1 1206.1,1978.2 1207.4,1981.8 1208.7,1986.0 1209.9,1989.2 1211.2,1991.4 1212.5,1994.6 1213.8,1996.4 1215.0,1996.2 1216.3,1997.0 1217.6,2000.3 1218.9,2004.3 1220.1,2007.4 1221.4,2008.4 1222.7,2007.8 1224.0,2007.7 1225.2,2008.2 1226.5,2008.7 1227.8,2009.9 1229.1,2011.9 1230.3,2012.8 1231.6,2011.5 1232.9,2009.0 1234.2,2006.7 1235.4,2005.5 1236.7,2004.7 1238.0,2002.5 1239.3,2000.4 1240.5,2001.2 1241.8,2002.2 1243.1,2000.2 1244.4,1997.9 1245.6,1997.1 1246.9,1997.3 1248.2,1997.9 1249.5,1998.7 1250.7,1998.8 1252.0,1998.9 1253.3,2000.1 1254.6,2000.6 1255.8,2000.6 1257.1,2000.9 1258.4,2001.4 1259.7,2002.6 1261.0,2004.1 1262.2,2003.3 1263.5,2001.6 1264.8,2002.2 1266.1,2003.9 1267.3,2003.9 1268.6,2002.3 1269.9,2001.3 1271.2,2001.0 1272.4,2000.9 1273.7,2000.0 1275.0,1999.5 1276.3,2000.8 1277.5,2000.5 1278.8,1998.7 1280.1,1997.9 1281.4,1997.3 1282.6,1997.5 1283.9,1996.6 1285.2,1994.3 1286.5,1994.8 1287.7,1996.1 1289.0,1995.4 1290.3,1994.7 1291.6,1994.8 1292.8,1995.4 1294.1,1996.6 1295.4,1996.5 1296.7,1995.7 1297.9,1996.1 1299.2,1997.7 1300.5,2000.3 1301.8,2001.2 1303.0,2000.8 1304.3,2002.7 1305.6,2004.5 1306.9,2004.9 1308.1,2005.7 1309.4,2007.5 1310.7,2009.0 1312.0,2008.3 1313.2,2006.4 1314.5,2006.9 1315.8,2009.7 1317.1,2012.0 1318.3,2013.5 1319.6,2013.0 1320.9,2012.4 1322.2,2012.4 1323.4,2011.5 1324.7,2011.6 1326.0,2014.0 1327.3,2016.4 1328.5,2015.4 1329.8,2013.7 1331.1,2014.9 1332.4,2016.1 1333.6,2014.3 1334.9,2011.7 1336.2,2011.1 1337.5,2011.2 1338.7,2010.7 1340.0,2011.4 1341.3,2013.9 1342.6,2012.6 1343.8,2008.7 1345.1,2008.0 1346.4,2009.1 1347.7,2010.4 1348.9,2011.1 1350.2,2009.9 1351.5,2009.0 1352.8,2008.1 1354.0,2006.1 1355.3,2005.8 1356.6,2006.4 1357.9,2006.2 1359.1,2006.1 1360.4,2006.5 1361.7,2005.4 1363.0,2004.7 1364.2,2006.5 1365.5,2006.5 1366.8,2004.7 1368.1,2005.5 1369.3,2007.8 1370.6,2008.0 1371.9,2007.1 1373.2,2007.0 1374.4,2006.5 1375.7,2005.2 1377.0,2003.3 1378.3,2002.4 1379.5,2002.1 1380.8,2000.2 1382.1,1998.7 1383.4,1998.0 1384.6,1996.2 1385.9,1995.1 1387.2,1995.4 1388.5,1994.2 1389.7,1993.2 1391.0,1991.9 1392.3,1990.0 1393.6,1989.4 1394.8,1988.2 1396.1,1987.7 1397.4,1988.0 1398.7,1986.9 1399.9,1987.7 1401.2,1990.2 1402.5,1991.8 1403.8,1992.8 1405.0,1992.9 1406.3,1993.0 1407.6,1994.3 1408.9,1996.6 1410.1,1998.7 1411.4,1999.8 1412.7,1999.8 1414.0,1998.7 1415.2,1997.9 1416.5,1998.6 1417.8,1999.4 1419.1,1998.8 1420.3,1997.5 1421.6,1998.1 1422.9,1998.3 1424.2,1995.9 1425.4,1994.9 1426.7,1996.2 1428.0,1997.2 1429.3,1998.0 1430.5,1998.1 1431.8,1996.7 1433.1,1995.5 1434.4,1996.0 1435.6,1996.9 1436.9,1996.8 1438.2,1995.3 1439.5,1994.3 1440.7,1994.3 1442.0,1992.9 1443.3,1990.6 1444.6,1987.5 1445.8,1982.0 1447.1,1977.3 1448.4,1973.2 1449.7,1966.5 1450.9,1959.1 1452.2,1951.2 1453.5,1942.3 1454.8,1932.1 1456.0,1919.4 1457.3,1905.8 1458.6,1891.4 1459.9,1874.7 1461.1,1855.3 1462.4,1838.1 1463.7,1825.6 1465.0,1816.0 1466.2,1810.2 1467.5,1812.0 1468.8,1823.5 1470.1,1840.9 1471.3,1859.9 1472.6,1878.1 1473.9,1895.6 1475.2,1911.9 1476.4,1924.3 1477.7,1934.9 1479.0,1946.2 1480.3,1956.6 1481.5,1964.4 1482.8,1970.1 1484.1,1975.0 1485.4,1980.6 1486.6,1987.2 1487.9,1992.5 1489.2,1996.0 1490.5,1998.9 1491.7,2001.0 1493.0,2003.6 1494.3,2006.1 1495.6,2007.1 1496.8,2007.8 1498.1,2010.0 1499.4,2012.8 1500.7,2014.2 1501.9,2014.8 1503.2,2016.2 1504.5,2018.7 1505.8,2020.5 1507.0,2021.0 1508.3,2022.2 1509.6,2023.2 1510.9,2023.1 1512.1,2023.3 1513.4,2024.5 1514.7,2025.4 1516.0,2026.2 1517.2,2026.6 1518.5,2026.5 1519.8,2027.2 1521.1,2027.5 1522.3,2028.7 1523.6,2031.1 1524.9,2033.0 1526.2,2033.1 1527.4,2031.0 1528.7,2030.2 1530.0,2031.3 1531.3,2032.0 1532.5,2032.3 1533.8,2032.5 1535.1,2032.4 1536.4,2032.9 1537.6,2032.9 1538.9,2031.7 1540.2,2031.9 1541.5,2032.5 1542.7,2030.9 1544.0,2030.3 1545.3,2031.5 1546.6,2033.1 1547.8,2034.9 1549.1,2036.2 1550.4,2036.9 1551.7,2036.0 1552.9,2035.0 1554.2,2036.3 1555.5,2036.8 1556.8,2034.3 1558.0,2032.8 1559.3,2034.6 1560.6,2036.6 1561.9,2036.7 1563.1,2037.0 1564.4,2036.8 1565.7,2035.5 1567.0,2035.4 1568.2,2037.0 1569.5,2038.3 1570.8,2038.5 1572.1,2038.3 1573.3,2038.5 1574.6,2038.0 1575.9,2037.1 1577.2,2037.3 1578.5,2037.6 1579.7,2037.2 1581.0,2036.5 1582.3,2037.0 1583.6,2039.3 1584.8,2040.0 1586.1,2038.3 1587.4,2037.0 1588.7,2036.6 1589.9,2036.5 1591.2,2036.6 1592.5,2037.9 1593.8,2038.8 1595.0,2038.8 1596.3,2039.7 1597.6,2040.0 1598.9,2039.3 1600.1,2039.0 1601.4,2038.9 1602.7,2038.6 1604.0,2038.6 1605.2,2039.4 1606.5,2039.8 1607.8,2039.3 1609.1,2039.1 1610.3,2039.5 1611.6,2041.0 1612.9,2042.9 1614.2,2041.5 1615.4,2039.0 1616.7,2039.3 1618.0,2039.8 1619.3,2038.5 1620.5,2038.4 1621.8,2040.5 1623.1,2041.4 1624.4,2040.8 1625.6,2040.6 1626.9,2041.8 1628.2,2043.3 1629.5,2042.7 1630.7,2041.0 1632.0,2040.2 1633.3,2041.0 1634.6,2042.7 1635.8,2043.0 1637.1,2041.8 1638.4,2040.6 1639.7,2040.7 1640.9,2041.9 1642.2,2042.4 1643.5,2042.1 1644.8,2041.5 1646.0,2040.3 1647.3,2039.6 1648.6,2041.3 1649.9,2041.6 1651.1,2039.8 1652.4,2039.9 1653.7,2041.0 1655.0,2041.4 1656.2,2041.6 1657.5,2041.5 1658.8,2042.2 1660.1,2043.4 1661.3,2043.2 1662.6,2042.1 1663.9,2041.6 1665.2,2041.3 1666.4,2042.1 1667.7,2043.6 1669.0,2043.7 1670.3,2042.6 1671.5,2041.9 1672.8,2040.8 1674.1,2040.0 1675.4,2040.9 1676.6,2042.3 1677.9,2041.8 1679.2,2040.0 1680.5,2039.9 1681.7,2041.0 1683.0,2041.0 1684.3,2040.6 1685.6,2039.8 1686.8,2039.4 1688.1,2040.2 1689.4,2040.7 1690.7,2040.1 1691.9,2039.1 1693.2,2038.5 1694.5,2038.2 1695.8,2038.2 1697.0,2038.6 1698.3,2038.6 1699.6,2038.2 1700.9,2038.2 1702.1,2039.4 1703.4,2040.7 1704.7,2040.6 1706.0,2040.8 1707.2,2040.5 1708.5,2038.1 1709.8,2036.7 1711.1,2037.3 1712.3,2037.5 1713.6,2038.4 1714.9,2039.6 1716.2,2039.9 1717.4,2040.6 1718.7,2040.3 1720.0,2039.2 1721.3,2038.9 1722.5,2038.7 1723.8,2039.3 1725.1,2040.6 1726.4,2041.4 1727.6,2041.2 1728.9,2040.7 1730.2,2041.4 1731.5,2041.7 1732.7,2041.1 1734.0,2041.7 1735.3,2042.4 1736.6,2042.5 1737.8,2042.2 1739.1,2041.8 1740.4,2042.9 1741.7,2044.0 1742.9,2044.0 1744.2,2044.4 1745.5,2044.2 1746.8,2042.3 1748.0,2042.4 1749.3,2043.4 1750.6,2042.0 1751.9,2042.0 1753.1,2044.1 1754.4,2044.4 1755.7,2043.8 1757.0,2045.0 1758.2,2046.4 1759.5,2045.5 1760.8,2044.5 1762.1,2044.2 1763.3,2045.0 1764.6,2046.8 1765.9,2046.3 1767.2,2045.0 1768.4,2044.4 1769.7,2043.9 1771.0,2044.8 1772.3,2045.8 1773.5,2045.9 1774.8,2046.0 1776.1,2045.8 1777.4,2046.0 1778.6,2046.4 1779.9,2047.0 1781.2,2047.9 1782.5,2048.0 1783.7,2047.4 1785.0,2045.9 1786.3,2045.9 1787.6,2048.6 1788.8,2049.5 1790.1,2048.1 1791.4,2047.9 1792.7,2047.3 1793.9,2045.8 1795.2,2047.1 1796.5,2048.6 1797.8,2048.0 1799.0,2046.7 1800.3,2046.0 1801.6,2047.3 1802.9,2048.9 1804.1,2048.0 1805.4,2047.2 1806.7,2048.7 1808.0,2048.3 1809.2,2046.9 1810.5,2047.4 1811.8,2048.6 1813.1,2049.0 1814.3,2048.3 1815.6,2047.7 1816.9,2047.5 1818.2,2047.3 1819.4,2047.3 1820.7,2047.3 1822.0,2047.5 1823.3,2047.9 1824.5,2047.8 1825.8,2046.8 1827.1,2046.6 1828.4,2048.1 1829.6,2049.4 1830.9,2050.5 1832.2,2051.7 1833.5,2050.6 1834.7,2049.5 1836.0,2049.8 1837.3,2049.2 1838.6,2047.8 1839.8,2047.5 1841.1,2049.3 1842.4,2051.8 1843.7,2052.3 1844.9,2050.3 1846.2,2048.4 1847.5,2048.3 1848.8,2049.4 1850.0,2050.6 1851.3,2050.8 1852.6,2050.3 1853.9,2049.7 1855.1,2049.4 1856.4,2048.9 1857.7,2048.3 1859.0,2049.0 1860.2,2049.3 1861.5,2048.8 1862.8,2049.4 1864.1,2051.3 1865.3,2052.8 1866.6,2052.3 1867.9,2050.6 1869.2,2049.9 1870.4,2049.9 1871.7,2049.4 1873.0,2049.8 1874.3,2049.9 1875.5,2048.0 1876.8,2047.3 1878.1,2049.4 1879.4,2050.9 1880.6,2051.7 1881.9,2052.4 1883.2,2052.3 1884.5,2052.2 1885.7,2052.1 1887.0,2051.0 1888.3,2050.4 1889.6,2051.4 1890.8,2052.0 1892.1,2051.4 1893.4,2050.2 1894.7,2051.0 1896.0,2053.3 1897.2,2053.5 1898.5,2052.6 1899.8,2052.4 1901.1,2052.1 1902.3,2052.5 1903.6,2053.4 1904.9,2053.0 1906.2,2052.3 1907.4,2052.4 1908.7,2052.4 1910.0,2052.4 1911.3,2052.2 1912.5,2052.3 1913.8,2053.2 1915.1,2053.4 1916.4,2053.1 1917.6,2052.6 1918.9,2052.0 1920.2,2052.1 1921.5,2052.1 1922.7,2052.2 1924.0,2052.8 1925.3,2053.2 1926.6,2052.6 1927.8,2052.1 1929.1,2052.4 1930.4,2053.1 1931.7,2054.3 1932.9,2055.9 1934.2,2055.6 1935.5,2054.2 1936.8,2052.8 1938.0,2052.7 1939.3,2054.1 1940.6,2055.0 1941.9,2054.0 1943.1,2053.1 1944.4,2053.7 1945.7,2055.3 1947.0,2056.3 1948.2,2056.4 1949.5,2055.7 1950.8,2054.3 1952.1,2053.3 1953.3,2052.3 1954.6,2052.3 1955.9,2053.8 1957.2,2055.1 1958.4,2055.0" stroke="#f5862e" stroke-width="10.5"/>
<polyline points="300.8,2060.8 303.4,2060.8 305.9,2060.8 308.5,2060.7 311.0,2060.7 313.6,2060.6 316.1,2060.6 318.7,2060.5 321.2,2060.4 323.8,2060.1 326.3,2059.7 328.9,2058.8 331.4,2057.5 334.0,2056.2 336.5,2055.3 339.1,2055.3 341.6,2056.1 344.2,2057.4 346.7,2058.6 349.3,2059.4 351.8,2059.7 354.4,2059.8 356.9,2059.8 359.5,2059.4 362.0,2058.9 364.6,2058.0 367.1,2056.9 369.7,2056.1 372.2,2055.7 374.8,2055.9 377.3,2056.6 379.9,2057.5 382.4,2058.3 385.0,2058.8 387.5,2058.8 390.1,2058.5 392.6,2057.8 395.2,2056.8 397.7,2055.7 400.3,2054.8 402.8,2054.2 405.4,2053.7 407.9,2052.9 410.5,2051.7 413.0,2049.9 415.6,2048.0 418.1,2046.4 420.7,2045.9 423.2,2046.7 425.8,2048.6 428.3,2051.1 430.9,2053.6 433.4,2055.8 436.0,2057.4 438.5,2058.3 441.1,2058.8 443.6,2058.9 446.2,2058.8 448.7,2058.7 451.3,2058.6 453.8,2058.7 456.4,2058.8 458.9,2058.8 461.5,2058.7 464.0,2058.6 466.6,2058.6 469.1,2058.8 471.7,2059.2 474.2,2059.6 476.8,2059.9 479.3,2060.1 481.9,2060.2 484.4,2060.3 487.0,2060.4 489.5,2060.6 492.1,2060.7 494.6,2060.7 497.2,2060.7 499.7,2060.6 502.3,2060.5 504.8,2060.4 507.4,2060.3 509.9,2060.4 512.5,2060.5 515.0,2060.6 517.6,2060.5 520.1,2060.1 522.7,2059.4 525.2,2058.4 527.8,2057.7 530.3,2057.7 532.9,2058.4 535.4,2059.4 538.0,2060.2 540.5,2060.6 543.1,2060.8 545.6,2060.9 548.2,2060.9 550.7,2060.9 553.3,2060.9 555.8,2060.9 558.4,2060.7 560.9,2060.4 563.5,2059.8 566.0,2058.9 568.6,2058.2 571.1,2057.9 573.7,2058.2 576.2,2058.9 578.8,2059.7 581.3,2060.3 583.9,2060.6 586.4,2060.7 589.0,2060.6 591.5,2060.3 594.1,2059.8 596.6,2058.9 599.2,2058.0 601.7,2057.4 604.3,2057.4 606.8,2058.0 609.4,2058.9 611.9,2059.6 614.5,2060.1 617.0,2060.2 619.6,2060.1 622.1,2059.9 624.7,2059.7 627.2,2059.6 629.8,2059.6 632.3,2059.6 634.9,2059.7 637.4,2059.8 640.0,2059.7 642.5,2059.6 645.1,2059.4 647.6,2059.2 650.2,2059.1 652.7,2059.0 655.3,2058.9 657.8,2058.7 660.4,2058.4 662.9,2058.1 665.5,2057.9 668.0,2058.0 670.6,2058.2 673.1,2058.7 675.7,2059.2 678.2,2059.7 680.8,2060.1 683.3,2060.5 685.9,2060.7 688.4,2060.8 691.0,2060.9 693.5,2060.9 696.1,2060.9 698.6,2060.8 701.2,2060.7 703.7,2060.5 706.3,2060.4 708.8,2060.2 711.4,2060.1 713.9,2060.1 716.5,2060.2 719.0,2060.4 721.6,2060.6 724.1,2060.7 726.7,2060.8 729.2,2060.9 731.8,2061.0 734.3,2061.0 736.9,2061.0 739.4,2061.0 742.0,2061.0 744.5,2060.9 747.1,2060.8 749.6,2060.7 752.2,2060.4 754.7,2060.1 757.3,2059.7 759.8,2059.4 762.4,2059.2 764.9,2059.1 767.5,2059.3 770.0,2059.7 772.6,2060.0 775.1,2060.4 777.7,2060.6 780.2,2060.7 782.8,2060.6 785.3,2060.5 787.9,2060.3 790.4,2060.2 793.0,2060.2 795.5,2060.1 798.1,2059.9 800.6,2059.9 803.2,2059.8 805.7,2059.9 808.3,2059.8 810.8,2059.8 813.4,2060.1 815.9,2060.1 818.5,2059.8 821.0,2059.4 823.6,2059.0 826.1,2059.3 828.7,2059.6 831.2,2059.6 833.8,2059.2 836.3,2058.1 838.9,2057.4 841.4,2057.0 844.0,2056.6 846.5,2056.7 849.1,2056.6 851.6,2055.8 854.2,2055.5 856.7,2055.9 859.3,2055.1 861.8,2053.0 864.4,2051.2 866.9,2050.1 869.5,2047.9 870.8,2045.5 872.0,2043.5 873.3,2042.1 874.6,2041.5 875.9,2040.6 877.1,2039.2 878.4,2038.9 879.7,2037.4 881.0,2033.9 882.2,2030.4 883.5,2028.4 884.8,2027.5 886.1,2025.9 887.3,2024.0 888.6,2022.8 889.9,2021.8 891.2,2020.9 892.4,2020.7 893.7,2019.9 895.0,2018.9 896.3,2019.8 897.5,2020.8 898.8,2020.9 900.1,2021.5 901.4,2023.0 902.6,2025.5 903.9,2027.9 905.2,2028.8 906.5,2027.8 907.7,2027.6 909.0,2029.2 910.3,2031.3 911.6,2033.1 912.8,2034.1 914.1,2034.6 915.4,2035.9 916.7,2036.7 917.9,2035.8 919.2,2035.6 920.5,2036.6 921.8,2037.6 923.0,2037.9 924.3,2037.5 925.6,2037.7 926.9,2037.8 928.1,2036.4 929.4,2033.4 930.7,2030.7 932.0,2029.6 933.2,2027.7 934.5,2024.3 935.8,2022.1 937.1,2020.6 938.3,2018.5 939.6,2019.6 940.9,2022.2 942.2,2021.9 943.5,2022.4 944.7,2025.1 946.0,2027.4 947.3,2030.2 948.6,2033.6 949.8,2035.8 951.1,2037.8 952.4,2040.4 953.7,2042.9 954.9,2044.4 956.2,2044.9 957.5,2045.1 958.8,2044.2 960.0,2043.2 961.3,2044.6 962.6,2046.8 963.9,2047.8 965.1,2048.2 966.4,2049.1 967.7,2050.7 969.0,2051.6 970.2,2051.8 971.5,2051.8 972.8,2051.2 974.1,2051.5 975.3,2052.7 976.6,2053.7 977.9,2053.8 979.2,2053.6 980.4,2054.3 981.7,2054.2 983.0,2053.7 984.3,2054.8 985.5,2056.2 986.8,2055.9 988.1,2055.5 989.4,2056.5 990.6,2056.7 991.9,2055.4 993.2,2054.6 994.5,2055.3 995.7,2056.6 997.0,2056.8 998.3,2056.7 999.6,2057.1 1000.8,2057.7 1002.1,2056.8 1003.4,2055.4 1004.7,2056.6 1005.9,2057.6 1007.2,2055.8 1008.5,2054.9 1009.8,2055.4 1011.0,2055.3 1012.3,2054.6 1013.6,2053.8 1014.9,2054.7 1016.1,2056.0 1017.4,2054.7 1018.7,2052.3 1020.0,2051.6 1021.2,2052.6 1022.5,2053.5 1023.8,2052.8 1025.1,2052.3 1026.3,2052.8 1027.6,2052.7 1028.9,2052.3 1030.2,2052.6 1031.4,2053.3 1032.7,2054.2 1034.0,2055.2 1035.3,2054.6 1036.5,2052.7 1037.8,2052.0 1039.1,2052.3 1040.4,2052.3 1041.6,2052.7 1042.9,2052.8 1044.2,2051.3 1045.5,2050.6 1046.7,2051.2 1048.0,2050.9 1049.3,2049.9 1050.6,2049.0 1051.8,2048.8 1053.1,2048.6 1054.4,2047.7 1055.7,2047.3 1056.9,2047.6 1058.2,2047.7 1059.5,2046.6 1060.8,2045.5 1062.0,2046.0 1063.3,2048.9 1064.6,2049.9 1065.9,2048.0 1067.1,2048.2 1068.4,2049.6 1069.7,2048.8 1071.0,2047.5 1072.2,2047.7 1073.5,2049.5 1074.8,2052.0 1076.1,2051.4 1077.3,2049.0 1078.6,2048.5 1079.9,2049.2 1081.2,2050.0 1082.4,2050.3 1083.7,2050.3 1085.0,2050.4 1086.3,2050.1 1087.5,2049.9 1088.8,2048.6 1090.1,2047.0 1091.4,2046.9 1092.6,2046.2 1093.9,2043.7 1095.2,2042.7 1096.5,2043.9 1097.7,2043.9 1099.0,2041.3 1100.3,2040.1 1101.6,2040.2 1102.8,2039.7 1104.1,2040.0 1105.4,2040.1 1106.7,2039.5 1107.9,2039.1 1109.2,2038.3 1110.5,2037.8 1111.8,2038.3 1113.0,2038.5 1114.3,2038.2 1115.6,2038.2 1116.9,2038.2 1118.1,2036.7 1119.4,2034.5 1120.7,2034.5 1122.0,2035.4 1123.2,2035.1 1124.5,2034.5 1125.8,2033.8 1127.1,2033.1 1128.3,2032.0 1129.6,2029.7 1130.9,2028.1 1132.2,2028.1 1133.4,2028.0 1134.7,2027.5 1136.0,2026.5 1137.3,2024.1 1138.5,2023.9 1139.8,2026.1 1141.1,2025.3 1142.4,2023.7 1143.6,2023.5 1144.9,2024.2 1146.2,2024.6 1147.5,2023.8 1148.7,2023.2 1150.0,2023.0 1151.3,2023.1 1152.6,2022.4 1153.8,2021.9 1155.1,2023.9 1156.4,2025.4 1157.7,2025.6 1158.9,2024.5 1160.2,2023.4 1161.5,2024.8 1162.8,2026.7 1164.0,2026.7 1165.3,2025.5 1166.6,2024.7 1167.9,2023.9 1169.1,2023.5 1170.4,2022.8 1171.7,2021.9 1173.0,2020.6 1174.2,2018.1 1175.5,2016.5 1176.8,2014.3 1178.1,2010.2 1179.3,2006.7 1180.6,2005.1 1181.9,2004.5 1183.2,2003.9 1184.4,2002.8 1185.7,2001.4 1187.0,2001.0 1188.3,2002.1 1189.5,2001.0 1190.8,2001.0 1192.1,2005.7 1193.4,2009.7 1194.6,2010.8 1195.9,2011.2 1197.2,2012.1 1198.5,2014.3 1199.7,2017.4 1201.0,2020.8 1202.3,2022.9 1203.6,2024.8 1204.8,2027.1 1206.1,2028.6 1207.4,2030.0 1208.7,2031.9 1209.9,2034.7 1211.2,2035.7 1212.5,2034.5 1213.8,2035.1 1215.0,2035.5 1216.3,2034.7 1217.6,2036.0 1218.9,2038.5 1220.1,2039.9 1221.4,2040.1 1222.7,2040.5 1224.0,2040.5 1225.2,2039.8 1226.5,2039.9 1227.8,2041.2 1229.1,2042.5 1230.3,2042.1 1231.6,2040.3 1232.9,2040.0 1234.2,2040.0 1235.4,2039.1 1236.7,2038.7 1238.0,2038.7 1239.3,2037.8 1240.5,2036.7 1241.8,2036.8 1243.1,2037.7 1244.4,2037.5 1245.6,2037.1 1246.9,2037.4 1248.2,2037.2 1249.5,2037.6 1250.7,2039.6 1252.0,2040.7 1253.3,2039.6 1254.6,2038.3 1255.8,2037.5 1257.1,2037.1 1258.4,2037.8 1259.7,2038.4 1261.0,2038.5 1262.2,2038.2 1263.5,2037.8 1264.8,2039.1 1266.1,2040.2 1267.3,2039.3 1268.6,2038.3 1269.9,2039.1 1271.2,2039.4 1272.4,2037.8 1273.7,2037.3 1275.0,2037.8 1276.3,2037.9 1277.5,2037.6 1278.8,2037.3 1280.1,2038.0 1281.4,2038.3 1282.6,2038.0 1283.9,2038.0 1285.2,2036.9 1286.5,2036.3 1287.7,2036.0 1289.0,2035.0 1290.3,2035.2 1291.6,2036.5 1292.8,2037.3 1294.1,2036.9 1295.4,2036.8 1296.7,2038.2 1297.9,2039.2 1299.2,2039.6 1300.5,2039.6 1301.8,2039.1 1303.0,2038.9 1304.3,2039.2 1305.6,2040.9 1306.9,2041.7 1308.1,2041.9 1309.4,2043.6 1310.7,2044.8 1312.0,2044.0 1313.2,2043.5 1314.5,2043.8 1315.8,2044.3 1317.1,2045.0 1318.3,2043.4 1319.6,2041.6 1320.9,2041.9 1322.2,2043.1 1323.4,2044.4 1324.7,2044.4 1326.0,2043.8 1327.3,2043.9 1328.5,2044.5 1329.8,2044.9 1331.1,2044.5 1332.4,2045.1 1333.6,2046.3 1334.9,2045.1 1336.2,2043.4 1337.5,2043.0 1338.7,2042.6 1340.0,2042.3 1341.3,2043.3 1342.6,2043.6 1343.8,2041.7 1345.1,2040.8 1346.4,2041.5 1347.7,2041.5 1348.9,2042.6 1350.2,2044.1 1351.5,2044.0 1352.8,2042.7 1354.0,2041.2 1355.3,2041.4 1356.6,2042.1 1357.9,2041.1 1359.1,2040.2 1360.4,2041.2 1361.7,2041.9 1363.0,2041.7 1364.2,2041.6 1365.5,2040.7 1366.8,2040.0 1368.1,2040.8 1369.3,2041.4 1370.6,2041.9 1371.9,2041.6 1373.2,2039.1 1374.4,2037.9 1375.7,2040.3 1377.0,2042.2 1378.3,2041.9 1379.5,2041.7 1380.8,2041.3 1382.1,2039.5 1383.4,2038.6 1384.6,2037.8 1385.9,2036.6 1387.2,2036.8 1388.5,2037.1 1389.7,2036.7 1391.0,2036.8 1392.3,2036.6 1393.6,2035.8 1394.8,2034.9 1396.1,2034.9 1397.4,2035.0 1398.7,2034.3 1399.9,2034.0 1401.2,2034.0 1402.5,2034.6 1403.8,2035.8 1405.0,2035.2 1406.3,2034.6 1407.6,2037.1 1408.9,2038.8 1410.1,2037.8 1411.4,2037.2 1412.7,2037.1 1414.0,2036.8 1415.2,2036.4 1416.5,2036.1 1417.8,2036.4 1419.1,2037.2 1420.3,2038.6 1421.6,2038.7 1422.9,2037.0 1424.2,2036.1 1425.4,2037.2 1426.7,2037.4 1428.0,2036.9 1429.3,2038.1 1430.5,2039.8 1431.8,2039.7 1433.1,2038.5 1434.4,2038.4 1435.6,2037.9 1436.9,2037.8 1438.2,2038.3 1439.5,2038.6 1440.7,2038.8 1442.0,2037.7 1443.3,2036.0 1444.6,2034.0 1445.8,2032.0 1447.1,2030.2 1448.4,2028.5 1449.7,2027.7 1450.9,2026.4 1452.2,2022.6 1453.5,2017.8 1454.8,2014.4 1456.0,2009.6 1457.3,2003.5 1458.6,1998.0 1459.9,1993.2 1461.1,1986.4 1462.4,1977.9 1463.7,1972.9 1465.0,1970.6 1466.2,1968.4 1467.5,1969.7 1468.8,1974.4 1470.1,1979.1 1471.3,1984.7 1472.6,1991.6 1473.9,1999.2 1475.2,2007.0 1476.4,2012.9 1477.7,2016.7 1479.0,2019.5 1480.3,2022.2 1481.5,2025.7 1482.8,2028.7 1484.1,2031.8 1485.4,2034.4 1486.6,2035.1 1487.9,2037.0 1489.2,2038.8 1490.5,2038.3 1491.7,2038.3 1493.0,2040.1 1494.3,2041.8 1495.6,2042.8 1496.8,2042.8 1498.1,2042.4 1499.4,2043.0 1500.7,2043.6 1501.9,2045.4 1503.2,2047.5 1504.5,2046.6 1505.8,2045.4 1507.0,2046.6 1508.3,2048.3 1509.6,2048.1 1510.9,2046.9 1512.1,2046.8 1513.4,2047.8 1514.7,2048.8 1516.0,2047.9 1517.2,2047.1 1518.5,2047.4 1519.8,2047.3 1521.1,2047.3 1522.3,2048.4 1523.6,2049.8 1524.9,2050.6 1526.2,2050.0 1527.4,2048.5 1528.7,2048.8 1530.0,2051.0 1531.3,2051.7 1532.5,2050.2 1533.8,2049.2 1535.1,2049.5 1536.4,2049.9 1537.6,2049.9 1538.9,2050.3 1540.2,2050.7 1541.5,2050.6 1542.7,2050.6 1544.0,2050.5 1545.3,2050.6 1546.6,2052.0 1547.8,2052.9 1549.1,2052.2 1550.4,2050.9 1551.7,2050.9 1552.9,2052.2 1554.2,2052.6 1555.5,2053.1 1556.8,2054.0 1558.0,2053.4 1559.3,2052.2 1560.6,2052.1 1561.9,2052.9 1563.1,2052.5 1564.4,2051.3 1565.7,2051.0 1567.0,2052.2 1568.2,2054.0 1569.5,2054.5 1570.8,2053.6 1572.1,2053.4 1573.3,2053.9 1574.6,2054.1 1575.9,2053.8 1577.2,2052.9 1578.5,2052.8 1579.7,2052.8 1581.0,2051.4 1582.3,2051.4 1583.6,2052.8 1584.8,2052.5 1586.1,2052.4 1587.4,2053.8 1588.7,2054.6 1589.9,2054.7 1591.2,2054.4 1592.5,2053.5 1593.8,2053.5 1595.0,2053.6 1596.3,2053.7 1597.6,2053.2 1598.9,2052.6 1600.1,2053.7 1601.4,2055.2 1602.7,2055.7 1604.0,2055.0 1605.2,2054.0 1606.5,2053.6 1607.8,2053.9 1609.1,2054.1 1610.3,2053.7 1611.6,2054.0 1612.9,2054.8 1614.2,2054.2 1615.4,2053.8 1616.7,2053.8 1618.0,2053.4 1619.3,2054.1 1620.5,2054.5 1621.8,2053.1 1623.1,2053.0 1624.4,2054.7 1625.6,2054.6 1626.9,2053.5 1628.2,2053.2 1629.5,2052.9 1630.7,2053.8 1632.0,2055.2 1633.3,2055.5 1634.6,2056.1 1635.8,2056.6 1637.1,2055.8 1638.4,2055.5 1639.7,2055.9 1640.9,2056.0 1642.2,2055.2 1643.5,2054.0 1644.8,2054.5 1646.0,2055.6 1647.3,2056.1 1648.6,2055.3 1649.9,2054.0 1651.1,2054.7 1652.4,2056.1 1653.7,2056.0 1655.0,2054.6 1656.2,2053.6 1657.5,2054.2 1658.8,2054.3 1660.1,2053.0 1661.3,2052.3 1662.6,2053.9 1663.9,2056.1 1665.2,2055.6 1666.4,2053.9 1667.7,2054.8 1669.0,2056.7 1670.3,2056.5 1671.5,2055.8 1672.8,2055.3 1674.1,2054.4 1675.4,2053.6 1676.6,2054.4 1677.9,2055.9 1679.2,2055.6 1680.5,2055.4 1681.7,2055.5 1683.0,2055.1 1684.3,2056.1 1685.6,2055.8 1686.8,2053.8 1688.1,2053.3 1689.4,2053.2 1690.7,2053.7 1691.9,2054.6 1693.2,2054.0 1694.5,2053.8 1695.8,2053.8 1697.0,2053.5 1698.3,2053.9 1699.6,2054.7 1700.9,2054.8 1702.1,2054.1 1703.4,2054.6 1704.7,2055.5 1706.0,2054.8 1707.2,2054.0 1708.5,2053.1 1709.8,2052.7 1711.1,2053.2 1712.3,2053.5 1713.6,2053.3 1714.9,2053.6 1716.2,2054.2 1717.4,2055.5 1718.7,2057.6 1720.0,2058.1 1721.3,2057.1 1722.5,2055.9 1723.8,2055.0 1725.1,2054.5 1726.4,2054.1 1727.6,2054.5 1728.9,2055.3 1730.2,2055.7 1731.5,2056.3 1732.7,2057.6 1734.0,2057.7 1735.3,2057.0 1736.6,2056.9 1737.8,2057.2 1739.1,2057.5 1740.4,2056.2 1741.7,2054.2 1742.9,2055.6 1744.2,2057.5 1745.5,2057.1 1746.8,2057.2 1748.0,2057.4 1749.3,2056.8 1750.6,2056.8 1751.9,2057.0 1753.1,2057.4 1754.4,2056.5 1755.7,2054.9 1757.0,2056.9 1758.2,2058.9 1759.5,2058.7 1760.8,2057.9 1762.1,2056.6 1763.3,2057.0 1764.6,2057.5 1765.9,2056.6 1767.2,2057.5 1768.4,2058.3 1769.7,2057.0 1771.0,2057.1 1772.3,2058.8 1773.5,2059.2 1774.8,2058.7 1776.1,2058.3 1777.4,2057.6 1778.6,2058.0 1779.9,2059.4 1781.2,2059.6 1782.5,2058.2 1783.7,2057.4 1785.0,2057.9 1786.3,2058.3 1787.6,2058.4 1788.8,2058.4 1790.1,2058.5 1791.4,2058.6 1792.7,2059.3 1793.9,2058.6 1795.2,2056.8 1796.5,2057.5 1797.8,2058.7 1799.0,2058.2 1800.3,2057.7 1801.6,2058.2 1802.9,2059.3 1804.1,2059.6 1805.4,2059.5 1806.7,2060.1 1808.0,2059.3 1809.2,2057.7 1810.5,2058.2 1811.8,2059.9 1813.1,2060.0 1814.3,2058.3 1815.6,2057.6 1816.9,2059.3 1818.2,2060.1 1819.4,2059.2 1820.7,2059.5 1822.0,2059.5 1823.3,2057.7 1824.5,2058.1 1825.8,2060.1 1827.1,2060.0 1828.4,2058.4 1829.6,2057.7 1830.9,2058.1 1832.2,2058.8 1833.5,2058.6 1834.7,2057.9 1836.0,2058.6 1837.3,2059.2 1838.6,2059.1 1839.8,2059.2 1841.1,2058.2 1842.4,2058.8 1843.7,2060.8 1844.9,2060.1 1846.2,2058.0 1847.5,2058.0 1848.8,2059.1 1850.0,2059.1 1851.3,2059.1 1852.6,2059.7 1853.9,2059.7 1855.1,2058.6 1856.4,2057.6 1857.7,2057.7 1859.0,2058.8 1860.2,2059.0 1861.5,2057.3 1862.8,2056.6 1864.1,2058.6 1865.3,2059.2 1866.6,2058.9 1867.9,2061.1 1869.2,2061.1 1870.4,2059.5 1871.7,2057.7 1873.0,2057.8 1874.3,2058.1 1875.5,2058.9 1876.8,2059.6 1878.1,2059.8 1879.4,2061.1 1880.6,2061.1 1881.9,2061.1 1883.2,2061.1 1884.5,2061.1 1885.7,2061.1 1887.0,2060.7 1888.3,2060.6 1889.6,2061.1 1890.8,2061.1 1892.1,2060.5 1893.4,2060.0 1894.7,2059.5 1896.0,2059.3 1897.2,2059.6 1898.5,2059.6 1899.8,2059.6 1901.1,2060.0 1902.3,2060.6 1903.6,2061.0 1904.9,2060.2 1906.2,2059.8 1907.4,2060.0 1908.7,2059.8 1910.0,2059.9 1911.3,2059.1 1912.5,2058.5 1913.8,2059.8 1915.1,2060.6 1916.4,2060.5 1917.6,2061.1 1918.9,2061.1 1920.2,2060.9 1921.5,2061.1 1922.7,2061.0 1924.0,2060.5 1925.3,2060.4 1926.6,2060.0 1927.8,2059.6 1929.1,2061.1 1930.4,2061.1 1931.7,2059.2 1932.9,2059.6 1934.2,2060.9 1935.5,2061.0 1936.8,2061.0 1938.0,2061.0 1939.3,2060.5 1940.6,2059.6 1941.9,2060.3 1943.1,2060.1 1944.4,2059.6 1945.7,2060.2 1947.0,2060.5 1948.2,2061.1 1949.5,2061.1 1950.8,2061.1 1952.1,2060.0 1953.3,2060.1 1954.6,2060.9 1955.9,2061.0 1957.2,2061.1 1958.4,2061.1" stroke="#8badd6" stroke-width="9.4"/>
<polyline points="300.8,2061.1 303.4,2061.1 305.9,2061.1 308.5,2061.1 311.0,2061.1 313.6,2061.1 316.1,2061.1 318.7,2061.1 321.2,2061.1 323.8,2061.1 326.3,2061.1 328.9,2061.1 331.4,2061.1 334.0,2061.1 336.5,2061.1 339.1,2061.1 341.6,2061.1 344.2,2061.1 346.7,2061.1 349.3,2061.1 351.8,2061.1 354.4,2061.1 356.9,2061.1 359.5,2061.1 362.0,2061.1 364.6,2061.1 367.1,2061.1 369.7,2061.1 372.2,2061.1 374.8,2061.1 377.3,2061.1 379.9,2061.1 382.4,2061.1 385.0,2061.1 387.5,2061.1 390.1,2061.1 392.6,2061.1 395.2,2061.1 397.7,2061.1 400.3,2061.1 402.8,2061.1 405.4,2061.1 407.9,2061.1 410.5,2061.1 413.0,2061.1 415.6,2061.1 418.1,2061.1 420.7,2061.1 423.2,2061.1 425.8,2061.1 428.3,2061.1 430.9,2061.1 433.4,2061.1 436.0,2061.1 438.5,2061.1 441.1,2061.1 443.6,2061.1 446.2,2061.1 448.7,2061.1 451.3,2061.1 453.8,2061.1 456.4,2061.1 458.9,2061.1 461.5,2061.1 464.0,2061.1 466.6,2061.1 469.1,2061.1 471.7,2061.1 474.2,2061.1 476.8,2061.1 479.3,2061.1 481.9,2061.1 484.4,2061.1 487.0,2061.1 489.5,2061.1 492.1,2061.1 494.6,2061.1 497.2,2061.1 499.7,2061.1 502.3,2061.1 504.8,2061.1 507.4,2061.1 509.9,2061.1 512.5,2061.1 515.0,2061.1 517.6,2061.1 520.1,2061.1 522.7,2061.1 525.2,2061.1 527.8,2061.1 530.3,2061.1 532.9,2061.1 535.4,2061.1 538.0,2061.1 540.5,2061.1 543.1,2061.1 545.6,2061.1 548.2,2061.1 550.7,2061.1 553.3,2061.1 555.8,2061.1 558.4,2061.1 560.9,2061.1 563.5,2061.1 566.0,2061.1 568.6,2061.1 571.1,2061.1 573.7,2061.1 576.2,2061.1 578.8,2061.1 581.3,2061.1 583.9,2061.1 586.4,2061.1 589.0,2061.1 591.5,2061.1 594.1,2061.1 596.6,2061.1 599.2,2061.1 601.7,2061.1 604.3,2061.1 606.8,2061.1 609.4,2061.1 611.9,2061.1 614.5,2061.1 617.0,2061.1 619.6,2061.1 622.1,2061.1 624.7,2061.1 627.2,2061.1 629.8,2061.1 632.3,2061.1 634.9,2061.1 637.4,2061.1 640.0,2061.1 642.5,2061.1 645.1,2061.1 647.6,2061.1 650.2,2061.1 652.7,2061.1 655.3,2061.1 657.8,2061.1 660.4,2061.1 662.9,2061.1 665.5,2061.1 668.0,2061.1 670.6,2061.1 673.1,2061.1 675.7,2061.1 678.2,2061.1 680.8,2061.1 683.3,2061.1 685.9,2061.1 688.4,2061.1 691.0,2061.1 693.5,2061.1 696.1,2061.1 698.6,2061.1 701.2,2061.1 703.7,2061.1 706.3,2061.1 708.8,2061.1 711.4,2061.1 713.9,2061.1 716.5,2061.1 719.0,2061.1 721.6,2061.1 724.1,2061.1 726.7,2061.1 729.2,2061.1 731.8,2061.1 734.3,2061.1 736.9,2061.1 739.4,2061.1 742.0,2061.1 744.5,2061.1 747.1,2061.1 749.6,2061.1 752.2,2061.1 754.7,2061.1 757.3,2061.1 759.8,2061.1 762.4,2061.1 764.9,2061.1 767.5,2061.1 770.0,2061.1 772.6,2061.1 775.1,2061.1 777.7,2061.1 780.2,2061.1 782.8,2061.1 785.3,2061.1 787.9,2061.1 790.4,2061.1 793.0,2061.1 795.5,2061.1 798.1,2061.1 800.6,2061.1 803.2,2061.1 805.7,2061.1 808.3,2061.1 810.8,2061.1 813.4,2061.0 815.9,2061.1 818.5,2061.1 821.0,2061.1 823.6,2061.1 826.1,2061.1 828.7,2061.1 831.2,2061.1 833.8,2061.1 836.3,2061.0 838.9,2061.1 841.4,2061.1 844.0,2061.1 846.5,2061.1 849.1,2061.1 851.6,2061.1 854.2,2061.1 856.7,2061.1 859.3,2061.1 861.8,2060.9 864.4,2061.0 866.9,2061.1 869.5,2061.1 870.8,2061.1 872.0,2061.1 873.3,2061.1 874.6,2061.1 875.9,2061.1 877.1,2061.0 878.4,2061.0 879.7,2061.1 881.0,2061.1 882.2,2061.1 883.5,2061.0 884.8,2060.9 886.1,2061.0 887.3,2061.0 888.6,2061.0 889.9,2061.1 891.2,2061.1 892.4,2061.1 893.7,2061.1 895.0,2061.1 896.3,2061.0 897.5,2061.0 898.8,2061.1 900.1,2061.1 901.4,2061.0 902.6,2060.5 903.9,2060.8 905.2,2061.1 906.5,2061.0 907.7,2060.7 909.0,2060.5 910.3,2060.4 911.6,2061.0 912.8,2061.1 914.1,2061.1 915.4,2061.1 916.7,2061.1 917.9,2061.1 919.2,2061.1 920.5,2061.1 921.8,2060.8 923.0,2060.6 924.3,2060.7 925.6,2060.8 926.9,2061.1 928.1,2061.1 929.4,2060.7 930.7,2060.8 932.0,2061.1 933.2,2061.1 934.5,2061.0 935.8,2061.0 937.1,2061.1 938.3,2061.1 939.6,2061.1 940.9,2061.1 942.2,2061.1 943.5,2061.0 944.7,2060.8 946.0,2061.0 947.3,2061.0 948.6,2061.0 949.8,2061.0 951.1,2061.1 952.4,2061.1 953.7,2061.1 954.9,2061.1 956.2,2061.0 957.5,2060.7 958.8,2060.8 960.0,2061.1 961.3,2061.1 962.6,2061.1 963.9,2060.6 965.1,2060.7 966.4,2061.0 967.7,2061.1 969.0,2061.0 970.2,2060.7 971.5,2060.9 972.8,2061.1 974.1,2061.1 975.3,2061.0 976.6,2061.0 977.9,2061.1 979.2,2061.1 980.4,2060.8 981.7,2060.4 983.0,2060.5 984.3,2060.9 985.5,2061.1 986.8,2061.1 988.1,2061.1 989.4,2061.1 990.6,2061.1 991.9,2061.1 993.2,2061.1 994.5,2061.1 995.7,2061.0 997.0,2060.9 998.3,2061.0 999.6,2061.1 1000.8,2061.1 1002.1,2061.1 1003.4,2061.1 1004.7,2060.8 1005.9,2060.9 1007.2,2061.1 1008.5,2061.1 1009.8,2061.0 1011.0,2060.8 1012.3,2061.1 1013.6,2061.1 1014.9,2061.1 1016.1,2060.9 1017.4,2060.9 1018.7,2061.1 1020.0,2060.9 1021.2,2060.6 1022.5,2060.9 1023.8,2061.1 1025.1,2061.1 1026.3,2061.1 1027.6,2060.6 1028.9,2060.5 1030.2,2060.7 1031.4,2061.0 1032.7,2061.1 1034.0,2061.1 1035.3,2061.1 1036.5,2061.1 1037.8,2061.1 1039.1,2061.1 1040.4,2060.9 1041.6,2060.7 1042.9,2060.5 1044.2,2060.3 1045.5,2060.7 1046.7,2061.1 1048.0,2061.0 1049.3,2061.1 1050.6,2061.1 1051.8,2061.1 1053.1,2061.1 1054.4,2061.1 1055.7,2061.1 1056.9,2061.1 1058.2,2061.1 1059.5,2060.9 1060.8,2060.7 1062.0,2060.8 1063.3,2060.7 1064.6,2060.5 1065.9,2060.5 1067.1,2060.7 1068.4,2061.1 1069.7,2061.0 1071.0,2060.9 1072.2,2060.9 1073.5,2060.8 1074.8,2060.4 1076.1,2060.4 1077.3,2060.8 1078.6,2060.9 1079.9,2060.9 1081.2,2060.8 1082.4,2060.9 1083.7,2061.1 1085.0,2061.1 1086.3,2060.9 1087.5,2060.9 1088.8,2061.1 1090.1,2061.1 1091.4,2061.1 1092.6,2061.1 1093.9,2061.1 1095.2,2061.1 1096.5,2061.0 1097.7,2061.1 1099.0,2060.8 1100.3,2060.7 1101.6,2061.0 1102.8,2061.1 1104.1,2061.1 1105.4,2061.1 1106.7,2061.1 1107.9,2061.1 1109.2,2061.1 1110.5,2061.1 1111.8,2061.1 1113.0,2061.1 1114.3,2061.0 1115.6,2060.8 1116.9,2060.8 1118.1,2061.0 1119.4,2061.0 1120.7,2061.1 1122.0,2061.1 1123.2,2060.9 1124.5,2060.9 1125.8,2061.0 1127.1,2060.7 1128.3,2060.9 1129.6,2061.1 1130.9,2061.1 1132.2,2061.0 1133.4,2061.1 1134.7,2061.1 1136.0,2061.1 1137.3,2061.1 1138.5,2061.1 1139.8,2060.9 1141.1,2060.7 1142.4,2061.1 1143.6,2061.1 1144.9,2061.1 1146.2,2061.1 1147.5,2061.1 1148.7,2060.9 1150.0,2060.9 1151.3,2060.8 1152.6,2060.7 1153.8,2060.9 1155.1,2061.1 1156.4,2061.1 1157.7,2061.1 1158.9,2061.1 1160.2,2061.1 1161.5,2061.1 1162.8,2061.1 1164.0,2061.1 1165.3,2061.1 1166.6,2061.1 1167.9,2060.6 1169.1,2060.4 1170.4,2060.6 1171.7,2060.9 1173.0,2061.0 1174.2,2061.0 1175.5,2060.9 1176.8,2060.8 1178.1,2060.8 1179.3,2061.0 1180.6,2061.0 1181.9,2060.7 1183.2,2060.7 1184.4,2061.0 1185.7,2061.1 1187.0,2061.1 1188.3,2061.1 1189.5,2061.1 1190.8,2061.1 1192.1,2061.0 1193.4,2061.0 1194.6,2061.1 1195.9,2061.1 1197.2,2061.0 1198.5,2061.0 1199.7,2061.1 1201.0,2061.0 1202.3,2060.9 1203.6,2061.0 1204.8,2061.1 1206.1,2061.1 1207.4,2061.1 1208.7,2061.1 1209.9,2060.7 1211.2,2060.8 1212.5,2061.1 1213.8,2061.1 1215.0,2061.1 1216.3,2061.1 1217.6,2061.1 1218.9,2061.1 1220.1,2061.1 1221.4,2061.1 1222.7,2061.1 1224.0,2061.1 1225.2,2061.1 1226.5,2061.0 1227.8,2061.1 1229.1,2061.1 1230.3,2061.1 1231.6,2061.1 1232.9,2061.0 1234.2,2060.9 1235.4,2061.1 1236.7,2061.0 1238.0,2060.9 1239.3,2060.9 1240.5,2060.9 1241.8,2061.0 1243.1,2061.1 1244.4,2060.7 1245.6,2060.4 1246.9,2060.6 1248.2,2060.9 1249.5,2061.1 1250.7,2061.1 1252.0,2061.1 1253.3,2061.1 1254.6,2061.1 1255.8,2061.1 1257.1,2061.1 1258.4,2061.1 1259.7,2061.1 1261.0,2061.1 1262.2,2061.1 1263.5,2061.1 1264.8,2060.9 1266.1,2060.7 1267.3,2060.6 1268.6,2060.8 1269.9,2061.0 1271.2,2061.1 1272.4,2061.1 1273.7,2061.1 1275.0,2061.1 1276.3,2061.1 1277.5,2061.1 1278.8,2061.1 1280.1,2061.1 1281.4,2061.1 1282.6,2061.1 1283.9,2061.1 1285.2,2060.9 1286.5,2060.7 1287.7,2060.9 1289.0,2061.1 1290.3,2061.1 1291.6,2060.8 1292.8,2060.7 1294.1,2061.1 1295.4,2060.9 1296.7,2060.5 1297.9,2060.2 1299.2,2060.4 1300.5,2060.8 1301.8,2061.1 1303.0,2061.1 1304.3,2061.1 1305.6,2061.1 1306.9,2061.0 1308.1,2061.0 1309.4,2061.1 1310.7,2061.1 1312.0,2061.1 1313.2,2061.1 1314.5,2061.1 1315.8,2061.1 1317.1,2061.1 1318.3,2060.8 1319.6,2060.7 1320.9,2060.8 1322.2,2060.3 1323.4,2060.1 1324.7,2060.5 1326.0,2060.4 1327.3,2060.7 1328.5,2061.1 1329.8,2061.1 1331.1,2060.8 1332.4,2060.8 1333.6,2060.8 1334.9,2060.7 1336.2,2060.7 1337.5,2061.1 1338.7,2061.1 1340.0,2061.1 1341.3,2061.1 1342.6,2061.1 1343.8,2061.1 1345.1,2061.1 1346.4,2061.1 1347.7,2061.1 1348.9,2061.0 1350.2,2060.9 1351.5,2060.8 1352.8,2061.0 1354.0,2061.1 1355.3,2061.1 1356.6,2061.1 1357.9,2061.1 1359.1,2061.0 1360.4,2061.0 1361.7,2060.9 1363.0,2060.6 1364.2,2060.7 1365.5,2061.1 1366.8,2061.1 1368.1,2061.1 1369.3,2060.9 1370.6,2060.9 1371.9,2060.9 1373.2,2060.7 1374.4,2060.8 1375.7,2060.8 1377.0,2060.6 1378.3,2061.1 1379.5,2061.1 1380.8,2061.1 1382.1,2060.9 1383.4,2060.9 1384.6,2061.1 1385.9,2061.1 1387.2,2061.1 1388.5,2061.1 1389.7,2061.0 1391.0,2061.0 1392.3,2061.0 1393.6,2061.0 1394.8,2061.1 1396.1,2061.0 1397.4,2060.8 1398.7,2061.0 1399.9,2061.1 1401.2,2061.0 1402.5,2060.7 1403.8,2061.0 1405.0,2061.1 1406.3,2061.1 1407.6,2061.1 1408.9,2060.8 1410.1,2060.7 1411.4,2060.7 1412.7,2060.8 1414.0,2060.9 1415.2,2060.8 1416.5,2060.9 1417.8,2061.1 1419.1,2061.1 1420.3,2061.1 1421.6,2061.1 1422.9,2061.1 1424.2,2061.1 1425.4,2061.1 1426.7,2061.1 1428.0,2061.1 1429.3,2061.1 1430.5,2061.1 1431.8,2060.7 1433.1,2060.8 1434.4,2061.1 1435.6,2061.1 1436.9,2061.1 1438.2,2061.1 1439.5,2060.8 1440.7,2060.7 1442.0,2060.9 1443.3,2061.0 1444.6,2061.0 1445.8,2061.0 1447.1,2060.8 1448.4,2060.7 1449.7,2060.9 1450.9,2060.7 1452.2,2060.4 1453.5,2060.5 1454.8,2060.2 1456.0,2059.6 1457.3,2059.5 1458.6,2059.8 1459.9,2059.7 1461.1,2059.2 1462.4,2058.5 1463.7,2058.2 1465.0,2058.1 1466.2,2058.2 1467.5,2058.2 1468.8,2058.4 1470.1,2059.1 1471.3,2059.4 1472.6,2059.2 1473.9,2059.5 1475.2,2059.8 1476.4,2060.1 1477.7,2060.3 1479.0,2060.2 1480.3,2060.2 1481.5,2060.5 1482.8,2060.7 1484.1,2061.0 1485.4,2061.1 1486.6,2061.0 1487.9,2060.9 1489.2,2060.7 1490.5,2060.5 1491.7,2060.8 1493.0,2061.1 1494.3,2060.9 1495.6,2061.1 1496.8,2061.1 1498.1,2061.0 1499.4,2060.7 1500.7,2060.7 1501.9,2060.8 1503.2,2060.6 1504.5,2060.5 1505.8,2060.5 1507.0,2060.6 1508.3,2060.8 1509.6,2061.0 1510.9,2061.1 1512.1,2061.1 1513.4,2061.1 1514.7,2061.1 1516.0,2061.1 1517.2,2061.1 1518.5,2061.1 1519.8,2060.9 1521.1,2061.0 1522.3,2060.9 1523.6,2060.5 1524.9,2060.6 1526.2,2060.7 1527.4,2060.8 1528.7,2060.7 1530.0,2060.7 1531.3,2060.9 1532.5,2061.0 1533.8,2061.1 1535.1,2061.1 1536.4,2061.0 1537.6,2061.1 1538.9,2061.1 1540.2,2061.1 1541.5,2060.9 1542.7,2061.1 1544.0,2061.1 1545.3,2061.1 1546.6,2061.1 1547.8,2061.1 1549.1,2061.1 1550.4,2061.1 1551.7,2061.0 1552.9,2061.0 1554.2,2061.1 1555.5,2061.1 1556.8,2061.1 1558.0,2060.8 1559.3,2060.8 1560.6,2061.1 1561.9,2061.1 1563.1,2061.1 1564.4,2061.1 1565.7,2061.1 1567.0,2061.1 1568.2,2061.1 1569.5,2061.0 1570.8,2061.1 1572.1,2061.1 1573.3,2061.1 1574.6,2061.1 1575.9,2060.9 1577.2,2060.8 1578.5,2061.1 1579.7,2061.1 1581.0,2061.1 1582.3,2061.1 1583.6,2060.8 1584.8,2060.7 1586.1,2060.9 1587.4,2061.1 1588.7,2061.1 1589.9,2061.1 1591.2,2061.1 1592.5,2060.9 1593.8,2060.8 1595.0,2061.1 1596.3,2061.1 1597.6,2061.1 1598.9,2061.1 1600.1,2061.1 1601.4,2061.1 1602.7,2061.1 1604.0,2061.1 1605.2,2060.7 1606.5,2060.8 1607.8,2061.1 1609.1,2061.1 1610.3,2061.1 1611.6,2061.1 1612.9,2061.1 1614.2,2061.1 1615.4,2061.1 1616.7,2060.8 1618.0,2060.6 1619.3,2060.5 1620.5,2060.6 1621.8,2060.9 1623.1,2061.1 1624.4,2061.1 1625.6,2061.0 1626.9,2061.0 1628.2,2061.1 1629.5,2061.1 1630.7,2060.8 1632.0,2060.8 1633.3,2061.1 1634.6,2061.1 1635.8,2061.1 1637.1,2061.1 1638.4,2061.1 1639.7,2061.1 1640.9,2060.8 1642.2,2060.6 1643.5,2061.0 1644.8,2061.0 1646.0,2061.0 1647.3,2061.0 1648.6,2061.0 1649.9,2061.0 1651.1,2060.8 1652.4,2060.9 1653.7,2061.1 1655.0,2061.1 1656.2,2061.1 1657.5,2061.1 1658.8,2060.9 1660.1,2061.1 1661.3,2061.1 1662.6,2061.1 1663.9,2061.1 1665.2,2061.1 1666.4,2061.1 1667.7,2061.1 1669.0,2061.1 1670.3,2061.0 1671.5,2061.1 1672.8,2061.1 1674.1,2061.1 1675.4,2061.1 1676.6,2061.1 1677.9,2061.1 1679.2,2061.1 1680.5,2061.1 1681.7,2060.7 1683.0,2060.4 1684.3,2060.5 1685.6,2060.9 1686.8,2061.0 1688.1,2060.9 1689.4,2061.0 1690.7,2061.1 1691.9,2061.1 1693.2,2061.1 1694.5,2061.1 1695.8,2061.1 1697.0,2060.8 1698.3,2061.1 1699.6,2061.1 1700.9,2061.1 1702.1,2060.9 1703.4,2060.9 1704.7,2060.8 1706.0,2061.1 1707.2,2061.1 1708.5,2061.1 1709.8,2061.1 1711.1,2061.1 1712.3,2061.1 1713.6,2061.1 1714.9,2061.1 1716.2,2061.1 1717.4,2061.1 1718.7,2061.1 1720.0,2061.1 1721.3,2061.1 1722.5,2061.1 1723.8,2061.1 1725.1,2061.1 1726.4,2061.1 1727.6,2061.1 1728.9,2061.1 1730.2,2061.1 1731.5,2061.1 1732.7,2061.0 1734.0,2060.9 1735.3,2060.9 1736.6,2061.0 1737.8,2061.1 1739.1,2061.1 1740.4,2061.0 1741.7,2061.1 1742.9,2061.1 1744.2,2061.1 1745.5,2061.1 1746.8,2061.1 1748.0,2061.1 1749.3,2061.1 1750.6,2061.1 1751.9,2061.1 1753.1,2060.9 1754.4,2060.8 1755.7,2061.0 1757.0,2061.1 1758.2,2061.1 1759.5,2061.1 1760.8,2061.1 1762.1,2061.1 1763.3,2061.0 1764.6,2060.9 1765.9,2060.9 1767.2,2061.0 1768.4,2061.0 1769.7,2060.7 1771.0,2060.6 1772.3,2061.0 1773.5,2061.1 1774.8,2061.1 1776.1,2061.0 1777.4,2061.0 1778.6,2061.1 1779.9,2061.1 1781.2,2061.1 1782.5,2061.1 1783.7,2060.9 1785.0,2060.7 1786.3,2060.8 1787.6,2061.1 1788.8,2060.8 1790.1,2060.7 1791.4,2060.9 1792.7,2061.0 1793.9,2061.1 1795.2,2061.1 1796.5,2061.1 1797.8,2061.1 1799.0,2061.1 1800.3,2061.1 1801.6,2061.1 1802.9,2061.1 1804.1,2061.1 1805.4,2061.1 1806.7,2061.1 1808.0,2061.1 1809.2,2061.0 1810.5,2060.9 1811.8,2060.9 1813.1,2061.1 1814.3,2061.1 1815.6,2061.1 1816.9,2061.1 1818.2,2061.1 1819.4,2060.9 1820.7,2060.8 1822.0,2061.1 1823.3,2061.1 1824.5,2061.1 1825.8,2060.7 1827.1,2060.8 1828.4,2061.1 1829.6,2061.1 1830.9,2061.1 1832.2,2061.1 1833.5,2061.1 1834.7,2061.1 1836.0,2060.9 1837.3,2061.0 1838.6,2061.1 1839.8,2061.1 1841.1,2061.1 1842.4,2061.1 1843.7,2061.1 1844.9,2061.1 1846.2,2061.1 1847.5,2060.4 1848.8,2060.4 1850.0,2060.7 1851.3,2060.9 1852.6,2061.1 1853.9,2061.0 1855.1,2060.7 1856.4,2061.0 1857.7,2061.1 1859.0,2061.0 1860.2,2060.9 1861.5,2060.9 1862.8,2061.1 1864.1,2061.1 1865.3,2061.1 1866.6,2060.7 1867.9,2060.7 1869.2,2060.9 1870.4,2061.0 1871.7,2061.1 1873.0,2061.1 1874.3,2061.1 1875.5,2061.1 1876.8,2061.1 1878.1,2061.0 1879.4,2061.1 1880.6,2061.1 1881.9,2060.9 1883.2,2061.0 1884.5,2061.1 1885.7,2061.1 1887.0,2061.1 1888.3,2060.9 1889.6,2060.9 1890.8,2061.1 1892.1,2061.1 1893.4,2061.1 1894.7,2060.8 1896.0,2060.6 1897.2,2060.9 1898.5,2061.1 1899.8,2061.1 1901.1,2060.9 1902.3,2060.6 1903.6,2061.1 1904.9,2061.1 1906.2,2061.1 1907.4,2061.1 1908.7,2061.1 1910.0,2061.1 1911.3,2061.1 1912.5,2061.1 1913.8,2061.1 1915.1,2061.1 1916.4,2060.7 1917.6,2060.5 1918.9,2060.7 1920.2,2061.0 1921.5,2061.0 1922.7,2060.5 1924.0,2060.3 1925.3,2060.8 1926.6,2061.1 1927.8,2060.9 1929.1,2060.8 1930.4,2061.0 1931.7,2061.0 1932.9,2061.1 1934.2,2061.1 1935.5,2061.0 1936.8,2060.8 1938.0,2060.6 1939.3,2060.8 1940.6,2061.1 1941.9,2061.1 1943.1,2060.8 1944.4,2060.8 1945.7,2060.8 1947.0,2061.0 1948.2,2061.1 1949.5,2061.1 1950.8,2061.1 1952.1,2061.1 1953.3,2061.1 1954.6,2061.1 1955.9,2060.9 1957.2,2060.9 1958.4,2060.9" stroke="#e08e91" stroke-width="9.4"/>
<line x1="305.3" y1="2066.6" x2="1958.4" y2="2066.6" stroke="#7f7f7f" stroke-width="1.8"/></g>
<line x1="1535.6" y1="1249.6" x2="1535.6" y2="1892.8" stroke="#000" stroke-width="4.6"/><path d="M1518.1 1879.8L1553.1 1879.8L1535.6 1912.8Z" fill="#000"/>
<text x="1576" y="1266.7" class="sf" font-size="71">a</text>
<text x="1575" y="1883" class="sf" font-size="69">h</text>
<text x="1729.6" y="1594" class="sf" font-size="88" textLength="94.8" lengthAdjust="spacingAndGlyphs">(b)</text>
<text x="904" y="2254.5" class="ax" font-size="49.5" textLength="459" lengthAdjust="spacingAndGlyphs" xml:space="preserve">Raman  Shift (cm<tspan dy="-17" font-size="32">-1</tspan><tspan dy="17">)</tspan></text>
<text transform="translate(93.8 1846) rotate(-90)" class="ax" font-size="53.5" textLength="402" lengthAdjust="spacingAndGlyphs" xml:space="preserve">Raman  intensity</text>
</svg></body></html>
